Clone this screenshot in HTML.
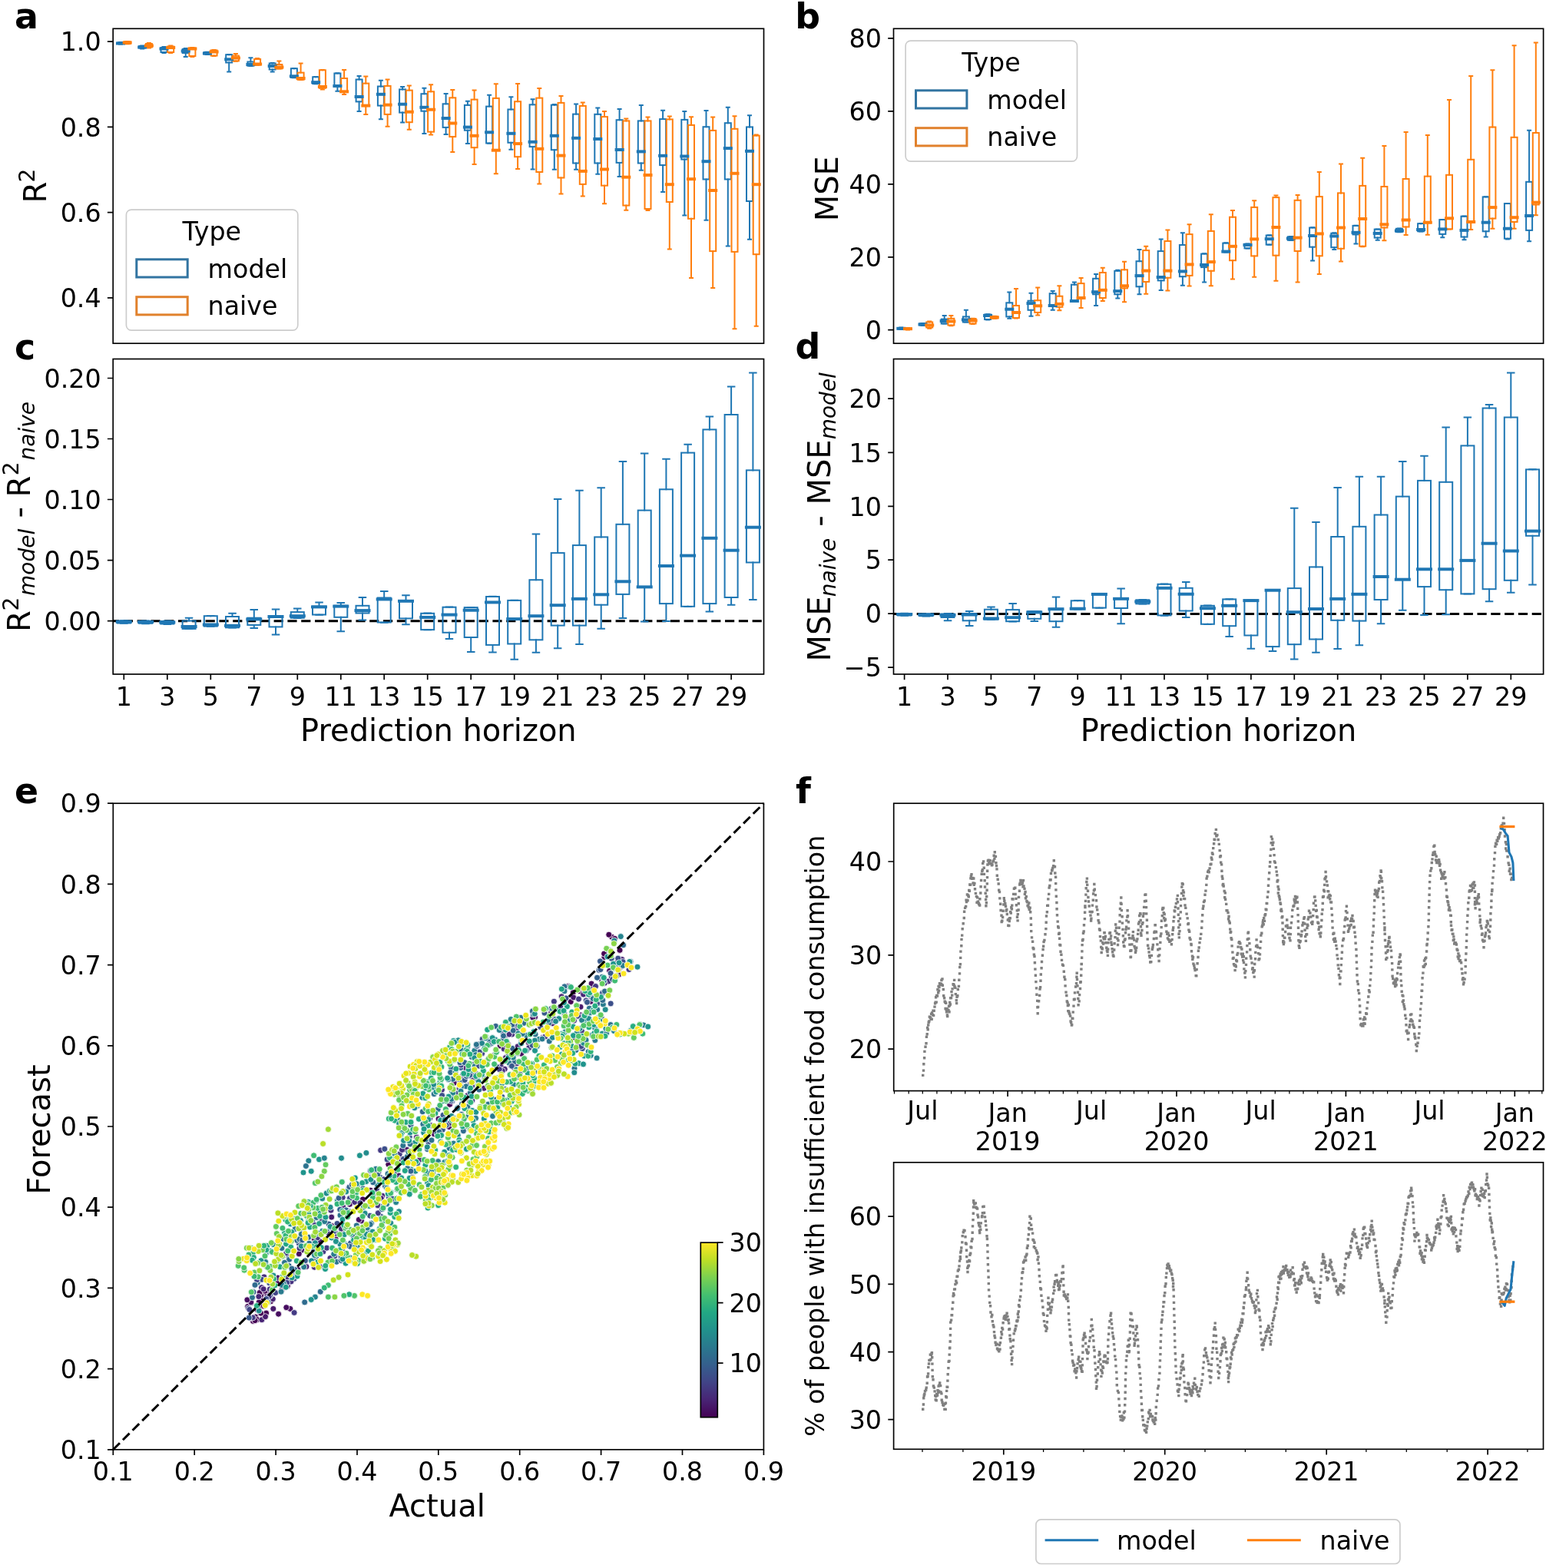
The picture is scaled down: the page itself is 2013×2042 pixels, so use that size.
<!DOCTYPE html>
<html><head><meta charset="utf-8"><title>Figure</title><style>html,body{margin:0;padding:0;background:#fff;}svg{display:block;}</style></head><body>
<svg xmlns="http://www.w3.org/2000/svg" width="2013" height="2042" viewBox="0 0 2013 2042" font-family="'DejaVu Sans', 'Liberation Sans', sans-serif">
<rect width="2013" height="2042" fill="#fff"/>
<path d="M157 55.5V55M157 57V57.5M155 55H159M155 57.5H159" stroke="#1f77b4" stroke-width="2.0" stroke-linecap="square"/>
<rect x="153" y="55.5" width="8" height="1.5" fill="none" stroke="#1f77b4" stroke-width="2.0"/>
<path d="M165.7 54.3V54M165.7 57V57.2M163.7 54H167.7M163.7 57.2H167.7" stroke="#ff7f0e" stroke-width="2.0" stroke-linecap="square"/>
<rect x="161.7" y="54.3" width="8" height="2.7" fill="none" stroke="#ff7f0e" stroke-width="2.0"/>
<path d="M185.2 60V59.5M185.2 62.5V63.5M183.2 59.5H187.2M183.2 63.5H187.2" stroke="#1f77b4" stroke-width="2.0" stroke-linecap="square"/>
<rect x="181.2" y="60" width="8" height="2.5" fill="none" stroke="#1f77b4" stroke-width="2.0"/>
<path d="M193.9 57V56M193.9 61.5V62.5M191.9 56H195.9M191.9 62.5H195.9" stroke="#ff7f0e" stroke-width="2.0" stroke-linecap="square"/>
<rect x="189.9" y="57" width="8" height="4.5" fill="none" stroke="#ff7f0e" stroke-width="2.0"/>
<path d="M213.5 62V61M213.5 68V69M211.5 61H215.5M211.5 69H215.5" stroke="#1f77b4" stroke-width="2.0" stroke-linecap="square"/>
<rect x="209.5" y="62" width="8" height="6" fill="none" stroke="#1f77b4" stroke-width="2.0"/>
<path d="M222.2 60.5V59.5M222.2 68V69M220.2 59.5H224.2M220.2 69H224.2" stroke="#ff7f0e" stroke-width="2.0" stroke-linecap="square"/>
<rect x="218.2" y="60.5" width="8" height="7.5" fill="none" stroke="#ff7f0e" stroke-width="2.0"/>
<path d="M241.7 64V63M241.7 69V74M239.7 63H243.7M239.7 74H243.7" stroke="#1f77b4" stroke-width="2.0" stroke-linecap="square"/>
<rect x="237.7" y="64" width="8" height="5" fill="none" stroke="#1f77b4" stroke-width="2.0"/>
<path d="M250.4 62.5V62M250.4 73V74M248.4 62H252.4M248.4 74H252.4" stroke="#ff7f0e" stroke-width="2.0" stroke-linecap="square"/>
<rect x="246.4" y="62.5" width="8" height="10.5" fill="none" stroke="#ff7f0e" stroke-width="2.0"/>
<path d="M269.9 68V67.8M269.9 70.5V71M267.9 67.8H271.9M267.9 71H271.9" stroke="#1f77b4" stroke-width="2.0" stroke-linecap="square"/>
<rect x="265.9" y="68" width="8" height="2.5" fill="none" stroke="#1f77b4" stroke-width="2.0"/>
<path d="M278.6 65.5V65M278.6 72.5V73M276.6 65H280.6M276.6 73H280.6" stroke="#ff7f0e" stroke-width="2.0" stroke-linecap="square"/>
<rect x="274.6" y="65.5" width="8" height="7" fill="none" stroke="#ff7f0e" stroke-width="2.0"/>
<path d="M298.2 71.2V71M298.2 81.5V93.4M296.2 71H300.2M296.2 93.4H300.2" stroke="#1f77b4" stroke-width="2.0" stroke-linecap="square"/>
<rect x="294.2" y="71.2" width="8" height="10.3" fill="none" stroke="#1f77b4" stroke-width="2.0"/>
<path d="M306.9 72.6V70M306.9 79.4V79.8M304.9 70H308.9M304.9 79.8H308.9" stroke="#ff7f0e" stroke-width="2.0" stroke-linecap="square"/>
<rect x="302.9" y="72.6" width="8" height="6.8" fill="none" stroke="#ff7f0e" stroke-width="2.0"/>
<path d="M326.4 80.5V75.2M326.4 85.7V86M324.4 75.2H328.4M324.4 86H328.4" stroke="#1f77b4" stroke-width="2.0" stroke-linecap="square"/>
<rect x="322.4" y="80.5" width="8" height="5.2" fill="none" stroke="#1f77b4" stroke-width="2.0"/>
<path d="M335.1 77V76M335.1 84.5V84.8M333.1 76H337.1M333.1 84.8H337.1" stroke="#ff7f0e" stroke-width="2.0" stroke-linecap="square"/>
<rect x="331.1" y="77" width="8" height="7.5" fill="none" stroke="#ff7f0e" stroke-width="2.0"/>
<path d="M354.7 82.5V82M354.7 90.5V93.6M352.7 82H356.7M352.7 93.6H356.7" stroke="#1f77b4" stroke-width="2.0" stroke-linecap="square"/>
<rect x="350.7" y="82.5" width="8" height="8" fill="none" stroke="#1f77b4" stroke-width="2.0"/>
<path d="M363.4 84V79.4M363.4 89.4V89.6M361.4 79.4H365.4M361.4 89.6H365.4" stroke="#ff7f0e" stroke-width="2.0" stroke-linecap="square"/>
<rect x="359.4" y="84" width="8" height="5.4" fill="none" stroke="#ff7f0e" stroke-width="2.0"/>
<path d="M382.9 89.2V88.9M382.9 101V101.2M380.9 88.9H384.9M380.9 101.2H384.9" stroke="#1f77b4" stroke-width="2.0" stroke-linecap="square"/>
<rect x="378.9" y="89.2" width="8" height="11.8" fill="none" stroke="#1f77b4" stroke-width="2.0"/>
<path d="M391.6 94.6V82.6M391.6 103.8V104M389.6 82.6H393.6M389.6 104H393.6" stroke="#ff7f0e" stroke-width="2.0" stroke-linecap="square"/>
<rect x="387.6" y="94.6" width="8" height="9.2" fill="none" stroke="#ff7f0e" stroke-width="2.0"/>
<path d="M411.2 100.2V99.9M411.2 109V109.3M409.2 99.9H413.2M409.2 109.3H413.2" stroke="#1f77b4" stroke-width="2.0" stroke-linecap="square"/>
<rect x="407.2" y="100.2" width="8" height="8.8" fill="none" stroke="#1f77b4" stroke-width="2.0"/>
<path d="M419.9 91.3V91M419.9 114.8V116.5M417.9 91H421.9M417.9 116.5H421.9" stroke="#ff7f0e" stroke-width="2.0" stroke-linecap="square"/>
<rect x="415.9" y="91.3" width="8" height="23.5" fill="none" stroke="#ff7f0e" stroke-width="2.0"/>
<path d="M439.4 95.5V95.2M439.4 113V118.8M437.4 95.2H441.4M437.4 118.8H441.4" stroke="#1f77b4" stroke-width="2.0" stroke-linecap="square"/>
<rect x="435.4" y="95.5" width="8" height="17.5" fill="none" stroke="#1f77b4" stroke-width="2.0"/>
<path d="M448.1 102V91M448.1 120V123M446.1 91H450.1M446.1 123H450.1" stroke="#ff7f0e" stroke-width="2.0" stroke-linecap="square"/>
<rect x="444.1" y="102" width="8" height="18" fill="none" stroke="#ff7f0e" stroke-width="2.0"/>
<path d="M467.6 103.5V99M467.6 132.4V145M465.6 99H469.6M465.6 145H469.6" stroke="#1f77b4" stroke-width="2.0" stroke-linecap="square"/>
<rect x="463.6" y="103.5" width="8" height="28.9" fill="none" stroke="#1f77b4" stroke-width="2.0"/>
<path d="M476.3 108.6V99.6M476.3 138V148.9M474.3 99.6H478.3M474.3 148.9H478.3" stroke="#ff7f0e" stroke-width="2.0" stroke-linecap="square"/>
<rect x="472.3" y="108.6" width="8" height="29.4" fill="none" stroke="#ff7f0e" stroke-width="2.0"/>
<path d="M495.9 112.5V104.8M495.9 137.6V155.3M493.9 104.8H497.9M493.9 155.3H497.9" stroke="#1f77b4" stroke-width="2.0" stroke-linecap="square"/>
<rect x="491.9" y="112.5" width="8" height="25.1" fill="none" stroke="#1f77b4" stroke-width="2.0"/>
<path d="M504.6 111.9V103.5M504.6 148.9V164.8M502.6 103.5H506.6M502.6 164.8H506.6" stroke="#ff7f0e" stroke-width="2.0" stroke-linecap="square"/>
<rect x="500.6" y="111.9" width="8" height="37" fill="none" stroke="#ff7f0e" stroke-width="2.0"/>
<path d="M524.1 116.4V113.1M524.1 146.6V159.4M522.1 113.1H526.1M522.1 159.4H526.1" stroke="#1f77b4" stroke-width="2.0" stroke-linecap="square"/>
<rect x="520.1" y="116.4" width="8" height="30.2" fill="none" stroke="#1f77b4" stroke-width="2.0"/>
<path d="M532.8 117.6V111.6M532.8 159.2V168.7M530.8 111.6H534.8M530.8 168.7H534.8" stroke="#ff7f0e" stroke-width="2.0" stroke-linecap="square"/>
<rect x="528.8" y="117.6" width="8" height="41.6" fill="none" stroke="#ff7f0e" stroke-width="2.0"/>
<path d="M552.4 122.2V114.7M552.4 144.7V174M550.4 114.7H554.4M550.4 174H554.4" stroke="#1f77b4" stroke-width="2.0" stroke-linecap="square"/>
<rect x="548.4" y="122.2" width="8" height="22.5" fill="none" stroke="#1f77b4" stroke-width="2.0"/>
<path d="M561.1 119.3V110.3M561.1 171.7V175.5M559.1 110.3H563.1M559.1 175.5H563.1" stroke="#ff7f0e" stroke-width="2.0" stroke-linecap="square"/>
<rect x="557.1" y="119.3" width="8" height="52.4" fill="none" stroke="#ff7f0e" stroke-width="2.0"/>
<path d="M580.6 135.3V121.9M580.6 165.9V174.9M578.6 121.9H582.6M578.6 174.9H582.6" stroke="#1f77b4" stroke-width="2.0" stroke-linecap="square"/>
<rect x="576.6" y="135.3" width="8" height="30.6" fill="none" stroke="#1f77b4" stroke-width="2.0"/>
<path d="M589.3 127.3V117M589.3 178.1V198M587.3 117H591.3M587.3 198H591.3" stroke="#ff7f0e" stroke-width="2.0" stroke-linecap="square"/>
<rect x="585.3" y="127.3" width="8" height="50.8" fill="none" stroke="#ff7f0e" stroke-width="2.0"/>
<path d="M608.9 136.9V131.8M608.9 169.7V187.1M606.9 131.8H610.9M606.9 187.1H610.9" stroke="#1f77b4" stroke-width="2.0" stroke-linecap="square"/>
<rect x="604.9" y="136.9" width="8" height="32.8" fill="none" stroke="#1f77b4" stroke-width="2.0"/>
<path d="M617.6 129.6V117.6M617.6 192.2V214.1M615.6 117.6H619.6M615.6 214.1H619.6" stroke="#ff7f0e" stroke-width="2.0" stroke-linecap="square"/>
<rect x="613.6" y="129.6" width="8" height="62.6" fill="none" stroke="#ff7f0e" stroke-width="2.0"/>
<path d="M637.1 138.6V123.7M637.1 186.5V186.8M635.1 123.7H639.1M635.1 186.8H639.1" stroke="#1f77b4" stroke-width="2.0" stroke-linecap="square"/>
<rect x="633.1" y="138.6" width="8" height="47.9" fill="none" stroke="#1f77b4" stroke-width="2.0"/>
<path d="M645.8 127.9V109.3M645.8 196V226.3M643.8 109.3H647.8M643.8 226.3H647.8" stroke="#ff7f0e" stroke-width="2.0" stroke-linecap="square"/>
<rect x="641.8" y="127.9" width="8" height="68.1" fill="none" stroke="#ff7f0e" stroke-width="2.0"/>
<path d="M665.4 142.5V126.3M665.4 185.8V194.8M663.4 126.3H667.4M663.4 194.8H667.4" stroke="#1f77b4" stroke-width="2.0" stroke-linecap="square"/>
<rect x="661.4" y="142.5" width="8" height="43.3" fill="none" stroke="#1f77b4" stroke-width="2.0"/>
<path d="M674.1 132.2V109M674.1 204.2V220.1M672.1 109H676.1M672.1 220.1H676.1" stroke="#ff7f0e" stroke-width="2.0" stroke-linecap="square"/>
<rect x="670.1" y="132.2" width="8" height="72" fill="none" stroke="#ff7f0e" stroke-width="2.0"/>
<path d="M693.6 136.3V129.2M693.6 191.1V220.5M691.6 129.2H695.6M691.6 220.5H695.6" stroke="#1f77b4" stroke-width="2.0" stroke-linecap="square"/>
<rect x="689.6" y="136.3" width="8" height="54.8" fill="none" stroke="#1f77b4" stroke-width="2.0"/>
<path d="M702.3 127.6V114.9M702.3 224V239.5M700.3 114.9H704.3M700.3 239.5H704.3" stroke="#ff7f0e" stroke-width="2.0" stroke-linecap="square"/>
<rect x="698.3" y="127.6" width="8" height="96.4" fill="none" stroke="#ff7f0e" stroke-width="2.0"/>
<path d="M721.8 136.7V136.1M721.8 195.2V220.8M719.8 136.1H723.8M719.8 220.8H723.8" stroke="#1f77b4" stroke-width="2.0" stroke-linecap="square"/>
<rect x="717.8" y="136.7" width="8" height="58.5" fill="none" stroke="#1f77b4" stroke-width="2.0"/>
<path d="M730.5 133.9V125M730.5 231.5V252.4M728.5 125H732.5M728.5 252.4H732.5" stroke="#ff7f0e" stroke-width="2.0" stroke-linecap="square"/>
<rect x="726.5" y="133.9" width="8" height="97.6" fill="none" stroke="#ff7f0e" stroke-width="2.0"/>
<path d="M750.1 148.6V135.5M750.1 212.5V220.8M748.1 135.5H752.1M748.1 220.8H752.1" stroke="#1f77b4" stroke-width="2.0" stroke-linecap="square"/>
<rect x="746.1" y="148.6" width="8" height="63.9" fill="none" stroke="#1f77b4" stroke-width="2.0"/>
<path d="M758.8 137.9V133.6M758.8 239.9V255.4M756.8 133.6H760.8M756.8 255.4H760.8" stroke="#ff7f0e" stroke-width="2.0" stroke-linecap="square"/>
<rect x="754.8" y="137.9" width="8" height="102" fill="none" stroke="#ff7f0e" stroke-width="2.0"/>
<path d="M778.3 148.8V140.5M778.3 212.5V226.8M776.3 140.5H780.3M776.3 226.8H780.3" stroke="#1f77b4" stroke-width="2.0" stroke-linecap="square"/>
<rect x="774.3" y="148.8" width="8" height="63.7" fill="none" stroke="#1f77b4" stroke-width="2.0"/>
<path d="M787 152.1V145M787 241.7V265.2M785 145H789M785 265.2H789" stroke="#ff7f0e" stroke-width="2.0" stroke-linecap="square"/>
<rect x="783" y="152.1" width="8" height="89.6" fill="none" stroke="#ff7f0e" stroke-width="2.0"/>
<path d="M806.6 156.2V141.9M806.6 211.9V230M804.6 141.9H808.6M804.6 230H808.6" stroke="#1f77b4" stroke-width="2.0" stroke-linecap="square"/>
<rect x="802.6" y="156.2" width="8" height="55.7" fill="none" stroke="#1f77b4" stroke-width="2.0"/>
<path d="M815.3 157.4V154.5M815.3 267.6V273.8M813.3 154.5H817.3M813.3 273.8H817.3" stroke="#ff7f0e" stroke-width="2.0" stroke-linecap="square"/>
<rect x="811.3" y="157.4" width="8" height="110.2" fill="none" stroke="#ff7f0e" stroke-width="2.0"/>
<path d="M834.8 157.4V136.9M834.8 212.5V221.7M832.8 136.9H836.8M832.8 221.7H836.8" stroke="#1f77b4" stroke-width="2.0" stroke-linecap="square"/>
<rect x="830.8" y="157.4" width="8" height="55.1" fill="none" stroke="#1f77b4" stroke-width="2.0"/>
<path d="M843.5 157.4V152.6M843.5 272V274M841.5 152.6H845.5M841.5 274H845.5" stroke="#ff7f0e" stroke-width="2.0" stroke-linecap="square"/>
<rect x="839.5" y="157.4" width="8" height="114.6" fill="none" stroke="#ff7f0e" stroke-width="2.0"/>
<path d="M863.1 155.1V143.7M863.1 215.1V250.1M861.1 143.7H865.1M861.1 250.1H865.1" stroke="#1f77b4" stroke-width="2.0" stroke-linecap="square"/>
<rect x="859.1" y="155.1" width="8" height="60" fill="none" stroke="#1f77b4" stroke-width="2.0"/>
<path d="M871.8 155.4V151.5M871.8 263V324.6M869.8 151.5H873.8M869.8 324.6H873.8" stroke="#ff7f0e" stroke-width="2.0" stroke-linecap="square"/>
<rect x="867.8" y="155.4" width="8" height="107.6" fill="none" stroke="#ff7f0e" stroke-width="2.0"/>
<path d="M891.3 155.9V145M891.3 207.6V280.6M889.3 145H893.3M889.3 280.6H893.3" stroke="#1f77b4" stroke-width="2.0" stroke-linecap="square"/>
<rect x="887.3" y="155.9" width="8" height="51.7" fill="none" stroke="#1f77b4" stroke-width="2.0"/>
<path d="M900 162.9V152.3M900 284.8V361.9M898 152.3H902M898 361.9H902" stroke="#ff7f0e" stroke-width="2.0" stroke-linecap="square"/>
<rect x="896" y="162.9" width="8" height="121.9" fill="none" stroke="#ff7f0e" stroke-width="2.0"/>
<path d="M919.5 165.2V144M919.5 233.5V286.8M917.5 144H921.5M917.5 286.8H921.5" stroke="#1f77b4" stroke-width="2.0" stroke-linecap="square"/>
<rect x="915.5" y="165.2" width="8" height="68.3" fill="none" stroke="#1f77b4" stroke-width="2.0"/>
<path d="M928.2 169.9V152.6M928.2 327.1V375.1M926.2 152.6H930.2M926.2 375.1H930.2" stroke="#ff7f0e" stroke-width="2.0" stroke-linecap="square"/>
<rect x="924.2" y="169.9" width="8" height="157.2" fill="none" stroke="#ff7f0e" stroke-width="2.0"/>
<path d="M947.8 160.2V139.8M947.8 233.5V320.5M945.8 139.8H949.8M945.8 320.5H949.8" stroke="#1f77b4" stroke-width="2.0" stroke-linecap="square"/>
<rect x="943.8" y="160.2" width="8" height="73.3" fill="none" stroke="#1f77b4" stroke-width="2.0"/>
<path d="M956.5 167.8V151.2M956.5 327.9V428.2M954.5 151.2H958.5M954.5 428.2H958.5" stroke="#ff7f0e" stroke-width="2.0" stroke-linecap="square"/>
<rect x="952.5" y="167.8" width="8" height="160.1" fill="none" stroke="#ff7f0e" stroke-width="2.0"/>
<path d="M976 165.4V150.2M976 262V311.7M974 150.2H978M974 311.7H978" stroke="#1f77b4" stroke-width="2.0" stroke-linecap="square"/>
<rect x="972" y="165.4" width="8" height="96.6" fill="none" stroke="#1f77b4" stroke-width="2.0"/>
<path d="M984.7 176.6V175.5M984.7 331.2V424.8M982.7 175.5H986.7M982.7 424.8H986.7" stroke="#ff7f0e" stroke-width="2.0" stroke-linecap="square"/>
<rect x="980.7" y="176.6" width="8" height="154.6" fill="none" stroke="#ff7f0e" stroke-width="2.0"/>
<path d="M153 56.5H161" stroke="#1f77b4" stroke-width="4.0" stroke-linecap="square"/>
<path d="M161.7 55.5H169.7" stroke="#ff7f0e" stroke-width="4.0" stroke-linecap="square"/>
<path d="M181.2 61.5H189.2" stroke="#1f77b4" stroke-width="4.0" stroke-linecap="square"/>
<path d="M189.9 59.5H197.9" stroke="#ff7f0e" stroke-width="4.0" stroke-linecap="square"/>
<path d="M209.5 63.5H217.5" stroke="#1f77b4" stroke-width="4.0" stroke-linecap="square"/>
<path d="M218.2 62H226.2" stroke="#ff7f0e" stroke-width="4.0" stroke-linecap="square"/>
<path d="M237.7 66.5H245.7" stroke="#1f77b4" stroke-width="4.0" stroke-linecap="square"/>
<path d="M246.4 63.5H254.4" stroke="#ff7f0e" stroke-width="4.0" stroke-linecap="square"/>
<path d="M265.9 69.5H273.9" stroke="#1f77b4" stroke-width="4.0" stroke-linecap="square"/>
<path d="M274.6 67.5H282.6" stroke="#ff7f0e" stroke-width="4.0" stroke-linecap="square"/>
<path d="M294.2 77.3H302.2" stroke="#1f77b4" stroke-width="4.0" stroke-linecap="square"/>
<path d="M302.9 75.5H310.9" stroke="#ff7f0e" stroke-width="4.0" stroke-linecap="square"/>
<path d="M322.4 84H330.4" stroke="#1f77b4" stroke-width="4.0" stroke-linecap="square"/>
<path d="M331.1 83.5H339.1" stroke="#ff7f0e" stroke-width="4.0" stroke-linecap="square"/>
<path d="M350.7 86H358.7" stroke="#1f77b4" stroke-width="4.0" stroke-linecap="square"/>
<path d="M359.4 87.5H367.4" stroke="#ff7f0e" stroke-width="4.0" stroke-linecap="square"/>
<path d="M378.9 99.3H386.9" stroke="#1f77b4" stroke-width="4.0" stroke-linecap="square"/>
<path d="M387.6 102H395.6" stroke="#ff7f0e" stroke-width="4.0" stroke-linecap="square"/>
<path d="M407.2 107.2H415.2" stroke="#1f77b4" stroke-width="4.0" stroke-linecap="square"/>
<path d="M415.9 113H423.9" stroke="#ff7f0e" stroke-width="4.0" stroke-linecap="square"/>
<path d="M435.4 112H443.4" stroke="#1f77b4" stroke-width="4.0" stroke-linecap="square"/>
<path d="M444.1 119.3H452.1" stroke="#ff7f0e" stroke-width="4.0" stroke-linecap="square"/>
<path d="M463.6 126H471.6" stroke="#1f77b4" stroke-width="4.0" stroke-linecap="square"/>
<path d="M472.3 137.6H480.3" stroke="#ff7f0e" stroke-width="4.0" stroke-linecap="square"/>
<path d="M491.9 122.8H499.9" stroke="#1f77b4" stroke-width="4.0" stroke-linecap="square"/>
<path d="M500.6 136.6H508.6" stroke="#ff7f0e" stroke-width="4.0" stroke-linecap="square"/>
<path d="M520.1 135.7H528.1" stroke="#1f77b4" stroke-width="4.0" stroke-linecap="square"/>
<path d="M528.8 145.7H536.8" stroke="#ff7f0e" stroke-width="4.0" stroke-linecap="square"/>
<path d="M548.4 139.8H556.4" stroke="#1f77b4" stroke-width="4.0" stroke-linecap="square"/>
<path d="M557.1 142.7H565.1" stroke="#ff7f0e" stroke-width="4.0" stroke-linecap="square"/>
<path d="M576.6 154H584.6" stroke="#1f77b4" stroke-width="4.0" stroke-linecap="square"/>
<path d="M585.3 160.5H593.3" stroke="#ff7f0e" stroke-width="4.0" stroke-linecap="square"/>
<path d="M604.9 165.6H612.9" stroke="#1f77b4" stroke-width="4.0" stroke-linecap="square"/>
<path d="M613.6 176.8H621.6" stroke="#ff7f0e" stroke-width="4.0" stroke-linecap="square"/>
<path d="M633.1 172.3H641.1" stroke="#1f77b4" stroke-width="4.0" stroke-linecap="square"/>
<path d="M641.8 195.7H649.8" stroke="#ff7f0e" stroke-width="4.0" stroke-linecap="square"/>
<path d="M661.4 173.8H669.4" stroke="#1f77b4" stroke-width="4.0" stroke-linecap="square"/>
<path d="M670.1 187.1H678.1" stroke="#ff7f0e" stroke-width="4.0" stroke-linecap="square"/>
<path d="M689.6 184.8H697.6" stroke="#1f77b4" stroke-width="4.0" stroke-linecap="square"/>
<path d="M698.3 193.8H706.3" stroke="#ff7f0e" stroke-width="4.0" stroke-linecap="square"/>
<path d="M717.8 176.8H725.8" stroke="#1f77b4" stroke-width="4.0" stroke-linecap="square"/>
<path d="M726.5 202.6H734.5" stroke="#ff7f0e" stroke-width="4.0" stroke-linecap="square"/>
<path d="M746.1 179.8H754.1" stroke="#1f77b4" stroke-width="4.0" stroke-linecap="square"/>
<path d="M754.8 222.9H762.8" stroke="#ff7f0e" stroke-width="4.0" stroke-linecap="square"/>
<path d="M774.3 181H782.3" stroke="#1f77b4" stroke-width="4.0" stroke-linecap="square"/>
<path d="M783 220.5H791" stroke="#ff7f0e" stroke-width="4.0" stroke-linecap="square"/>
<path d="M802.6 195H810.6" stroke="#1f77b4" stroke-width="4.0" stroke-linecap="square"/>
<path d="M811.3 230.7H819.3" stroke="#ff7f0e" stroke-width="4.0" stroke-linecap="square"/>
<path d="M830.8 197.4H838.8" stroke="#1f77b4" stroke-width="4.0" stroke-linecap="square"/>
<path d="M839.5 228H847.5" stroke="#ff7f0e" stroke-width="4.0" stroke-linecap="square"/>
<path d="M859.1 202.8H867.1" stroke="#1f77b4" stroke-width="4.0" stroke-linecap="square"/>
<path d="M867.8 240.2H875.8" stroke="#ff7f0e" stroke-width="4.0" stroke-linecap="square"/>
<path d="M887.3 203.5H895.3" stroke="#1f77b4" stroke-width="4.0" stroke-linecap="square"/>
<path d="M896 233.2H904" stroke="#ff7f0e" stroke-width="4.0" stroke-linecap="square"/>
<path d="M915.5 210.2H923.5" stroke="#1f77b4" stroke-width="4.0" stroke-linecap="square"/>
<path d="M924.2 248H932.2" stroke="#ff7f0e" stroke-width="4.0" stroke-linecap="square"/>
<path d="M943.8 193.1H951.8" stroke="#1f77b4" stroke-width="4.0" stroke-linecap="square"/>
<path d="M952.5 225.8H960.5" stroke="#ff7f0e" stroke-width="4.0" stroke-linecap="square"/>
<path d="M972 196.8H980" stroke="#1f77b4" stroke-width="4.0" stroke-linecap="square"/>
<path d="M980.7 240.2H988.7" stroke="#ff7f0e" stroke-width="4.0" stroke-linecap="square"/>
<rect x="164.4" y="273.1" width="223.4" height="157.1" rx="6.6" fill="#fff" fill-opacity="0.8" stroke="#ccc" stroke-width="1.67"/>
<text x="275.8" y="312.5" font-size="33.3" text-anchor="middle">Type</text>
<rect x="177.8" y="337.8" width="66.4" height="23.2" fill="none" stroke="#3274a1" stroke-width="3"/>
<rect x="177.8" y="386.7" width="66.4" height="23.2" fill="none" stroke="#e1812c" stroke-width="3"/>
<text x="270.6" y="361.7" font-size="33.3" text-anchor="start">model</text>
<text x="270.6" y="410.3" font-size="33.3" text-anchor="start">naive</text>
<rect x="147.2" y="37.3" width="847.3" height="409.9" fill="none" stroke="#000" stroke-width="1.67" stroke-linejoin="miter"/>
<path d="M147.2 54.1h-7.3M147.2 165.4h-7.3M147.2 276.7h-7.3M147.2 387.9h-7.3" stroke="#000" stroke-width="1.67"/>
<text x="131.6" y="66.3" font-size="33.3" text-anchor="end">1.0</text>
<text x="131.6" y="177.6" font-size="33.3" text-anchor="end">0.8</text>
<text x="131.6" y="288.9" font-size="33.3" text-anchor="end">0.6</text>
<text x="131.6" y="400.1" font-size="33.3" text-anchor="end">0.4</text>
<path d="M1173.3 427V426.5M1173.3 428.5V429M1171.3 426.5H1175.3M1171.3 429H1175.3" stroke="#1f77b4" stroke-width="2.0" stroke-linecap="square"/>
<rect x="1169.3" y="427" width="8" height="1.5" fill="none" stroke="#1f77b4" stroke-width="2.0"/>
<path d="M1182 427.5V427M1182 429V429.5M1180 427H1184M1180 429.5H1184" stroke="#ff7f0e" stroke-width="2.0" stroke-linecap="square"/>
<rect x="1178" y="427.5" width="8" height="1.5" fill="none" stroke="#ff7f0e" stroke-width="2.0"/>
<path d="M1201.5 421.3V421M1201.5 423.5V424M1199.5 421H1203.5M1199.5 424H1203.5" stroke="#1f77b4" stroke-width="2.0" stroke-linecap="square"/>
<rect x="1197.5" y="421.3" width="8" height="2.2" fill="none" stroke="#1f77b4" stroke-width="2.0"/>
<path d="M1210.2 419.5V418.5M1210.2 426.5V427.8M1208.2 418.5H1212.2M1208.2 427.8H1212.2" stroke="#ff7f0e" stroke-width="2.0" stroke-linecap="square"/>
<rect x="1206.2" y="419.5" width="8" height="7" fill="none" stroke="#ff7f0e" stroke-width="2.0"/>
<path d="M1229.7 415.6V410.9M1229.7 421.5V421.6M1227.7 410.9H1231.7M1227.7 421.6H1231.7" stroke="#1f77b4" stroke-width="2.0" stroke-linecap="square"/>
<rect x="1225.7" y="415.6" width="8" height="5.9" fill="none" stroke="#1f77b4" stroke-width="2.0"/>
<path d="M1238.4 414.8V410.9M1238.4 423.5V424.3M1236.4 410.9H1240.4M1236.4 424.3H1240.4" stroke="#ff7f0e" stroke-width="2.0" stroke-linecap="square"/>
<rect x="1234.4" y="414.8" width="8" height="8.7" fill="none" stroke="#ff7f0e" stroke-width="2.0"/>
<path d="M1257.9 412.4V403.8M1257.9 419.5V419.6M1255.9 403.8H1259.9M1255.9 419.6H1259.9" stroke="#1f77b4" stroke-width="2.0" stroke-linecap="square"/>
<rect x="1253.9" y="412.4" width="8" height="7.1" fill="none" stroke="#1f77b4" stroke-width="2.0"/>
<path d="M1266.6 415V414.8M1266.6 421.5V421.9M1264.6 414.8H1268.6M1264.6 421.9H1268.6" stroke="#ff7f0e" stroke-width="2.0" stroke-linecap="square"/>
<rect x="1262.6" y="415" width="8" height="6.5" fill="none" stroke="#ff7f0e" stroke-width="2.0"/>
<path d="M1286.1 409.5V409.3M1286.1 416V416.4M1284.1 409.3H1288.1M1284.1 416.4H1288.1" stroke="#1f77b4" stroke-width="2.0" stroke-linecap="square"/>
<rect x="1282.1" y="409.5" width="8" height="6.5" fill="none" stroke="#1f77b4" stroke-width="2.0"/>
<path d="M1294.8 412V411.7M1294.8 414.5V414.8M1292.8 411.7H1296.8M1292.8 414.8H1296.8" stroke="#ff7f0e" stroke-width="2.0" stroke-linecap="square"/>
<rect x="1290.8" y="412" width="8" height="2.5" fill="none" stroke="#ff7f0e" stroke-width="2.0"/>
<path d="M1314.3 394.3V380.6M1314.3 412.4V414.8M1312.3 380.6H1316.3M1312.3 414.8H1316.3" stroke="#1f77b4" stroke-width="2.0" stroke-linecap="square"/>
<rect x="1310.3" y="394.3" width="8" height="18.1" fill="none" stroke="#1f77b4" stroke-width="2.0"/>
<path d="M1323 398V375.9M1323 414V414.5M1321 375.9H1325M1321 414.5H1325" stroke="#ff7f0e" stroke-width="2.0" stroke-linecap="square"/>
<rect x="1319" y="398" width="8" height="16" fill="none" stroke="#ff7f0e" stroke-width="2.0"/>
<path d="M1342.5 391.7V381.7M1342.5 403.8V411.7M1340.5 381.7H1344.5M1340.5 411.7H1344.5" stroke="#1f77b4" stroke-width="2.0" stroke-linecap="square"/>
<rect x="1338.5" y="391.7" width="8" height="12.1" fill="none" stroke="#1f77b4" stroke-width="2.0"/>
<path d="M1351.2 391.2V374.6M1351.2 406.9V410.6M1349.2 374.6H1353.2M1349.2 410.6H1353.2" stroke="#ff7f0e" stroke-width="2.0" stroke-linecap="square"/>
<rect x="1347.2" y="391.2" width="8" height="15.7" fill="none" stroke="#ff7f0e" stroke-width="2.0"/>
<path d="M1370.7 382.2V379M1370.7 398.6V403.8M1368.7 379H1372.7M1368.7 403.8H1372.7" stroke="#1f77b4" stroke-width="2.0" stroke-linecap="square"/>
<rect x="1366.7" y="382.2" width="8" height="16.4" fill="none" stroke="#1f77b4" stroke-width="2.0"/>
<path d="M1379.4 385.7V372.3M1379.4 399.8V404.3M1377.4 372.3H1381.4M1377.4 404.3H1381.4" stroke="#ff7f0e" stroke-width="2.0" stroke-linecap="square"/>
<rect x="1375.4" y="385.7" width="8" height="14.1" fill="none" stroke="#ff7f0e" stroke-width="2.0"/>
<path d="M1398.9 370.7V367.6M1398.9 392.8V393M1396.9 367.6H1400.9M1396.9 393H1400.9" stroke="#1f77b4" stroke-width="2.0" stroke-linecap="square"/>
<rect x="1394.9" y="370.7" width="8" height="22.1" fill="none" stroke="#1f77b4" stroke-width="2.0"/>
<path d="M1407.6 369.1V362M1407.6 388.8V401.1M1405.6 362H1409.6M1405.6 401.1H1409.6" stroke="#ff7f0e" stroke-width="2.0" stroke-linecap="square"/>
<rect x="1403.6" y="369.1" width="8" height="19.7" fill="none" stroke="#ff7f0e" stroke-width="2.0"/>
<path d="M1427.1 362.8V357M1427.1 383.3V398M1425.1 357H1429.1M1425.1 398H1429.1" stroke="#1f77b4" stroke-width="2.0" stroke-linecap="square"/>
<rect x="1423.1" y="362.8" width="8" height="20.5" fill="none" stroke="#1f77b4" stroke-width="2.0"/>
<path d="M1435.8 355V348.7M1435.8 388V392M1433.8 348.7H1437.8M1433.8 392H1437.8" stroke="#ff7f0e" stroke-width="2.0" stroke-linecap="square"/>
<rect x="1431.8" y="355" width="8" height="33" fill="none" stroke="#ff7f0e" stroke-width="2.0"/>
<path d="M1455.3 352.8V351.8M1455.3 383.3V388.5M1453.3 351.8H1457.3M1453.3 388.5H1457.3" stroke="#1f77b4" stroke-width="2.0" stroke-linecap="square"/>
<rect x="1451.3" y="352.8" width="8" height="30.5" fill="none" stroke="#1f77b4" stroke-width="2.0"/>
<path d="M1464 351.3V340.8M1464 375.4V393.3M1462 340.8H1466M1462 393.3H1466" stroke="#ff7f0e" stroke-width="2.0" stroke-linecap="square"/>
<rect x="1460" y="351.3" width="8" height="24.1" fill="none" stroke="#ff7f0e" stroke-width="2.0"/>
<path d="M1483.5 340.2V325M1483.5 373.3V383.3M1481.5 325H1485.5M1481.5 383.3H1485.5" stroke="#1f77b4" stroke-width="2.0" stroke-linecap="square"/>
<rect x="1479.5" y="340.2" width="8" height="33.1" fill="none" stroke="#1f77b4" stroke-width="2.0"/>
<path d="M1492.2 326.1V320.8M1492.2 367V382.8M1490.2 320.8H1494.2M1490.2 382.8H1494.2" stroke="#ff7f0e" stroke-width="2.0" stroke-linecap="square"/>
<rect x="1488.2" y="326.1" width="8" height="40.9" fill="none" stroke="#ff7f0e" stroke-width="2.0"/>
<path d="M1511.7 327.1V311.4M1511.7 365.4V378M1509.7 311.4H1513.7M1509.7 378H1513.7" stroke="#1f77b4" stroke-width="2.0" stroke-linecap="square"/>
<rect x="1507.7" y="327.1" width="8" height="38.3" fill="none" stroke="#1f77b4" stroke-width="2.0"/>
<path d="M1520.4 314V299.5M1520.4 361.8V378.6M1518.4 299.5H1522.4M1518.4 378.6H1522.4" stroke="#ff7f0e" stroke-width="2.0" stroke-linecap="square"/>
<rect x="1516.4" y="314" width="8" height="47.8" fill="none" stroke="#ff7f0e" stroke-width="2.0"/>
<path d="M1539.9 319V303.3M1539.9 360.2V371.7M1537.9 303.3H1541.9M1537.9 371.7H1541.9" stroke="#1f77b4" stroke-width="2.0" stroke-linecap="square"/>
<rect x="1535.9" y="319" width="8" height="41.2" fill="none" stroke="#1f77b4" stroke-width="2.0"/>
<path d="M1548.6 305.1V292.2M1548.6 358.9V372.6M1546.6 292.2H1550.6M1546.6 372.6H1550.6" stroke="#ff7f0e" stroke-width="2.0" stroke-linecap="square"/>
<rect x="1544.6" y="305.1" width="8" height="53.8" fill="none" stroke="#ff7f0e" stroke-width="2.0"/>
<path d="M1568.1 330.6V330.3M1568.1 348.1V367.5M1566.1 330.3H1570.1M1566.1 367.5H1570.1" stroke="#1f77b4" stroke-width="2.0" stroke-linecap="square"/>
<rect x="1564.1" y="330.6" width="8" height="17.5" fill="none" stroke="#1f77b4" stroke-width="2.0"/>
<path d="M1576.8 300.9V279.3M1576.8 352.8V372.3M1574.8 279.3H1578.8M1574.8 372.3H1578.8" stroke="#ff7f0e" stroke-width="2.0" stroke-linecap="square"/>
<rect x="1572.8" y="300.9" width="8" height="51.9" fill="none" stroke="#ff7f0e" stroke-width="2.0"/>
<path d="M1596.3 316.6V316.3M1596.3 328.2V328.5M1594.3 316.3H1598.3M1594.3 328.5H1598.3" stroke="#1f77b4" stroke-width="2.0" stroke-linecap="square"/>
<rect x="1592.3" y="316.6" width="8" height="11.6" fill="none" stroke="#1f77b4" stroke-width="2.0"/>
<path d="M1605 282.7V273.9M1605 339.2V363.5M1603 273.9H1607M1603 363.5H1607" stroke="#ff7f0e" stroke-width="2.0" stroke-linecap="square"/>
<rect x="1601" y="282.7" width="8" height="56.5" fill="none" stroke="#ff7f0e" stroke-width="2.0"/>
<path d="M1624.5 317.7V317.5M1624.5 323.4V323.6M1622.5 317.5H1626.5M1622.5 323.6H1626.5" stroke="#1f77b4" stroke-width="2.0" stroke-linecap="square"/>
<rect x="1620.5" y="317.7" width="8" height="5.7" fill="none" stroke="#1f77b4" stroke-width="2.0"/>
<path d="M1633.2 269.9V261.3M1633.2 333.4V360.7M1631.2 261.3H1635.2M1631.2 360.7H1635.2" stroke="#ff7f0e" stroke-width="2.0" stroke-linecap="square"/>
<rect x="1629.2" y="269.9" width="8" height="63.5" fill="none" stroke="#ff7f0e" stroke-width="2.0"/>
<path d="M1652.7 306.5V306.3M1652.7 318.6V318.8M1650.7 306.3H1654.7M1650.7 318.8H1654.7" stroke="#1f77b4" stroke-width="2.0" stroke-linecap="square"/>
<rect x="1648.7" y="306.5" width="8" height="12.1" fill="none" stroke="#1f77b4" stroke-width="2.0"/>
<path d="M1661.4 257.1V254.5M1661.4 332.7V365.8M1659.4 254.5H1663.4M1659.4 365.8H1663.4" stroke="#ff7f0e" stroke-width="2.0" stroke-linecap="square"/>
<rect x="1657.4" y="257.1" width="8" height="75.6" fill="none" stroke="#ff7f0e" stroke-width="2.0"/>
<path d="M1680.9 308.3V308M1680.9 312.8V313M1678.9 308H1682.9M1678.9 313H1682.9" stroke="#1f77b4" stroke-width="2.0" stroke-linecap="square"/>
<rect x="1676.9" y="308.3" width="8" height="4.5" fill="none" stroke="#1f77b4" stroke-width="2.0"/>
<path d="M1689.6 260.8V254M1689.6 327V367.4M1687.6 254H1691.6M1687.6 367.4H1691.6" stroke="#ff7f0e" stroke-width="2.0" stroke-linecap="square"/>
<rect x="1685.6" y="260.8" width="8" height="66.2" fill="none" stroke="#ff7f0e" stroke-width="2.0"/>
<path d="M1709.1 296.5V296.3M1709.1 321.7V339.6M1707.1 296.3H1711.1M1707.1 339.6H1711.1" stroke="#1f77b4" stroke-width="2.0" stroke-linecap="square"/>
<rect x="1705.1" y="296.5" width="8" height="25.2" fill="none" stroke="#1f77b4" stroke-width="2.0"/>
<path d="M1717.8 256.1V224.1M1717.8 333.3V356.9M1715.8 224.1H1719.8M1715.8 356.9H1719.8" stroke="#ff7f0e" stroke-width="2.0" stroke-linecap="square"/>
<rect x="1713.8" y="256.1" width="8" height="77.2" fill="none" stroke="#ff7f0e" stroke-width="2.0"/>
<path d="M1737.3 303.8V303.3M1737.3 322.2V324.9M1735.3 303.3H1739.3M1735.3 324.9H1739.3" stroke="#1f77b4" stroke-width="2.0" stroke-linecap="square"/>
<rect x="1733.3" y="303.8" width="8" height="18.4" fill="none" stroke="#1f77b4" stroke-width="2.0"/>
<path d="M1746 251.4V213.6M1746 323.8V340.6M1744 213.6H1748M1744 340.6H1748" stroke="#ff7f0e" stroke-width="2.0" stroke-linecap="square"/>
<rect x="1742" y="251.4" width="8" height="72.4" fill="none" stroke="#ff7f0e" stroke-width="2.0"/>
<path d="M1765.5 293.9V293.7M1765.5 305.4V317.5M1763.5 293.7H1767.5M1763.5 317.5H1767.5" stroke="#1f77b4" stroke-width="2.0" stroke-linecap="square"/>
<rect x="1761.5" y="293.9" width="8" height="11.5" fill="none" stroke="#1f77b4" stroke-width="2.0"/>
<path d="M1774.2 241.9V205.7M1774.2 320.7V321.2M1772.2 205.7H1776.2M1772.2 321.2H1776.2" stroke="#ff7f0e" stroke-width="2.0" stroke-linecap="square"/>
<rect x="1770.2" y="241.9" width="8" height="78.8" fill="none" stroke="#ff7f0e" stroke-width="2.0"/>
<path d="M1793.7 298.6V298.4M1793.7 309.6V312.8M1791.7 298.4H1795.7M1791.7 312.8H1795.7" stroke="#1f77b4" stroke-width="2.0" stroke-linecap="square"/>
<rect x="1789.7" y="298.6" width="8" height="11" fill="none" stroke="#1f77b4" stroke-width="2.0"/>
<path d="M1802.4 243V190M1802.4 296.5V313.3M1800.4 190H1804.4M1800.4 313.3H1804.4" stroke="#ff7f0e" stroke-width="2.0" stroke-linecap="square"/>
<rect x="1798.4" y="243" width="8" height="53.5" fill="none" stroke="#ff7f0e" stroke-width="2.0"/>
<path d="M1821.9 297.8V297.5M1821.9 302V302.3M1819.9 297.5H1823.9M1819.9 302.3H1823.9" stroke="#1f77b4" stroke-width="2.0" stroke-linecap="square"/>
<rect x="1817.9" y="297.8" width="8" height="4.2" fill="none" stroke="#1f77b4" stroke-width="2.0"/>
<path d="M1830.6 233V171.9M1830.6 295.5V306M1828.6 171.9H1832.6M1828.6 306H1832.6" stroke="#ff7f0e" stroke-width="2.0" stroke-linecap="square"/>
<rect x="1826.6" y="233" width="8" height="62.5" fill="none" stroke="#ff7f0e" stroke-width="2.0"/>
<path d="M1850.1 291.2V291M1850.1 301.3V301.5M1848.1 291H1852.1M1848.1 301.5H1852.1" stroke="#1f77b4" stroke-width="2.0" stroke-linecap="square"/>
<rect x="1846.1" y="291.2" width="8" height="10.1" fill="none" stroke="#1f77b4" stroke-width="2.0"/>
<path d="M1858.8 229.6V175.9M1858.8 290.4V305.7M1856.8 175.9H1860.8M1856.8 305.7H1860.8" stroke="#ff7f0e" stroke-width="2.0" stroke-linecap="square"/>
<rect x="1854.8" y="229.6" width="8" height="60.8" fill="none" stroke="#ff7f0e" stroke-width="2.0"/>
<path d="M1878.3 286.1V285.9M1878.3 304.9V309.3M1876.3 285.9H1880.3M1876.3 309.3H1880.3" stroke="#1f77b4" stroke-width="2.0" stroke-linecap="square"/>
<rect x="1874.3" y="286.1" width="8" height="18.8" fill="none" stroke="#1f77b4" stroke-width="2.0"/>
<path d="M1887 227.8V129.9M1887 298.4V298.6M1885 129.9H1889M1885 298.6H1889" stroke="#ff7f0e" stroke-width="2.0" stroke-linecap="square"/>
<rect x="1883" y="227.8" width="8" height="70.6" fill="none" stroke="#ff7f0e" stroke-width="2.0"/>
<path d="M1906.5 281.7V281.5M1906.5 308.6V312.2M1904.5 281.5H1908.5M1904.5 312.2H1908.5" stroke="#1f77b4" stroke-width="2.0" stroke-linecap="square"/>
<rect x="1902.5" y="281.7" width="8" height="26.9" fill="none" stroke="#1f77b4" stroke-width="2.0"/>
<path d="M1915.2 207.8V99.1M1915.2 289.5V299.1M1913.2 99.1H1917.2M1913.2 299.1H1917.2" stroke="#ff7f0e" stroke-width="2.0" stroke-linecap="square"/>
<rect x="1911.2" y="207.8" width="8" height="81.7" fill="none" stroke="#ff7f0e" stroke-width="2.0"/>
<path d="M1934.7 256.4V256.2M1934.7 301.3V308.6M1932.7 256.2H1936.7M1932.7 308.6H1936.7" stroke="#1f77b4" stroke-width="2.0" stroke-linecap="square"/>
<rect x="1930.7" y="256.4" width="8" height="44.9" fill="none" stroke="#1f77b4" stroke-width="2.0"/>
<path d="M1943.4 165.5V91.2M1943.4 284.6V297.7M1941.4 91.2H1945.4M1941.4 297.7H1945.4" stroke="#ff7f0e" stroke-width="2.0" stroke-linecap="square"/>
<rect x="1939.4" y="165.5" width="8" height="119.1" fill="none" stroke="#ff7f0e" stroke-width="2.0"/>
<path d="M1962.9 265.1V264.9M1962.9 310.7V311.4M1960.9 264.9H1964.9M1960.9 311.4H1964.9" stroke="#1f77b4" stroke-width="2.0" stroke-linecap="square"/>
<rect x="1958.9" y="265.1" width="8" height="45.6" fill="none" stroke="#1f77b4" stroke-width="2.0"/>
<path d="M1971.6 178.8V59.3M1971.6 289V297.7M1969.6 59.3H1973.6M1969.6 297.7H1973.6" stroke="#ff7f0e" stroke-width="2.0" stroke-linecap="square"/>
<rect x="1967.6" y="178.8" width="8" height="110.2" fill="none" stroke="#ff7f0e" stroke-width="2.0"/>
<path d="M1991.1 236.8V169.7M1991.1 299.9V314.3M1989.1 169.7H1993.1M1989.1 314.3H1993.1" stroke="#1f77b4" stroke-width="2.0" stroke-linecap="square"/>
<rect x="1987.1" y="236.8" width="8" height="63.1" fill="none" stroke="#1f77b4" stroke-width="2.0"/>
<path d="M1999.8 173V55.6M1999.8 266.5V280.3M1997.8 55.6H2001.8M1997.8 280.3H2001.8" stroke="#ff7f0e" stroke-width="2.0" stroke-linecap="square"/>
<rect x="1995.8" y="173" width="8" height="93.5" fill="none" stroke="#ff7f0e" stroke-width="2.0"/>
<path d="M1169.3 427.8H1177.3" stroke="#1f77b4" stroke-width="4.0" stroke-linecap="square"/>
<path d="M1178 428.2H1186" stroke="#ff7f0e" stroke-width="4.0" stroke-linecap="square"/>
<path d="M1197.5 422.5H1205.5" stroke="#1f77b4" stroke-width="4.0" stroke-linecap="square"/>
<path d="M1206.2 423.5H1214.2" stroke="#ff7f0e" stroke-width="4.0" stroke-linecap="square"/>
<path d="M1225.7 418H1233.7" stroke="#1f77b4" stroke-width="4.0" stroke-linecap="square"/>
<path d="M1234.4 418.5H1242.4" stroke="#ff7f0e" stroke-width="4.0" stroke-linecap="square"/>
<path d="M1253.9 416.4H1261.9" stroke="#1f77b4" stroke-width="4.0" stroke-linecap="square"/>
<path d="M1262.6 417.5H1270.6" stroke="#ff7f0e" stroke-width="4.0" stroke-linecap="square"/>
<path d="M1282.1 411H1290.1" stroke="#1f77b4" stroke-width="4.0" stroke-linecap="square"/>
<path d="M1290.8 413.3H1298.8" stroke="#ff7f0e" stroke-width="4.0" stroke-linecap="square"/>
<path d="M1310.3 402.7H1318.3" stroke="#1f77b4" stroke-width="4.0" stroke-linecap="square"/>
<path d="M1319 407H1327" stroke="#ff7f0e" stroke-width="4.0" stroke-linecap="square"/>
<path d="M1338.5 395.1H1346.5" stroke="#1f77b4" stroke-width="4.0" stroke-linecap="square"/>
<path d="M1347.2 398.3H1355.2" stroke="#ff7f0e" stroke-width="4.0" stroke-linecap="square"/>
<path d="M1366.7 398H1374.7" stroke="#1f77b4" stroke-width="4.0" stroke-linecap="square"/>
<path d="M1375.4 395.9H1383.4" stroke="#ff7f0e" stroke-width="4.0" stroke-linecap="square"/>
<path d="M1394.9 392H1402.9" stroke="#1f77b4" stroke-width="4.0" stroke-linecap="square"/>
<path d="M1403.6 388H1411.6" stroke="#ff7f0e" stroke-width="4.0" stroke-linecap="square"/>
<path d="M1423.1 380.2H1431.1" stroke="#1f77b4" stroke-width="4.0" stroke-linecap="square"/>
<path d="M1431.8 377.8H1439.8" stroke="#ff7f0e" stroke-width="4.0" stroke-linecap="square"/>
<path d="M1451.3 379.1H1459.3" stroke="#1f77b4" stroke-width="4.0" stroke-linecap="square"/>
<path d="M1460 372.3H1468" stroke="#ff7f0e" stroke-width="4.0" stroke-linecap="square"/>
<path d="M1479.5 359.1H1487.5" stroke="#1f77b4" stroke-width="4.0" stroke-linecap="square"/>
<path d="M1488.2 352.6H1496.2" stroke="#ff7f0e" stroke-width="4.0" stroke-linecap="square"/>
<path d="M1507.7 361H1515.7" stroke="#1f77b4" stroke-width="4.0" stroke-linecap="square"/>
<path d="M1516.4 352.6H1524.4" stroke="#ff7f0e" stroke-width="4.0" stroke-linecap="square"/>
<path d="M1535.9 353.4H1543.9" stroke="#1f77b4" stroke-width="4.0" stroke-linecap="square"/>
<path d="M1544.6 344.4H1552.6" stroke="#ff7f0e" stroke-width="4.0" stroke-linecap="square"/>
<path d="M1564.1 345H1572.1" stroke="#1f77b4" stroke-width="4.0" stroke-linecap="square"/>
<path d="M1572.8 341.1H1580.8" stroke="#ff7f0e" stroke-width="4.0" stroke-linecap="square"/>
<path d="M1592.3 327.6H1600.3" stroke="#1f77b4" stroke-width="4.0" stroke-linecap="square"/>
<path d="M1601 320.8H1609" stroke="#ff7f0e" stroke-width="4.0" stroke-linecap="square"/>
<path d="M1620.5 319H1628.5" stroke="#1f77b4" stroke-width="4.0" stroke-linecap="square"/>
<path d="M1629.2 311.4H1637.2" stroke="#ff7f0e" stroke-width="4.0" stroke-linecap="square"/>
<path d="M1648.7 311.2H1656.7" stroke="#1f77b4" stroke-width="4.0" stroke-linecap="square"/>
<path d="M1657.4 296H1665.4" stroke="#ff7f0e" stroke-width="4.0" stroke-linecap="square"/>
<path d="M1676.9 310.5H1684.9" stroke="#1f77b4" stroke-width="4.0" stroke-linecap="square"/>
<path d="M1685.6 309.6H1693.6" stroke="#ff7f0e" stroke-width="4.0" stroke-linecap="square"/>
<path d="M1705.1 307H1713.1" stroke="#1f77b4" stroke-width="4.0" stroke-linecap="square"/>
<path d="M1713.8 304.4H1721.8" stroke="#ff7f0e" stroke-width="4.0" stroke-linecap="square"/>
<path d="M1733.3 307.5H1741.3" stroke="#1f77b4" stroke-width="4.0" stroke-linecap="square"/>
<path d="M1742 296.5H1750" stroke="#ff7f0e" stroke-width="4.0" stroke-linecap="square"/>
<path d="M1761.5 302.8H1769.5" stroke="#1f77b4" stroke-width="4.0" stroke-linecap="square"/>
<path d="M1770.2 285H1778.2" stroke="#ff7f0e" stroke-width="4.0" stroke-linecap="square"/>
<path d="M1789.7 303.9H1797.7" stroke="#1f77b4" stroke-width="4.0" stroke-linecap="square"/>
<path d="M1798.4 292.3H1806.4" stroke="#ff7f0e" stroke-width="4.0" stroke-linecap="square"/>
<path d="M1817.9 300.5H1825.9" stroke="#1f77b4" stroke-width="4.0" stroke-linecap="square"/>
<path d="M1826.6 286.5H1834.6" stroke="#ff7f0e" stroke-width="4.0" stroke-linecap="square"/>
<path d="M1846.1 299H1854.1" stroke="#1f77b4" stroke-width="4.0" stroke-linecap="square"/>
<path d="M1854.8 289.7H1862.8" stroke="#ff7f0e" stroke-width="4.0" stroke-linecap="square"/>
<path d="M1874.3 298.4H1882.3" stroke="#1f77b4" stroke-width="4.0" stroke-linecap="square"/>
<path d="M1883 284.3H1891" stroke="#ff7f0e" stroke-width="4.0" stroke-linecap="square"/>
<path d="M1902.5 299.9H1910.5" stroke="#1f77b4" stroke-width="4.0" stroke-linecap="square"/>
<path d="M1911.2 289H1919.2" stroke="#ff7f0e" stroke-width="4.0" stroke-linecap="square"/>
<path d="M1930.7 289.7H1938.7" stroke="#1f77b4" stroke-width="4.0" stroke-linecap="square"/>
<path d="M1939.4 270.1H1947.4" stroke="#ff7f0e" stroke-width="4.0" stroke-linecap="square"/>
<path d="M1958.9 297.7H1966.9" stroke="#1f77b4" stroke-width="4.0" stroke-linecap="square"/>
<path d="M1967.6 283.2H1975.6" stroke="#ff7f0e" stroke-width="4.0" stroke-linecap="square"/>
<path d="M1987.1 281H1995.1" stroke="#1f77b4" stroke-width="4.0" stroke-linecap="square"/>
<path d="M1995.8 263.6H2003.8" stroke="#ff7f0e" stroke-width="4.0" stroke-linecap="square"/>
<rect x="1179.1" y="53.1" width="223.4" height="157.1" rx="6.6" fill="#fff" fill-opacity="0.8" stroke="#ccc" stroke-width="1.67"/>
<text x="1290.5" y="92.5" font-size="33.3" text-anchor="middle">Type</text>
<rect x="1192.5" y="117.8" width="66.4" height="23.2" fill="none" stroke="#3274a1" stroke-width="3"/>
<rect x="1192.5" y="166.7" width="66.4" height="23.2" fill="none" stroke="#e1812c" stroke-width="3"/>
<text x="1285.3" y="141.7" font-size="33.3" text-anchor="start">model</text>
<text x="1285.3" y="190.3" font-size="33.3" text-anchor="start">naive</text>
<rect x="1163.5" y="37.3" width="846.1" height="409.9" fill="none" stroke="#000" stroke-width="1.67" stroke-linejoin="miter"/>
<path d="M1163.5 429.7h-7.3M1163.5 334.8h-7.3M1163.5 239.9h-7.3M1163.5 144.8h-7.3M1163.5 49.9h-7.3" stroke="#000" stroke-width="1.67"/>
<text x="1147.9" y="441.9" font-size="33.3" text-anchor="end">0</text>
<text x="1147.9" y="347" font-size="33.3" text-anchor="end">20</text>
<text x="1147.9" y="252.1" font-size="33.3" text-anchor="end">40</text>
<text x="1147.9" y="157" font-size="33.3" text-anchor="end">60</text>
<text x="1147.9" y="62.1" font-size="33.3" text-anchor="end">80</text>
<path d="M147.2 808.8H994.5" stroke="#000" stroke-width="3" stroke-dasharray="12.2 5.6" stroke-dashoffset="4.2"/>
<path d="M161.3 808.6V808.3M161.3 811.5V811.8M157.1 808.3H165.6M157.1 811.8H165.6" stroke="#1f77b4" stroke-width="2.0" stroke-linecap="square"/>
<rect x="152.8" y="808.6" width="17" height="2.9" fill="none" stroke="#1f77b4" stroke-width="2.0"/>
<path d="M189.6 808.8V808.5M189.6 811.8V812.2M185.3 808.5H193.8M185.3 812.2H193.8" stroke="#1f77b4" stroke-width="2.0" stroke-linecap="square"/>
<rect x="181.1" y="808.8" width="17" height="3" fill="none" stroke="#1f77b4" stroke-width="2.0"/>
<path d="M217.8 809V808.5M217.8 812.5V813M213.6 808.5H222.1M213.6 813H222.1" stroke="#1f77b4" stroke-width="2.0" stroke-linecap="square"/>
<rect x="209.3" y="809" width="17" height="3.5" fill="none" stroke="#1f77b4" stroke-width="2.0"/>
<path d="M246.1 808.5V804.7M246.1 818.9V819M241.8 804.7H250.3M241.8 819H250.3" stroke="#1f77b4" stroke-width="2.0" stroke-linecap="square"/>
<rect x="237.6" y="808.5" width="17" height="10.4" fill="none" stroke="#1f77b4" stroke-width="2.0"/>
<path d="M274.3 802.2V802M274.3 815.6V815.8M270 802H278.5M270 815.8H278.5" stroke="#1f77b4" stroke-width="2.0" stroke-linecap="square"/>
<rect x="265.8" y="802.2" width="17" height="13.4" fill="none" stroke="#1f77b4" stroke-width="2.0"/>
<path d="M302.5 803V798.8M302.5 817.3V817.5M298.3 798.8H306.8M298.3 817.5H306.8" stroke="#1f77b4" stroke-width="2.0" stroke-linecap="square"/>
<rect x="294" y="803" width="17" height="14.3" fill="none" stroke="#1f77b4" stroke-width="2.0"/>
<path d="M330.8 804.7V794.1M330.8 813.9V818.1M326.5 794.1H335M326.5 818.1H335" stroke="#1f77b4" stroke-width="2.0" stroke-linecap="square"/>
<rect x="322.3" y="804.7" width="17" height="9.2" fill="none" stroke="#1f77b4" stroke-width="2.0"/>
<path d="M359 802.2V793.4M359 816.4V826.5M354.8 793.4H363.3M354.8 826.5H363.3" stroke="#1f77b4" stroke-width="2.0" stroke-linecap="square"/>
<rect x="350.5" y="802.2" width="17" height="14.2" fill="none" stroke="#1f77b4" stroke-width="2.0"/>
<path d="M387.3 797.1V792.4M387.3 804.7V805M383 792.4H391.5M383 805H391.5" stroke="#1f77b4" stroke-width="2.0" stroke-linecap="square"/>
<rect x="378.8" y="797.1" width="17" height="7.6" fill="none" stroke="#1f77b4" stroke-width="2.0"/>
<path d="M415.5 789.6V784.5M415.5 800.5V800.8M411.3 784.5H419.8M411.3 800.8H419.8" stroke="#1f77b4" stroke-width="2.0" stroke-linecap="square"/>
<rect x="407" y="789.6" width="17" height="10.9" fill="none" stroke="#1f77b4" stroke-width="2.0"/>
<path d="M443.8 788.7V785M443.8 803.8V822.3M439.5 785H448M439.5 822.3H448" stroke="#1f77b4" stroke-width="2.0" stroke-linecap="square"/>
<rect x="435.3" y="788.7" width="17" height="15.1" fill="none" stroke="#1f77b4" stroke-width="2.0"/>
<path d="M472 788.8V777.9M472 798.5V807.6M467.7 777.9H476.2M467.7 807.6H476.2" stroke="#1f77b4" stroke-width="2.0" stroke-linecap="square"/>
<rect x="463.5" y="788.8" width="17" height="9.7" fill="none" stroke="#1f77b4" stroke-width="2.0"/>
<path d="M500.2 778.5V770.1M500.2 810.5V810.8M496 770.1H504.5M496 810.8H504.5" stroke="#1f77b4" stroke-width="2.0" stroke-linecap="square"/>
<rect x="491.7" y="778.5" width="17" height="32" fill="none" stroke="#1f77b4" stroke-width="2.0"/>
<path d="M528.5 782.4V775.3M528.5 805.4V813.2M524.2 775.3H532.7M524.2 813.2H532.7" stroke="#1f77b4" stroke-width="2.0" stroke-linecap="square"/>
<rect x="520" y="782.4" width="17" height="23" fill="none" stroke="#1f77b4" stroke-width="2.0"/>
<path d="M556.7 798.8V798.6M556.7 820.1V820.3M552.5 798.6H561M552.5 820.3H561" stroke="#1f77b4" stroke-width="2.0" stroke-linecap="square"/>
<rect x="548.2" y="798.8" width="17" height="21.3" fill="none" stroke="#1f77b4" stroke-width="2.0"/>
<path d="M585 790.7V790.5M585 823.8V831.9M580.7 790.5H589.2M580.7 831.9H589.2" stroke="#1f77b4" stroke-width="2.0" stroke-linecap="square"/>
<rect x="576.5" y="790.7" width="17" height="33.1" fill="none" stroke="#1f77b4" stroke-width="2.0"/>
<path d="M613.2 791.1V790.9M613.2 830V849.1M609 790.9H617.5M609 849.1H617.5" stroke="#1f77b4" stroke-width="2.0" stroke-linecap="square"/>
<rect x="604.7" y="791.1" width="17" height="38.9" fill="none" stroke="#1f77b4" stroke-width="2.0"/>
<path d="M641.5 777V776.8M641.5 839.9V849.5M637.2 776.8H645.7M637.2 849.5H645.7" stroke="#1f77b4" stroke-width="2.0" stroke-linecap="square"/>
<rect x="633" y="777" width="17" height="62.9" fill="none" stroke="#1f77b4" stroke-width="2.0"/>
<path d="M669.7 781.9V781.7M669.7 838.5V858.8M665.5 781.7H674M665.5 858.8H674" stroke="#1f77b4" stroke-width="2.0" stroke-linecap="square"/>
<rect x="661.2" y="781.9" width="17" height="56.6" fill="none" stroke="#1f77b4" stroke-width="2.0"/>
<path d="M697.9 755.2V695.6M697.9 833.3V849.8M693.7 695.6H702.2M693.7 849.8H702.2" stroke="#1f77b4" stroke-width="2.0" stroke-linecap="square"/>
<rect x="689.4" y="755.2" width="17" height="78.1" fill="none" stroke="#1f77b4" stroke-width="2.0"/>
<path d="M726.2 720.1V650.1M726.2 814.6V844.3M721.9 650.1H730.4M721.9 844.3H730.4" stroke="#1f77b4" stroke-width="2.0" stroke-linecap="square"/>
<rect x="717.7" y="720.1" width="17" height="94.5" fill="none" stroke="#1f77b4" stroke-width="2.0"/>
<path d="M754.4 710.1V638.7M754.4 814.6V838.9M750.2 638.7H758.7M750.2 838.9H758.7" stroke="#1f77b4" stroke-width="2.0" stroke-linecap="square"/>
<rect x="745.9" y="710.1" width="17" height="104.5" fill="none" stroke="#1f77b4" stroke-width="2.0"/>
<path d="M782.7 699.4V635.2M782.7 787.7V818.8M778.4 635.2H786.9M778.4 818.8H786.9" stroke="#1f77b4" stroke-width="2.0" stroke-linecap="square"/>
<rect x="774.2" y="699.4" width="17" height="88.3" fill="none" stroke="#1f77b4" stroke-width="2.0"/>
<path d="M810.9 682.8V601M810.9 773.9V804.9M806.7 601H815.2M806.7 804.9H815.2" stroke="#1f77b4" stroke-width="2.0" stroke-linecap="square"/>
<rect x="802.4" y="682.8" width="17" height="91.1" fill="none" stroke="#1f77b4" stroke-width="2.0"/>
<path d="M839.2 664.6V590.5M839.2 764.8V809.5M834.9 590.5H843.4M834.9 809.5H843.4" stroke="#1f77b4" stroke-width="2.0" stroke-linecap="square"/>
<rect x="830.7" y="664.6" width="17" height="100.2" fill="none" stroke="#1f77b4" stroke-width="2.0"/>
<path d="M867.4 637.3V597.7M867.4 786.1V808.9M863.2 597.7H871.7M863.2 808.9H871.7" stroke="#1f77b4" stroke-width="2.0" stroke-linecap="square"/>
<rect x="858.9" y="637.3" width="17" height="148.8" fill="none" stroke="#1f77b4" stroke-width="2.0"/>
<path d="M895.6 589.6V578.7M895.6 789.8V790.1M891.4 578.7H899.9M891.4 790.1H899.9" stroke="#1f77b4" stroke-width="2.0" stroke-linecap="square"/>
<rect x="887.1" y="589.6" width="17" height="200.2" fill="none" stroke="#1f77b4" stroke-width="2.0"/>
<path d="M923.9 559.4V542.4M923.9 786.1V796.4M919.6 542.4H928.1M919.6 796.4H928.1" stroke="#1f77b4" stroke-width="2.0" stroke-linecap="square"/>
<rect x="915.4" y="559.4" width="17" height="226.7" fill="none" stroke="#1f77b4" stroke-width="2.0"/>
<path d="M952.1 540V503.5M952.1 778V787.7M947.9 503.5H956.4M947.9 787.7H956.4" stroke="#1f77b4" stroke-width="2.0" stroke-linecap="square"/>
<rect x="943.6" y="540" width="17" height="238" fill="none" stroke="#1f77b4" stroke-width="2.0"/>
<path d="M980.4 612.4V485.5M980.4 732.5V781.1M976.1 485.5H984.6M976.1 781.1H984.6" stroke="#1f77b4" stroke-width="2.0" stroke-linecap="square"/>
<rect x="971.9" y="612.4" width="17" height="120.1" fill="none" stroke="#1f77b4" stroke-width="2.0"/>
<path d="M152.8 809.8H169.8" stroke="#1f77b4" stroke-width="4.0" stroke-linecap="square"/>
<path d="M181.1 810H198.1" stroke="#1f77b4" stroke-width="4.0" stroke-linecap="square"/>
<path d="M209.3 810.5H226.3" stroke="#1f77b4" stroke-width="4.0" stroke-linecap="square"/>
<path d="M237.6 816H254.6" stroke="#1f77b4" stroke-width="4.0" stroke-linecap="square"/>
<path d="M265.8 813.5H282.8" stroke="#1f77b4" stroke-width="4.0" stroke-linecap="square"/>
<path d="M294 814.8H311" stroke="#1f77b4" stroke-width="4.0" stroke-linecap="square"/>
<path d="M322.3 806.4H339.3" stroke="#1f77b4" stroke-width="4.0" stroke-linecap="square"/>
<path d="M350.5 803H367.5" stroke="#1f77b4" stroke-width="4.0" stroke-linecap="square"/>
<path d="M378.8 802.2H395.8" stroke="#1f77b4" stroke-width="4.0" stroke-linecap="square"/>
<path d="M407 790.4H424" stroke="#1f77b4" stroke-width="4.0" stroke-linecap="square"/>
<path d="M435.3 789.6H452.3" stroke="#1f77b4" stroke-width="4.0" stroke-linecap="square"/>
<path d="M463.5 795.1H480.5" stroke="#1f77b4" stroke-width="4.0" stroke-linecap="square"/>
<path d="M491.7 780.4H508.7" stroke="#1f77b4" stroke-width="4.0" stroke-linecap="square"/>
<path d="M520 782.8H537" stroke="#1f77b4" stroke-width="4.0" stroke-linecap="square"/>
<path d="M548.2 803.9H565.2" stroke="#1f77b4" stroke-width="4.0" stroke-linecap="square"/>
<path d="M576.5 800.6H593.5" stroke="#1f77b4" stroke-width="4.0" stroke-linecap="square"/>
<path d="M604.7 794.7H621.7" stroke="#1f77b4" stroke-width="4.0" stroke-linecap="square"/>
<path d="M633 784.4H650" stroke="#1f77b4" stroke-width="4.0" stroke-linecap="square"/>
<path d="M661.2 806.1H678.2" stroke="#1f77b4" stroke-width="4.0" stroke-linecap="square"/>
<path d="M689.4 802.2H706.4" stroke="#1f77b4" stroke-width="4.0" stroke-linecap="square"/>
<path d="M717.7 788.2H734.7" stroke="#1f77b4" stroke-width="4.0" stroke-linecap="square"/>
<path d="M745.9 779.9H762.9" stroke="#1f77b4" stroke-width="4.0" stroke-linecap="square"/>
<path d="M774.2 774.3H791.2" stroke="#1f77b4" stroke-width="4.0" stroke-linecap="square"/>
<path d="M802.4 757.3H819.4" stroke="#1f77b4" stroke-width="4.0" stroke-linecap="square"/>
<path d="M830.7 764.4H847.7" stroke="#1f77b4" stroke-width="4.0" stroke-linecap="square"/>
<path d="M858.9 737H875.9" stroke="#1f77b4" stroke-width="4.0" stroke-linecap="square"/>
<path d="M887.1 723.6H904.1" stroke="#1f77b4" stroke-width="4.0" stroke-linecap="square"/>
<path d="M915.4 700.8H932.4" stroke="#1f77b4" stroke-width="4.0" stroke-linecap="square"/>
<path d="M943.6 716.7H960.6" stroke="#1f77b4" stroke-width="4.0" stroke-linecap="square"/>
<path d="M971.9 686.7H988.9" stroke="#1f77b4" stroke-width="4.0" stroke-linecap="square"/>
<rect x="147.2" y="467.5" width="847.3" height="410.5" fill="none" stroke="#000" stroke-width="1.67" stroke-linejoin="miter"/>
<path d="M147.2 808.7h-7.3M147.2 729.7h-7.3M147.2 650.5h-7.3M147.2 571.5h-7.3M147.2 492.5h-7.3" stroke="#000" stroke-width="1.67"/>
<text x="131.6" y="820.9" font-size="33.3" text-anchor="end">0.00</text>
<text x="131.6" y="741.9" font-size="33.3" text-anchor="end">0.05</text>
<text x="131.6" y="662.7" font-size="33.3" text-anchor="end">0.10</text>
<text x="131.6" y="583.7" font-size="33.3" text-anchor="end">0.15</text>
<text x="131.6" y="504.7" font-size="33.3" text-anchor="end">0.20</text>
<path d="M161.3 878v7.3M217.8 878v7.3M274.3 878v7.3M330.8 878v7.3M387.3 878v7.3M443.8 878v7.3M500.2 878v7.3M556.7 878v7.3M613.2 878v7.3M669.7 878v7.3M726.2 878v7.3M782.7 878v7.3M839.2 878v7.3M895.6 878v7.3M952.1 878v7.3" stroke="#000" stroke-width="1.67"/>
<text x="161.3" y="918.6" font-size="33.3" text-anchor="middle">1</text>
<text x="217.8" y="918.6" font-size="33.3" text-anchor="middle">3</text>
<text x="274.3" y="918.6" font-size="33.3" text-anchor="middle">5</text>
<text x="330.8" y="918.6" font-size="33.3" text-anchor="middle">7</text>
<text x="387.3" y="918.6" font-size="33.3" text-anchor="middle">9</text>
<text x="443.8" y="918.6" font-size="33.3" text-anchor="middle">11</text>
<text x="500.2" y="918.6" font-size="33.3" text-anchor="middle">13</text>
<text x="556.7" y="918.6" font-size="33.3" text-anchor="middle">15</text>
<text x="613.2" y="918.6" font-size="33.3" text-anchor="middle">17</text>
<text x="669.7" y="918.6" font-size="33.3" text-anchor="middle">19</text>
<text x="726.2" y="918.6" font-size="33.3" text-anchor="middle">21</text>
<text x="782.7" y="918.6" font-size="33.3" text-anchor="middle">23</text>
<text x="839.2" y="918.6" font-size="33.3" text-anchor="middle">25</text>
<text x="895.6" y="918.6" font-size="33.3" text-anchor="middle">27</text>
<text x="952.1" y="918.6" font-size="33.3" text-anchor="middle">29</text>
<path d="M1163.5 799.4H2009.6" stroke="#000" stroke-width="3" stroke-dasharray="12.2 5.6" stroke-dashoffset="5.4"/>
<path d="M1177.6 799V798.8M1177.6 801.5V801.7M1173.4 798.8H1181.9M1173.4 801.7H1181.9" stroke="#1f77b4" stroke-width="2.0" stroke-linecap="square"/>
<rect x="1169.1" y="799" width="17" height="2.5" fill="none" stroke="#1f77b4" stroke-width="2.0"/>
<path d="M1205.8 799.7V799.5M1205.8 802.2V802.4M1201.6 799.5H1210.1M1201.6 802.4H1210.1" stroke="#1f77b4" stroke-width="2.0" stroke-linecap="square"/>
<rect x="1197.3" y="799.7" width="17" height="2.5" fill="none" stroke="#1f77b4" stroke-width="2.0"/>
<path d="M1234 799.5V799M1234 804V808.3M1229.8 799H1238.3M1229.8 808.3H1238.3" stroke="#1f77b4" stroke-width="2.0" stroke-linecap="square"/>
<rect x="1225.5" y="799.5" width="17" height="4.5" fill="none" stroke="#1f77b4" stroke-width="2.0"/>
<path d="M1262.2 799.1V796.1M1262.2 808.3V815.1M1258 796.1H1266.5M1258 815.1H1266.5" stroke="#1f77b4" stroke-width="2.0" stroke-linecap="square"/>
<rect x="1253.7" y="799.1" width="17" height="9.2" fill="none" stroke="#1f77b4" stroke-width="2.0"/>
<path d="M1290.4 793.7V790.4M1290.4 806.7V807M1286.2 790.4H1294.7M1286.2 807H1294.7" stroke="#1f77b4" stroke-width="2.0" stroke-linecap="square"/>
<rect x="1281.9" y="793.7" width="17" height="13" fill="none" stroke="#1f77b4" stroke-width="2.0"/>
<path d="M1318.6 794.1V786M1318.6 809.2V809.4M1314.4 786H1322.9M1314.4 809.4H1322.9" stroke="#1f77b4" stroke-width="2.0" stroke-linecap="square"/>
<rect x="1310.1" y="794.1" width="17" height="15.1" fill="none" stroke="#1f77b4" stroke-width="2.0"/>
<path d="M1346.8 796.1V796M1346.8 805.8V808.9M1342.6 796H1351.1M1342.6 808.9H1351.1" stroke="#1f77b4" stroke-width="2.0" stroke-linecap="square"/>
<rect x="1338.3" y="796.1" width="17" height="9.7" fill="none" stroke="#1f77b4" stroke-width="2.0"/>
<path d="M1375 792.7V777.6M1375 809.2V816.7M1370.8 777.6H1379.3M1370.8 816.7H1379.3" stroke="#1f77b4" stroke-width="2.0" stroke-linecap="square"/>
<rect x="1366.5" y="792.7" width="17" height="16.5" fill="none" stroke="#1f77b4" stroke-width="2.0"/>
<path d="M1403.2 782.3V782M1403.2 793.2V793.4M1399 782H1407.5M1399 793.4H1407.5" stroke="#1f77b4" stroke-width="2.0" stroke-linecap="square"/>
<rect x="1394.7" y="782.3" width="17" height="10.9" fill="none" stroke="#1f77b4" stroke-width="2.0"/>
<path d="M1431.4 773.1V773M1431.4 791.6V791.8M1427.2 773H1435.7M1427.2 791.8H1435.7" stroke="#1f77b4" stroke-width="2.0" stroke-linecap="square"/>
<rect x="1422.9" y="773.1" width="17" height="18.5" fill="none" stroke="#1f77b4" stroke-width="2.0"/>
<path d="M1459.6 779V766.4M1459.6 792V812.2M1455.4 766.4H1463.9M1455.4 812.2H1463.9" stroke="#1f77b4" stroke-width="2.0" stroke-linecap="square"/>
<rect x="1451.1" y="779" width="17" height="13" fill="none" stroke="#1f77b4" stroke-width="2.0"/>
<path d="M1487.8 781.3V781M1487.8 786.3V786.5M1483.6 781H1492.1M1483.6 786.5H1492.1" stroke="#1f77b4" stroke-width="2.0" stroke-linecap="square"/>
<rect x="1479.3" y="781.3" width="17" height="5" fill="none" stroke="#1f77b4" stroke-width="2.0"/>
<path d="M1516 760.8V760.5M1516 801.4V801.8M1511.8 760.5H1520.3M1511.8 801.8H1520.3" stroke="#1f77b4" stroke-width="2.0" stroke-linecap="square"/>
<rect x="1507.5" y="760.8" width="17" height="40.6" fill="none" stroke="#1f77b4" stroke-width="2.0"/>
<path d="M1544.2 765.8V758.1M1544.2 795.5V803.9M1540 758.1H1548.5M1540 803.9H1548.5" stroke="#1f77b4" stroke-width="2.0" stroke-linecap="square"/>
<rect x="1535.7" y="765.8" width="17" height="29.7" fill="none" stroke="#1f77b4" stroke-width="2.0"/>
<path d="M1572.4 788.8V788.5M1572.4 812.8V813M1568.2 788.5H1576.7M1568.2 813H1576.7" stroke="#1f77b4" stroke-width="2.0" stroke-linecap="square"/>
<rect x="1563.9" y="788.8" width="17" height="24" fill="none" stroke="#1f77b4" stroke-width="2.0"/>
<path d="M1600.7 780.4V780.2M1600.7 815.2V829.1M1596.4 780.2H1604.9M1596.4 829.1H1604.9" stroke="#1f77b4" stroke-width="2.0" stroke-linecap="square"/>
<rect x="1592.2" y="780.4" width="17" height="34.8" fill="none" stroke="#1f77b4" stroke-width="2.0"/>
<path d="M1628.9 781.6V781.4M1628.9 827.5V844.8M1624.6 781.4H1633.1M1624.6 844.8H1633.1" stroke="#1f77b4" stroke-width="2.0" stroke-linecap="square"/>
<rect x="1620.4" y="781.6" width="17" height="45.9" fill="none" stroke="#1f77b4" stroke-width="2.0"/>
<path d="M1657.1 768.2V768M1657.1 842.1V848.1M1652.8 768H1661.3M1652.8 848.1H1661.3" stroke="#1f77b4" stroke-width="2.0" stroke-linecap="square"/>
<rect x="1648.6" y="768.2" width="17" height="73.9" fill="none" stroke="#1f77b4" stroke-width="2.0"/>
<path d="M1685.3 766.1V661.7M1685.3 839.2V858.5M1681 661.7H1689.5M1681 858.5H1689.5" stroke="#1f77b4" stroke-width="2.0" stroke-linecap="square"/>
<rect x="1676.8" y="766.1" width="17" height="73.1" fill="none" stroke="#1f77b4" stroke-width="2.0"/>
<path d="M1713.5 738.4V680M1713.5 832.5V849.8M1709.2 680H1717.7M1709.2 849.8H1717.7" stroke="#1f77b4" stroke-width="2.0" stroke-linecap="square"/>
<rect x="1705" y="738.4" width="17" height="94.1" fill="none" stroke="#1f77b4" stroke-width="2.0"/>
<path d="M1741.7 699V635.1M1741.7 807.8V845.1M1737.4 635.1H1745.9M1737.4 845.1H1745.9" stroke="#1f77b4" stroke-width="2.0" stroke-linecap="square"/>
<rect x="1733.2" y="699" width="17" height="108.8" fill="none" stroke="#1f77b4" stroke-width="2.0"/>
<path d="M1769.9 685.8V620.8M1769.9 808.6V840.3M1765.6 620.8H1774.1M1765.6 840.3H1774.1" stroke="#1f77b4" stroke-width="2.0" stroke-linecap="square"/>
<rect x="1761.4" y="685.8" width="17" height="122.8" fill="none" stroke="#1f77b4" stroke-width="2.0"/>
<path d="M1798.1 670.5V620.8M1798.1 781V812.3M1793.8 620.8H1802.3M1793.8 812.3H1802.3" stroke="#1f77b4" stroke-width="2.0" stroke-linecap="square"/>
<rect x="1789.6" y="670.5" width="17" height="110.5" fill="none" stroke="#1f77b4" stroke-width="2.0"/>
<path d="M1826.3 646.6V601.1M1826.3 755V794.7M1822 601.1H1830.5M1822 794.7H1830.5" stroke="#1f77b4" stroke-width="2.0" stroke-linecap="square"/>
<rect x="1817.8" y="646.6" width="17" height="108.4" fill="none" stroke="#1f77b4" stroke-width="2.0"/>
<path d="M1854.5 625.9V593.8M1854.5 764.1V800.9M1850.2 593.8H1858.7M1850.2 800.9H1858.7" stroke="#1f77b4" stroke-width="2.0" stroke-linecap="square"/>
<rect x="1846" y="625.9" width="17" height="138.2" fill="none" stroke="#1f77b4" stroke-width="2.0"/>
<path d="M1882.7 627.8V556.6M1882.7 768.2V800.3M1878.4 556.6H1886.9M1878.4 800.3H1886.9" stroke="#1f77b4" stroke-width="2.0" stroke-linecap="square"/>
<rect x="1874.2" y="627.8" width="17" height="140.4" fill="none" stroke="#1f77b4" stroke-width="2.0"/>
<path d="M1910.9 580.4V543.5M1910.9 773.4V773.6M1906.6 543.5H1915.1M1906.6 773.6H1915.1" stroke="#1f77b4" stroke-width="2.0" stroke-linecap="square"/>
<rect x="1902.4" y="580.4" width="17" height="193" fill="none" stroke="#1f77b4" stroke-width="2.0"/>
<path d="M1939.1 531.5V526.9M1939.1 767.2V783.3M1934.8 526.9H1943.3M1934.8 783.3H1943.3" stroke="#1f77b4" stroke-width="2.0" stroke-linecap="square"/>
<rect x="1930.6" y="531.5" width="17" height="235.7" fill="none" stroke="#1f77b4" stroke-width="2.0"/>
<path d="M1967.3 543.5V485.5M1967.3 755.8V771.7M1963 485.5H1971.5M1963 771.7H1971.5" stroke="#1f77b4" stroke-width="2.0" stroke-linecap="square"/>
<rect x="1958.8" y="543.5" width="17" height="212.3" fill="none" stroke="#1f77b4" stroke-width="2.0"/>
<path d="M1995.5 611.4V611.2M1995.5 697.8V761.6M1991.2 611.2H1999.7M1991.2 761.6H1999.7" stroke="#1f77b4" stroke-width="2.0" stroke-linecap="square"/>
<rect x="1987" y="611.4" width="17" height="86.4" fill="none" stroke="#1f77b4" stroke-width="2.0"/>
<path d="M1169.1 800H1186.1" stroke="#1f77b4" stroke-width="4.0" stroke-linecap="square"/>
<path d="M1197.3 800.5H1214.3" stroke="#1f77b4" stroke-width="4.0" stroke-linecap="square"/>
<path d="M1225.5 801H1242.5" stroke="#1f77b4" stroke-width="4.0" stroke-linecap="square"/>
<path d="M1253.7 800.5H1270.7" stroke="#1f77b4" stroke-width="4.0" stroke-linecap="square"/>
<path d="M1281.9 805.5H1298.9" stroke="#1f77b4" stroke-width="4.0" stroke-linecap="square"/>
<path d="M1310.1 804.2H1327.1" stroke="#1f77b4" stroke-width="4.0" stroke-linecap="square"/>
<path d="M1338.3 797.4H1355.3" stroke="#1f77b4" stroke-width="4.0" stroke-linecap="square"/>
<path d="M1366.5 793.2H1383.5" stroke="#1f77b4" stroke-width="4.0" stroke-linecap="square"/>
<path d="M1394.7 792.7H1411.7" stroke="#1f77b4" stroke-width="4.0" stroke-linecap="square"/>
<path d="M1422.9 773.9H1439.9" stroke="#1f77b4" stroke-width="4.0" stroke-linecap="square"/>
<path d="M1451.1 779.8H1468.1" stroke="#1f77b4" stroke-width="4.0" stroke-linecap="square"/>
<path d="M1479.3 783.5H1496.3" stroke="#1f77b4" stroke-width="4.0" stroke-linecap="square"/>
<path d="M1507.5 765.8H1524.5" stroke="#1f77b4" stroke-width="4.0" stroke-linecap="square"/>
<path d="M1535.7 773.7H1552.7" stroke="#1f77b4" stroke-width="4.0" stroke-linecap="square"/>
<path d="M1563.9 792.2H1580.9" stroke="#1f77b4" stroke-width="4.0" stroke-linecap="square"/>
<path d="M1592.2 788.8H1609.2" stroke="#1f77b4" stroke-width="4.0" stroke-linecap="square"/>
<path d="M1620.4 782.1H1637.4" stroke="#1f77b4" stroke-width="4.0" stroke-linecap="square"/>
<path d="M1648.6 768.7H1665.6" stroke="#1f77b4" stroke-width="4.0" stroke-linecap="square"/>
<path d="M1676.8 797.2H1693.8" stroke="#1f77b4" stroke-width="4.0" stroke-linecap="square"/>
<path d="M1705 793H1722" stroke="#1f77b4" stroke-width="4.0" stroke-linecap="square"/>
<path d="M1733.2 779.9H1750.2" stroke="#1f77b4" stroke-width="4.0" stroke-linecap="square"/>
<path d="M1761.4 773.8H1778.4" stroke="#1f77b4" stroke-width="4.0" stroke-linecap="square"/>
<path d="M1789.6 751H1806.6" stroke="#1f77b4" stroke-width="4.0" stroke-linecap="square"/>
<path d="M1817.8 754.7H1834.8" stroke="#1f77b4" stroke-width="4.0" stroke-linecap="square"/>
<path d="M1846 741.3H1863" stroke="#1f77b4" stroke-width="4.0" stroke-linecap="square"/>
<path d="M1874.2 741.3H1891.2" stroke="#1f77b4" stroke-width="4.0" stroke-linecap="square"/>
<path d="M1902.4 729.9H1919.4" stroke="#1f77b4" stroke-width="4.0" stroke-linecap="square"/>
<path d="M1930.6 707.7H1947.6" stroke="#1f77b4" stroke-width="4.0" stroke-linecap="square"/>
<path d="M1958.8 717.5H1975.8" stroke="#1f77b4" stroke-width="4.0" stroke-linecap="square"/>
<path d="M1987 691.6H2004" stroke="#1f77b4" stroke-width="4.0" stroke-linecap="square"/>
<rect x="1163.5" y="467.5" width="846.1" height="410.5" fill="none" stroke="#000" stroke-width="1.67" stroke-linejoin="miter"/>
<path d="M1163.5 869.2h-7.3M1163.5 799.1h-7.3M1163.5 729.2h-7.3M1163.5 659.4h-7.3M1163.5 589.3h-7.3M1163.5 519.2h-7.3" stroke="#000" stroke-width="1.67"/>
<text x="1147.9" y="881.4" font-size="33.3" text-anchor="end">−5</text>
<text x="1147.9" y="811.3" font-size="33.3" text-anchor="end">0</text>
<text x="1147.9" y="741.4" font-size="33.3" text-anchor="end">5</text>
<text x="1147.9" y="671.6" font-size="33.3" text-anchor="end">10</text>
<text x="1147.9" y="601.5" font-size="33.3" text-anchor="end">15</text>
<text x="1147.9" y="531.4" font-size="33.3" text-anchor="end">20</text>
<path d="M1177.6 878v7.3M1234 878v7.3M1290.4 878v7.3M1346.8 878v7.3M1403.2 878v7.3M1459.6 878v7.3M1516 878v7.3M1572.4 878v7.3M1628.9 878v7.3M1685.3 878v7.3M1741.7 878v7.3M1798.1 878v7.3M1854.5 878v7.3M1910.9 878v7.3M1967.3 878v7.3" stroke="#000" stroke-width="1.67"/>
<text x="1177.6" y="918.6" font-size="33.3" text-anchor="middle">1</text>
<text x="1234" y="918.6" font-size="33.3" text-anchor="middle">3</text>
<text x="1290.4" y="918.6" font-size="33.3" text-anchor="middle">5</text>
<text x="1346.8" y="918.6" font-size="33.3" text-anchor="middle">7</text>
<text x="1403.2" y="918.6" font-size="33.3" text-anchor="middle">9</text>
<text x="1459.6" y="918.6" font-size="33.3" text-anchor="middle">11</text>
<text x="1516" y="918.6" font-size="33.3" text-anchor="middle">13</text>
<text x="1572.4" y="918.6" font-size="33.3" text-anchor="middle">15</text>
<text x="1628.9" y="918.6" font-size="33.3" text-anchor="middle">17</text>
<text x="1685.3" y="918.6" font-size="33.3" text-anchor="middle">19</text>
<text x="1741.7" y="918.6" font-size="33.3" text-anchor="middle">21</text>
<text x="1798.1" y="918.6" font-size="33.3" text-anchor="middle">23</text>
<text x="1854.5" y="918.6" font-size="33.3" text-anchor="middle">25</text>
<text x="1910.9" y="918.6" font-size="33.3" text-anchor="middle">27</text>
<text x="1967.3" y="918.6" font-size="33.3" text-anchor="middle">29</text>
<text x="570.9" y="964.9" font-size="40" text-anchor="middle">Prediction horizon</text>
<text x="1586.5" y="964.9" font-size="40" text-anchor="middle">Prediction horizon</text>
<g clip-path="url(#clipE)" stroke="#fff" stroke-width="0.8">
<circle cx="342.1" cy="1693.8" r="4" fill="#440154"/>
<circle cx="762.9" cy="1294.4" r="4" fill="#440154"/>
<circle cx="747.5" cy="1350.9" r="4" fill="#440154"/>
<circle cx="585.6" cy="1438.3" r="4" fill="#440154"/>
<circle cx="796.6" cy="1220.2" r="4" fill="#440154"/>
<circle cx="651.1" cy="1362.0" r="4" fill="#440154"/>
<circle cx="807.0" cy="1237.4" r="4" fill="#440154"/>
<circle cx="808.3" cy="1259.0" r="4" fill="#440154"/>
<circle cx="755.2" cy="1290.7" r="4" fill="#440154"/>
<circle cx="346.6" cy="1710.1" r="4" fill="#440154"/>
<circle cx="327.0" cy="1696.7" r="4" fill="#440154"/>
<circle cx="591.4" cy="1410.3" r="4" fill="#470d60"/>
<circle cx="482.3" cy="1550.2" r="4" fill="#440154"/>
<circle cx="763.2" cy="1325.9" r="4" fill="#440154"/>
<circle cx="339.7" cy="1686.8" r="4" fill="#440154"/>
<circle cx="803.7" cy="1253.6" r="4" fill="#440154"/>
<circle cx="337.2" cy="1696.0" r="4" fill="#440154"/>
<circle cx="338.2" cy="1683.4" r="4" fill="#440154"/>
<circle cx="769.1" cy="1304.3" r="4" fill="#470d60"/>
<circle cx="377.9" cy="1704.4" r="4" fill="#470d60"/>
<circle cx="659.5" cy="1345.4" r="4" fill="#440154"/>
<circle cx="770.5" cy="1286.0" r="4" fill="#440154"/>
<circle cx="347.7" cy="1685.6" r="4" fill="#470d60"/>
<circle cx="696.6" cy="1324.5" r="4" fill="#481a6c"/>
<circle cx="719.5" cy="1332.7" r="4" fill="#481a6c"/>
<circle cx="611.7" cy="1434.9" r="4" fill="#481a6c"/>
<circle cx="669.3" cy="1390.3" r="4" fill="#481a6c"/>
<circle cx="322.6" cy="1701.5" r="4" fill="#440154"/>
<circle cx="472.4" cy="1561.9" r="4" fill="#440154"/>
<circle cx="520.6" cy="1510.2" r="4" fill="#470d60"/>
<circle cx="805.9" cy="1268.9" r="4" fill="#440154"/>
<circle cx="786.9" cy="1246.5" r="4" fill="#470d60"/>
<circle cx="374.3" cy="1674.8" r="4" fill="#440154"/>
<circle cx="332.6" cy="1715.0" r="4" fill="#440154"/>
<circle cx="338.7" cy="1709.5" r="4" fill="#481a6c"/>
<circle cx="760.8" cy="1289.5" r="4" fill="#440154"/>
<circle cx="597.0" cy="1405.7" r="4" fill="#470d60"/>
<circle cx="326.8" cy="1695.9" r="4" fill="#470d60"/>
<circle cx="329.5" cy="1720.5" r="4" fill="#440154"/>
<circle cx="321.9" cy="1692.8" r="4" fill="#470d60"/>
<circle cx="542.4" cy="1481.0" r="4" fill="#482576"/>
<circle cx="497.7" cy="1557.2" r="4" fill="#482576"/>
<circle cx="706.3" cy="1351.6" r="4" fill="#482576"/>
<circle cx="355.8" cy="1704.4" r="4" fill="#481a6c"/>
<circle cx="398.9" cy="1649.6" r="4" fill="#482576"/>
<circle cx="615.0" cy="1403.7" r="4" fill="#481a6c"/>
<circle cx="334.8" cy="1718.5" r="4" fill="#440154"/>
<circle cx="759.6" cy="1295.0" r="4" fill="#482576"/>
<circle cx="717.6" cy="1319.3" r="4" fill="#440154"/>
<circle cx="340.9" cy="1718.7" r="4" fill="#482576"/>
<circle cx="345.5" cy="1714.7" r="4" fill="#481a6c"/>
<circle cx="688.3" cy="1357.7" r="4" fill="#440154"/>
<circle cx="470.6" cy="1589.9" r="4" fill="#481a6c"/>
<circle cx="337.3" cy="1702.2" r="4" fill="#440154"/>
<circle cx="485.8" cy="1556.1" r="4" fill="#482576"/>
<circle cx="416.4" cy="1649.5" r="4" fill="#482576"/>
<circle cx="340.6" cy="1676.7" r="4" fill="#482576"/>
<circle cx="455.4" cy="1568.3" r="4" fill="#470d60"/>
<circle cx="339.6" cy="1710.2" r="4" fill="#440154"/>
<circle cx="746.3" cy="1292.4" r="4" fill="#440154"/>
<circle cx="335.3" cy="1706.1" r="4" fill="#440154"/>
<circle cx="393.1" cy="1628.0" r="4" fill="#481a6c"/>
<circle cx="693.8" cy="1325.2" r="4" fill="#470d60"/>
<circle cx="326.8" cy="1716.4" r="4" fill="#481a6c"/>
<circle cx="374.4" cy="1663.3" r="4" fill="#46307e"/>
<circle cx="661.5" cy="1360.3" r="4" fill="#440154"/>
<circle cx="571.0" cy="1457.1" r="4" fill="#470d60"/>
<circle cx="332.0" cy="1719.7" r="4" fill="#440154"/>
<circle cx="519.2" cy="1531.0" r="4" fill="#481a6c"/>
<circle cx="523.8" cy="1536.9" r="4" fill="#482576"/>
<circle cx="416.9" cy="1616.9" r="4" fill="#481a6c"/>
<circle cx="729.8" cy="1311.0" r="4" fill="#46307e"/>
<circle cx="496.3" cy="1560.5" r="4" fill="#482576"/>
<circle cx="444.6" cy="1604.1" r="4" fill="#440154"/>
<circle cx="664.8" cy="1387.2" r="4" fill="#482576"/>
<circle cx="682.1" cy="1380.6" r="4" fill="#46307e"/>
<circle cx="659.8" cy="1347.7" r="4" fill="#46307e"/>
<circle cx="673.3" cy="1384.7" r="4" fill="#482576"/>
<circle cx="352.5" cy="1694.8" r="4" fill="#440154"/>
<circle cx="747.5" cy="1329.1" r="4" fill="#46307e"/>
<circle cx="529.6" cy="1497.3" r="4" fill="#470d60"/>
<circle cx="366.9" cy="1679.9" r="4" fill="#470d60"/>
<circle cx="652.4" cy="1389.3" r="4" fill="#46307e"/>
<circle cx="492.9" cy="1526.1" r="4" fill="#443b84"/>
<circle cx="467.3" cy="1588.4" r="4" fill="#470d60"/>
<circle cx="431.7" cy="1596.3" r="4" fill="#440154"/>
<circle cx="487.9" cy="1524.8" r="4" fill="#481a6c"/>
<circle cx="409.4" cy="1650.3" r="4" fill="#46307e"/>
<circle cx="792.8" cy="1217.2" r="4" fill="#440154"/>
<circle cx="743.2" cy="1304.5" r="4" fill="#440154"/>
<circle cx="389.3" cy="1632.9" r="4" fill="#470d60"/>
<circle cx="522.0" cy="1549.0" r="4" fill="#443b84"/>
<circle cx="444.4" cy="1600.1" r="4" fill="#46307e"/>
<circle cx="654.4" cy="1382.5" r="4" fill="#470d60"/>
<circle cx="490.3" cy="1548.9" r="4" fill="#443b84"/>
<circle cx="561.6" cy="1465.8" r="4" fill="#46307e"/>
<circle cx="770.1" cy="1281.0" r="4" fill="#470d60"/>
<circle cx="372.8" cy="1702.7" r="4" fill="#470d60"/>
<circle cx="612.3" cy="1412.0" r="4" fill="#443b84"/>
<circle cx="709.8" cy="1350.1" r="4" fill="#443b84"/>
<circle cx="620.1" cy="1398.5" r="4" fill="#443b84"/>
<circle cx="505.8" cy="1516.4" r="4" fill="#440154"/>
<circle cx="678.6" cy="1372.2" r="4" fill="#470d60"/>
<circle cx="565.4" cy="1476.9" r="4" fill="#470d60"/>
<circle cx="793.7" cy="1264.3" r="4" fill="#440154"/>
<circle cx="343.3" cy="1700.9" r="4" fill="#440154"/>
<circle cx="666.7" cy="1347.1" r="4" fill="#46307e"/>
<circle cx="329.2" cy="1715.9" r="4" fill="#443b84"/>
<circle cx="739.8" cy="1284.2" r="4" fill="#440154"/>
<circle cx="360.6" cy="1670.7" r="4" fill="#440154"/>
<circle cx="741.5" cy="1285.0" r="4" fill="#404588"/>
<circle cx="746.7" cy="1298.9" r="4" fill="#481a6c"/>
<circle cx="420.9" cy="1630.1" r="4" fill="#443b84"/>
<circle cx="495.6" cy="1498.0" r="4" fill="#443b84"/>
<circle cx="355.3" cy="1691.7" r="4" fill="#482576"/>
<circle cx="461.8" cy="1565.5" r="4" fill="#46307e"/>
<circle cx="770.7" cy="1299.2" r="4" fill="#46307e"/>
<circle cx="819.0" cy="1262.6" r="4" fill="#443b84"/>
<circle cx="584.9" cy="1467.6" r="4" fill="#470d60"/>
<circle cx="796.4" cy="1272.7" r="4" fill="#481a6c"/>
<circle cx="616.6" cy="1397.7" r="4" fill="#440154"/>
<circle cx="637.9" cy="1418.3" r="4" fill="#404588"/>
<circle cx="606.2" cy="1390.7" r="4" fill="#481a6c"/>
<circle cx="409.4" cy="1613.6" r="4" fill="#440154"/>
<circle cx="642.8" cy="1374.7" r="4" fill="#443b84"/>
<circle cx="800.5" cy="1222.4" r="4" fill="#440154"/>
<circle cx="608.9" cy="1426.6" r="4" fill="#481a6c"/>
<circle cx="362.6" cy="1711.2" r="4" fill="#470d60"/>
<circle cx="323.5" cy="1703.8" r="4" fill="#404588"/>
<circle cx="369.0" cy="1671.2" r="4" fill="#481a6c"/>
<circle cx="792.1" cy="1278.0" r="4" fill="#46307e"/>
<circle cx="614.7" cy="1414.1" r="4" fill="#46307e"/>
<circle cx="752.8" cy="1288.7" r="4" fill="#440154"/>
<circle cx="623.2" cy="1360.0" r="4" fill="#404588"/>
<circle cx="675.4" cy="1349.3" r="4" fill="#482576"/>
<circle cx="731.2" cy="1297.8" r="4" fill="#482576"/>
<circle cx="655.2" cy="1345.6" r="4" fill="#404588"/>
<circle cx="560.1" cy="1455.7" r="4" fill="#443b84"/>
<circle cx="657.2" cy="1392.3" r="4" fill="#482576"/>
<circle cx="350.7" cy="1670.7" r="4" fill="#3c4f8a"/>
<circle cx="525.4" cy="1509.2" r="4" fill="#3c4f8a"/>
<circle cx="389.1" cy="1619.0" r="4" fill="#3c4f8a"/>
<circle cx="787.3" cy="1280.3" r="4" fill="#46307e"/>
<circle cx="656.2" cy="1366.0" r="4" fill="#46307e"/>
<circle cx="783.7" cy="1277.0" r="4" fill="#440154"/>
<circle cx="345.0" cy="1681.3" r="4" fill="#440154"/>
<circle cx="462.7" cy="1553.1" r="4" fill="#46307e"/>
<circle cx="784.5" cy="1293.3" r="4" fill="#3c4f8a"/>
<circle cx="598.1" cy="1417.4" r="4" fill="#443b84"/>
<circle cx="598.6" cy="1403.5" r="4" fill="#440154"/>
<circle cx="446.2" cy="1559.4" r="4" fill="#443b84"/>
<circle cx="756.3" cy="1322.0" r="4" fill="#440154"/>
<circle cx="584.4" cy="1476.4" r="4" fill="#3c4f8a"/>
<circle cx="383.1" cy="1709.5" r="4" fill="#443b84"/>
<circle cx="437.1" cy="1613.6" r="4" fill="#440154"/>
<circle cx="663.1" cy="1347.1" r="4" fill="#46307e"/>
<circle cx="658.4" cy="1377.6" r="4" fill="#481a6c"/>
<circle cx="324.8" cy="1705.4" r="4" fill="#404588"/>
<circle cx="795.2" cy="1306.9" r="4" fill="#3c4f8a"/>
<circle cx="575.4" cy="1419.2" r="4" fill="#46307e"/>
<circle cx="647.1" cy="1389.4" r="4" fill="#3c4f8a"/>
<circle cx="786.6" cy="1242.0" r="4" fill="#440154"/>
<circle cx="361.6" cy="1664.1" r="4" fill="#481a6c"/>
<circle cx="410.3" cy="1640.5" r="4" fill="#481a6c"/>
<circle cx="757.6" cy="1343.3" r="4" fill="#443b84"/>
<circle cx="676.7" cy="1337.6" r="4" fill="#46307e"/>
<circle cx="549.3" cy="1456.4" r="4" fill="#46307e"/>
<circle cx="534.9" cy="1465.3" r="4" fill="#38598c"/>
<circle cx="343.9" cy="1662.9" r="4" fill="#46307e"/>
<circle cx="382.9" cy="1665.4" r="4" fill="#3c4f8a"/>
<circle cx="351.8" cy="1687.4" r="4" fill="#3c4f8a"/>
<circle cx="809.9" cy="1249.5" r="4" fill="#482576"/>
<circle cx="514.3" cy="1525.3" r="4" fill="#443b84"/>
<circle cx="536.9" cy="1533.2" r="4" fill="#443b84"/>
<circle cx="709.0" cy="1319.2" r="4" fill="#38598c"/>
<circle cx="630.1" cy="1417.3" r="4" fill="#482576"/>
<circle cx="805.7" cy="1262.7" r="4" fill="#443b84"/>
<circle cx="350.2" cy="1688.5" r="4" fill="#443b84"/>
<circle cx="513.3" cy="1535.8" r="4" fill="#482576"/>
<circle cx="494.8" cy="1533.2" r="4" fill="#38598c"/>
<circle cx="811.0" cy="1252.5" r="4" fill="#3c4f8a"/>
<circle cx="531.4" cy="1505.9" r="4" fill="#470d60"/>
<circle cx="590.3" cy="1425.2" r="4" fill="#38598c"/>
<circle cx="492.0" cy="1569.9" r="4" fill="#46307e"/>
<circle cx="431.7" cy="1585.1" r="4" fill="#481a6c"/>
<circle cx="759.2" cy="1323.2" r="4" fill="#482576"/>
<circle cx="376.1" cy="1637.6" r="4" fill="#38598c"/>
<circle cx="616.1" cy="1386.5" r="4" fill="#404588"/>
<circle cx="358.7" cy="1683.6" r="4" fill="#404588"/>
<circle cx="408.6" cy="1628.7" r="4" fill="#38598c"/>
<circle cx="615.9" cy="1407.1" r="4" fill="#482576"/>
<circle cx="482.4" cy="1524.5" r="4" fill="#3c4f8a"/>
<circle cx="599.9" cy="1390.4" r="4" fill="#33628d"/>
<circle cx="557.8" cy="1487.6" r="4" fill="#3c4f8a"/>
<circle cx="722.0" cy="1327.4" r="4" fill="#38598c"/>
<circle cx="430.9" cy="1576.2" r="4" fill="#46307e"/>
<circle cx="737.0" cy="1299.9" r="4" fill="#3c4f8a"/>
<circle cx="796.2" cy="1248.3" r="4" fill="#38598c"/>
<circle cx="520.2" cy="1503.1" r="4" fill="#443b84"/>
<circle cx="499.6" cy="1535.8" r="4" fill="#404588"/>
<circle cx="406.8" cy="1590.1" r="4" fill="#33628d"/>
<circle cx="387.8" cy="1653.3" r="4" fill="#481a6c"/>
<circle cx="390.0" cy="1625.7" r="4" fill="#443b84"/>
<circle cx="635.1" cy="1380.6" r="4" fill="#38598c"/>
<circle cx="740.9" cy="1327.1" r="4" fill="#482576"/>
<circle cx="622.0" cy="1407.0" r="4" fill="#38598c"/>
<circle cx="435.8" cy="1635.8" r="4" fill="#443b84"/>
<circle cx="376.9" cy="1621.3" r="4" fill="#33628d"/>
<circle cx="543.4" cy="1487.8" r="4" fill="#404588"/>
<circle cx="384.7" cy="1658.3" r="4" fill="#481a6c"/>
<circle cx="721.4" cy="1304.2" r="4" fill="#443b84"/>
<circle cx="756.0" cy="1311.3" r="4" fill="#481a6c"/>
<circle cx="495.9" cy="1584.3" r="4" fill="#38598c"/>
<circle cx="351.3" cy="1678.9" r="4" fill="#46307e"/>
<circle cx="588.9" cy="1433.9" r="4" fill="#38598c"/>
<circle cx="627.7" cy="1371.9" r="4" fill="#404588"/>
<circle cx="438.1" cy="1606.7" r="4" fill="#46307e"/>
<circle cx="479.3" cy="1532.5" r="4" fill="#33628d"/>
<circle cx="791.2" cy="1236.4" r="4" fill="#33628d"/>
<circle cx="492.3" cy="1579.8" r="4" fill="#443b84"/>
<circle cx="623.8" cy="1419.1" r="4" fill="#2f6b8e"/>
<circle cx="343.1" cy="1678.8" r="4" fill="#482576"/>
<circle cx="628.1" cy="1353.2" r="4" fill="#3c4f8a"/>
<circle cx="658.8" cy="1361.0" r="4" fill="#46307e"/>
<circle cx="775.5" cy="1284.5" r="4" fill="#443b84"/>
<circle cx="660.1" cy="1409.2" r="4" fill="#2f6b8e"/>
<circle cx="603.2" cy="1461.6" r="4" fill="#2f6b8e"/>
<circle cx="674.2" cy="1362.8" r="4" fill="#482576"/>
<circle cx="777.7" cy="1307.0" r="4" fill="#3c4f8a"/>
<circle cx="585.8" cy="1463.0" r="4" fill="#46307e"/>
<circle cx="446.8" cy="1571.9" r="4" fill="#482576"/>
<circle cx="753.0" cy="1358.7" r="4" fill="#3c4f8a"/>
<circle cx="454.1" cy="1547.1" r="4" fill="#404588"/>
<circle cx="665.2" cy="1367.7" r="4" fill="#2f6b8e"/>
<circle cx="336.9" cy="1688.5" r="4" fill="#482576"/>
<circle cx="546.5" cy="1510.2" r="4" fill="#482576"/>
<circle cx="425.5" cy="1625.2" r="4" fill="#443b84"/>
<circle cx="654.3" cy="1394.5" r="4" fill="#46307e"/>
<circle cx="491.9" cy="1543.9" r="4" fill="#482576"/>
<circle cx="429.9" cy="1638.5" r="4" fill="#46307e"/>
<circle cx="418.9" cy="1590.6" r="4" fill="#482576"/>
<circle cx="821.0" cy="1252.3" r="4" fill="#2f6b8e"/>
<circle cx="481.7" cy="1583.2" r="4" fill="#3c4f8a"/>
<circle cx="739.1" cy="1342.6" r="4" fill="#2f6b8e"/>
<circle cx="720.6" cy="1329.7" r="4" fill="#3c4f8a"/>
<circle cx="413.4" cy="1611.8" r="4" fill="#443b84"/>
<circle cx="688.7" cy="1364.6" r="4" fill="#46307e"/>
<circle cx="536.5" cy="1543.8" r="4" fill="#2c738e"/>
<circle cx="439.0" cy="1593.4" r="4" fill="#3c4f8a"/>
<circle cx="607.1" cy="1466.4" r="4" fill="#3c4f8a"/>
<circle cx="646.3" cy="1413.0" r="4" fill="#404588"/>
<circle cx="749.9" cy="1367.6" r="4" fill="#2f6b8e"/>
<circle cx="602.8" cy="1399.2" r="4" fill="#46307e"/>
<circle cx="379.0" cy="1669.0" r="4" fill="#46307e"/>
<circle cx="573.4" cy="1470.2" r="4" fill="#38598c"/>
<circle cx="456.5" cy="1618.9" r="4" fill="#38598c"/>
<circle cx="380.3" cy="1655.7" r="4" fill="#3c4f8a"/>
<circle cx="503.5" cy="1568.0" r="4" fill="#2c738e"/>
<circle cx="506.4" cy="1559.1" r="4" fill="#404588"/>
<circle cx="753.5" cy="1301.1" r="4" fill="#443b84"/>
<circle cx="780.0" cy="1263.5" r="4" fill="#38598c"/>
<circle cx="678.0" cy="1325.2" r="4" fill="#2c738e"/>
<circle cx="667.0" cy="1365.3" r="4" fill="#33628d"/>
<circle cx="523.5" cy="1497.4" r="4" fill="#46307e"/>
<circle cx="811.6" cy="1230.8" r="4" fill="#2f6b8e"/>
<circle cx="797.5" cy="1275.5" r="4" fill="#3c4f8a"/>
<circle cx="596.1" cy="1424.1" r="4" fill="#404588"/>
<circle cx="340.9" cy="1666.3" r="4" fill="#3c4f8a"/>
<circle cx="565.2" cy="1424.7" r="4" fill="#2c738e"/>
<circle cx="758.3" cy="1365.6" r="4" fill="#3c4f8a"/>
<circle cx="673.1" cy="1339.0" r="4" fill="#443b84"/>
<circle cx="501.5" cy="1544.6" r="4" fill="#33628d"/>
<circle cx="499.2" cy="1570.6" r="4" fill="#2f6b8e"/>
<circle cx="575.6" cy="1426.6" r="4" fill="#3c4f8a"/>
<circle cx="756.8" cy="1362.7" r="4" fill="#404588"/>
<circle cx="784.1" cy="1272.2" r="4" fill="#2c738e"/>
<circle cx="752.8" cy="1323.2" r="4" fill="#404588"/>
<circle cx="599.6" cy="1408.6" r="4" fill="#33628d"/>
<circle cx="376.2" cy="1648.5" r="4" fill="#2f6b8e"/>
<circle cx="670.3" cy="1382.5" r="4" fill="#33628d"/>
<circle cx="413.1" cy="1645.3" r="4" fill="#46307e"/>
<circle cx="397.4" cy="1641.8" r="4" fill="#38598c"/>
<circle cx="372.7" cy="1631.9" r="4" fill="#443b84"/>
<circle cx="346.8" cy="1691.5" r="4" fill="#3c4f8a"/>
<circle cx="348.9" cy="1695.9" r="4" fill="#2f6b8e"/>
<circle cx="465.7" cy="1619.4" r="4" fill="#2f6b8e"/>
<circle cx="460.4" cy="1610.6" r="4" fill="#33628d"/>
<circle cx="802.7" cy="1271.1" r="4" fill="#2f6b8e"/>
<circle cx="425.8" cy="1604.1" r="4" fill="#33628d"/>
<circle cx="376.6" cy="1640.2" r="4" fill="#2f6b8e"/>
<circle cx="373.7" cy="1670.4" r="4" fill="#404588"/>
<circle cx="682.3" cy="1332.3" r="4" fill="#2f6b8e"/>
<circle cx="589.5" cy="1405.3" r="4" fill="#2c738e"/>
<circle cx="678.9" cy="1356.1" r="4" fill="#2c738e"/>
<circle cx="384.2" cy="1600.5" r="4" fill="#2c738e"/>
<circle cx="587.4" cy="1433.8" r="4" fill="#3c4f8a"/>
<circle cx="335.2" cy="1670.5" r="4" fill="#2c738e"/>
<circle cx="618.2" cy="1388.3" r="4" fill="#297b8e"/>
<circle cx="767.3" cy="1313.2" r="4" fill="#2c738e"/>
<circle cx="533.2" cy="1480.7" r="4" fill="#38598c"/>
<circle cx="438.3" cy="1643.3" r="4" fill="#2c738e"/>
<circle cx="605.1" cy="1406.6" r="4" fill="#38598c"/>
<circle cx="614.2" cy="1376.6" r="4" fill="#2f6b8e"/>
<circle cx="614.9" cy="1432.9" r="4" fill="#443b84"/>
<circle cx="504.1" cy="1510.0" r="4" fill="#3c4f8a"/>
<circle cx="455.4" cy="1560.6" r="4" fill="#404588"/>
<circle cx="428.7" cy="1607.2" r="4" fill="#443b84"/>
<circle cx="409.9" cy="1595.4" r="4" fill="#443b84"/>
<circle cx="645.5" cy="1336.4" r="4" fill="#33628d"/>
<circle cx="717.7" cy="1313.7" r="4" fill="#3c4f8a"/>
<circle cx="455.6" cy="1577.9" r="4" fill="#404588"/>
<circle cx="781.9" cy="1262.6" r="4" fill="#38598c"/>
<circle cx="795.1" cy="1267.4" r="4" fill="#38598c"/>
<circle cx="624.4" cy="1370.1" r="4" fill="#3c4f8a"/>
<circle cx="650.3" cy="1392.7" r="4" fill="#443b84"/>
<circle cx="641.5" cy="1453.6" r="4" fill="#297b8e"/>
<circle cx="600.5" cy="1367.3" r="4" fill="#2c738e"/>
<circle cx="505.0" cy="1528.6" r="4" fill="#2c738e"/>
<circle cx="334.5" cy="1666.8" r="4" fill="#404588"/>
<circle cx="635.7" cy="1438.1" r="4" fill="#2c738e"/>
<circle cx="444.1" cy="1641.5" r="4" fill="#33628d"/>
<circle cx="469.0" cy="1566.6" r="4" fill="#443b84"/>
<circle cx="570.1" cy="1444.8" r="4" fill="#2f6b8e"/>
<circle cx="517.0" cy="1549.1" r="4" fill="#2f6b8e"/>
<circle cx="402.6" cy="1619.2" r="4" fill="#2c738e"/>
<circle cx="715.2" cy="1356.0" r="4" fill="#2c738e"/>
<circle cx="663.0" cy="1384.3" r="4" fill="#297b8e"/>
<circle cx="723.3" cy="1314.3" r="4" fill="#297b8e"/>
<circle cx="386.7" cy="1615.3" r="4" fill="#2f6b8e"/>
<circle cx="694.3" cy="1321.1" r="4" fill="#297b8e"/>
<circle cx="693.1" cy="1361.4" r="4" fill="#38598c"/>
<circle cx="763.1" cy="1303.0" r="4" fill="#404588"/>
<circle cx="500.8" cy="1496.3" r="4" fill="#3c4f8a"/>
<circle cx="666.9" cy="1334.6" r="4" fill="#33628d"/>
<circle cx="480.6" cy="1603.5" r="4" fill="#25838e"/>
<circle cx="366.0" cy="1682.2" r="4" fill="#297b8e"/>
<circle cx="804.7" cy="1248.1" r="4" fill="#3c4f8a"/>
<circle cx="550.2" cy="1447.8" r="4" fill="#2f6b8e"/>
<circle cx="332.0" cy="1673.4" r="4" fill="#2f6b8e"/>
<circle cx="590.5" cy="1489.1" r="4" fill="#297b8e"/>
<circle cx="383.8" cy="1653.4" r="4" fill="#33628d"/>
<circle cx="549.9" cy="1429.3" r="4" fill="#25838e"/>
<circle cx="554.5" cy="1483.8" r="4" fill="#297b8e"/>
<circle cx="558.3" cy="1538.4" r="4" fill="#297b8e"/>
<circle cx="646.0" cy="1431.9" r="4" fill="#33628d"/>
<circle cx="581.2" cy="1465.4" r="4" fill="#38598c"/>
<circle cx="455.6" cy="1623.2" r="4" fill="#33628d"/>
<circle cx="530.3" cy="1506.3" r="4" fill="#2c738e"/>
<circle cx="703.7" cy="1337.5" r="4" fill="#3c4f8a"/>
<circle cx="330.0" cy="1682.6" r="4" fill="#33628d"/>
<circle cx="417.2" cy="1682.2" r="4" fill="#2f6b8e"/>
<circle cx="379.9" cy="1652.1" r="4" fill="#2f6b8e"/>
<circle cx="735.1" cy="1284.8" r="4" fill="#2f6b8e"/>
<circle cx="777.5" cy="1273.2" r="4" fill="#33628d"/>
<circle cx="543.6" cy="1440.0" r="4" fill="#25838e"/>
<circle cx="472.6" cy="1548.0" r="4" fill="#33628d"/>
<circle cx="655.0" cy="1353.7" r="4" fill="#38598c"/>
<circle cx="577.0" cy="1452.2" r="4" fill="#38598c"/>
<circle cx="587.7" cy="1390.7" r="4" fill="#2f6b8e"/>
<circle cx="668.2" cy="1377.2" r="4" fill="#25838e"/>
<circle cx="735.0" cy="1320.4" r="4" fill="#3c4f8a"/>
<circle cx="677.0" cy="1398.0" r="4" fill="#38598c"/>
<circle cx="600.3" cy="1387.1" r="4" fill="#404588"/>
<circle cx="401.8" cy="1511.7" r="4" fill="#25838e"/>
<circle cx="491.5" cy="1543.3" r="4" fill="#25838e"/>
<circle cx="434.7" cy="1633.3" r="4" fill="#297b8e"/>
<circle cx="799.5" cy="1342.6" r="4" fill="#25838e"/>
<circle cx="811.1" cy="1257.5" r="4" fill="#297b8e"/>
<circle cx="569.0" cy="1476.1" r="4" fill="#2f6b8e"/>
<circle cx="606.9" cy="1414.8" r="4" fill="#2c738e"/>
<circle cx="563.5" cy="1527.4" r="4" fill="#2c738e"/>
<circle cx="600.4" cy="1415.6" r="4" fill="#297b8e"/>
<circle cx="657.3" cy="1418.5" r="4" fill="#2f6b8e"/>
<circle cx="454.9" cy="1546.0" r="4" fill="#33628d"/>
<circle cx="808.3" cy="1219.6" r="4" fill="#25838e"/>
<circle cx="401.8" cy="1611.3" r="4" fill="#2f6b8e"/>
<circle cx="445.6" cy="1627.3" r="4" fill="#3c4f8a"/>
<circle cx="617.8" cy="1368.3" r="4" fill="#25838e"/>
<circle cx="685.9" cy="1392.0" r="4" fill="#25838e"/>
<circle cx="786.2" cy="1277.6" r="4" fill="#25838e"/>
<circle cx="674.7" cy="1345.9" r="4" fill="#25838e"/>
<circle cx="392.8" cy="1605.8" r="4" fill="#297b8e"/>
<circle cx="439.5" cy="1563.4" r="4" fill="#228c8d"/>
<circle cx="596.7" cy="1354.8" r="4" fill="#228c8d"/>
<circle cx="611.1" cy="1447.3" r="4" fill="#38598c"/>
<circle cx="697.1" cy="1347.0" r="4" fill="#2c738e"/>
<circle cx="685.3" cy="1368.2" r="4" fill="#2c738e"/>
<circle cx="337.2" cy="1706.9" r="4" fill="#228c8d"/>
<circle cx="389.7" cy="1613.6" r="4" fill="#2c738e"/>
<circle cx="599.0" cy="1383.9" r="4" fill="#2f6b8e"/>
<circle cx="483.5" cy="1593.1" r="4" fill="#2c738e"/>
<circle cx="639.5" cy="1359.0" r="4" fill="#2c738e"/>
<circle cx="674.7" cy="1335.6" r="4" fill="#3c4f8a"/>
<circle cx="587.8" cy="1453.4" r="4" fill="#228c8d"/>
<circle cx="428.0" cy="1594.0" r="4" fill="#38598c"/>
<circle cx="489.3" cy="1522.3" r="4" fill="#297b8e"/>
<circle cx="623.5" cy="1388.1" r="4" fill="#3c4f8a"/>
<circle cx="562.4" cy="1524.2" r="4" fill="#25838e"/>
<circle cx="458.3" cy="1543.0" r="4" fill="#38598c"/>
<circle cx="770.9" cy="1348.0" r="4" fill="#25838e"/>
<circle cx="603.4" cy="1472.8" r="4" fill="#2f6b8e"/>
<circle cx="611.6" cy="1400.3" r="4" fill="#38598c"/>
<circle cx="478.2" cy="1599.0" r="4" fill="#297b8e"/>
<circle cx="576.3" cy="1471.2" r="4" fill="#38598c"/>
<circle cx="592.1" cy="1456.5" r="4" fill="#25838e"/>
<circle cx="801.2" cy="1259.7" r="4" fill="#297b8e"/>
<circle cx="387.2" cy="1659.1" r="4" fill="#3c4f8a"/>
<circle cx="653.8" cy="1428.4" r="4" fill="#38598c"/>
<circle cx="714.6" cy="1332.5" r="4" fill="#2f6b8e"/>
<circle cx="702.0" cy="1353.3" r="4" fill="#25838e"/>
<circle cx="432.7" cy="1600.1" r="4" fill="#33628d"/>
<circle cx="837.9" cy="1334.9" r="4" fill="#297b8e"/>
<circle cx="685.3" cy="1348.4" r="4" fill="#297b8e"/>
<circle cx="324.3" cy="1716.1" r="4" fill="#38598c"/>
<circle cx="719.4" cy="1314.7" r="4" fill="#2c738e"/>
<circle cx="751.2" cy="1345.0" r="4" fill="#25838e"/>
<circle cx="441.1" cy="1560.3" r="4" fill="#33628d"/>
<circle cx="410.4" cy="1689.1" r="4" fill="#25838e"/>
<circle cx="398.4" cy="1518.5" r="4" fill="#2c738e"/>
<circle cx="600.8" cy="1451.3" r="4" fill="#33628d"/>
<circle cx="785.4" cy="1308.1" r="4" fill="#297b8e"/>
<circle cx="784.7" cy="1302.6" r="4" fill="#2f6b8e"/>
<circle cx="784.1" cy="1346.1" r="4" fill="#1f948c"/>
<circle cx="612.3" cy="1423.2" r="4" fill="#2c738e"/>
<circle cx="788.2" cy="1314.8" r="4" fill="#228c8d"/>
<circle cx="583.7" cy="1405.7" r="4" fill="#297b8e"/>
<circle cx="696.4" cy="1355.0" r="4" fill="#228c8d"/>
<circle cx="774.8" cy="1354.8" r="4" fill="#297b8e"/>
<circle cx="608.8" cy="1441.3" r="4" fill="#2c738e"/>
<circle cx="545.1" cy="1495.0" r="4" fill="#33628d"/>
<circle cx="443.0" cy="1582.7" r="4" fill="#2c738e"/>
<circle cx="825.0" cy="1339.2" r="4" fill="#1f948c"/>
<circle cx="346.5" cy="1631.9" r="4" fill="#297b8e"/>
<circle cx="366.9" cy="1625.5" r="4" fill="#2c738e"/>
<circle cx="535.2" cy="1523.1" r="4" fill="#1f948c"/>
<circle cx="515.6" cy="1565.7" r="4" fill="#25838e"/>
<circle cx="759.7" cy="1358.4" r="4" fill="#228c8d"/>
<circle cx="514.0" cy="1502.8" r="4" fill="#25838e"/>
<circle cx="830.0" cy="1259.2" r="4" fill="#228c8d"/>
<circle cx="557.8" cy="1457.9" r="4" fill="#1f948c"/>
<circle cx="662.6" cy="1373.2" r="4" fill="#38598c"/>
<circle cx="781.5" cy="1251.8" r="4" fill="#38598c"/>
<circle cx="713.5" cy="1328.7" r="4" fill="#25838e"/>
<circle cx="843.7" cy="1337.0" r="4" fill="#1f948c"/>
<circle cx="419.7" cy="1603.3" r="4" fill="#25838e"/>
<circle cx="763.0" cy="1354.4" r="4" fill="#297b8e"/>
<circle cx="356.1" cy="1620.8" r="4" fill="#228c8d"/>
<circle cx="766.2" cy="1369.6" r="4" fill="#297b8e"/>
<circle cx="536.1" cy="1503.9" r="4" fill="#1f948c"/>
<circle cx="511.4" cy="1561.3" r="4" fill="#38598c"/>
<circle cx="485.7" cy="1539.8" r="4" fill="#2f6b8e"/>
<circle cx="772.2" cy="1300.6" r="4" fill="#2c738e"/>
<circle cx="578.7" cy="1500.3" r="4" fill="#1f948c"/>
<circle cx="783.2" cy="1325.4" r="4" fill="#38598c"/>
<circle cx="824.7" cy="1345.2" r="4" fill="#1f948c"/>
<circle cx="550.8" cy="1464.0" r="4" fill="#2c738e"/>
<circle cx="551.7" cy="1475.1" r="4" fill="#228c8d"/>
<circle cx="620.8" cy="1362.3" r="4" fill="#38598c"/>
<circle cx="540.9" cy="1525.2" r="4" fill="#228c8d"/>
<circle cx="666.4" cy="1388.3" r="4" fill="#38598c"/>
<circle cx="447.5" cy="1618.2" r="4" fill="#1f948c"/>
<circle cx="578.8" cy="1513.6" r="4" fill="#25838e"/>
<circle cx="776.3" cy="1339.8" r="4" fill="#2c738e"/>
<circle cx="414.4" cy="1606.2" r="4" fill="#228c8d"/>
<circle cx="556.7" cy="1540.4" r="4" fill="#1f948c"/>
<circle cx="482.2" cy="1594.5" r="4" fill="#2c738e"/>
<circle cx="491.8" cy="1530.5" r="4" fill="#33628d"/>
<circle cx="604.9" cy="1383.7" r="4" fill="#33628d"/>
<circle cx="631.1" cy="1405.0" r="4" fill="#38598c"/>
<circle cx="434.2" cy="1604.2" r="4" fill="#38598c"/>
<circle cx="764.5" cy="1305.2" r="4" fill="#38598c"/>
<circle cx="444.0" cy="1635.9" r="4" fill="#38598c"/>
<circle cx="442.7" cy="1575.2" r="4" fill="#33628d"/>
<circle cx="540.2" cy="1488.2" r="4" fill="#1f948c"/>
<circle cx="748.0" cy="1391.3" r="4" fill="#2c738e"/>
<circle cx="497.6" cy="1574.8" r="4" fill="#33628d"/>
<circle cx="614.8" cy="1446.3" r="4" fill="#1f948c"/>
<circle cx="393.6" cy="1614.9" r="4" fill="#33628d"/>
<circle cx="530.6" cy="1521.5" r="4" fill="#2c738e"/>
<circle cx="467.9" cy="1622.5" r="4" fill="#25838e"/>
<circle cx="655.7" cy="1337.0" r="4" fill="#33628d"/>
<circle cx="731.3" cy="1373.0" r="4" fill="#1e9d89"/>
<circle cx="412.1" cy="1635.6" r="4" fill="#2f6b8e"/>
<circle cx="601.3" cy="1438.1" r="4" fill="#2f6b8e"/>
<circle cx="476.9" cy="1501.4" r="4" fill="#228c8d"/>
<circle cx="412.1" cy="1563.4" r="4" fill="#25838e"/>
<circle cx="473.2" cy="1611.6" r="4" fill="#1f948c"/>
<circle cx="571.0" cy="1532.1" r="4" fill="#1f948c"/>
<circle cx="799.8" cy="1225.0" r="4" fill="#25838e"/>
<circle cx="352.4" cy="1629.2" r="4" fill="#1f948c"/>
<circle cx="582.6" cy="1404.1" r="4" fill="#1e9d89"/>
<circle cx="781.1" cy="1329.1" r="4" fill="#25838e"/>
<circle cx="735.0" cy="1290.8" r="4" fill="#297b8e"/>
<circle cx="588.7" cy="1421.5" r="4" fill="#2c738e"/>
<circle cx="655.5" cy="1349.0" r="4" fill="#2f6b8e"/>
<circle cx="468.4" cy="1504.8" r="4" fill="#1f948c"/>
<circle cx="585.1" cy="1495.3" r="4" fill="#297b8e"/>
<circle cx="617.0" cy="1468.1" r="4" fill="#297b8e"/>
<circle cx="674.4" cy="1402.7" r="4" fill="#297b8e"/>
<circle cx="619.7" cy="1448.3" r="4" fill="#1f948c"/>
<circle cx="464.3" cy="1595.9" r="4" fill="#2c738e"/>
<circle cx="672.4" cy="1392.9" r="4" fill="#228c8d"/>
<circle cx="369.4" cy="1672.0" r="4" fill="#297b8e"/>
<circle cx="610.0" cy="1453.4" r="4" fill="#297b8e"/>
<circle cx="534.9" cy="1525.2" r="4" fill="#33628d"/>
<circle cx="668.2" cy="1342.1" r="4" fill="#2f6b8e"/>
<circle cx="789.6" cy="1345.6" r="4" fill="#2c738e"/>
<circle cx="370.5" cy="1644.3" r="4" fill="#2c738e"/>
<circle cx="637.6" cy="1356.4" r="4" fill="#2f6b8e"/>
<circle cx="787.4" cy="1291.0" r="4" fill="#2f6b8e"/>
<circle cx="627.6" cy="1358.7" r="4" fill="#25838e"/>
<circle cx="543.5" cy="1515.2" r="4" fill="#33628d"/>
<circle cx="368.4" cy="1613.3" r="4" fill="#2c738e"/>
<circle cx="539.8" cy="1442.8" r="4" fill="#228c8d"/>
<circle cx="586.6" cy="1396.6" r="4" fill="#2f6b8e"/>
<circle cx="395.7" cy="1649.9" r="4" fill="#297b8e"/>
<circle cx="596.2" cy="1478.4" r="4" fill="#25838e"/>
<circle cx="615.6" cy="1393.9" r="4" fill="#1f948c"/>
<circle cx="426.0" cy="1553.5" r="4" fill="#297b8e"/>
<circle cx="795.0" cy="1334.5" r="4" fill="#2c738e"/>
<circle cx="396.7" cy="1695.9" r="4" fill="#2f6b8e"/>
<circle cx="636.6" cy="1360.5" r="4" fill="#33628d"/>
<circle cx="623.2" cy="1408.7" r="4" fill="#228c8d"/>
<circle cx="534.1" cy="1489.9" r="4" fill="#2f6b8e"/>
<circle cx="607.3" cy="1401.5" r="4" fill="#33628d"/>
<circle cx="564.5" cy="1416.3" r="4" fill="#25838e"/>
<circle cx="556.5" cy="1496.6" r="4" fill="#2f6b8e"/>
<circle cx="355.9" cy="1661.1" r="4" fill="#1f948c"/>
<circle cx="605.0" cy="1443.6" r="4" fill="#21a585"/>
<circle cx="378.3" cy="1593.9" r="4" fill="#1f948c"/>
<circle cx="558.1" cy="1543.9" r="4" fill="#1f948c"/>
<circle cx="773.8" cy="1345.5" r="4" fill="#1e9d89"/>
<circle cx="619.5" cy="1456.2" r="4" fill="#297b8e"/>
<circle cx="717.7" cy="1346.9" r="4" fill="#25838e"/>
<circle cx="517.6" cy="1458.1" r="4" fill="#25838e"/>
<circle cx="582.8" cy="1512.2" r="4" fill="#21a585"/>
<circle cx="532.6" cy="1485.5" r="4" fill="#1f948c"/>
<circle cx="450.6" cy="1575.9" r="4" fill="#2f6b8e"/>
<circle cx="600.9" cy="1360.7" r="4" fill="#228c8d"/>
<circle cx="744.7" cy="1368.4" r="4" fill="#2f6b8e"/>
<circle cx="534.3" cy="1552.2" r="4" fill="#21a585"/>
<circle cx="592.9" cy="1396.2" r="4" fill="#297b8e"/>
<circle cx="455.9" cy="1637.9" r="4" fill="#297b8e"/>
<circle cx="662.8" cy="1441.4" r="4" fill="#1e9d89"/>
<circle cx="696.0" cy="1395.8" r="4" fill="#2c738e"/>
<circle cx="772.0" cy="1315.7" r="4" fill="#21a585"/>
<circle cx="632.7" cy="1350.3" r="4" fill="#21a585"/>
<circle cx="596.1" cy="1442.6" r="4" fill="#297b8e"/>
<circle cx="415.5" cy="1509.9" r="4" fill="#1f948c"/>
<circle cx="422.3" cy="1508.2" r="4" fill="#25838e"/>
<circle cx="523.5" cy="1474.9" r="4" fill="#228c8d"/>
<circle cx="833.4" cy="1334.2" r="4" fill="#228c8d"/>
<circle cx="422.6" cy="1590.7" r="4" fill="#297b8e"/>
<circle cx="647.6" cy="1442.5" r="4" fill="#21a585"/>
<circle cx="367.3" cy="1673.5" r="4" fill="#297b8e"/>
<circle cx="425.0" cy="1554.1" r="4" fill="#228c8d"/>
<circle cx="328.5" cy="1689.7" r="4" fill="#2c738e"/>
<circle cx="777.1" cy="1377.9" r="4" fill="#25838e"/>
<circle cx="465.2" cy="1543.8" r="4" fill="#25838e"/>
<circle cx="403.5" cy="1598.1" r="4" fill="#21a585"/>
<circle cx="706.0" cy="1353.0" r="4" fill="#297b8e"/>
<circle cx="573.7" cy="1459.0" r="4" fill="#1e9d89"/>
<circle cx="650.2" cy="1341.5" r="4" fill="#25838e"/>
<circle cx="572.1" cy="1474.2" r="4" fill="#2f6b8e"/>
<circle cx="377.2" cy="1585.6" r="4" fill="#21a585"/>
<circle cx="347.9" cy="1622.3" r="4" fill="#21a585"/>
<circle cx="430.1" cy="1572.2" r="4" fill="#228c8d"/>
<circle cx="423.5" cy="1652.6" r="4" fill="#1e9d89"/>
<circle cx="608.8" cy="1363.0" r="4" fill="#25838e"/>
<circle cx="448.3" cy="1607.8" r="4" fill="#1f948c"/>
<circle cx="760.6" cy="1375.1" r="4" fill="#1e9d89"/>
<circle cx="508.8" cy="1592.9" r="4" fill="#228c8d"/>
<circle cx="620.3" cy="1360.3" r="4" fill="#2c738e"/>
<circle cx="509.2" cy="1553.1" r="4" fill="#1f948c"/>
<circle cx="503.6" cy="1547.3" r="4" fill="#25838e"/>
<circle cx="412.7" cy="1578.5" r="4" fill="#2c738e"/>
<circle cx="693.4" cy="1316.8" r="4" fill="#2f6b8e"/>
<circle cx="569.6" cy="1417.3" r="4" fill="#21a585"/>
<circle cx="579.2" cy="1458.2" r="4" fill="#228c8d"/>
<circle cx="680.4" cy="1346.3" r="4" fill="#297b8e"/>
<circle cx="521.8" cy="1477.8" r="4" fill="#21a585"/>
<circle cx="654.5" cy="1460.2" r="4" fill="#26ad81"/>
<circle cx="622.3" cy="1413.7" r="4" fill="#228c8d"/>
<circle cx="619.4" cy="1373.7" r="4" fill="#297b8e"/>
<circle cx="673.5" cy="1371.7" r="4" fill="#2c738e"/>
<circle cx="412.2" cy="1585.5" r="4" fill="#2c738e"/>
<circle cx="699.3" cy="1362.4" r="4" fill="#25838e"/>
<circle cx="729.2" cy="1317.3" r="4" fill="#26ad81"/>
<circle cx="576.1" cy="1434.1" r="4" fill="#228c8d"/>
<circle cx="777.7" cy="1314.8" r="4" fill="#297b8e"/>
<circle cx="505.1" cy="1607.3" r="4" fill="#21a585"/>
<circle cx="524.8" cy="1491.9" r="4" fill="#2c738e"/>
<circle cx="763.0" cy="1327.9" r="4" fill="#228c8d"/>
<circle cx="687.2" cy="1398.0" r="4" fill="#21a585"/>
<circle cx="515.7" cy="1539.5" r="4" fill="#26ad81"/>
<circle cx="798.6" cy="1255.2" r="4" fill="#1f948c"/>
<circle cx="564.6" cy="1412.3" r="4" fill="#228c8d"/>
<circle cx="768.7" cy="1318.7" r="4" fill="#25838e"/>
<circle cx="527.3" cy="1524.6" r="4" fill="#21a585"/>
<circle cx="450.5" cy="1622.1" r="4" fill="#2c738e"/>
<circle cx="505.3" cy="1554.7" r="4" fill="#1e9d89"/>
<circle cx="370.7" cy="1605.5" r="4" fill="#26ad81"/>
<circle cx="735.6" cy="1344.0" r="4" fill="#297b8e"/>
<circle cx="556.3" cy="1493.8" r="4" fill="#228c8d"/>
<circle cx="475.7" cy="1611.3" r="4" fill="#21a585"/>
<circle cx="557.5" cy="1528.3" r="4" fill="#297b8e"/>
<circle cx="533.2" cy="1555.2" r="4" fill="#1e9d89"/>
<circle cx="506.4" cy="1535.9" r="4" fill="#26ad81"/>
<circle cx="528.2" cy="1461.5" r="4" fill="#21a585"/>
<circle cx="696.2" cy="1320.3" r="4" fill="#228c8d"/>
<circle cx="738.4" cy="1310.8" r="4" fill="#21a585"/>
<circle cx="747.8" cy="1396.8" r="4" fill="#228c8d"/>
<circle cx="675.5" cy="1367.7" r="4" fill="#26ad81"/>
<circle cx="442.9" cy="1620.3" r="4" fill="#228c8d"/>
<circle cx="525.3" cy="1514.1" r="4" fill="#26ad81"/>
<circle cx="477.3" cy="1607.5" r="4" fill="#228c8d"/>
<circle cx="480.6" cy="1570.5" r="4" fill="#1e9d89"/>
<circle cx="431.9" cy="1612.0" r="4" fill="#1f948c"/>
<circle cx="668.7" cy="1412.4" r="4" fill="#25838e"/>
<circle cx="410.4" cy="1618.6" r="4" fill="#228c8d"/>
<circle cx="387.0" cy="1662.1" r="4" fill="#1e9d89"/>
<circle cx="590.6" cy="1355.4" r="4" fill="#1e9d89"/>
<circle cx="497.9" cy="1597.5" r="4" fill="#26ad81"/>
<circle cx="392.3" cy="1622.9" r="4" fill="#228c8d"/>
<circle cx="731.4" cy="1346.3" r="4" fill="#1e9d89"/>
<circle cx="392.4" cy="1607.3" r="4" fill="#2c738e"/>
<circle cx="606.9" cy="1367.5" r="4" fill="#26ad81"/>
<circle cx="589.4" cy="1497.5" r="4" fill="#26ad81"/>
<circle cx="597.9" cy="1484.6" r="4" fill="#26ad81"/>
<circle cx="774.4" cy="1338.2" r="4" fill="#297b8e"/>
<circle cx="665.2" cy="1327.4" r="4" fill="#25838e"/>
<circle cx="532.0" cy="1500.6" r="4" fill="#297b8e"/>
<circle cx="345.7" cy="1643.4" r="4" fill="#297b8e"/>
<circle cx="740.2" cy="1329.7" r="4" fill="#228c8d"/>
<circle cx="583.5" cy="1382.1" r="4" fill="#26ad81"/>
<circle cx="589.9" cy="1423.2" r="4" fill="#25838e"/>
<circle cx="562.0" cy="1484.9" r="4" fill="#2c738e"/>
<circle cx="743.9" cy="1361.9" r="4" fill="#1e9d89"/>
<circle cx="692.7" cy="1385.2" r="4" fill="#1f948c"/>
<circle cx="670.8" cy="1329.5" r="4" fill="#31b57b"/>
<circle cx="677.4" cy="1424.3" r="4" fill="#228c8d"/>
<circle cx="475.4" cy="1628.2" r="4" fill="#1f948c"/>
<circle cx="511.3" cy="1536.9" r="4" fill="#31b57b"/>
<circle cx="479.4" cy="1629.2" r="4" fill="#21a585"/>
<circle cx="555.8" cy="1409.0" r="4" fill="#26ad81"/>
<circle cx="553.7" cy="1429.9" r="4" fill="#26ad81"/>
<circle cx="766.6" cy="1326.6" r="4" fill="#228c8d"/>
<circle cx="494.4" cy="1539.8" r="4" fill="#1f948c"/>
<circle cx="525.6" cy="1485.4" r="4" fill="#1f948c"/>
<circle cx="701.1" cy="1378.0" r="4" fill="#31b57b"/>
<circle cx="565.6" cy="1514.3" r="4" fill="#25838e"/>
<circle cx="745.7" cy="1371.6" r="4" fill="#26ad81"/>
<circle cx="733.2" cy="1347.3" r="4" fill="#31b57b"/>
<circle cx="644.6" cy="1353.7" r="4" fill="#25838e"/>
<circle cx="819.8" cy="1252.4" r="4" fill="#1f948c"/>
<circle cx="379.9" cy="1604.4" r="4" fill="#21a585"/>
<circle cx="329.6" cy="1631.0" r="4" fill="#31b57b"/>
<circle cx="745.0" cy="1337.3" r="4" fill="#1e9d89"/>
<circle cx="567.8" cy="1422.0" r="4" fill="#1f948c"/>
<circle cx="774.8" cy="1310.1" r="4" fill="#26ad81"/>
<circle cx="519.4" cy="1577.8" r="4" fill="#228c8d"/>
<circle cx="550.8" cy="1424.1" r="4" fill="#21a585"/>
<circle cx="695.6" cy="1408.2" r="4" fill="#31b57b"/>
<circle cx="617.8" cy="1377.7" r="4" fill="#1f948c"/>
<circle cx="446.0" cy="1588.1" r="4" fill="#1e9d89"/>
<circle cx="680.3" cy="1424.5" r="4" fill="#31b57b"/>
<circle cx="553.9" cy="1524.9" r="4" fill="#1e9d89"/>
<circle cx="570.5" cy="1512.6" r="4" fill="#297b8e"/>
<circle cx="587.8" cy="1431.5" r="4" fill="#297b8e"/>
<circle cx="659.4" cy="1356.3" r="4" fill="#31b57b"/>
<circle cx="615.8" cy="1459.1" r="4" fill="#1e9d89"/>
<circle cx="593.8" cy="1392.0" r="4" fill="#21a585"/>
<circle cx="409.6" cy="1634.7" r="4" fill="#25838e"/>
<circle cx="632.3" cy="1351.9" r="4" fill="#25838e"/>
<circle cx="661.6" cy="1377.8" r="4" fill="#1f948c"/>
<circle cx="485.1" cy="1604.1" r="4" fill="#1f948c"/>
<circle cx="806.1" cy="1253.8" r="4" fill="#1f948c"/>
<circle cx="683.6" cy="1368.2" r="4" fill="#21a585"/>
<circle cx="513.1" cy="1531.5" r="4" fill="#31b57b"/>
<circle cx="472.4" cy="1550.5" r="4" fill="#31b57b"/>
<circle cx="401.7" cy="1565.5" r="4" fill="#21a585"/>
<circle cx="464.3" cy="1541.7" r="4" fill="#25838e"/>
<circle cx="405.6" cy="1641.9" r="4" fill="#228c8d"/>
<circle cx="776.8" cy="1342.8" r="4" fill="#31b57b"/>
<circle cx="757.6" cy="1328.6" r="4" fill="#25838e"/>
<circle cx="473.4" cy="1572.0" r="4" fill="#297b8e"/>
<circle cx="445.8" cy="1577.2" r="4" fill="#21a585"/>
<circle cx="573.0" cy="1409.1" r="4" fill="#1f948c"/>
<circle cx="595.5" cy="1443.6" r="4" fill="#297b8e"/>
<circle cx="758.0" cy="1349.3" r="4" fill="#1e9d89"/>
<circle cx="469.4" cy="1608.8" r="4" fill="#26ad81"/>
<circle cx="501.4" cy="1613.1" r="4" fill="#26ad81"/>
<circle cx="372.3" cy="1676.3" r="4" fill="#1e9d89"/>
<circle cx="382.5" cy="1587.3" r="4" fill="#1f948c"/>
<circle cx="413.8" cy="1643.6" r="4" fill="#21a585"/>
<circle cx="600.0" cy="1421.1" r="4" fill="#25838e"/>
<circle cx="533.9" cy="1475.0" r="4" fill="#1f948c"/>
<circle cx="627.4" cy="1399.3" r="4" fill="#1e9d89"/>
<circle cx="516.5" cy="1448.2" r="4" fill="#31b57b"/>
<circle cx="442.8" cy="1627.6" r="4" fill="#31b57b"/>
<circle cx="634.6" cy="1341.0" r="4" fill="#21a585"/>
<circle cx="727.7" cy="1326.6" r="4" fill="#228c8d"/>
<circle cx="346.7" cy="1627.7" r="4" fill="#21a585"/>
<circle cx="462.4" cy="1534.0" r="4" fill="#1e9d89"/>
<circle cx="663.9" cy="1429.7" r="4" fill="#1f948c"/>
<circle cx="533.2" cy="1534.3" r="4" fill="#1e9d89"/>
<circle cx="364.5" cy="1649.8" r="4" fill="#21a585"/>
<circle cx="489.7" cy="1614.7" r="4" fill="#31b57b"/>
<circle cx="658.2" cy="1341.1" r="4" fill="#1e9d89"/>
<circle cx="405.2" cy="1692.5" r="4" fill="#1f948c"/>
<circle cx="408.6" cy="1504.8" r="4" fill="#3fbc73"/>
<circle cx="773.1" cy="1334.6" r="4" fill="#1e9d89"/>
<circle cx="641.2" cy="1351.6" r="4" fill="#1f948c"/>
<circle cx="773.1" cy="1318.0" r="4" fill="#3fbc73"/>
<circle cx="701.8" cy="1375.2" r="4" fill="#31b57b"/>
<circle cx="395.0" cy="1527.0" r="4" fill="#1f948c"/>
<circle cx="789.0" cy="1339.5" r="4" fill="#228c8d"/>
<circle cx="476.8" cy="1538.7" r="4" fill="#1f948c"/>
<circle cx="734.4" cy="1305.6" r="4" fill="#1f948c"/>
<circle cx="399.3" cy="1583.4" r="4" fill="#31b57b"/>
<circle cx="340.0" cy="1641.7" r="4" fill="#1f948c"/>
<circle cx="514.0" cy="1459.2" r="4" fill="#26ad81"/>
<circle cx="778.8" cy="1325.6" r="4" fill="#31b57b"/>
<circle cx="652.5" cy="1337.8" r="4" fill="#31b57b"/>
<circle cx="465.3" cy="1645.6" r="4" fill="#21a585"/>
<circle cx="797.5" cy="1338.1" r="4" fill="#26ad81"/>
<circle cx="354.4" cy="1630.5" r="4" fill="#3fbc73"/>
<circle cx="508.6" cy="1553.9" r="4" fill="#3fbc73"/>
<circle cx="475.1" cy="1580.1" r="4" fill="#228c8d"/>
<circle cx="450.7" cy="1552.0" r="4" fill="#228c8d"/>
<circle cx="563.2" cy="1511.4" r="4" fill="#3fbc73"/>
<circle cx="658.4" cy="1331.3" r="4" fill="#31b57b"/>
<circle cx="723.5" cy="1330.1" r="4" fill="#228c8d"/>
<circle cx="498.9" cy="1573.2" r="4" fill="#3fbc73"/>
<circle cx="769.2" cy="1374.5" r="4" fill="#25838e"/>
<circle cx="602.5" cy="1467.0" r="4" fill="#21a585"/>
<circle cx="450.1" cy="1645.2" r="4" fill="#1e9d89"/>
<circle cx="557.2" cy="1465.9" r="4" fill="#21a585"/>
<circle cx="372.5" cy="1620.0" r="4" fill="#21a585"/>
<circle cx="719.4" cy="1351.2" r="4" fill="#228c8d"/>
<circle cx="755.1" cy="1339.4" r="4" fill="#228c8d"/>
<circle cx="462.1" cy="1624.4" r="4" fill="#25838e"/>
<circle cx="419.7" cy="1560.9" r="4" fill="#228c8d"/>
<circle cx="628.7" cy="1445.8" r="4" fill="#31b57b"/>
<circle cx="643.6" cy="1385.8" r="4" fill="#3fbc73"/>
<circle cx="620.9" cy="1472.3" r="4" fill="#21a585"/>
<circle cx="601.1" cy="1429.8" r="4" fill="#3fbc73"/>
<circle cx="494.3" cy="1600.3" r="4" fill="#21a585"/>
<circle cx="708.4" cy="1386.9" r="4" fill="#31b57b"/>
<circle cx="634.6" cy="1361.5" r="4" fill="#3fbc73"/>
<circle cx="406.6" cy="1623.1" r="4" fill="#31b57b"/>
<circle cx="555.7" cy="1410.8" r="4" fill="#3fbc73"/>
<circle cx="762.2" cy="1334.5" r="4" fill="#21a585"/>
<circle cx="513.8" cy="1584.7" r="4" fill="#26ad81"/>
<circle cx="558.4" cy="1418.9" r="4" fill="#50c46a"/>
<circle cx="507.4" cy="1507.8" r="4" fill="#31b57b"/>
<circle cx="391.3" cy="1589.6" r="4" fill="#1f948c"/>
<circle cx="352.3" cy="1649.4" r="4" fill="#50c46a"/>
<circle cx="361.0" cy="1641.8" r="4" fill="#3fbc73"/>
<circle cx="507.3" cy="1530.7" r="4" fill="#228c8d"/>
<circle cx="574.5" cy="1405.6" r="4" fill="#3fbc73"/>
<circle cx="456.4" cy="1606.5" r="4" fill="#31b57b"/>
<circle cx="821.4" cy="1341.9" r="4" fill="#1e9d89"/>
<circle cx="591.1" cy="1380.8" r="4" fill="#31b57b"/>
<circle cx="746.5" cy="1348.6" r="4" fill="#1e9d89"/>
<circle cx="334.4" cy="1700.5" r="4" fill="#26ad81"/>
<circle cx="519.7" cy="1463.3" r="4" fill="#228c8d"/>
<circle cx="522.7" cy="1534.0" r="4" fill="#1e9d89"/>
<circle cx="746.3" cy="1337.1" r="4" fill="#21a585"/>
<circle cx="791.0" cy="1245.9" r="4" fill="#228c8d"/>
<circle cx="481.4" cy="1614.6" r="4" fill="#31b57b"/>
<circle cx="570.7" cy="1569.7" r="4" fill="#26ad81"/>
<circle cx="554.2" cy="1443.9" r="4" fill="#50c46a"/>
<circle cx="630.3" cy="1456.9" r="4" fill="#1f948c"/>
<circle cx="584.8" cy="1504.7" r="4" fill="#1f948c"/>
<circle cx="444.5" cy="1508.2" r="4" fill="#228c8d"/>
<circle cx="368.3" cy="1662.1" r="4" fill="#3fbc73"/>
<circle cx="449.6" cy="1599.2" r="4" fill="#50c46a"/>
<circle cx="506.6" cy="1617.5" r="4" fill="#50c46a"/>
<circle cx="607.4" cy="1496.4" r="4" fill="#1e9d89"/>
<circle cx="508.2" cy="1579.5" r="4" fill="#21a585"/>
<circle cx="707.4" cy="1330.9" r="4" fill="#3fbc73"/>
<circle cx="546.1" cy="1542.7" r="4" fill="#50c46a"/>
<circle cx="573.3" cy="1517.6" r="4" fill="#3fbc73"/>
<circle cx="786.3" cy="1273.3" r="4" fill="#21a585"/>
<circle cx="416.1" cy="1577.5" r="4" fill="#1f948c"/>
<circle cx="648.4" cy="1462.2" r="4" fill="#21a585"/>
<circle cx="608.4" cy="1399.0" r="4" fill="#26ad81"/>
<circle cx="552.1" cy="1470.2" r="4" fill="#1e9d89"/>
<circle cx="657.1" cy="1433.1" r="4" fill="#26ad81"/>
<circle cx="553.9" cy="1517.2" r="4" fill="#21a585"/>
<circle cx="482.8" cy="1536.1" r="4" fill="#1f948c"/>
<circle cx="407.9" cy="1566.3" r="4" fill="#3fbc73"/>
<circle cx="386.3" cy="1642.1" r="4" fill="#26ad81"/>
<circle cx="604.7" cy="1429.2" r="4" fill="#26ad81"/>
<circle cx="562.3" cy="1396.9" r="4" fill="#31b57b"/>
<circle cx="452.4" cy="1636.4" r="4" fill="#50c46a"/>
<circle cx="573.1" cy="1403.5" r="4" fill="#50c46a"/>
<circle cx="620.6" cy="1476.5" r="4" fill="#50c46a"/>
<circle cx="681.5" cy="1386.4" r="4" fill="#3fbc73"/>
<circle cx="824.3" cy="1336.6" r="4" fill="#26ad81"/>
<circle cx="664.8" cy="1408.7" r="4" fill="#26ad81"/>
<circle cx="549.3" cy="1555.5" r="4" fill="#50c46a"/>
<circle cx="372.0" cy="1608.8" r="4" fill="#31b57b"/>
<circle cx="430.0" cy="1597.4" r="4" fill="#1f948c"/>
<circle cx="427.4" cy="1673.7" r="4" fill="#3fbc73"/>
<circle cx="405.2" cy="1525.3" r="4" fill="#1f948c"/>
<circle cx="753.6" cy="1384.7" r="4" fill="#1e9d89"/>
<circle cx="685.5" cy="1416.5" r="4" fill="#3fbc73"/>
<circle cx="638.3" cy="1420.3" r="4" fill="#31b57b"/>
<circle cx="535.0" cy="1461.3" r="4" fill="#26ad81"/>
<circle cx="346.4" cy="1648.4" r="4" fill="#228c8d"/>
<circle cx="483.7" cy="1523.7" r="4" fill="#31b57b"/>
<circle cx="545.4" cy="1457.3" r="4" fill="#21a585"/>
<circle cx="687.6" cy="1420.5" r="4" fill="#50c46a"/>
<circle cx="799.3" cy="1260.9" r="4" fill="#1f948c"/>
<circle cx="418.4" cy="1624.7" r="4" fill="#21a585"/>
<circle cx="731.7" cy="1349.3" r="4" fill="#1e9d89"/>
<circle cx="447.8" cy="1595.6" r="4" fill="#21a585"/>
<circle cx="731.4" cy="1288.1" r="4" fill="#21a585"/>
<circle cx="654.6" cy="1437.0" r="4" fill="#26ad81"/>
<circle cx="585.1" cy="1520.1" r="4" fill="#50c46a"/>
<circle cx="517.6" cy="1548.0" r="4" fill="#50c46a"/>
<circle cx="380.1" cy="1663.9" r="4" fill="#1f948c"/>
<circle cx="678.6" cy="1358.8" r="4" fill="#228c8d"/>
<circle cx="641.2" cy="1435.0" r="4" fill="#50c46a"/>
<circle cx="696.5" cy="1368.2" r="4" fill="#1f948c"/>
<circle cx="653.7" cy="1410.8" r="4" fill="#228c8d"/>
<circle cx="721.3" cy="1379.3" r="4" fill="#26ad81"/>
<circle cx="832.8" cy="1334.6" r="4" fill="#50c46a"/>
<circle cx="734.7" cy="1358.8" r="4" fill="#21a585"/>
<circle cx="494.2" cy="1522.6" r="4" fill="#50c46a"/>
<circle cx="689.6" cy="1409.3" r="4" fill="#63cb5f"/>
<circle cx="810.0" cy="1345.7" r="4" fill="#3fbc73"/>
<circle cx="534.8" cy="1547.4" r="4" fill="#63cb5f"/>
<circle cx="689.3" cy="1356.0" r="4" fill="#21a585"/>
<circle cx="463.5" cy="1553.7" r="4" fill="#31b57b"/>
<circle cx="387.2" cy="1586.8" r="4" fill="#63cb5f"/>
<circle cx="647.5" cy="1435.0" r="4" fill="#3fbc73"/>
<circle cx="584.2" cy="1428.1" r="4" fill="#1e9d89"/>
<circle cx="545.9" cy="1496.8" r="4" fill="#3fbc73"/>
<circle cx="591.7" cy="1357.3" r="4" fill="#1f948c"/>
<circle cx="474.7" cy="1634.5" r="4" fill="#31b57b"/>
<circle cx="427.1" cy="1643.9" r="4" fill="#63cb5f"/>
<circle cx="787.9" cy="1349.3" r="4" fill="#26ad81"/>
<circle cx="631.9" cy="1441.5" r="4" fill="#50c46a"/>
<circle cx="464.4" cy="1560.2" r="4" fill="#3fbc73"/>
<circle cx="446.4" cy="1615.0" r="4" fill="#63cb5f"/>
<circle cx="598.0" cy="1488.0" r="4" fill="#1e9d89"/>
<circle cx="675.7" cy="1412.6" r="4" fill="#50c46a"/>
<circle cx="666.3" cy="1434.2" r="4" fill="#26ad81"/>
<circle cx="643.2" cy="1356.5" r="4" fill="#21a585"/>
<circle cx="836.8" cy="1346.2" r="4" fill="#3fbc73"/>
<circle cx="639.6" cy="1470.5" r="4" fill="#63cb5f"/>
<circle cx="531.9" cy="1542.4" r="4" fill="#3fbc73"/>
<circle cx="367.9" cy="1599.4" r="4" fill="#3fbc73"/>
<circle cx="336.1" cy="1662.8" r="4" fill="#50c46a"/>
<circle cx="330.3" cy="1637.6" r="4" fill="#26ad81"/>
<circle cx="471.7" cy="1540.5" r="4" fill="#21a585"/>
<circle cx="568.7" cy="1534.0" r="4" fill="#63cb5f"/>
<circle cx="331.2" cy="1657.0" r="4" fill="#63cb5f"/>
<circle cx="432.4" cy="1642.3" r="4" fill="#63cb5f"/>
<circle cx="635.2" cy="1493.9" r="4" fill="#63cb5f"/>
<circle cx="537.7" cy="1470.9" r="4" fill="#31b57b"/>
<circle cx="572.8" cy="1439.5" r="4" fill="#3fbc73"/>
<circle cx="630.8" cy="1365.5" r="4" fill="#1e9d89"/>
<circle cx="412.3" cy="1623.7" r="4" fill="#26ad81"/>
<circle cx="485.4" cy="1559.7" r="4" fill="#3fbc73"/>
<circle cx="557.1" cy="1573.1" r="4" fill="#26ad81"/>
<circle cx="564.9" cy="1396.7" r="4" fill="#31b57b"/>
<circle cx="614.0" cy="1427.8" r="4" fill="#1e9d89"/>
<circle cx="485.5" cy="1614.4" r="4" fill="#21a585"/>
<circle cx="540.6" cy="1473.8" r="4" fill="#50c46a"/>
<circle cx="759.5" cy="1385.9" r="4" fill="#1f948c"/>
<circle cx="761.1" cy="1322.8" r="4" fill="#26ad81"/>
<circle cx="617.1" cy="1465.8" r="4" fill="#1e9d89"/>
<circle cx="656.7" cy="1452.7" r="4" fill="#31b57b"/>
<circle cx="594.5" cy="1497.2" r="4" fill="#1e9d89"/>
<circle cx="413.6" cy="1573.4" r="4" fill="#3fbc73"/>
<circle cx="506.3" cy="1456.9" r="4" fill="#31b57b"/>
<circle cx="744.7" cy="1318.0" r="4" fill="#26ad81"/>
<circle cx="644.8" cy="1415.8" r="4" fill="#3fbc73"/>
<circle cx="437.4" cy="1616.7" r="4" fill="#1f948c"/>
<circle cx="412.3" cy="1633.1" r="4" fill="#63cb5f"/>
<circle cx="451.0" cy="1632.2" r="4" fill="#50c46a"/>
<circle cx="734.0" cy="1316.3" r="4" fill="#21a585"/>
<circle cx="634.2" cy="1386.2" r="4" fill="#63cb5f"/>
<circle cx="489.8" cy="1566.0" r="4" fill="#63cb5f"/>
<circle cx="608.8" cy="1360.4" r="4" fill="#3fbc73"/>
<circle cx="568.5" cy="1552.1" r="4" fill="#3fbc73"/>
<circle cx="794.7" cy="1238.0" r="4" fill="#31b57b"/>
<circle cx="455.3" cy="1600.9" r="4" fill="#50c46a"/>
<circle cx="446.0" cy="1639.8" r="4" fill="#1f948c"/>
<circle cx="802.8" cy="1334.4" r="4" fill="#3fbc73"/>
<circle cx="445.3" cy="1539.3" r="4" fill="#3fbc73"/>
<circle cx="537.0" cy="1512.2" r="4" fill="#31b57b"/>
<circle cx="659.6" cy="1409.1" r="4" fill="#3fbc73"/>
<circle cx="611.3" cy="1385.2" r="4" fill="#50c46a"/>
<circle cx="631.6" cy="1349.9" r="4" fill="#77d153"/>
<circle cx="507.5" cy="1607.4" r="4" fill="#50c46a"/>
<circle cx="574.5" cy="1431.8" r="4" fill="#77d153"/>
<circle cx="416.3" cy="1583.7" r="4" fill="#31b57b"/>
<circle cx="407.7" cy="1572.8" r="4" fill="#63cb5f"/>
<circle cx="354.4" cy="1679.9" r="4" fill="#63cb5f"/>
<circle cx="766.4" cy="1295.1" r="4" fill="#21a585"/>
<circle cx="508.5" cy="1575.0" r="4" fill="#1e9d89"/>
<circle cx="603.7" cy="1398.1" r="4" fill="#21a585"/>
<circle cx="540.3" cy="1550.2" r="4" fill="#63cb5f"/>
<circle cx="654.4" cy="1432.4" r="4" fill="#63cb5f"/>
<circle cx="573.8" cy="1487.1" r="4" fill="#1e9d89"/>
<circle cx="401.5" cy="1580.3" r="4" fill="#1e9d89"/>
<circle cx="675.8" cy="1382.6" r="4" fill="#50c46a"/>
<circle cx="782.4" cy="1298.5" r="4" fill="#21a585"/>
<circle cx="581.1" cy="1433.7" r="4" fill="#3fbc73"/>
<circle cx="604.3" cy="1457.1" r="4" fill="#3fbc73"/>
<circle cx="451.1" cy="1597.2" r="4" fill="#63cb5f"/>
<circle cx="739.4" cy="1353.4" r="4" fill="#77d153"/>
<circle cx="743.4" cy="1285.6" r="4" fill="#31b57b"/>
<circle cx="776.2" cy="1301.7" r="4" fill="#31b57b"/>
<circle cx="391.8" cy="1580.2" r="4" fill="#50c46a"/>
<circle cx="371.8" cy="1588.3" r="4" fill="#26ad81"/>
<circle cx="515.4" cy="1508.6" r="4" fill="#31b57b"/>
<circle cx="676.9" cy="1336.7" r="4" fill="#3fbc73"/>
<circle cx="513.8" cy="1598.2" r="4" fill="#50c46a"/>
<circle cx="318.1" cy="1654.2" r="4" fill="#50c46a"/>
<circle cx="639.5" cy="1428.7" r="4" fill="#21a585"/>
<circle cx="495.0" cy="1625.8" r="4" fill="#77d153"/>
<circle cx="719.0" cy="1374.9" r="4" fill="#63cb5f"/>
<circle cx="791.9" cy="1340.3" r="4" fill="#77d153"/>
<circle cx="461.5" cy="1687.4" r="4" fill="#50c46a"/>
<circle cx="417.9" cy="1556.6" r="4" fill="#50c46a"/>
<circle cx="729.1" cy="1363.7" r="4" fill="#21a585"/>
<circle cx="401.4" cy="1590.8" r="4" fill="#3fbc73"/>
<circle cx="446.4" cy="1633.1" r="4" fill="#31b57b"/>
<circle cx="422.3" cy="1525.3" r="4" fill="#77d153"/>
<circle cx="423.8" cy="1648.4" r="4" fill="#26ad81"/>
<circle cx="341.6" cy="1627.8" r="4" fill="#77d153"/>
<circle cx="740.1" cy="1341.8" r="4" fill="#77d153"/>
<circle cx="552.4" cy="1510.4" r="4" fill="#3fbc73"/>
<circle cx="807.2" cy="1347.0" r="4" fill="#3fbc73"/>
<circle cx="669.6" cy="1405.1" r="4" fill="#63cb5f"/>
<circle cx="423.9" cy="1585.2" r="4" fill="#1e9d89"/>
<circle cx="568.8" cy="1522.8" r="4" fill="#63cb5f"/>
<circle cx="588.5" cy="1459.0" r="4" fill="#31b57b"/>
<circle cx="675.0" cy="1349.3" r="4" fill="#63cb5f"/>
<circle cx="718.0" cy="1364.3" r="4" fill="#77d153"/>
<circle cx="619.7" cy="1401.6" r="4" fill="#21a585"/>
<circle cx="553.9" cy="1416.8" r="4" fill="#1e9d89"/>
<circle cx="541.8" cy="1512.9" r="4" fill="#21a585"/>
<circle cx="768.1" cy="1292.7" r="4" fill="#26ad81"/>
<circle cx="610.0" cy="1392.7" r="4" fill="#1e9d89"/>
<circle cx="610.5" cy="1448.1" r="4" fill="#77d153"/>
<circle cx="695.0" cy="1343.6" r="4" fill="#1e9d89"/>
<circle cx="740.0" cy="1380.6" r="4" fill="#50c46a"/>
<circle cx="401.1" cy="1592.5" r="4" fill="#26ad81"/>
<circle cx="328.4" cy="1641.2" r="4" fill="#26ad81"/>
<circle cx="518.1" cy="1523.1" r="4" fill="#3fbc73"/>
<circle cx="750.7" cy="1309.6" r="4" fill="#63cb5f"/>
<circle cx="429.3" cy="1551.0" r="4" fill="#21a585"/>
<circle cx="766.8" cy="1337.8" r="4" fill="#26ad81"/>
<circle cx="452.6" cy="1584.7" r="4" fill="#3fbc73"/>
<circle cx="765.8" cy="1375.2" r="4" fill="#31b57b"/>
<circle cx="472.9" cy="1641.3" r="4" fill="#3fbc73"/>
<circle cx="602.0" cy="1372.8" r="4" fill="#26ad81"/>
<circle cx="415.6" cy="1593.6" r="4" fill="#21a585"/>
<circle cx="767.1" cy="1333.7" r="4" fill="#63cb5f"/>
<circle cx="580.8" cy="1374.6" r="4" fill="#63cb5f"/>
<circle cx="694.6" cy="1414.7" r="4" fill="#50c46a"/>
<circle cx="530.8" cy="1410.0" r="4" fill="#8bd646"/>
<circle cx="523.7" cy="1467.0" r="4" fill="#77d153"/>
<circle cx="486.1" cy="1584.3" r="4" fill="#63cb5f"/>
<circle cx="769.1" cy="1369.5" r="4" fill="#31b57b"/>
<circle cx="439.0" cy="1568.0" r="4" fill="#31b57b"/>
<circle cx="566.9" cy="1449.9" r="4" fill="#21a585"/>
<circle cx="516.2" cy="1581.0" r="4" fill="#3fbc73"/>
<circle cx="755.0" cy="1354.6" r="4" fill="#63cb5f"/>
<circle cx="506.2" cy="1502.4" r="4" fill="#8bd646"/>
<circle cx="612.8" cy="1435.5" r="4" fill="#31b57b"/>
<circle cx="649.7" cy="1356.4" r="4" fill="#3fbc73"/>
<circle cx="736.1" cy="1323.7" r="4" fill="#8bd646"/>
<circle cx="551.3" cy="1523.4" r="4" fill="#8bd646"/>
<circle cx="353.3" cy="1618.5" r="4" fill="#77d153"/>
<circle cx="378.2" cy="1625.3" r="4" fill="#8bd646"/>
<circle cx="530.0" cy="1426.0" r="4" fill="#77d153"/>
<circle cx="742.7" cy="1355.9" r="4" fill="#8bd646"/>
<circle cx="351.9" cy="1654.5" r="4" fill="#8bd646"/>
<circle cx="404.2" cy="1570.8" r="4" fill="#26ad81"/>
<circle cx="321.3" cy="1625.3" r="4" fill="#77d153"/>
<circle cx="409.8" cy="1598.5" r="4" fill="#50c46a"/>
<circle cx="631.4" cy="1493.3" r="4" fill="#8bd646"/>
<circle cx="749.0" cy="1385.3" r="4" fill="#21a585"/>
<circle cx="643.8" cy="1376.2" r="4" fill="#50c46a"/>
<circle cx="677.6" cy="1415.4" r="4" fill="#77d153"/>
<circle cx="730.2" cy="1384.4" r="4" fill="#8bd646"/>
<circle cx="629.4" cy="1394.5" r="4" fill="#26ad81"/>
<circle cx="763.7" cy="1318.1" r="4" fill="#63cb5f"/>
<circle cx="731.8" cy="1379.0" r="4" fill="#77d153"/>
<circle cx="574.6" cy="1478.5" r="4" fill="#21a585"/>
<circle cx="699.1" cy="1380.1" r="4" fill="#50c46a"/>
<circle cx="646.4" cy="1370.3" r="4" fill="#3fbc73"/>
<circle cx="529.4" cy="1471.8" r="4" fill="#63cb5f"/>
<circle cx="639.5" cy="1462.7" r="4" fill="#63cb5f"/>
<circle cx="519.2" cy="1468.8" r="4" fill="#8bd646"/>
<circle cx="689.0" cy="1334.4" r="4" fill="#8bd646"/>
<circle cx="612.5" cy="1417.1" r="4" fill="#21a585"/>
<circle cx="574.9" cy="1389.4" r="4" fill="#31b57b"/>
<circle cx="533.7" cy="1419.4" r="4" fill="#50c46a"/>
<circle cx="600.9" cy="1463.3" r="4" fill="#77d153"/>
<circle cx="759.2" cy="1352.6" r="4" fill="#77d153"/>
<circle cx="460.5" cy="1615.0" r="4" fill="#21a585"/>
<circle cx="416.9" cy="1632.9" r="4" fill="#26ad81"/>
<circle cx="600.1" cy="1426.1" r="4" fill="#77d153"/>
<circle cx="564.2" cy="1558.7" r="4" fill="#3fbc73"/>
<circle cx="761.9" cy="1290.6" r="4" fill="#26ad81"/>
<circle cx="715.4" cy="1323.3" r="4" fill="#63cb5f"/>
<circle cx="791.0" cy="1257.0" r="4" fill="#50c46a"/>
<circle cx="422.3" cy="1677.1" r="4" fill="#31b57b"/>
<circle cx="615.1" cy="1491.4" r="4" fill="#50c46a"/>
<circle cx="589.1" cy="1507.3" r="4" fill="#63cb5f"/>
<circle cx="472.2" cy="1584.2" r="4" fill="#3fbc73"/>
<circle cx="612.3" cy="1471.1" r="4" fill="#50c46a"/>
<circle cx="500.0" cy="1589.7" r="4" fill="#21a585"/>
<circle cx="671.1" cy="1396.2" r="4" fill="#8bd646"/>
<circle cx="657.8" cy="1381.4" r="4" fill="#3fbc73"/>
<circle cx="378.8" cy="1624.2" r="4" fill="#26ad81"/>
<circle cx="594.3" cy="1429.6" r="4" fill="#8bd646"/>
<circle cx="562.3" cy="1569.8" r="4" fill="#8bd646"/>
<circle cx="695.6" cy="1404.2" r="4" fill="#31b57b"/>
<circle cx="374.5" cy="1591.1" r="4" fill="#31b57b"/>
<circle cx="331.0" cy="1662.3" r="4" fill="#3fbc73"/>
<circle cx="818.1" cy="1346.2" r="4" fill="#8bd646"/>
<circle cx="772.5" cy="1329.8" r="4" fill="#77d153"/>
<circle cx="553.8" cy="1460.5" r="4" fill="#3fbc73"/>
<circle cx="530.9" cy="1450.2" r="4" fill="#63cb5f"/>
<circle cx="593.9" cy="1369.4" r="4" fill="#77d153"/>
<circle cx="401.9" cy="1575.0" r="4" fill="#77d153"/>
<circle cx="693.9" cy="1400.7" r="4" fill="#31b57b"/>
<circle cx="475.5" cy="1570.3" r="4" fill="#8bd646"/>
<circle cx="825.3" cy="1351.4" r="4" fill="#63cb5f"/>
<circle cx="323.9" cy="1634.0" r="4" fill="#3fbc73"/>
<circle cx="740.0" cy="1357.2" r="4" fill="#3fbc73"/>
<circle cx="454.7" cy="1685.7" r="4" fill="#26ad81"/>
<circle cx="637.5" cy="1398.3" r="4" fill="#3fbc73"/>
<circle cx="690.8" cy="1385.5" r="4" fill="#3fbc73"/>
<circle cx="583.6" cy="1523.0" r="4" fill="#63cb5f"/>
<circle cx="572.4" cy="1413.0" r="4" fill="#63cb5f"/>
<circle cx="348.5" cy="1650.4" r="4" fill="#50c46a"/>
<circle cx="636.9" cy="1473.9" r="4" fill="#26ad81"/>
<circle cx="358.0" cy="1674.0" r="4" fill="#31b57b"/>
<circle cx="584.4" cy="1489.3" r="4" fill="#63cb5f"/>
<circle cx="561.3" cy="1404.2" r="4" fill="#26ad81"/>
<circle cx="660.6" cy="1368.8" r="4" fill="#a2da37"/>
<circle cx="482.1" cy="1620.7" r="4" fill="#8bd646"/>
<circle cx="764.8" cy="1361.1" r="4" fill="#77d153"/>
<circle cx="399.5" cy="1567.0" r="4" fill="#31b57b"/>
<circle cx="635.4" cy="1414.0" r="4" fill="#63cb5f"/>
<circle cx="327.3" cy="1682.7" r="4" fill="#50c46a"/>
<circle cx="554.4" cy="1563.2" r="4" fill="#63cb5f"/>
<circle cx="574.7" cy="1414.3" r="4" fill="#31b57b"/>
<circle cx="744.4" cy="1322.5" r="4" fill="#63cb5f"/>
<circle cx="682.5" cy="1393.3" r="4" fill="#63cb5f"/>
<circle cx="493.2" cy="1554.7" r="4" fill="#8bd646"/>
<circle cx="485.0" cy="1553.2" r="4" fill="#31b57b"/>
<circle cx="360.3" cy="1606.5" r="4" fill="#63cb5f"/>
<circle cx="589.4" cy="1534.6" r="4" fill="#a2da37"/>
<circle cx="636.4" cy="1378.5" r="4" fill="#63cb5f"/>
<circle cx="751.7" cy="1355.6" r="4" fill="#8bd646"/>
<circle cx="418.1" cy="1607.7" r="4" fill="#a2da37"/>
<circle cx="753.3" cy="1349.4" r="4" fill="#50c46a"/>
<circle cx="510.2" cy="1601.8" r="4" fill="#8bd646"/>
<circle cx="473.5" cy="1530.3" r="4" fill="#77d153"/>
<circle cx="609.8" cy="1387.8" r="4" fill="#3fbc73"/>
<circle cx="506.6" cy="1625.6" r="4" fill="#a2da37"/>
<circle cx="581.4" cy="1431.8" r="4" fill="#50c46a"/>
<circle cx="358.3" cy="1648.3" r="4" fill="#a2da37"/>
<circle cx="620.9" cy="1428.3" r="4" fill="#77d153"/>
<circle cx="563.3" cy="1451.9" r="4" fill="#77d153"/>
<circle cx="556.1" cy="1512.2" r="4" fill="#8bd646"/>
<circle cx="445.1" cy="1566.8" r="4" fill="#3fbc73"/>
<circle cx="765.4" cy="1286.7" r="4" fill="#50c46a"/>
<circle cx="734.2" cy="1335.9" r="4" fill="#50c46a"/>
<circle cx="704.5" cy="1410.4" r="4" fill="#a2da37"/>
<circle cx="472.4" cy="1598.2" r="4" fill="#8bd646"/>
<circle cx="690.1" cy="1347.1" r="4" fill="#3fbc73"/>
<circle cx="522.4" cy="1553.2" r="4" fill="#50c46a"/>
<circle cx="375.5" cy="1603.3" r="4" fill="#50c46a"/>
<circle cx="692.2" cy="1420.7" r="4" fill="#31b57b"/>
<circle cx="608.4" cy="1369.3" r="4" fill="#31b57b"/>
<circle cx="647.4" cy="1403.7" r="4" fill="#8bd646"/>
<circle cx="547.6" cy="1558.2" r="4" fill="#3fbc73"/>
<circle cx="507.6" cy="1563.3" r="4" fill="#8bd646"/>
<circle cx="632.0" cy="1406.7" r="4" fill="#8bd646"/>
<circle cx="625.1" cy="1382.1" r="4" fill="#3fbc73"/>
<circle cx="628.0" cy="1388.4" r="4" fill="#26ad81"/>
<circle cx="593.7" cy="1520.0" r="4" fill="#31b57b"/>
<circle cx="782.2" cy="1321.8" r="4" fill="#63cb5f"/>
<circle cx="359.4" cy="1597.4" r="4" fill="#63cb5f"/>
<circle cx="611.9" cy="1372.9" r="4" fill="#26ad81"/>
<circle cx="523.1" cy="1437.1" r="4" fill="#3fbc73"/>
<circle cx="345.0" cy="1635.7" r="4" fill="#50c46a"/>
<circle cx="585.5" cy="1363.8" r="4" fill="#31b57b"/>
<circle cx="572.8" cy="1383.4" r="4" fill="#31b57b"/>
<circle cx="566.6" cy="1497.7" r="4" fill="#26ad81"/>
<circle cx="512.6" cy="1623.0" r="4" fill="#8bd646"/>
<circle cx="401.2" cy="1569.4" r="4" fill="#63cb5f"/>
<circle cx="680.8" cy="1410.2" r="4" fill="#26ad81"/>
<circle cx="664.0" cy="1399.6" r="4" fill="#3fbc73"/>
<circle cx="569.9" cy="1479.5" r="4" fill="#31b57b"/>
<circle cx="460.8" cy="1546.5" r="4" fill="#8bd646"/>
<circle cx="549.9" cy="1414.8" r="4" fill="#8bd646"/>
<circle cx="652.8" cy="1399.2" r="4" fill="#a2da37"/>
<circle cx="326.8" cy="1625.3" r="4" fill="#3fbc73"/>
<circle cx="798.5" cy="1259.9" r="4" fill="#63cb5f"/>
<circle cx="521.8" cy="1425.1" r="4" fill="#63cb5f"/>
<circle cx="572.1" cy="1398.2" r="4" fill="#63cb5f"/>
<circle cx="665.6" cy="1448.9" r="4" fill="#63cb5f"/>
<circle cx="730.1" cy="1352.1" r="4" fill="#63cb5f"/>
<circle cx="363.8" cy="1619.9" r="4" fill="#bade28"/>
<circle cx="370.9" cy="1650.5" r="4" fill="#63cb5f"/>
<circle cx="498.8" cy="1539.3" r="4" fill="#31b57b"/>
<circle cx="475.3" cy="1637.0" r="4" fill="#3fbc73"/>
<circle cx="429.1" cy="1561.6" r="4" fill="#a2da37"/>
<circle cx="653.6" cy="1359.5" r="4" fill="#8bd646"/>
<circle cx="423.0" cy="1603.4" r="4" fill="#77d153"/>
<circle cx="683.5" cy="1419.6" r="4" fill="#31b57b"/>
<circle cx="335.5" cy="1644.9" r="4" fill="#77d153"/>
<circle cx="745.9" cy="1327.8" r="4" fill="#77d153"/>
<circle cx="463.4" cy="1634.1" r="4" fill="#77d153"/>
<circle cx="800.6" cy="1277.1" r="4" fill="#3fbc73"/>
<circle cx="369.8" cy="1657.8" r="4" fill="#bade28"/>
<circle cx="588.5" cy="1539.3" r="4" fill="#bade28"/>
<circle cx="563.3" cy="1546.2" r="4" fill="#bade28"/>
<circle cx="465.0" cy="1605.1" r="4" fill="#50c46a"/>
<circle cx="567.8" cy="1517.6" r="4" fill="#a2da37"/>
<circle cx="509.5" cy="1456.9" r="4" fill="#31b57b"/>
<circle cx="739.8" cy="1334.7" r="4" fill="#63cb5f"/>
<circle cx="671.7" cy="1447.1" r="4" fill="#a2da37"/>
<circle cx="551.4" cy="1407.3" r="4" fill="#77d153"/>
<circle cx="639.7" cy="1338.0" r="4" fill="#63cb5f"/>
<circle cx="466.1" cy="1600.2" r="4" fill="#a2da37"/>
<circle cx="388.1" cy="1657.1" r="4" fill="#50c46a"/>
<circle cx="424.1" cy="1569.3" r="4" fill="#a2da37"/>
<circle cx="505.5" cy="1603.9" r="4" fill="#8bd646"/>
<circle cx="468.3" cy="1606.4" r="4" fill="#77d153"/>
<circle cx="674.5" cy="1432.5" r="4" fill="#31b57b"/>
<circle cx="560.7" cy="1383.2" r="4" fill="#bade28"/>
<circle cx="616.1" cy="1509.7" r="4" fill="#63cb5f"/>
<circle cx="634.6" cy="1499.0" r="4" fill="#8bd646"/>
<circle cx="602.1" cy="1489.7" r="4" fill="#a2da37"/>
<circle cx="388.7" cy="1570.7" r="4" fill="#63cb5f"/>
<circle cx="523.0" cy="1440.0" r="4" fill="#63cb5f"/>
<circle cx="362.6" cy="1639.6" r="4" fill="#bade28"/>
<circle cx="379.2" cy="1616.4" r="4" fill="#77d153"/>
<circle cx="343.8" cy="1622.3" r="4" fill="#31b57b"/>
<circle cx="632.1" cy="1366.8" r="4" fill="#63cb5f"/>
<circle cx="530.0" cy="1482.7" r="4" fill="#a2da37"/>
<circle cx="374.7" cy="1629.0" r="4" fill="#3fbc73"/>
<circle cx="453.1" cy="1565.9" r="4" fill="#50c46a"/>
<circle cx="562.2" cy="1519.5" r="4" fill="#bade28"/>
<circle cx="432.6" cy="1625.3" r="4" fill="#31b57b"/>
<circle cx="447.9" cy="1687.4" r="4" fill="#50c46a"/>
<circle cx="588.0" cy="1366.6" r="4" fill="#3fbc73"/>
<circle cx="577.0" cy="1546.7" r="4" fill="#63cb5f"/>
<circle cx="624.2" cy="1399.8" r="4" fill="#77d153"/>
<circle cx="310.2" cy="1648.4" r="4" fill="#50c46a"/>
<circle cx="652.7" cy="1417.3" r="4" fill="#a2da37"/>
<circle cx="367.7" cy="1636.1" r="4" fill="#77d153"/>
<circle cx="431.6" cy="1550.9" r="4" fill="#77d153"/>
<circle cx="412.1" cy="1562.2" r="4" fill="#3fbc73"/>
<circle cx="633.2" cy="1503.6" r="4" fill="#a2da37"/>
<circle cx="561.4" cy="1536.3" r="4" fill="#3fbc73"/>
<circle cx="510.6" cy="1497.5" r="4" fill="#a2da37"/>
<circle cx="553.9" cy="1387.0" r="4" fill="#a2da37"/>
<circle cx="363.4" cy="1610.5" r="4" fill="#a2da37"/>
<circle cx="356.6" cy="1665.7" r="4" fill="#31b57b"/>
<circle cx="419.4" cy="1572.2" r="4" fill="#50c46a"/>
<circle cx="536.0" cy="1418.5" r="4" fill="#8bd646"/>
<circle cx="710.3" cy="1313.4" r="4" fill="#3fbc73"/>
<circle cx="670.5" cy="1426.4" r="4" fill="#bade28"/>
<circle cx="620.8" cy="1382.5" r="4" fill="#8bd646"/>
<circle cx="719.3" cy="1363.6" r="4" fill="#bade28"/>
<circle cx="563.7" cy="1376.6" r="4" fill="#8bd646"/>
<circle cx="708.1" cy="1314.4" r="4" fill="#8bd646"/>
<circle cx="651.1" cy="1379.5" r="4" fill="#bade28"/>
<circle cx="745.0" cy="1381.2" r="4" fill="#63cb5f"/>
<circle cx="459.0" cy="1557.8" r="4" fill="#50c46a"/>
<circle cx="628.4" cy="1434.2" r="4" fill="#a2da37"/>
<circle cx="541.6" cy="1416.5" r="4" fill="#77d153"/>
<circle cx="441.1" cy="1663.5" r="4" fill="#a2da37"/>
<circle cx="611.5" cy="1494.5" r="4" fill="#bade28"/>
<circle cx="637.6" cy="1442.6" r="4" fill="#a2da37"/>
<circle cx="642.3" cy="1408.5" r="4" fill="#a2da37"/>
<circle cx="522.8" cy="1461.2" r="4" fill="#77d153"/>
<circle cx="454.0" cy="1579.4" r="4" fill="#3fbc73"/>
<circle cx="593.5" cy="1400.2" r="4" fill="#d2e21b"/>
<circle cx="508.1" cy="1521.8" r="4" fill="#77d153"/>
<circle cx="466.4" cy="1641.4" r="4" fill="#3fbc73"/>
<circle cx="489.1" cy="1607.4" r="4" fill="#a2da37"/>
<circle cx="543.1" cy="1382.6" r="4" fill="#d2e21b"/>
<circle cx="337.9" cy="1654.8" r="4" fill="#a2da37"/>
<circle cx="590.0" cy="1472.8" r="4" fill="#63cb5f"/>
<circle cx="577.5" cy="1557.7" r="4" fill="#8bd646"/>
<circle cx="473.8" cy="1642.4" r="4" fill="#a2da37"/>
<circle cx="420.6" cy="1489.5" r="4" fill="#bade28"/>
<circle cx="589.4" cy="1369.1" r="4" fill="#a2da37"/>
<circle cx="660.7" cy="1419.8" r="4" fill="#bade28"/>
<circle cx="725.7" cy="1400.5" r="4" fill="#a2da37"/>
<circle cx="422.2" cy="1578.5" r="4" fill="#77d153"/>
<circle cx="410.1" cy="1580.8" r="4" fill="#8bd646"/>
<circle cx="607.8" cy="1524.0" r="4" fill="#8bd646"/>
<circle cx="516.8" cy="1507.7" r="4" fill="#d2e21b"/>
<circle cx="607.4" cy="1507.9" r="4" fill="#d2e21b"/>
<circle cx="667.9" cy="1430.2" r="4" fill="#bade28"/>
<circle cx="557.8" cy="1415.0" r="4" fill="#3fbc73"/>
<circle cx="713.3" cy="1411.3" r="4" fill="#d2e21b"/>
<circle cx="565.2" cy="1466.4" r="4" fill="#bade28"/>
<circle cx="662.0" cy="1336.8" r="4" fill="#63cb5f"/>
<circle cx="572.9" cy="1465.5" r="4" fill="#bade28"/>
<circle cx="625.0" cy="1441.4" r="4" fill="#77d153"/>
<circle cx="537.7" cy="1506.8" r="4" fill="#d2e21b"/>
<circle cx="703.6" cy="1392.6" r="4" fill="#77d153"/>
<circle cx="502.3" cy="1608.7" r="4" fill="#63cb5f"/>
<circle cx="583.4" cy="1481.4" r="4" fill="#63cb5f"/>
<circle cx="799.4" cy="1228.8" r="4" fill="#8bd646"/>
<circle cx="518.7" cy="1425.4" r="4" fill="#8bd646"/>
<circle cx="704.1" cy="1404.0" r="4" fill="#bade28"/>
<circle cx="398.6" cy="1622.6" r="4" fill="#63cb5f"/>
<circle cx="514.9" cy="1614.8" r="4" fill="#bade28"/>
<circle cx="557.7" cy="1476.7" r="4" fill="#bade28"/>
<circle cx="646.0" cy="1447.7" r="4" fill="#77d153"/>
<circle cx="540.2" cy="1420.4" r="4" fill="#3fbc73"/>
<circle cx="414.7" cy="1650.5" r="4" fill="#d2e21b"/>
<circle cx="672.3" cy="1324.0" r="4" fill="#50c46a"/>
<circle cx="366.8" cy="1665.9" r="4" fill="#d2e21b"/>
<circle cx="557.6" cy="1447.4" r="4" fill="#50c46a"/>
<circle cx="534.4" cy="1435.7" r="4" fill="#50c46a"/>
<circle cx="577.3" cy="1528.5" r="4" fill="#8bd646"/>
<circle cx="519.6" cy="1432.4" r="4" fill="#63cb5f"/>
<circle cx="580.6" cy="1490.6" r="4" fill="#3fbc73"/>
<circle cx="610.2" cy="1481.1" r="4" fill="#77d153"/>
<circle cx="388.8" cy="1599.9" r="4" fill="#a2da37"/>
<circle cx="638.7" cy="1375.6" r="4" fill="#a2da37"/>
<circle cx="557.4" cy="1558.0" r="4" fill="#50c46a"/>
<circle cx="336.3" cy="1629.6" r="4" fill="#bade28"/>
<circle cx="519.9" cy="1415.1" r="4" fill="#d2e21b"/>
<circle cx="692.0" cy="1333.1" r="4" fill="#a2da37"/>
<circle cx="408.5" cy="1609.3" r="4" fill="#8bd646"/>
<circle cx="392.1" cy="1644.3" r="4" fill="#63cb5f"/>
<circle cx="676.8" cy="1400.9" r="4" fill="#63cb5f"/>
<circle cx="759.9" cy="1335.6" r="4" fill="#50c46a"/>
<circle cx="554.5" cy="1414.0" r="4" fill="#3fbc73"/>
<circle cx="585.7" cy="1386.1" r="4" fill="#63cb5f"/>
<circle cx="635.7" cy="1482.5" r="4" fill="#3fbc73"/>
<circle cx="456.5" cy="1641.6" r="4" fill="#50c46a"/>
<circle cx="372.8" cy="1613.9" r="4" fill="#63cb5f"/>
<circle cx="596.7" cy="1539.7" r="4" fill="#bade28"/>
<circle cx="496.2" cy="1587.4" r="4" fill="#50c46a"/>
<circle cx="693.5" cy="1424.6" r="4" fill="#a2da37"/>
<circle cx="580.4" cy="1444.5" r="4" fill="#3fbc73"/>
<circle cx="676.1" cy="1451.8" r="4" fill="#a2da37"/>
<circle cx="526.5" cy="1551.9" r="4" fill="#d2e21b"/>
<circle cx="675.6" cy="1438.2" r="4" fill="#d2e21b"/>
<circle cx="583.3" cy="1543.4" r="4" fill="#a2da37"/>
<circle cx="410.4" cy="1540.7" r="4" fill="#50c46a"/>
<circle cx="472.0" cy="1602.7" r="4" fill="#63cb5f"/>
<circle cx="673.6" cy="1370.6" r="4" fill="#77d153"/>
<circle cx="524.5" cy="1418.0" r="4" fill="#d2e21b"/>
<circle cx="492.5" cy="1628.8" r="4" fill="#77d153"/>
<circle cx="539.2" cy="1398.6" r="4" fill="#eae51a"/>
<circle cx="432.0" cy="1609.1" r="4" fill="#eae51a"/>
<circle cx="558.0" cy="1562.5" r="4" fill="#50c46a"/>
<circle cx="515.9" cy="1493.8" r="4" fill="#77d153"/>
<circle cx="594.5" cy="1457.6" r="4" fill="#bade28"/>
<circle cx="493.8" cy="1536.1" r="4" fill="#8bd646"/>
<circle cx="492.7" cy="1561.4" r="4" fill="#bade28"/>
<circle cx="707.6" cy="1341.7" r="4" fill="#eae51a"/>
<circle cx="593.0" cy="1494.1" r="4" fill="#a2da37"/>
<circle cx="534.1" cy="1388.9" r="4" fill="#d2e21b"/>
<circle cx="332.7" cy="1645.7" r="4" fill="#bade28"/>
<circle cx="651.6" cy="1448.8" r="4" fill="#bade28"/>
<circle cx="317.7" cy="1650.9" r="4" fill="#50c46a"/>
<circle cx="801.3" cy="1271.6" r="4" fill="#eae51a"/>
<circle cx="423.5" cy="1614.3" r="4" fill="#d2e21b"/>
<circle cx="513.5" cy="1513.4" r="4" fill="#a2da37"/>
<circle cx="395.8" cy="1580.4" r="4" fill="#a2da37"/>
<circle cx="399.8" cy="1630.3" r="4" fill="#a2da37"/>
<circle cx="636.5" cy="1398.9" r="4" fill="#bade28"/>
<circle cx="721.4" cy="1311.6" r="4" fill="#77d153"/>
<circle cx="495.1" cy="1642.6" r="4" fill="#d2e21b"/>
<circle cx="513.6" cy="1422.0" r="4" fill="#a2da37"/>
<circle cx="500.6" cy="1586.5" r="4" fill="#63cb5f"/>
<circle cx="621.7" cy="1468.0" r="4" fill="#8bd646"/>
<circle cx="400.3" cy="1573.4" r="4" fill="#d2e21b"/>
<circle cx="427.4" cy="1689.1" r="4" fill="#50c46a"/>
<circle cx="380.3" cy="1635.9" r="4" fill="#d2e21b"/>
<circle cx="656.1" cy="1336.9" r="4" fill="#d2e21b"/>
<circle cx="812.9" cy="1346.2" r="4" fill="#d2e21b"/>
<circle cx="567.0" cy="1547.1" r="4" fill="#8bd646"/>
<circle cx="497.0" cy="1595.5" r="4" fill="#63cb5f"/>
<circle cx="747.1" cy="1379.8" r="4" fill="#d2e21b"/>
<circle cx="681.2" cy="1416.2" r="4" fill="#77d153"/>
<circle cx="401.0" cy="1626.4" r="4" fill="#d2e21b"/>
<circle cx="514.9" cy="1604.7" r="4" fill="#bade28"/>
<circle cx="442.3" cy="1607.8" r="4" fill="#63cb5f"/>
<circle cx="549.0" cy="1545.9" r="4" fill="#a2da37"/>
<circle cx="454.1" cy="1605.2" r="4" fill="#77d153"/>
<circle cx="608.0" cy="1465.1" r="4" fill="#50c46a"/>
<circle cx="514.7" cy="1446.0" r="4" fill="#d2e21b"/>
<circle cx="463.5" cy="1642.9" r="4" fill="#77d153"/>
<circle cx="772.6" cy="1349.8" r="4" fill="#63cb5f"/>
<circle cx="585.8" cy="1372.5" r="4" fill="#eae51a"/>
<circle cx="645.7" cy="1367.0" r="4" fill="#77d153"/>
<circle cx="558.1" cy="1437.8" r="4" fill="#bade28"/>
<circle cx="494.6" cy="1602.6" r="4" fill="#a2da37"/>
<circle cx="716.3" cy="1375.8" r="4" fill="#eae51a"/>
<circle cx="541.4" cy="1470.4" r="4" fill="#a2da37"/>
<circle cx="620.5" cy="1491.6" r="4" fill="#63cb5f"/>
<circle cx="337.1" cy="1622.3" r="4" fill="#bade28"/>
<circle cx="624.1" cy="1478.5" r="4" fill="#a2da37"/>
<circle cx="591.6" cy="1465.5" r="4" fill="#bade28"/>
<circle cx="780.5" cy="1333.8" r="4" fill="#63cb5f"/>
<circle cx="722.7" cy="1380.8" r="4" fill="#63cb5f"/>
<circle cx="709.1" cy="1400.8" r="4" fill="#eae51a"/>
<circle cx="492.6" cy="1636.1" r="4" fill="#eae51a"/>
<circle cx="565.4" cy="1390.4" r="4" fill="#d2e21b"/>
<circle cx="585.2" cy="1382.1" r="4" fill="#d2e21b"/>
<circle cx="435.6" cy="1599.8" r="4" fill="#50c46a"/>
<circle cx="685.4" cy="1326.9" r="4" fill="#8bd646"/>
<circle cx="553.5" cy="1532.5" r="4" fill="#50c46a"/>
<circle cx="453.0" cy="1660.1" r="4" fill="#d2e21b"/>
<circle cx="574.3" cy="1535.8" r="4" fill="#8bd646"/>
<circle cx="614.6" cy="1530.9" r="4" fill="#eae51a"/>
<circle cx="599.5" cy="1492.5" r="4" fill="#d2e21b"/>
<circle cx="587.8" cy="1413.8" r="4" fill="#77d153"/>
<circle cx="793.8" cy="1289.7" r="4" fill="#77d153"/>
<circle cx="459.9" cy="1577.8" r="4" fill="#d2e21b"/>
<circle cx="795.3" cy="1244.7" r="4" fill="#77d153"/>
<circle cx="402.8" cy="1585.1" r="4" fill="#a2da37"/>
<circle cx="516.7" cy="1560.8" r="4" fill="#50c46a"/>
<circle cx="691.0" cy="1417.3" r="4" fill="#bade28"/>
<circle cx="682.6" cy="1378.6" r="4" fill="#50c46a"/>
<circle cx="527.1" cy="1538.6" r="4" fill="#77d153"/>
<circle cx="435.9" cy="1689.1" r="4" fill="#8bd646"/>
<circle cx="509.2" cy="1449.0" r="4" fill="#8bd646"/>
<circle cx="725.6" cy="1389.6" r="4" fill="#77d153"/>
<circle cx="576.5" cy="1504.3" r="4" fill="#bade28"/>
<circle cx="538.6" cy="1515.4" r="4" fill="#eae51a"/>
<circle cx="719.7" cy="1398.3" r="4" fill="#a2da37"/>
<circle cx="776.7" cy="1295.6" r="4" fill="#8bd646"/>
<circle cx="369.9" cy="1584.4" r="4" fill="#77d153"/>
<circle cx="395.9" cy="1598.9" r="4" fill="#bade28"/>
<circle cx="672.2" cy="1441.8" r="4" fill="#8bd646"/>
<circle cx="433.4" cy="1547.6" r="4" fill="#bade28"/>
<circle cx="779.3" cy="1349.6" r="4" fill="#a2da37"/>
<circle cx="571.9" cy="1417.0" r="4" fill="#eae51a"/>
<circle cx="526.9" cy="1469.5" r="4" fill="#77d153"/>
<circle cx="423.1" cy="1574.3" r="4" fill="#bade28"/>
<circle cx="554.2" cy="1557.8" r="4" fill="#eae51a"/>
<circle cx="708.2" cy="1393.2" r="4" fill="#fde725"/>
<circle cx="694.8" cy="1391.4" r="4" fill="#bade28"/>
<circle cx="600.2" cy="1501.3" r="4" fill="#a2da37"/>
<circle cx="717.5" cy="1410.4" r="4" fill="#bade28"/>
<circle cx="830.1" cy="1339.9" r="4" fill="#fde725"/>
<circle cx="620.9" cy="1506.1" r="4" fill="#63cb5f"/>
<circle cx="522.5" cy="1545.0" r="4" fill="#a2da37"/>
<circle cx="579.8" cy="1556.1" r="4" fill="#8bd646"/>
<circle cx="773.7" cy="1289.8" r="4" fill="#fde725"/>
<circle cx="534.3" cy="1499.7" r="4" fill="#a2da37"/>
<circle cx="396.0" cy="1564.6" r="4" fill="#a2da37"/>
<circle cx="558.3" cy="1570.2" r="4" fill="#d2e21b"/>
<circle cx="538.2" cy="1425.1" r="4" fill="#77d153"/>
<circle cx="568.5" cy="1541.3" r="4" fill="#8bd646"/>
<circle cx="585.6" cy="1517.4" r="4" fill="#bade28"/>
<circle cx="506.2" cy="1612.8" r="4" fill="#77d153"/>
<circle cx="614.0" cy="1517.2" r="4" fill="#a2da37"/>
<circle cx="484.6" cy="1638.0" r="4" fill="#63cb5f"/>
<circle cx="459.0" cy="1551.7" r="4" fill="#63cb5f"/>
<circle cx="538.5" cy="1386.4" r="4" fill="#fde725"/>
<circle cx="367.8" cy="1583.5" r="4" fill="#d2e21b"/>
<circle cx="311.1" cy="1642.8" r="4" fill="#8bd646"/>
<circle cx="465.6" cy="1549.3" r="4" fill="#77d153"/>
<circle cx="410.6" cy="1604.4" r="4" fill="#a2da37"/>
<circle cx="359.7" cy="1632.6" r="4" fill="#bade28"/>
<circle cx="517.6" cy="1621.0" r="4" fill="#d2e21b"/>
<circle cx="511.9" cy="1512.9" r="4" fill="#d2e21b"/>
<circle cx="509.2" cy="1628.0" r="4" fill="#d2e21b"/>
<circle cx="531.7" cy="1397.5" r="4" fill="#eae51a"/>
<circle cx="545.3" cy="1522.2" r="4" fill="#fde725"/>
<circle cx="464.4" cy="1612.8" r="4" fill="#63cb5f"/>
<circle cx="736.2" cy="1369.4" r="4" fill="#fde725"/>
<circle cx="317.1" cy="1639.3" r="4" fill="#eae51a"/>
<circle cx="546.6" cy="1503.8" r="4" fill="#a2da37"/>
<circle cx="648.3" cy="1451.1" r="4" fill="#eae51a"/>
<circle cx="519.6" cy="1560.9" r="4" fill="#eae51a"/>
<circle cx="617.3" cy="1500.3" r="4" fill="#bade28"/>
<circle cx="620.7" cy="1483.0" r="4" fill="#fde725"/>
<circle cx="600.8" cy="1356.4" r="4" fill="#eae51a"/>
<circle cx="494.2" cy="1631.9" r="4" fill="#8bd646"/>
<circle cx="469.1" cy="1617.7" r="4" fill="#d2e21b"/>
<circle cx="404.8" cy="1589.5" r="4" fill="#8bd646"/>
<circle cx="562.5" cy="1529.7" r="4" fill="#eae51a"/>
<circle cx="583.7" cy="1476.7" r="4" fill="#eae51a"/>
<circle cx="624.2" cy="1374.6" r="4" fill="#bade28"/>
<circle cx="595.6" cy="1491.9" r="4" fill="#fde725"/>
<circle cx="526.0" cy="1401.1" r="4" fill="#eae51a"/>
<circle cx="518.4" cy="1619.0" r="4" fill="#a2da37"/>
<circle cx="478.7" cy="1638.7" r="4" fill="#eae51a"/>
<circle cx="531.2" cy="1514.2" r="4" fill="#eae51a"/>
<circle cx="372.7" cy="1648.6" r="4" fill="#a2da37"/>
<circle cx="591.3" cy="1479.1" r="4" fill="#eae51a"/>
<circle cx="664.1" cy="1426.4" r="4" fill="#63cb5f"/>
<circle cx="625.2" cy="1518.2" r="4" fill="#fde725"/>
<circle cx="751.7" cy="1289.1" r="4" fill="#77d153"/>
<circle cx="418.9" cy="1532.1" r="4" fill="#8bd646"/>
<circle cx="460.2" cy="1602.4" r="4" fill="#a2da37"/>
<circle cx="548.1" cy="1490.8" r="4" fill="#bade28"/>
<circle cx="471.8" cy="1685.7" r="4" fill="#fde725"/>
<circle cx="602.4" cy="1453.6" r="4" fill="#77d153"/>
<circle cx="784.1" cy="1281.0" r="4" fill="#63cb5f"/>
<circle cx="620.2" cy="1516.8" r="4" fill="#eae51a"/>
<circle cx="392.6" cy="1595.9" r="4" fill="#d2e21b"/>
<circle cx="447.1" cy="1579.1" r="4" fill="#77d153"/>
<circle cx="554.8" cy="1396.6" r="4" fill="#fde725"/>
<circle cx="533.3" cy="1441.0" r="4" fill="#fde725"/>
<circle cx="704.9" cy="1377.1" r="4" fill="#eae51a"/>
<circle cx="646.9" cy="1415.5" r="4" fill="#77d153"/>
<circle cx="379.6" cy="1587.9" r="4" fill="#bade28"/>
<circle cx="568.1" cy="1560.3" r="4" fill="#fde725"/>
<circle cx="624.8" cy="1443.1" r="4" fill="#bade28"/>
<circle cx="681.4" cy="1341.6" r="4" fill="#fde725"/>
<circle cx="477.1" cy="1531.0" r="4" fill="#bade28"/>
<circle cx="713.3" cy="1346.6" r="4" fill="#fde725"/>
<circle cx="643.3" cy="1474.5" r="4" fill="#fde725"/>
<circle cx="500.4" cy="1628.7" r="4" fill="#bade28"/>
<circle cx="727.8" cy="1391.9" r="4" fill="#fde725"/>
<circle cx="575.8" cy="1517.7" r="4" fill="#8bd646"/>
<circle cx="520.5" cy="1536.7" r="4" fill="#a2da37"/>
<circle cx="354.9" cy="1672.1" r="4" fill="#a2da37"/>
<circle cx="691.5" cy="1390.1" r="4" fill="#a2da37"/>
<circle cx="424.0" cy="1516.8" r="4" fill="#63cb5f"/>
<circle cx="645.9" cy="1462.3" r="4" fill="#63cb5f"/>
<circle cx="697.4" cy="1314.1" r="4" fill="#8bd646"/>
<circle cx="532.6" cy="1414.3" r="4" fill="#77d153"/>
<circle cx="522.4" cy="1423.3" r="4" fill="#d2e21b"/>
<circle cx="461.7" cy="1638.6" r="4" fill="#fde725"/>
<circle cx="696.2" cy="1331.6" r="4" fill="#8bd646"/>
<circle cx="382.7" cy="1593.1" r="4" fill="#d2e21b"/>
<circle cx="551.6" cy="1456.0" r="4" fill="#fde725"/>
<circle cx="546.3" cy="1401.9" r="4" fill="#fde725"/>
<circle cx="321.2" cy="1641.8" r="4" fill="#fde725"/>
<circle cx="661.6" cy="1361.9" r="4" fill="#a2da37"/>
<circle cx="629.8" cy="1449.9" r="4" fill="#d2e21b"/>
<circle cx="724.3" cy="1338.7" r="4" fill="#fde725"/>
<circle cx="482.0" cy="1639.7" r="4" fill="#77d153"/>
<circle cx="413.8" cy="1538.9" r="4" fill="#8bd646"/>
<circle cx="544.4" cy="1437.8" r="4" fill="#fde725"/>
<circle cx="463.5" cy="1618.2" r="4" fill="#d2e21b"/>
<circle cx="615.5" cy="1485.4" r="4" fill="#d2e21b"/>
<circle cx="528.6" cy="1406.9" r="4" fill="#bade28"/>
<circle cx="817.1" cy="1256.7" r="4" fill="#fde725"/>
<circle cx="571.1" cy="1419.7" r="4" fill="#77d153"/>
<circle cx="750.0" cy="1364.1" r="4" fill="#8bd646"/>
<circle cx="655.0" cy="1455.9" r="4" fill="#bade28"/>
<circle cx="666.2" cy="1373.4" r="4" fill="#77d153"/>
<circle cx="625.3" cy="1523.6" r="4" fill="#fde725"/>
<circle cx="652.6" cy="1401.5" r="4" fill="#fde725"/>
<circle cx="514.4" cy="1629.4" r="4" fill="#eae51a"/>
<circle cx="623.5" cy="1525.0" r="4" fill="#fde725"/>
<circle cx="467.4" cy="1630.2" r="4" fill="#bade28"/>
<circle cx="343.1" cy="1646.8" r="4" fill="#a2da37"/>
<circle cx="580.9" cy="1378.5" r="4" fill="#a2da37"/>
<circle cx="310.8" cy="1639.5" r="4" fill="#8bd646"/>
<circle cx="587.9" cy="1358.6" r="4" fill="#8bd646"/>
<circle cx="719.8" cy="1320.2" r="4" fill="#a2da37"/>
<circle cx="590.0" cy="1418.5" r="4" fill="#8bd646"/>
<circle cx="559.1" cy="1474.2" r="4" fill="#a2da37"/>
<circle cx="789.7" cy="1235.2" r="4" fill="#77d153"/>
<circle cx="716.2" cy="1382.1" r="4" fill="#eae51a"/>
<circle cx="541.7" cy="1636.2" r="4" fill="#bade28"/>
<circle cx="557.7" cy="1550.1" r="4" fill="#a2da37"/>
<circle cx="795.4" cy="1239.0" r="4" fill="#a2da37"/>
<circle cx="735.5" cy="1330.7" r="4" fill="#77d153"/>
<circle cx="579.2" cy="1566.2" r="4" fill="#eae51a"/>
<circle cx="539.0" cy="1498.1" r="4" fill="#eae51a"/>
<circle cx="566.3" cy="1379.7" r="4" fill="#eae51a"/>
<circle cx="625.8" cy="1472.1" r="4" fill="#fde725"/>
<circle cx="513.3" cy="1425.3" r="4" fill="#a2da37"/>
<circle cx="591.8" cy="1379.6" r="4" fill="#bade28"/>
<circle cx="633.3" cy="1452.2" r="4" fill="#fde725"/>
<circle cx="547.2" cy="1397.8" r="4" fill="#bade28"/>
<circle cx="611.2" cy="1515.8" r="4" fill="#8bd646"/>
<circle cx="571.1" cy="1547.3" r="4" fill="#8bd646"/>
<circle cx="702.7" cy="1413.3" r="4" fill="#77d153"/>
<circle cx="711.8" cy="1391.7" r="4" fill="#8bd646"/>
<circle cx="523.0" cy="1414.0" r="4" fill="#eae51a"/>
<circle cx="574.1" cy="1539.7" r="4" fill="#bade28"/>
<circle cx="751.2" cy="1315.9" r="4" fill="#eae51a"/>
<circle cx="778.2" cy="1331.1" r="4" fill="#fde725"/>
<circle cx="511.1" cy="1622.4" r="4" fill="#8bd646"/>
<circle cx="481.5" cy="1609.0" r="4" fill="#a2da37"/>
<circle cx="362.4" cy="1622.2" r="4" fill="#a2da37"/>
<circle cx="598.3" cy="1412.9" r="4" fill="#fde725"/>
<circle cx="669.9" cy="1329.4" r="4" fill="#bade28"/>
<circle cx="437.5" cy="1628.8" r="4" fill="#8bd646"/>
<circle cx="594.2" cy="1474.2" r="4" fill="#8bd646"/>
<circle cx="561.9" cy="1552.4" r="4" fill="#a2da37"/>
<circle cx="472.7" cy="1635.4" r="4" fill="#d2e21b"/>
<circle cx="543.7" cy="1483.2" r="4" fill="#77d153"/>
<circle cx="629.4" cy="1516.8" r="4" fill="#eae51a"/>
<circle cx="377.7" cy="1660.1" r="4" fill="#d2e21b"/>
<circle cx="420.6" cy="1574.8" r="4" fill="#77d153"/>
<circle cx="477.3" cy="1549.5" r="4" fill="#d2e21b"/>
<circle cx="507.2" cy="1421.2" r="4" fill="#d2e21b"/>
<circle cx="438.2" cy="1545.8" r="4" fill="#77d153"/>
<circle cx="714.9" cy="1404.4" r="4" fill="#fde725"/>
<circle cx="787.7" cy="1333.0" r="4" fill="#fde725"/>
<circle cx="632.8" cy="1472.3" r="4" fill="#bade28"/>
<circle cx="697.8" cy="1361.0" r="4" fill="#a2da37"/>
<circle cx="417.5" cy="1642.1" r="4" fill="#eae51a"/>
<circle cx="576.7" cy="1562.2" r="4" fill="#a2da37"/>
<circle cx="687.2" cy="1383.8" r="4" fill="#bade28"/>
<circle cx="570.6" cy="1388.7" r="4" fill="#8bd646"/>
<circle cx="732.5" cy="1301.1" r="4" fill="#77d153"/>
<circle cx="820.3" cy="1343.9" r="4" fill="#fde725"/>
<circle cx="576.5" cy="1376.5" r="4" fill="#fde725"/>
<circle cx="408.0" cy="1646.2" r="4" fill="#eae51a"/>
<circle cx="648.9" cy="1407.8" r="4" fill="#77d153"/>
<circle cx="540.4" cy="1493.8" r="4" fill="#8bd646"/>
<circle cx="622.9" cy="1482.1" r="4" fill="#eae51a"/>
<circle cx="611.8" cy="1526.9" r="4" fill="#d2e21b"/>
<circle cx="585.9" cy="1416.6" r="4" fill="#a2da37"/>
<circle cx="543.6" cy="1424.8" r="4" fill="#bade28"/>
<circle cx="564.3" cy="1557.0" r="4" fill="#fde725"/>
<circle cx="563.4" cy="1407.4" r="4" fill="#77d153"/>
<circle cx="587.8" cy="1530.6" r="4" fill="#fde725"/>
<circle cx="577.6" cy="1539.5" r="4" fill="#fde725"/>
<circle cx="576.4" cy="1368.4" r="4" fill="#a2da37"/>
<circle cx="568.4" cy="1384.5" r="4" fill="#d2e21b"/>
<circle cx="575.2" cy="1551.4" r="4" fill="#a2da37"/>
<circle cx="715.6" cy="1399.3" r="4" fill="#fde725"/>
<circle cx="460.8" cy="1542.3" r="4" fill="#eae51a"/>
<circle cx="513.0" cy="1620.4" r="4" fill="#fde725"/>
<circle cx="477.4" cy="1617.9" r="4" fill="#eae51a"/>
<circle cx="620.8" cy="1531.2" r="4" fill="#fde725"/>
<circle cx="537.9" cy="1534.7" r="4" fill="#fde725"/>
<circle cx="693.7" cy="1397.6" r="4" fill="#fde725"/>
<circle cx="500.4" cy="1632.2" r="4" fill="#fde725"/>
<circle cx="525.1" cy="1451.3" r="4" fill="#8bd646"/>
<circle cx="505.2" cy="1623.8" r="4" fill="#fde725"/>
<circle cx="644.5" cy="1404.3" r="4" fill="#eae51a"/>
<circle cx="541.7" cy="1387.7" r="4" fill="#d2e21b"/>
<circle cx="608.8" cy="1533.2" r="4" fill="#fde725"/>
<circle cx="739.3" cy="1361.8" r="4" fill="#a2da37"/>
<circle cx="538.2" cy="1402.4" r="4" fill="#bade28"/>
<circle cx="649.9" cy="1428.7" r="4" fill="#fde725"/>
<circle cx="511.6" cy="1415.5" r="4" fill="#eae51a"/>
<circle cx="636.1" cy="1517.6" r="4" fill="#eae51a"/>
<circle cx="346.8" cy="1667.2" r="4" fill="#eae51a"/>
<circle cx="637.7" cy="1512.1" r="4" fill="#fde725"/>
<circle cx="630.3" cy="1469.3" r="4" fill="#eae51a"/>
<circle cx="739.2" cy="1401.9" r="4" fill="#fde725"/>
<circle cx="614.4" cy="1409.5" r="4" fill="#d2e21b"/>
<circle cx="513.2" cy="1498.9" r="4" fill="#a2da37"/>
<circle cx="503.4" cy="1640.2" r="4" fill="#eae51a"/>
<circle cx="600.7" cy="1535.0" r="4" fill="#fde725"/>
<circle cx="324.2" cy="1625.2" r="4" fill="#bade28"/>
<circle cx="725.9" cy="1349.7" r="4" fill="#fde725"/>
<circle cx="557.2" cy="1386.3" r="4" fill="#fde725"/>
<circle cx="656.6" cy="1438.6" r="4" fill="#bade28"/>
<circle cx="541.0" cy="1391.6" r="4" fill="#bade28"/>
<circle cx="525.5" cy="1429.2" r="4" fill="#8bd646"/>
<circle cx="519.9" cy="1478.9" r="4" fill="#d2e21b"/>
<circle cx="703.4" cy="1396.7" r="4" fill="#fde725"/>
<circle cx="517.6" cy="1423.0" r="4" fill="#8bd646"/>
<circle cx="505.2" cy="1590.8" r="4" fill="#a2da37"/>
<circle cx="627.0" cy="1514.8" r="4" fill="#eae51a"/>
<circle cx="622.3" cy="1502.3" r="4" fill="#fde725"/>
<circle cx="617.7" cy="1392.8" r="4" fill="#d2e21b"/>
<circle cx="734.5" cy="1374.0" r="4" fill="#a2da37"/>
<circle cx="540.2" cy="1409.2" r="4" fill="#d2e21b"/>
<circle cx="446.5" cy="1551.6" r="4" fill="#bade28"/>
<circle cx="751.6" cy="1339.5" r="4" fill="#eae51a"/>
<circle cx="437.5" cy="1549.6" r="4" fill="#eae51a"/>
<circle cx="553.2" cy="1535.1" r="4" fill="#a2da37"/>
<circle cx="662.4" cy="1436.6" r="4" fill="#d2e21b"/>
<circle cx="431.9" cy="1648.5" r="4" fill="#fde725"/>
<circle cx="590.1" cy="1457.6" r="4" fill="#fde725"/>
<circle cx="379.2" cy="1610.7" r="4" fill="#8bd646"/>
<circle cx="661.3" cy="1338.7" r="4" fill="#eae51a"/>
<circle cx="512.4" cy="1442.6" r="4" fill="#eae51a"/>
<circle cx="535.8" cy="1453.1" r="4" fill="#a2da37"/>
<circle cx="373.1" cy="1581.1" r="4" fill="#fde725"/>
<circle cx="604.2" cy="1373.2" r="4" fill="#8bd646"/>
<circle cx="352.9" cy="1663.2" r="4" fill="#a2da37"/>
<circle cx="636.8" cy="1486.4" r="4" fill="#fde725"/>
<circle cx="669.6" cy="1423.4" r="4" fill="#bade28"/>
<circle cx="750.4" cy="1320.8" r="4" fill="#fde725"/>
<circle cx="573.5" cy="1553.6" r="4" fill="#bade28"/>
<circle cx="676.6" cy="1329.8" r="4" fill="#eae51a"/>
<circle cx="708.4" cy="1395.9" r="4" fill="#d2e21b"/>
<circle cx="414.2" cy="1626.4" r="4" fill="#bade28"/>
<circle cx="549.4" cy="1485.0" r="4" fill="#d2e21b"/>
<circle cx="427.4" cy="1470.7" r="4" fill="#a2da37"/>
<circle cx="637.6" cy="1495.6" r="4" fill="#fde725"/>
<circle cx="538.4" cy="1539.9" r="4" fill="#d2e21b"/>
<circle cx="792.0" cy="1296.4" r="4" fill="#bade28"/>
<circle cx="517.4" cy="1515.3" r="4" fill="#8bd646"/>
<circle cx="726.8" cy="1352.0" r="4" fill="#fde725"/>
<circle cx="579.5" cy="1526.7" r="4" fill="#fde725"/>
<circle cx="347.3" cy="1696.8" r="4" fill="#fde725"/>
<circle cx="471.7" cy="1553.8" r="4" fill="#eae51a"/>
<circle cx="650.5" cy="1459.2" r="4" fill="#a2da37"/>
<circle cx="770.0" cy="1363.8" r="4" fill="#fde725"/>
<circle cx="718.7" cy="1344.1" r="4" fill="#fde725"/>
<circle cx="484.3" cy="1569.3" r="4" fill="#eae51a"/>
<circle cx="558.0" cy="1566.8" r="4" fill="#bade28"/>
<circle cx="632.0" cy="1426.0" r="4" fill="#d2e21b"/>
<circle cx="544.8" cy="1413.7" r="4" fill="#d2e21b"/>
<circle cx="452.4" cy="1594.9" r="4" fill="#a2da37"/>
<circle cx="565.9" cy="1502.9" r="4" fill="#d2e21b"/>
<circle cx="642.5" cy="1443.3" r="4" fill="#eae51a"/>
<circle cx="833.4" cy="1343.0" r="4" fill="#fde725"/>
<circle cx="554.6" cy="1480.2" r="4" fill="#eae51a"/>
<circle cx="357.5" cy="1643.0" r="4" fill="#bade28"/>
<circle cx="581.3" cy="1449.0" r="4" fill="#a2da37"/>
<circle cx="660.8" cy="1443.4" r="4" fill="#fde725"/>
<circle cx="563.7" cy="1446.2" r="4" fill="#a2da37"/>
<circle cx="675.3" cy="1433.5" r="4" fill="#d2e21b"/>
<circle cx="597.0" cy="1404.0" r="4" fill="#bade28"/>
<circle cx="719.1" cy="1393.0" r="4" fill="#fde725"/>
<circle cx="732.8" cy="1361.0" r="4" fill="#d2e21b"/>
<circle cx="361.9" cy="1579.8" r="4" fill="#bade28"/>
<circle cx="654.3" cy="1407.9" r="4" fill="#fde725"/>
<circle cx="556.6" cy="1427.8" r="4" fill="#bade28"/>
<circle cx="510.8" cy="1619.8" r="4" fill="#d2e21b"/>
<circle cx="725.7" cy="1345.7" r="4" fill="#bade28"/>
<circle cx="607.4" cy="1486.3" r="4" fill="#bade28"/>
<circle cx="522.5" cy="1443.6" r="4" fill="#d2e21b"/>
<circle cx="377.2" cy="1615.7" r="4" fill="#fde725"/>
<circle cx="662.1" cy="1463.7" r="4" fill="#fde725"/>
<circle cx="599.9" cy="1380.1" r="4" fill="#d2e21b"/>
<circle cx="607.9" cy="1537.3" r="4" fill="#fde725"/>
<circle cx="640.9" cy="1393.8" r="4" fill="#eae51a"/>
<circle cx="514.9" cy="1416.8" r="4" fill="#fde725"/>
<circle cx="487.4" cy="1530.7" r="4" fill="#a2da37"/>
<circle cx="822.0" cy="1260.1" r="4" fill="#fde725"/>
<circle cx="552.9" cy="1392.7" r="4" fill="#d2e21b"/>
<circle cx="469.0" cy="1576.6" r="4" fill="#a2da37"/>
<circle cx="784.7" cy="1257.5" r="4" fill="#d2e21b"/>
<circle cx="636.8" cy="1416.1" r="4" fill="#bade28"/>
<circle cx="804.6" cy="1262.9" r="4" fill="#eae51a"/>
<circle cx="575.2" cy="1488.7" r="4" fill="#fde725"/>
<circle cx="480.4" cy="1616.1" r="4" fill="#d2e21b"/>
<circle cx="390.1" cy="1592.5" r="4" fill="#d2e21b"/>
<circle cx="635.8" cy="1487.8" r="4" fill="#fde725"/>
<circle cx="613.7" cy="1472.6" r="4" fill="#fde725"/>
<circle cx="577.5" cy="1529.5" r="4" fill="#d2e21b"/>
<circle cx="444.5" cy="1553.9" r="4" fill="#a2da37"/>
<circle cx="623.3" cy="1413.8" r="4" fill="#bade28"/>
<circle cx="383.7" cy="1609.7" r="4" fill="#eae51a"/>
<circle cx="659.8" cy="1469.5" r="4" fill="#a2da37"/>
<circle cx="680.2" cy="1354.9" r="4" fill="#fde725"/>
<circle cx="366.2" cy="1634.7" r="4" fill="#bade28"/>
<circle cx="345.3" cy="1699.9" r="4" fill="#eae51a"/>
<circle cx="613.0" cy="1448.8" r="4" fill="#d2e21b"/>
<circle cx="484.8" cy="1634.0" r="4" fill="#d2e21b"/>
<circle cx="483.7" cy="1623.5" r="4" fill="#d2e21b"/>
<circle cx="505.0" cy="1549.2" r="4" fill="#fde725"/>
<circle cx="529.2" cy="1433.3" r="4" fill="#bade28"/>
<circle cx="434.2" cy="1666.9" r="4" fill="#bade28"/>
<circle cx="703.6" cy="1403.2" r="4" fill="#fde725"/>
<circle cx="553.9" cy="1567.7" r="4" fill="#bade28"/>
<circle cx="666.0" cy="1418.3" r="4" fill="#d2e21b"/>
<circle cx="651.2" cy="1422.4" r="4" fill="#eae51a"/>
<circle cx="627.2" cy="1524.4" r="4" fill="#fde725"/>
<circle cx="481.9" cy="1564.9" r="4" fill="#d2e21b"/>
<circle cx="727.3" cy="1395.2" r="4" fill="#bade28"/>
<circle cx="537.0" cy="1439.9" r="4" fill="#bade28"/>
<circle cx="536.6" cy="1634.5" r="4" fill="#bade28"/>
<circle cx="739.3" cy="1351.5" r="4" fill="#bade28"/>
<circle cx="631.8" cy="1463.3" r="4" fill="#eae51a"/>
<circle cx="458.8" cy="1535.4" r="4" fill="#d2e21b"/>
<circle cx="629.9" cy="1383.4" r="4" fill="#eae51a"/>
<circle cx="669.9" cy="1448.6" r="4" fill="#fde725"/>
<circle cx="631.7" cy="1502.2" r="4" fill="#fde725"/>
<circle cx="586.0" cy="1506.2" r="4" fill="#bade28"/>
<circle cx="635.5" cy="1520.2" r="4" fill="#fde725"/>
<circle cx="643.7" cy="1485.0" r="4" fill="#fde725"/>
<circle cx="612.9" cy="1524.0" r="4" fill="#bade28"/>
<circle cx="702.6" cy="1408.8" r="4" fill="#fde725"/>
<circle cx="638.8" cy="1425.2" r="4" fill="#eae51a"/>
<circle cx="568.8" cy="1554.4" r="4" fill="#bade28"/>
<circle cx="461.3" cy="1627.3" r="4" fill="#eae51a"/>
<circle cx="570.4" cy="1372.9" r="4" fill="#d2e21b"/>
<circle cx="584.4" cy="1513.1" r="4" fill="#fde725"/>
<circle cx="575.1" cy="1520.6" r="4" fill="#d2e21b"/>
<circle cx="351.0" cy="1667.5" r="4" fill="#fde725"/>
<circle cx="383.9" cy="1578.9" r="4" fill="#d2e21b"/>
<circle cx="571.4" cy="1523.4" r="4" fill="#d2e21b"/>
<circle cx="598.1" cy="1453.2" r="4" fill="#fde725"/>
<circle cx="397.0" cy="1606.4" r="4" fill="#fde725"/>
<circle cx="498.5" cy="1635.0" r="4" fill="#d2e21b"/>
<circle cx="519.2" cy="1586.4" r="4" fill="#d2e21b"/>
<circle cx="661.4" cy="1454.6" r="4" fill="#d2e21b"/>
<circle cx="325.7" cy="1658.0" r="4" fill="#fde725"/>
<circle cx="734.4" cy="1398.7" r="4" fill="#bade28"/>
<circle cx="607.9" cy="1527.0" r="4" fill="#fde725"/>
<circle cx="668.9" cy="1445.0" r="4" fill="#d2e21b"/>
<circle cx="641.3" cy="1482.2" r="4" fill="#fde725"/>
<circle cx="782.3" cy="1349.9" r="4" fill="#bade28"/>
<circle cx="592.4" cy="1372.2" r="4" fill="#fde725"/>
<circle cx="736.6" cy="1363.1" r="4" fill="#eae51a"/>
<circle cx="763.9" cy="1346.4" r="4" fill="#bade28"/>
<circle cx="656.3" cy="1464.4" r="4" fill="#d2e21b"/>
<circle cx="644.2" cy="1471.2" r="4" fill="#fde725"/>
<circle cx="760.3" cy="1287.0" r="4" fill="#bade28"/>
<circle cx="477.0" cy="1594.6" r="4" fill="#bade28"/>
<circle cx="603.4" cy="1439.1" r="4" fill="#fde725"/>
<circle cx="508.5" cy="1424.6" r="4" fill="#fde725"/>
<circle cx="578.2" cy="1465.7" r="4" fill="#fde725"/>
<circle cx="331.1" cy="1626.8" r="4" fill="#fde725"/>
<circle cx="553.3" cy="1553.0" r="4" fill="#eae51a"/>
<circle cx="589.8" cy="1530.9" r="4" fill="#fde725"/>
<circle cx="738.2" cy="1366.1" r="4" fill="#fde725"/>
<circle cx="516.4" cy="1452.8" r="4" fill="#eae51a"/>
<circle cx="812.0" cy="1267.9" r="4" fill="#fde725"/>
<circle cx="509.9" cy="1525.8" r="4" fill="#fde725"/>
<circle cx="546.7" cy="1388.3" r="4" fill="#eae51a"/>
<circle cx="756.7" cy="1373.0" r="4" fill="#fde725"/>
<circle cx="362.8" cy="1590.2" r="4" fill="#eae51a"/>
<circle cx="709.2" cy="1405.1" r="4" fill="#fde725"/>
<circle cx="687.2" cy="1404.5" r="4" fill="#fde725"/>
<circle cx="382.6" cy="1629.2" r="4" fill="#eae51a"/>
<circle cx="556.8" cy="1440.0" r="4" fill="#fde725"/>
<circle cx="641.5" cy="1410.2" r="4" fill="#d2e21b"/>
<circle cx="568.8" cy="1374.5" r="4" fill="#d2e21b"/>
<circle cx="444.2" cy="1632.4" r="4" fill="#d2e21b"/>
<circle cx="613.4" cy="1456.4" r="4" fill="#fde725"/>
<circle cx="674.1" cy="1421.2" r="4" fill="#d2e21b"/>
<circle cx="571.6" cy="1392.8" r="4" fill="#fde725"/>
<circle cx="707.8" cy="1408.7" r="4" fill="#fde725"/>
<circle cx="580.1" cy="1367.1" r="4" fill="#d2e21b"/>
<circle cx="641.3" cy="1496.0" r="4" fill="#fde725"/>
<circle cx="536.5" cy="1430.0" r="4" fill="#fde725"/>
<circle cx="629.4" cy="1512.2" r="4" fill="#fde725"/>
<circle cx="393.3" cy="1569.7" r="4" fill="#d2e21b"/>
<circle cx="402.7" cy="1623.3" r="4" fill="#fde725"/>
<circle cx="540.5" cy="1411.6" r="4" fill="#d2e21b"/>
<circle cx="578.7" cy="1553.4" r="4" fill="#fde725"/>
<circle cx="397.6" cy="1612.5" r="4" fill="#fde725"/>
<circle cx="628.2" cy="1480.6" r="4" fill="#eae51a"/>
<circle cx="472.4" cy="1624.9" r="4" fill="#fde725"/>
<circle cx="700.5" cy="1332.8" r="4" fill="#fde725"/>
<circle cx="492.9" cy="1614.7" r="4" fill="#fde725"/>
<circle cx="622.1" cy="1518.8" r="4" fill="#eae51a"/>
<circle cx="616.3" cy="1514.5" r="4" fill="#eae51a"/>
<circle cx="788.3" cy="1329.5" r="4" fill="#fde725"/>
<circle cx="462.3" cy="1645.6" r="4" fill="#eae51a"/>
<circle cx="632.9" cy="1512.5" r="4" fill="#fde725"/>
<circle cx="489.5" cy="1587.9" r="4" fill="#fde725"/>
<circle cx="622.1" cy="1528.6" r="4" fill="#d2e21b"/>
<circle cx="504.7" cy="1539.5" r="4" fill="#eae51a"/>
<circle cx="684.7" cy="1322.2" r="4" fill="#eae51a"/>
<circle cx="564.9" cy="1492.8" r="4" fill="#d2e21b"/>
<circle cx="826.6" cy="1344.5" r="4" fill="#d2e21b"/>
<circle cx="520.1" cy="1411.1" r="4" fill="#d2e21b"/>
<circle cx="581.8" cy="1536.2" r="4" fill="#fde725"/>
<circle cx="597.5" cy="1362.8" r="4" fill="#d2e21b"/>
<circle cx="661.6" cy="1468.5" r="4" fill="#eae51a"/>
<circle cx="465.0" cy="1572.7" r="4" fill="#eae51a"/>
<circle cx="607.1" cy="1357.7" r="4" fill="#eae51a"/>
<circle cx="740.2" cy="1387.3" r="4" fill="#fde725"/>
<circle cx="470.6" cy="1627.9" r="4" fill="#fde725"/>
<circle cx="800.0" cy="1338.9" r="4" fill="#fde725"/>
<circle cx="572.0" cy="1566.1" r="4" fill="#fde725"/>
<circle cx="528.7" cy="1397.9" r="4" fill="#eae51a"/>
<circle cx="699.6" cy="1388.4" r="4" fill="#fde725"/>
<circle cx="447.8" cy="1623.2" r="4" fill="#fde725"/>
<circle cx="601.5" cy="1529.1" r="4" fill="#eae51a"/>
<circle cx="619.4" cy="1512.0" r="4" fill="#fde725"/>
<circle cx="721.5" cy="1402.5" r="4" fill="#eae51a"/>
<circle cx="733.6" cy="1383.3" r="4" fill="#fde725"/>
<circle cx="506.5" cy="1599.5" r="4" fill="#eae51a"/>
<circle cx="361.8" cy="1615.9" r="4" fill="#fde725"/>
<circle cx="643.5" cy="1494.1" r="4" fill="#fde725"/>
<circle cx="692.4" cy="1413.8" r="4" fill="#fde725"/>
<circle cx="712.5" cy="1338.0" r="4" fill="#eae51a"/>
<circle cx="571.5" cy="1560.0" r="4" fill="#fde725"/>
<circle cx="679.1" cy="1406.0" r="4" fill="#fde725"/>
<circle cx="712.0" cy="1380.7" r="4" fill="#fde725"/>
<circle cx="650.6" cy="1454.0" r="4" fill="#fde725"/>
<circle cx="683.4" cy="1403.9" r="4" fill="#eae51a"/>
<circle cx="454.1" cy="1641.9" r="4" fill="#fde725"/>
<circle cx="505.7" cy="1418.9" r="4" fill="#fde725"/>
<circle cx="321.5" cy="1637.9" r="4" fill="#fde725"/>
<circle cx="552.8" cy="1383.1" r="4" fill="#fde725"/>
<circle cx="478.6" cy="1687.4" r="4" fill="#fde725"/>
<circle cx="500.8" cy="1565.7" r="4" fill="#eae51a"/>
<circle cx="701.5" cy="1416.2" r="4" fill="#fde725"/>
<circle cx="378.4" cy="1582.5" r="4" fill="#fde725"/>
<circle cx="578.6" cy="1537.8" r="4" fill="#fde725"/>
<circle cx="807.3" cy="1345.2" r="4" fill="#fde725"/>
<circle cx="627.0" cy="1464.8" r="4" fill="#fde725"/>
<circle cx="677.9" cy="1391.7" r="4" fill="#fde725"/>
<circle cx="561.9" cy="1499.4" r="4" fill="#fde725"/>
<circle cx="741.1" cy="1371.5" r="4" fill="#fde725"/>
<circle cx="668.4" cy="1399.5" r="4" fill="#fde725"/>
<circle cx="672.5" cy="1448.0" r="4" fill="#fde725"/>
<circle cx="781.9" cy="1335.6" r="4" fill="#fde725"/>
<circle cx="726.1" cy="1376.2" r="4" fill="#fde725"/>
<circle cx="635.6" cy="1465.8" r="4" fill="#fde725"/>
<circle cx="601.4" cy="1511.9" r="4" fill="#fde725"/>
<circle cx="625.7" cy="1501.3" r="4" fill="#fde725"/>
<circle cx="803.7" cy="1347.2" r="4" fill="#fde725"/>
<circle cx="603.7" cy="1529.3" r="4" fill="#fde725"/>
<circle cx="708.0" cy="1416.5" r="4" fill="#fde725"/>
<circle cx="675.4" cy="1430.6" r="4" fill="#fde725"/>
<circle cx="537.7" cy="1391.1" r="4" fill="#fde725"/>
<circle cx="360.1" cy="1626.6" r="4" fill="#fde725"/>
<circle cx="644.2" cy="1480.1" r="4" fill="#fde725"/>
<circle cx="509.2" cy="1632.4" r="4" fill="#fde725"/>
<circle cx="725.3" cy="1367.3" r="4" fill="#fde725"/>
<circle cx="658.6" cy="1450.8" r="4" fill="#fde725"/>
<circle cx="742.0" cy="1379.0" r="4" fill="#fde725"/>
<circle cx="542.0" cy="1432.7" r="4" fill="#fde725"/>
<circle cx="599.1" cy="1500.0" r="4" fill="#fde725"/>
<circle cx="630.1" cy="1499.5" r="4" fill="#fde725"/>
<circle cx="545.7" cy="1382.4" r="4" fill="#fde725"/>
<circle cx="775.3" cy="1326.9" r="4" fill="#fde725"/>
</g>
<clipPath id="clipE"><rect x="147.3" y="1046.2" width="847.1" height="841.6"/></clipPath>
<path d="M147.3 1887.8L994.4 1046.2" stroke="#000" stroke-width="3" stroke-dasharray="12.2 5.6"/>
<rect x="147.3" y="1046.2" width="847.1" height="841.6" fill="none" stroke="#000" stroke-width="1.67" stroke-linejoin="miter"/>
<path d="M147.3 1887.8h-7.3M147.3 1782.6h-7.3M147.3 1677.4h-7.3M147.3 1572.2h-7.3M147.3 1467h-7.3M147.3 1361.8h-7.3M147.3 1256.6h-7.3M147.3 1151.4h-7.3M147.3 1046.2h-7.3" stroke="#000" stroke-width="1.67"/>
<text x="131.7" y="1900" font-size="33.3" text-anchor="end">0.1</text>
<text x="131.7" y="1794.8" font-size="33.3" text-anchor="end">0.2</text>
<text x="131.7" y="1689.6" font-size="33.3" text-anchor="end">0.3</text>
<text x="131.7" y="1584.4" font-size="33.3" text-anchor="end">0.4</text>
<text x="131.7" y="1479.2" font-size="33.3" text-anchor="end">0.5</text>
<text x="131.7" y="1374" font-size="33.3" text-anchor="end">0.6</text>
<text x="131.7" y="1268.8" font-size="33.3" text-anchor="end">0.7</text>
<text x="131.7" y="1163.6" font-size="33.3" text-anchor="end">0.8</text>
<text x="131.7" y="1058.4" font-size="33.3" text-anchor="end">0.9</text>
<path d="M147.3 1887.8v7.3M253.2 1887.8v7.3M359.1 1887.8v7.3M465 1887.8v7.3M570.8 1887.8v7.3M676.7 1887.8v7.3M782.6 1887.8v7.3M888.5 1887.8v7.3M994.4 1887.8v7.3" stroke="#000" stroke-width="1.67"/>
<text x="147.3" y="1928.4" font-size="33.3" text-anchor="middle">0.1</text>
<text x="253.2" y="1928.4" font-size="33.3" text-anchor="middle">0.2</text>
<text x="359.1" y="1928.4" font-size="33.3" text-anchor="middle">0.3</text>
<text x="465" y="1928.4" font-size="33.3" text-anchor="middle">0.4</text>
<text x="570.8" y="1928.4" font-size="33.3" text-anchor="middle">0.5</text>
<text x="676.7" y="1928.4" font-size="33.3" text-anchor="middle">0.6</text>
<text x="782.6" y="1928.4" font-size="33.3" text-anchor="middle">0.7</text>
<text x="888.5" y="1928.4" font-size="33.3" text-anchor="middle">0.8</text>
<text x="994.4" y="1928.4" font-size="33.3" text-anchor="middle">0.9</text>
<text x="569.1" y="1974.5" font-size="40" text-anchor="middle">Actual</text>
<defs><linearGradient id="vg" x1="0" y1="1" x2="0" y2="0">
<stop offset="0.00" stop-color="#440154"/>
<stop offset="0.10" stop-color="#482475"/>
<stop offset="0.20" stop-color="#414487"/>
<stop offset="0.30" stop-color="#355f8d"/>
<stop offset="0.40" stop-color="#2a788e"/>
<stop offset="0.50" stop-color="#21918c"/>
<stop offset="0.60" stop-color="#22a884"/>
<stop offset="0.70" stop-color="#44bf70"/>
<stop offset="0.80" stop-color="#7ad151"/>
<stop offset="0.90" stop-color="#bddf26"/>
<stop offset="1.00" stop-color="#fde725"/>
</linearGradient></defs>
<rect x="912.3" y="1618.2" width="22" height="227.5" fill="url(#vg)" stroke="#000" stroke-width="1.67"/>
<path d="M934.3 1775.1h7.3M934.3 1696.6h7.3M934.3 1618.2h7.3" stroke="#000" stroke-width="1.67"/>
<text x="949.6" y="1787.3" font-size="33.3" text-anchor="start">10</text>
<text x="949.6" y="1708.8" font-size="33.3" text-anchor="start">20</text>
<text x="949.6" y="1630.4" font-size="33.3" text-anchor="start">30</text>
<clipPath id="cf1"><rect x="1163.7" y="1046.2" width="845.8" height="374.4"/></clipPath>
<path clip-path="url(#cf1)" d="M1200.0 1398.7h3.4v3.4h-3.4zM1200.8 1392.4h3.4v3.4h-3.4zM1201.1 1384.1h3.4v3.4h-3.4zM1201.9 1376.0h3.4v3.4h-3.4zM1202.2 1367.7h3.4v3.4h-3.4zM1203.3 1361.6h3.4v3.4h-3.4zM1204.3 1357.0h3.4v3.4h-3.4zM1204.7 1348.7h3.4v3.4h-3.4zM1205.5 1345.0h3.4v3.4h-3.4zM1205.9 1336.7h3.4v3.4h-3.4zM1206.5 1339.1h3.4v3.4h-3.4zM1207.0 1333.2h3.4v3.4h-3.4zM1207.5 1329.5h3.4v3.4h-3.4zM1208.2 1328.2h3.4v3.4h-3.4zM1208.6 1322.4h3.4v3.4h-3.4zM1209.3 1323.2h3.4v3.4h-3.4zM1209.9 1323.7h3.4v3.4h-3.4zM1210.4 1325.6h3.4v3.4h-3.4zM1210.9 1318.7h3.4v3.4h-3.4zM1211.5 1325.5h3.4v3.4h-3.4zM1211.9 1317.2h3.4v3.4h-3.4zM1212.7 1319.9h3.4v3.4h-3.4zM1213.3 1314.4h3.4v3.4h-3.4zM1213.9 1320.7h3.4v3.4h-3.4zM1214.5 1314.6h3.4v3.4h-3.4zM1215.3 1309.4h3.4v3.4h-3.4zM1215.9 1305.0h3.4v3.4h-3.4zM1216.5 1303.6h3.4v3.4h-3.4zM1216.9 1297.1h3.4v3.4h-3.4zM1217.5 1303.4h3.4v3.4h-3.4zM1217.9 1295.1h3.4v3.4h-3.4zM1218.3 1294.8h3.4v3.4h-3.4zM1218.8 1295.4h3.4v3.4h-3.4zM1219.2 1287.1h3.4v3.4h-3.4zM1220.0 1291.1h3.4v3.4h-3.4zM1220.4 1282.8h3.4v3.4h-3.4zM1220.9 1288.4h3.4v3.4h-3.4zM1221.3 1283.8h3.4v3.4h-3.4zM1221.8 1279.0h3.4v3.4h-3.4zM1222.7 1280.7h3.4v3.4h-3.4zM1223.6 1279.5h3.4v3.4h-3.4zM1224.2 1274.8h3.4v3.4h-3.4zM1224.7 1280.7h3.4v3.4h-3.4zM1225.3 1273.2h3.4v3.4h-3.4zM1225.6 1281.5h3.4v3.4h-3.4zM1226.6 1286.8h3.4v3.4h-3.4zM1227.0 1295.1h3.4v3.4h-3.4zM1227.9 1298.1h3.4v3.4h-3.4zM1228.5 1302.5h3.4v3.4h-3.4zM1229.1 1303.5h3.4v3.4h-3.4zM1229.4 1311.8h3.4v3.4h-3.4zM1230.0 1304.6h3.4v3.4h-3.4zM1230.4 1312.9h3.4v3.4h-3.4zM1230.8 1316.1h3.4v3.4h-3.4zM1231.3 1312.0h3.4v3.4h-3.4zM1231.7 1320.3h3.4v3.4h-3.4zM1232.0 1321.9h3.4v3.4h-3.4zM1232.4 1313.6h3.4v3.4h-3.4zM1233.3 1313.9h3.4v3.4h-3.4zM1233.8 1308.9h3.4v3.4h-3.4zM1234.3 1316.1h3.4v3.4h-3.4zM1234.6 1307.8h3.4v3.4h-3.4zM1235.0 1303.7h3.4v3.4h-3.4zM1235.7 1306.3h3.4v3.4h-3.4zM1236.0 1298.1h3.4v3.4h-3.4zM1236.8 1297.9h3.4v3.4h-3.4zM1237.3 1289.9h3.4v3.4h-3.4zM1238.0 1294.4h3.4v3.4h-3.4zM1238.4 1286.2h3.4v3.4h-3.4zM1239.4 1280.1h3.4v3.4h-3.4zM1239.9 1280.6h3.4v3.4h-3.4zM1240.5 1281.2h3.4v3.4h-3.4zM1240.9 1274.7h3.4v3.4h-3.4zM1241.3 1283.0h3.4v3.4h-3.4zM1242.1 1284.7h3.4v3.4h-3.4zM1242.6 1292.9h3.4v3.4h-3.4zM1243.6 1301.0h3.4v3.4h-3.4zM1243.9 1304.9h3.4v3.4h-3.4zM1244.3 1296.6h3.4v3.4h-3.4zM1245.1 1295.1h3.4v3.4h-3.4zM1245.6 1286.8h3.4v3.4h-3.4zM1246.7 1282.7h3.4v3.4h-3.4zM1247.1 1274.5h3.4v3.4h-3.4zM1247.8 1266.2h3.4v3.4h-3.4zM1248.0 1257.9h3.4v3.4h-3.4zM1248.7 1254.0h3.4v3.4h-3.4zM1249.0 1245.7h3.4v3.4h-3.4zM1249.2 1237.4h3.4v3.4h-3.4zM1250.1 1230.0h3.4v3.4h-3.4zM1250.3 1221.7h3.4v3.4h-3.4zM1251.0 1216.4h3.4v3.4h-3.4zM1251.5 1208.1h3.4v3.4h-3.4zM1252.5 1201.1h3.4v3.4h-3.4zM1253.6 1193.8h3.4v3.4h-3.4zM1253.9 1185.5h3.4v3.4h-3.4zM1254.9 1180.7h3.4v3.4h-3.4zM1255.9 1178.7h3.4v3.4h-3.4zM1256.4 1170.4h3.4v3.4h-3.4zM1256.8 1172.8h3.4v3.4h-3.4zM1257.3 1170.7h3.4v3.4h-3.4zM1257.7 1163.3h3.4v3.4h-3.4zM1258.3 1171.0h3.4v3.4h-3.4zM1259.0 1164.3h3.4v3.4h-3.4zM1259.6 1166.0h3.4v3.4h-3.4zM1260.0 1157.7h3.4v3.4h-3.4zM1260.7 1158.6h3.4v3.4h-3.4zM1261.1 1150.3h3.4v3.4h-3.4zM1261.9 1150.5h3.4v3.4h-3.4zM1262.2 1142.2h3.4v3.4h-3.4zM1262.7 1139.3h3.4v3.4h-3.4zM1263.3 1136.9h3.4v3.4h-3.4zM1264.0 1142.7h3.4v3.4h-3.4zM1264.8 1141.8h3.4v3.4h-3.4zM1265.4 1148.3h3.4v3.4h-3.4zM1266.1 1142.3h3.4v3.4h-3.4zM1266.5 1150.5h3.4v3.4h-3.4zM1267.2 1148.7h3.4v3.4h-3.4zM1267.8 1156.0h3.4v3.4h-3.4zM1268.7 1161.7h3.4v3.4h-3.4zM1269.7 1165.7h3.4v3.4h-3.4zM1270.3 1173.7h3.4v3.4h-3.4zM1270.9 1167.1h3.4v3.4h-3.4zM1271.6 1172.5h3.4v3.4h-3.4zM1272.4 1174.2h3.4v3.4h-3.4zM1272.9 1175.6h3.4v3.4h-3.4zM1273.7 1176.7h3.4v3.4h-3.4zM1274.0 1177.4h3.4v3.4h-3.4zM1274.2 1169.1h3.4v3.4h-3.4zM1275.1 1161.3h3.4v3.4h-3.4zM1275.4 1153.0h3.4v3.4h-3.4zM1275.9 1144.8h3.4v3.4h-3.4zM1276.5 1136.5h3.4v3.4h-3.4zM1277.1 1132.7h3.4v3.4h-3.4zM1277.7 1131.0h3.4v3.4h-3.4zM1278.0 1122.7h3.4v3.4h-3.4zM1278.9 1120.2h3.4v3.4h-3.4zM1279.5 1128.5h3.4v3.4h-3.4zM1279.7 1136.7h3.4v3.4h-3.4zM1280.5 1145.0h3.4v3.4h-3.4zM1280.8 1153.3h3.4v3.4h-3.4zM1281.5 1161.5h3.4v3.4h-3.4zM1281.9 1169.8h3.4v3.4h-3.4zM1282.2 1178.1h3.4v3.4h-3.4zM1282.7 1174.1h3.4v3.4h-3.4zM1283.0 1165.8h3.4v3.4h-3.4zM1283.4 1157.5h3.4v3.4h-3.4zM1283.6 1149.2h3.4v3.4h-3.4zM1283.8 1140.9h3.4v3.4h-3.4zM1283.9 1132.6h3.4v3.4h-3.4zM1284.2 1124.3h3.4v3.4h-3.4zM1284.7 1119.3h3.4v3.4h-3.4zM1285.5 1118.6h3.4v3.4h-3.4zM1286.0 1123.1h3.4v3.4h-3.4zM1286.7 1120.7h3.4v3.4h-3.4zM1287.5 1118.9h3.4v3.4h-3.4zM1288.1 1123.0h3.4v3.4h-3.4zM1289.0 1123.2h3.4v3.4h-3.4zM1289.7 1125.0h3.4v3.4h-3.4zM1290.3 1124.3h3.4v3.4h-3.4zM1291.2 1120.4h3.4v3.4h-3.4zM1292.0 1119.3h3.4v3.4h-3.4zM1292.5 1112.5h3.4v3.4h-3.4zM1293.2 1116.4h3.4v3.4h-3.4zM1293.6 1108.1h3.4v3.4h-3.4zM1294.7 1113.7h3.4v3.4h-3.4zM1295.2 1122.0h3.4v3.4h-3.4zM1295.8 1125.9h3.4v3.4h-3.4zM1296.3 1130.2h3.4v3.4h-3.4zM1296.6 1138.5h3.4v3.4h-3.4zM1297.5 1143.6h3.4v3.4h-3.4zM1298.5 1149.3h3.4v3.4h-3.4zM1299.0 1157.6h3.4v3.4h-3.4zM1299.8 1159.9h3.4v3.4h-3.4zM1300.1 1168.2h3.4v3.4h-3.4zM1301.0 1175.5h3.4v3.4h-3.4zM1301.4 1183.8h3.4v3.4h-3.4zM1302.3 1190.5h3.4v3.4h-3.4zM1302.5 1198.8h3.4v3.4h-3.4zM1303.1 1197.5h3.4v3.4h-3.4zM1303.9 1192.8h3.4v3.4h-3.4zM1304.4 1184.5h3.4v3.4h-3.4zM1305.2 1176.3h3.4v3.4h-3.4zM1305.6 1168.0h3.4v3.4h-3.4zM1306.1 1171.6h3.4v3.4h-3.4zM1307.1 1175.0h3.4v3.4h-3.4zM1307.8 1178.6h3.4v3.4h-3.4zM1308.5 1184.4h3.4v3.4h-3.4zM1309.1 1182.7h3.4v3.4h-3.4zM1309.6 1188.8h3.4v3.4h-3.4zM1310.6 1196.4h3.4v3.4h-3.4zM1311.1 1203.5h3.4v3.4h-3.4zM1311.6 1195.6h3.4v3.4h-3.4zM1312.1 1203.9h3.4v3.4h-3.4zM1312.6 1197.8h3.4v3.4h-3.4zM1313.0 1193.9h3.4v3.4h-3.4zM1313.6 1194.2h3.4v3.4h-3.4zM1313.9 1185.9h3.4v3.4h-3.4zM1314.6 1187.4h3.4v3.4h-3.4zM1315.1 1180.0h3.4v3.4h-3.4zM1315.7 1182.1h3.4v3.4h-3.4zM1316.1 1177.4h3.4v3.4h-3.4zM1316.4 1169.1h3.4v3.4h-3.4zM1317.3 1169.3h3.4v3.4h-3.4zM1318.0 1162.7h3.4v3.4h-3.4zM1318.7 1155.6h3.4v3.4h-3.4zM1320.1 1154.5h3.4v3.4h-3.4zM1320.4 1162.8h3.4v3.4h-3.4zM1321.3 1168.7h3.4v3.4h-3.4zM1321.7 1177.0h3.4v3.4h-3.4zM1322.6 1184.2h3.4v3.4h-3.4zM1322.8 1192.5h3.4v3.4h-3.4zM1323.4 1197.2h3.4v3.4h-3.4zM1323.6 1188.9h3.4v3.4h-3.4zM1324.4 1183.3h3.4v3.4h-3.4zM1324.6 1175.0h3.4v3.4h-3.4zM1324.8 1166.7h3.4v3.4h-3.4zM1325.7 1158.6h3.4v3.4h-3.4zM1326.0 1150.3h3.4v3.4h-3.4zM1326.5 1148.5h3.4v3.4h-3.4zM1327.2 1144.8h3.4v3.4h-3.4zM1328.0 1147.6h3.4v3.4h-3.4zM1328.6 1145.3h3.4v3.4h-3.4zM1329.2 1149.5h3.4v3.4h-3.4zM1329.8 1147.8h3.4v3.4h-3.4zM1330.3 1153.2h3.4v3.4h-3.4zM1330.8 1144.9h3.4v3.4h-3.4zM1331.3 1152.3h3.4v3.4h-3.4zM1332.3 1155.7h3.4v3.4h-3.4zM1332.7 1162.7h3.4v3.4h-3.4zM1333.4 1159.8h3.4v3.4h-3.4zM1333.8 1168.1h3.4v3.4h-3.4zM1334.6 1165.9h3.4v3.4h-3.4zM1335.2 1171.8h3.4v3.4h-3.4zM1335.9 1173.0h3.4v3.4h-3.4zM1336.4 1177.8h3.4v3.4h-3.4zM1337.1 1177.4h3.4v3.4h-3.4zM1337.6 1179.9h3.4v3.4h-3.4zM1338.1 1174.3h3.4v3.4h-3.4zM1338.5 1182.6h3.4v3.4h-3.4zM1338.9 1181.5h3.4v3.4h-3.4zM1339.5 1180.4h3.4v3.4h-3.4zM1340.0 1186.1h3.4v3.4h-3.4zM1340.6 1194.3h3.4v3.4h-3.4zM1340.8 1202.6h3.4v3.4h-3.4zM1341.0 1210.9h3.4v3.4h-3.4zM1341.8 1219.2h3.4v3.4h-3.4zM1342.9 1224.5h3.4v3.4h-3.4zM1343.4 1232.8h3.4v3.4h-3.4zM1344.2 1234.0h3.4v3.4h-3.4zM1344.7 1241.4h3.4v3.4h-3.4zM1345.3 1243.8h3.4v3.4h-3.4zM1345.7 1252.1h3.4v3.4h-3.4zM1346.2 1260.4h3.4v3.4h-3.4zM1346.7 1268.6h3.4v3.4h-3.4zM1347.2 1276.9h3.4v3.4h-3.4zM1347.8 1285.2h3.4v3.4h-3.4zM1348.2 1293.5h3.4v3.4h-3.4zM1349.0 1301.7h3.4v3.4h-3.4zM1349.2 1310.0h3.4v3.4h-3.4zM1349.5 1318.0h3.4v3.4h-3.4zM1349.9 1309.7h3.4v3.4h-3.4zM1350.9 1302.1h3.4v3.4h-3.4zM1351.9 1294.7h3.4v3.4h-3.4zM1352.3 1286.4h3.4v3.4h-3.4zM1352.9 1283.9h3.4v3.4h-3.4zM1353.3 1275.6h3.4v3.4h-3.4zM1353.6 1267.3h3.4v3.4h-3.4zM1354.4 1259.1h3.4v3.4h-3.4zM1354.8 1250.8h3.4v3.4h-3.4zM1355.7 1242.6h3.4v3.4h-3.4zM1356.4 1234.8h3.4v3.4h-3.4zM1356.9 1230.6h3.4v3.4h-3.4zM1357.4 1224.9h3.4v3.4h-3.4zM1358.2 1222.7h3.4v3.4h-3.4zM1359.3 1215.0h3.4v3.4h-3.4zM1360.2 1207.9h3.4v3.4h-3.4zM1360.5 1199.6h3.4v3.4h-3.4zM1360.8 1191.3h3.4v3.4h-3.4zM1361.7 1186.0h3.4v3.4h-3.4zM1362.0 1177.7h3.4v3.4h-3.4zM1362.8 1177.5h3.4v3.4h-3.4zM1363.1 1169.2h3.4v3.4h-3.4zM1364.0 1162.7h3.4v3.4h-3.4zM1364.4 1154.4h3.4v3.4h-3.4zM1365.1 1151.8h3.4v3.4h-3.4zM1365.7 1144.3h3.4v3.4h-3.4zM1366.4 1144.1h3.4v3.4h-3.4zM1366.8 1135.8h3.4v3.4h-3.4zM1368.0 1132.1h3.4v3.4h-3.4zM1368.4 1131.0h3.4v3.4h-3.4zM1369.0 1128.8h3.4v3.4h-3.4zM1370.0 1126.1h3.4v3.4h-3.4zM1370.6 1119.0h3.4v3.4h-3.4zM1371.0 1127.2h3.4v3.4h-3.4zM1371.8 1127.0h3.4v3.4h-3.4zM1372.1 1135.3h3.4v3.4h-3.4zM1372.9 1140.6h3.4v3.4h-3.4zM1373.0 1148.9h3.4v3.4h-3.4zM1373.2 1157.2h3.4v3.4h-3.4zM1373.6 1165.5h3.4v3.4h-3.4zM1374.2 1173.8h3.4v3.4h-3.4zM1374.4 1182.1h3.4v3.4h-3.4zM1374.8 1190.1h3.4v3.4h-3.4zM1375.5 1198.4h3.4v3.4h-3.4zM1376.0 1205.1h3.4v3.4h-3.4zM1376.6 1206.4h3.4v3.4h-3.4zM1376.9 1214.6h3.4v3.4h-3.4zM1377.6 1213.6h3.4v3.4h-3.4zM1377.9 1220.5h3.4v3.4h-3.4zM1378.2 1228.8h3.4v3.4h-3.4zM1379.0 1229.3h3.4v3.4h-3.4zM1379.3 1237.6h3.4v3.4h-3.4zM1380.2 1241.6h3.4v3.4h-3.4zM1380.8 1248.7h3.4v3.4h-3.4zM1381.8 1254.5h3.4v3.4h-3.4zM1382.7 1255.7h3.4v3.4h-3.4zM1383.6 1263.5h3.4v3.4h-3.4zM1384.2 1270.5h3.4v3.4h-3.4zM1385.1 1273.9h3.4v3.4h-3.4zM1385.4 1282.2h3.4v3.4h-3.4zM1386.3 1290.4h3.4v3.4h-3.4zM1387.1 1294.8h3.4v3.4h-3.4zM1387.6 1302.3h3.4v3.4h-3.4zM1388.4 1304.2h3.4v3.4h-3.4zM1388.7 1307.9h3.4v3.4h-3.4zM1389.1 1314.9h3.4v3.4h-3.4zM1389.7 1307.1h3.4v3.4h-3.4zM1390.0 1315.4h3.4v3.4h-3.4zM1390.5 1317.6h3.4v3.4h-3.4zM1391.1 1318.9h3.4v3.4h-3.4zM1391.9 1321.4h3.4v3.4h-3.4zM1392.4 1328.3h3.4v3.4h-3.4zM1393.0 1329.8h3.4v3.4h-3.4zM1393.7 1333.3h3.4v3.4h-3.4zM1394.0 1332.9h3.4v3.4h-3.4zM1394.4 1324.6h3.4v3.4h-3.4zM1395.1 1324.7h3.4v3.4h-3.4zM1395.5 1316.4h3.4v3.4h-3.4zM1396.3 1308.4h3.4v3.4h-3.4zM1396.7 1300.1h3.4v3.4h-3.4zM1397.5 1299.5h3.4v3.4h-3.4zM1397.8 1291.2h3.4v3.4h-3.4zM1398.9 1283.3h3.4v3.4h-3.4zM1399.8 1278.9h3.4v3.4h-3.4zM1400.2 1270.6h3.4v3.4h-3.4zM1400.5 1265.6h3.4v3.4h-3.4zM1400.8 1273.9h3.4v3.4h-3.4zM1401.3 1282.2h3.4v3.4h-3.4zM1401.8 1290.5h3.4v3.4h-3.4zM1402.1 1298.8h3.4v3.4h-3.4zM1402.4 1307.1h3.4v3.4h-3.4zM1403.5 1302.2h3.4v3.4h-3.4zM1403.9 1293.9h3.4v3.4h-3.4zM1404.8 1285.8h3.4v3.4h-3.4zM1405.1 1277.6h3.4v3.4h-3.4zM1405.5 1276.9h3.4v3.4h-3.4zM1406.0 1268.6h3.4v3.4h-3.4zM1406.2 1260.4h3.4v3.4h-3.4zM1406.4 1253.7h3.4v3.4h-3.4zM1406.6 1253.8h3.4v3.4h-3.4zM1406.9 1245.5h3.4v3.4h-3.4zM1407.2 1237.2h3.4v3.4h-3.4zM1407.4 1228.9h3.4v3.4h-3.4zM1407.8 1223.1h3.4v3.4h-3.4zM1408.4 1221.8h3.4v3.4h-3.4zM1408.8 1213.5h3.4v3.4h-3.4zM1409.5 1211.3h3.4v3.4h-3.4zM1409.8 1203.0h3.4v3.4h-3.4zM1410.7 1194.9h3.4v3.4h-3.4zM1410.9 1186.6h3.4v3.4h-3.4zM1411.2 1178.3h3.4v3.4h-3.4zM1411.3 1179.9h3.4v3.4h-3.4zM1411.8 1171.7h3.4v3.4h-3.4zM1412.2 1163.4h3.4v3.4h-3.4zM1412.5 1155.1h3.4v3.4h-3.4zM1413.1 1146.8h3.4v3.4h-3.4zM1413.7 1142.4h3.4v3.4h-3.4zM1414.0 1150.7h3.4v3.4h-3.4zM1414.8 1158.5h3.4v3.4h-3.4zM1415.2 1166.8h3.4v3.4h-3.4zM1415.8 1172.3h3.4v3.4h-3.4zM1416.5 1178.3h3.4v3.4h-3.4zM1417.5 1185.7h3.4v3.4h-3.4zM1418.3 1190.4h3.4v3.4h-3.4zM1418.9 1197.3h3.4v3.4h-3.4zM1419.2 1194.4h3.4v3.4h-3.4zM1419.6 1186.1h3.4v3.4h-3.4zM1420.4 1185.7h3.4v3.4h-3.4zM1420.7 1177.4h3.4v3.4h-3.4zM1421.6 1170.6h3.4v3.4h-3.4zM1421.9 1162.3h3.4v3.4h-3.4zM1422.7 1158.1h3.4v3.4h-3.4zM1423.1 1149.8h3.4v3.4h-3.4zM1423.6 1156.6h3.4v3.4h-3.4zM1424.7 1163.9h3.4v3.4h-3.4zM1425.8 1171.0h3.4v3.4h-3.4zM1426.2 1179.3h3.4v3.4h-3.4zM1427.0 1183.2h3.4v3.4h-3.4zM1428.0 1189.0h3.4v3.4h-3.4zM1428.4 1196.9h3.4v3.4h-3.4zM1429.3 1200.0h3.4v3.4h-3.4zM1429.8 1208.3h3.4v3.4h-3.4zM1430.5 1209.6h3.4v3.4h-3.4zM1430.8 1217.9h3.4v3.4h-3.4zM1431.7 1223.4h3.4v3.4h-3.4zM1432.0 1231.7h3.4v3.4h-3.4zM1432.5 1238.8h3.4v3.4h-3.4zM1433.0 1233.0h3.4v3.4h-3.4zM1433.6 1234.0h3.4v3.4h-3.4zM1434.0 1225.7h3.4v3.4h-3.4zM1434.8 1227.3h3.4v3.4h-3.4zM1435.1 1219.0h3.4v3.4h-3.4zM1435.8 1221.1h3.4v3.4h-3.4zM1436.2 1213.0h3.4v3.4h-3.4zM1436.5 1212.9h3.4v3.4h-3.4zM1437.0 1221.2h3.4v3.4h-3.4zM1437.7 1217.8h3.4v3.4h-3.4zM1438.2 1226.1h3.4v3.4h-3.4zM1439.1 1232.6h3.4v3.4h-3.4zM1439.7 1236.2h3.4v3.4h-3.4zM1440.3 1237.9h3.4v3.4h-3.4zM1440.7 1242.7h3.4v3.4h-3.4zM1441.0 1234.4h3.4v3.4h-3.4zM1441.2 1226.1h3.4v3.4h-3.4zM1442.2 1221.7h3.4v3.4h-3.4zM1443.1 1213.6h3.4v3.4h-3.4zM1443.8 1213.1h3.4v3.4h-3.4zM1444.3 1220.9h3.4v3.4h-3.4zM1444.9 1217.3h3.4v3.4h-3.4zM1445.2 1225.6h3.4v3.4h-3.4zM1445.8 1228.7h3.4v3.4h-3.4zM1446.4 1234.1h3.4v3.4h-3.4zM1447.0 1238.1h3.4v3.4h-3.4zM1447.6 1242.3h3.4v3.4h-3.4zM1448.3 1243.6h3.4v3.4h-3.4zM1449.0 1235.3h3.4v3.4h-3.4zM1449.4 1227.1h3.4v3.4h-3.4zM1450.3 1218.9h3.4v3.4h-3.4zM1450.6 1210.6h3.4v3.4h-3.4zM1451.0 1202.3h3.4v3.4h-3.4zM1451.8 1206.6h3.4v3.4h-3.4zM1452.4 1213.6h3.4v3.4h-3.4zM1453.3 1220.5h3.4v3.4h-3.4zM1453.8 1228.8h3.4v3.4h-3.4zM1454.3 1223.1h3.4v3.4h-3.4zM1455.1 1214.9h3.4v3.4h-3.4zM1455.4 1206.6h3.4v3.4h-3.4zM1456.3 1198.4h3.4v3.4h-3.4zM1456.5 1190.1h3.4v3.4h-3.4zM1456.8 1181.8h3.4v3.4h-3.4zM1457.6 1174.5h3.4v3.4h-3.4zM1458.1 1167.3h3.4v3.4h-3.4zM1458.4 1175.6h3.4v3.4h-3.4zM1458.7 1183.9h3.4v3.4h-3.4zM1459.4 1192.1h3.4v3.4h-3.4zM1459.7 1200.4h3.4v3.4h-3.4zM1460.3 1208.7h3.4v3.4h-3.4zM1460.7 1217.0h3.4v3.4h-3.4zM1461.0 1225.3h3.4v3.4h-3.4zM1461.7 1230.0h3.4v3.4h-3.4zM1462.3 1230.9h3.4v3.4h-3.4zM1462.6 1222.6h3.4v3.4h-3.4zM1463.4 1221.3h3.4v3.4h-3.4zM1463.8 1213.0h3.4v3.4h-3.4zM1464.3 1208.8h3.4v3.4h-3.4zM1464.9 1205.5h3.4v3.4h-3.4zM1465.2 1197.2h3.4v3.4h-3.4zM1466.1 1192.4h3.4v3.4h-3.4zM1466.4 1184.1h3.4v3.4h-3.4zM1466.8 1191.0h3.4v3.4h-3.4zM1467.6 1199.1h3.4v3.4h-3.4zM1467.9 1207.4h3.4v3.4h-3.4zM1468.2 1215.7h3.4v3.4h-3.4zM1469.0 1220.1h3.4v3.4h-3.4zM1469.2 1228.4h3.4v3.4h-3.4zM1470.1 1236.5h3.4v3.4h-3.4zM1470.4 1244.8h3.4v3.4h-3.4zM1470.8 1244.4h3.4v3.4h-3.4zM1471.2 1236.1h3.4v3.4h-3.4zM1472.1 1228.2h3.4v3.4h-3.4zM1472.5 1220.4h3.4v3.4h-3.4zM1473.3 1217.0h3.4v3.4h-3.4zM1473.7 1211.9h3.4v3.4h-3.4zM1474.2 1220.2h3.4v3.4h-3.4zM1475.1 1222.4h3.4v3.4h-3.4zM1475.4 1230.7h3.4v3.4h-3.4zM1476.3 1233.1h3.4v3.4h-3.4zM1476.8 1238.6h3.4v3.4h-3.4zM1477.3 1236.2h3.4v3.4h-3.4zM1478.0 1232.5h3.4v3.4h-3.4zM1478.3 1224.2h3.4v3.4h-3.4zM1479.2 1221.2h3.4v3.4h-3.4zM1479.9 1214.7h3.4v3.4h-3.4zM1480.5 1209.6h3.4v3.4h-3.4zM1480.8 1201.3h3.4v3.4h-3.4zM1481.7 1199.1h3.4v3.4h-3.4zM1482.0 1190.8h3.4v3.4h-3.4zM1482.9 1188.0h3.4v3.4h-3.4zM1483.3 1188.5h3.4v3.4h-3.4zM1483.5 1196.8h3.4v3.4h-3.4zM1483.7 1205.1h3.4v3.4h-3.4zM1483.9 1213.4h3.4v3.4h-3.4zM1484.3 1216.5h3.4v3.4h-3.4zM1485.2 1209.8h3.4v3.4h-3.4zM1485.5 1201.5h3.4v3.4h-3.4zM1486.3 1199.9h3.4v3.4h-3.4zM1486.7 1191.6h3.4v3.4h-3.4zM1487.5 1188.0h3.4v3.4h-3.4zM1487.9 1179.7h3.4v3.4h-3.4zM1488.8 1172.0h3.4v3.4h-3.4zM1489.2 1163.7h3.4v3.4h-3.4zM1490.1 1163.3h3.4v3.4h-3.4zM1490.5 1171.6h3.4v3.4h-3.4zM1490.8 1179.9h3.4v3.4h-3.4zM1491.0 1188.2h3.4v3.4h-3.4zM1491.7 1196.5h3.4v3.4h-3.4zM1491.9 1204.8h3.4v3.4h-3.4zM1492.1 1213.1h3.4v3.4h-3.4zM1492.5 1221.4h3.4v3.4h-3.4zM1492.9 1229.6h3.4v3.4h-3.4zM1493.8 1233.4h3.4v3.4h-3.4zM1494.4 1238.3h3.4v3.4h-3.4zM1494.9 1242.9h3.4v3.4h-3.4zM1495.5 1245.2h3.4v3.4h-3.4zM1496.0 1251.3h3.4v3.4h-3.4zM1497.1 1250.9h3.4v3.4h-3.4zM1497.7 1242.7h3.4v3.4h-3.4zM1498.6 1234.5h3.4v3.4h-3.4zM1499.2 1232.2h3.4v3.4h-3.4zM1499.7 1228.8h3.4v3.4h-3.4zM1500.7 1220.8h3.4v3.4h-3.4zM1501.2 1212.5h3.4v3.4h-3.4zM1502.0 1211.5h3.4v3.4h-3.4zM1502.3 1203.2h3.4v3.4h-3.4zM1502.6 1203.1h3.4v3.4h-3.4zM1503.0 1211.4h3.4v3.4h-3.4zM1503.8 1212.0h3.4v3.4h-3.4zM1504.2 1220.3h3.4v3.4h-3.4zM1505.2 1228.2h3.4v3.4h-3.4zM1506.1 1235.1h3.4v3.4h-3.4zM1506.5 1243.4h3.4v3.4h-3.4zM1507.4 1249.8h3.4v3.4h-3.4zM1508.0 1242.2h3.4v3.4h-3.4zM1508.3 1233.9h3.4v3.4h-3.4zM1509.1 1225.7h3.4v3.4h-3.4zM1509.4 1217.4h3.4v3.4h-3.4zM1510.2 1214.2h3.4v3.4h-3.4zM1510.5 1205.9h3.4v3.4h-3.4zM1510.7 1197.6h3.4v3.4h-3.4zM1511.6 1190.9h3.4v3.4h-3.4zM1511.9 1182.6h3.4v3.4h-3.4zM1512.4 1180.8h3.4v3.4h-3.4zM1513.1 1180.8h3.4v3.4h-3.4zM1513.5 1187.1h3.4v3.4h-3.4zM1513.9 1193.8h3.4v3.4h-3.4zM1514.5 1188.8h3.4v3.4h-3.4zM1515.0 1197.0h3.4v3.4h-3.4zM1515.7 1195.6h3.4v3.4h-3.4zM1516.1 1203.9h3.4v3.4h-3.4zM1516.9 1203.3h3.4v3.4h-3.4zM1517.2 1211.6h3.4v3.4h-3.4zM1518.1 1214.6h3.4v3.4h-3.4zM1518.7 1220.2h3.4v3.4h-3.4zM1519.3 1213.5h3.4v3.4h-3.4zM1519.8 1221.8h3.4v3.4h-3.4zM1520.5 1216.7h3.4v3.4h-3.4zM1521.1 1224.5h3.4v3.4h-3.4zM1521.9 1223.6h3.4v3.4h-3.4zM1522.8 1223.2h3.4v3.4h-3.4zM1523.7 1228.1h3.4v3.4h-3.4zM1524.4 1221.9h3.4v3.4h-3.4zM1525.0 1215.0h3.4v3.4h-3.4zM1525.5 1209.5h3.4v3.4h-3.4zM1526.0 1206.3h3.4v3.4h-3.4zM1526.3 1198.0h3.4v3.4h-3.4zM1527.1 1192.5h3.4v3.4h-3.4zM1527.5 1184.2h3.4v3.4h-3.4zM1528.0 1185.1h3.4v3.4h-3.4zM1528.7 1179.6h3.4v3.4h-3.4zM1529.7 1174.9h3.4v3.4h-3.4zM1530.8 1169.2h3.4v3.4h-3.4zM1531.7 1164.7h3.4v3.4h-3.4zM1531.8 1173.0h3.4v3.4h-3.4zM1532.3 1181.3h3.4v3.4h-3.4zM1532.6 1189.6h3.4v3.4h-3.4zM1532.8 1197.9h3.4v3.4h-3.4zM1533.0 1206.2h3.4v3.4h-3.4zM1533.3 1214.5h3.4v3.4h-3.4zM1533.6 1219.2h3.4v3.4h-3.4zM1534.3 1210.9h3.4v3.4h-3.4zM1534.5 1202.6h3.4v3.4h-3.4zM1534.8 1194.4h3.4v3.4h-3.4zM1535.6 1186.2h3.4v3.4h-3.4zM1535.8 1177.9h3.4v3.4h-3.4zM1536.0 1169.6h3.4v3.4h-3.4zM1536.8 1161.7h3.4v3.4h-3.4zM1537.1 1153.4h3.4v3.4h-3.4zM1537.6 1149.1h3.4v3.4h-3.4zM1538.5 1149.8h3.4v3.4h-3.4zM1538.8 1158.1h3.4v3.4h-3.4zM1539.1 1164.7h3.4v3.4h-3.4zM1539.7 1160.4h3.4v3.4h-3.4zM1540.1 1168.7h3.4v3.4h-3.4zM1540.9 1168.9h3.4v3.4h-3.4zM1541.3 1177.2h3.4v3.4h-3.4zM1542.1 1180.7h3.4v3.4h-3.4zM1543.4 1188.4h3.4v3.4h-3.4zM1544.5 1194.2h3.4v3.4h-3.4zM1545.1 1201.9h3.4v3.4h-3.4zM1545.8 1201.1h3.4v3.4h-3.4zM1546.2 1209.4h3.4v3.4h-3.4zM1547.0 1211.5h3.4v3.4h-3.4zM1547.4 1219.8h3.4v3.4h-3.4zM1548.3 1221.9h3.4v3.4h-3.4zM1549.2 1227.7h3.4v3.4h-3.4zM1549.5 1228.8h3.4v3.4h-3.4zM1549.8 1237.1h3.4v3.4h-3.4zM1550.8 1243.6h3.4v3.4h-3.4zM1551.1 1247.6h3.4v3.4h-3.4zM1551.8 1245.1h3.4v3.4h-3.4zM1552.2 1253.4h3.4v3.4h-3.4zM1553.1 1255.5h3.4v3.4h-3.4zM1553.7 1259.1h3.4v3.4h-3.4zM1554.4 1261.8h3.4v3.4h-3.4zM1555.5 1268.9h3.4v3.4h-3.4zM1556.1 1269.2h3.4v3.4h-3.4zM1556.4 1260.9h3.4v3.4h-3.4zM1557.4 1253.0h3.4v3.4h-3.4zM1558.3 1244.8h3.4v3.4h-3.4zM1558.7 1236.5h3.4v3.4h-3.4zM1559.5 1232.3h3.4v3.4h-3.4zM1560.3 1225.9h3.4v3.4h-3.4zM1561.2 1220.6h3.4v3.4h-3.4zM1562.1 1214.7h3.4v3.4h-3.4zM1563.0 1206.5h3.4v3.4h-3.4zM1563.4 1198.2h3.4v3.4h-3.4zM1564.0 1190.0h3.4v3.4h-3.4zM1564.6 1181.7h3.4v3.4h-3.4zM1565.2 1178.3h3.4v3.4h-3.4zM1565.8 1172.9h3.4v3.4h-3.4zM1566.7 1171.3h3.4v3.4h-3.4zM1567.3 1163.6h3.4v3.4h-3.4zM1568.2 1158.4h3.4v3.4h-3.4zM1569.1 1150.7h3.4v3.4h-3.4zM1569.4 1142.4h3.4v3.4h-3.4zM1570.2 1139.4h3.4v3.4h-3.4zM1571.0 1133.7h3.4v3.4h-3.4zM1571.8 1132.2h3.4v3.4h-3.4zM1572.5 1134.0h3.4v3.4h-3.4zM1573.4 1129.2h3.4v3.4h-3.4zM1574.4 1124.1h3.4v3.4h-3.4zM1575.2 1123.6h3.4v3.4h-3.4zM1575.6 1115.3h3.4v3.4h-3.4zM1576.3 1117.5h3.4v3.4h-3.4zM1576.7 1109.2h3.4v3.4h-3.4zM1577.4 1110.7h3.4v3.4h-3.4zM1578.0 1102.9h3.4v3.4h-3.4zM1578.9 1097.1h3.4v3.4h-3.4zM1579.4 1091.4h3.4v3.4h-3.4zM1580.0 1091.9h3.4v3.4h-3.4zM1580.5 1083.8h3.4v3.4h-3.4zM1581.7 1078.7h3.4v3.4h-3.4zM1582.1 1087.0h3.4v3.4h-3.4zM1582.6 1086.0h3.4v3.4h-3.4zM1583.2 1085.7h3.4v3.4h-3.4zM1584.5 1091.8h3.4v3.4h-3.4zM1585.6 1097.7h3.4v3.4h-3.4zM1586.5 1105.9h3.4v3.4h-3.4zM1586.9 1114.2h3.4v3.4h-3.4zM1587.7 1113.1h3.4v3.4h-3.4zM1588.0 1121.4h3.4v3.4h-3.4zM1588.9 1124.2h3.4v3.4h-3.4zM1589.2 1132.5h3.4v3.4h-3.4zM1589.6 1139.5h3.4v3.4h-3.4zM1590.2 1142.5h3.4v3.4h-3.4zM1590.5 1150.8h3.4v3.4h-3.4zM1591.0 1149.7h3.4v3.4h-3.4zM1591.5 1152.3h3.4v3.4h-3.4zM1592.5 1158.8h3.4v3.4h-3.4zM1593.0 1167.1h3.4v3.4h-3.4zM1593.6 1161.2h3.4v3.4h-3.4zM1593.9 1169.5h3.4v3.4h-3.4zM1595.0 1175.7h3.4v3.4h-3.4zM1595.4 1184.0h3.4v3.4h-3.4zM1596.3 1184.2h3.4v3.4h-3.4zM1597.3 1186.9h3.4v3.4h-3.4zM1597.8 1195.2h3.4v3.4h-3.4zM1598.4 1191.8h3.4v3.4h-3.4zM1598.8 1198.2h3.4v3.4h-3.4zM1599.6 1200.3h3.4v3.4h-3.4zM1600.0 1208.4h3.4v3.4h-3.4zM1600.4 1212.7h3.4v3.4h-3.4zM1601.0 1211.9h3.4v3.4h-3.4zM1601.4 1220.1h3.4v3.4h-3.4zM1602.1 1221.9h3.4v3.4h-3.4zM1602.4 1230.2h3.4v3.4h-3.4zM1603.2 1238.4h3.4v3.4h-3.4zM1603.6 1246.7h3.4v3.4h-3.4zM1604.4 1245.8h3.4v3.4h-3.4zM1604.8 1253.9h3.4v3.4h-3.4zM1605.7 1255.6h3.4v3.4h-3.4zM1606.4 1261.9h3.4v3.4h-3.4zM1606.9 1255.2h3.4v3.4h-3.4zM1607.6 1257.1h3.4v3.4h-3.4zM1608.0 1248.8h3.4v3.4h-3.4zM1608.8 1250.0h3.4v3.4h-3.4zM1609.2 1241.7h3.4v3.4h-3.4zM1610.0 1239.7h3.4v3.4h-3.4zM1610.4 1231.4h3.4v3.4h-3.4zM1611.4 1225.9h3.4v3.4h-3.4zM1612.0 1225.0h3.4v3.4h-3.4zM1612.5 1226.4h3.4v3.4h-3.4zM1613.1 1227.0h3.4v3.4h-3.4zM1614.1 1232.1h3.4v3.4h-3.4zM1614.6 1240.4h3.4v3.4h-3.4zM1615.2 1234.3h3.4v3.4h-3.4zM1615.6 1241.9h3.4v3.4h-3.4zM1616.0 1244.4h3.4v3.4h-3.4zM1616.6 1240.6h3.4v3.4h-3.4zM1617.0 1248.9h3.4v3.4h-3.4zM1617.6 1244.1h3.4v3.4h-3.4zM1617.8 1251.9h3.4v3.4h-3.4zM1618.2 1260.2h3.4v3.4h-3.4zM1619.1 1265.3h3.4v3.4h-3.4zM1619.7 1271.2h3.4v3.4h-3.4zM1620.1 1262.9h3.4v3.4h-3.4zM1620.8 1254.7h3.4v3.4h-3.4zM1621.0 1246.4h3.4v3.4h-3.4zM1621.9 1238.2h3.4v3.4h-3.4zM1622.2 1229.9h3.4v3.4h-3.4zM1622.6 1221.6h3.4v3.4h-3.4zM1623.3 1213.4h3.4v3.4h-3.4zM1623.8 1212.4h3.4v3.4h-3.4zM1624.2 1220.7h3.4v3.4h-3.4zM1625.2 1226.9h3.4v3.4h-3.4zM1626.1 1235.1h3.4v3.4h-3.4zM1626.5 1243.4h3.4v3.4h-3.4zM1627.3 1246.3h3.4v3.4h-3.4zM1628.4 1252.3h3.4v3.4h-3.4zM1628.9 1260.4h3.4v3.4h-3.4zM1629.5 1258.9h3.4v3.4h-3.4zM1630.1 1264.8h3.4v3.4h-3.4zM1630.9 1263.0h3.4v3.4h-3.4zM1631.5 1270.4h3.4v3.4h-3.4zM1631.7 1262.1h3.4v3.4h-3.4zM1632.0 1253.8h3.4v3.4h-3.4zM1632.8 1247.0h3.4v3.4h-3.4zM1633.1 1238.7h3.4v3.4h-3.4zM1633.9 1230.5h3.4v3.4h-3.4zM1634.4 1222.2h3.4v3.4h-3.4zM1635.1 1229.6h3.4v3.4h-3.4zM1635.9 1231.8h3.4v3.4h-3.4zM1636.9 1239.9h3.4v3.4h-3.4zM1637.3 1248.2h3.4v3.4h-3.4zM1638.1 1246.9h3.4v3.4h-3.4zM1638.8 1241.2h3.4v3.4h-3.4zM1639.1 1232.9h3.4v3.4h-3.4zM1639.9 1224.7h3.4v3.4h-3.4zM1640.2 1216.4h3.4v3.4h-3.4zM1641.1 1213.5h3.4v3.4h-3.4zM1641.5 1205.2h3.4v3.4h-3.4zM1642.1 1203.3h3.4v3.4h-3.4zM1642.6 1199.5h3.4v3.4h-3.4zM1643.0 1197.1h3.4v3.4h-3.4zM1643.5 1202.1h3.4v3.4h-3.4zM1644.0 1193.9h3.4v3.4h-3.4zM1644.8 1197.7h3.4v3.4h-3.4zM1645.3 1190.3h3.4v3.4h-3.4zM1646.0 1189.1h3.4v3.4h-3.4zM1646.5 1182.4h3.4v3.4h-3.4zM1647.2 1183.0h3.4v3.4h-3.4zM1647.5 1174.7h3.4v3.4h-3.4zM1648.0 1174.9h3.4v3.4h-3.4zM1648.6 1166.6h3.4v3.4h-3.4zM1649.5 1159.8h3.4v3.4h-3.4zM1649.8 1151.5h3.4v3.4h-3.4zM1650.3 1143.2h3.4v3.4h-3.4zM1651.0 1135.0h3.4v3.4h-3.4zM1651.6 1126.7h3.4v3.4h-3.4zM1652.1 1121.0h3.4v3.4h-3.4zM1652.4 1112.7h3.4v3.4h-3.4zM1653.2 1104.5h3.4v3.4h-3.4zM1653.5 1096.2h3.4v3.4h-3.4zM1653.6 1087.9h3.4v3.4h-3.4zM1654.1 1095.9h3.4v3.4h-3.4zM1654.8 1091.0h3.4v3.4h-3.4zM1655.3 1098.5h3.4v3.4h-3.4zM1656.1 1095.4h3.4v3.4h-3.4zM1656.7 1103.7h3.4v3.4h-3.4zM1657.4 1111.9h3.4v3.4h-3.4zM1657.7 1120.2h3.4v3.4h-3.4zM1658.6 1121.7h3.4v3.4h-3.4zM1659.7 1127.9h3.4v3.4h-3.4zM1660.5 1133.4h3.4v3.4h-3.4zM1661.1 1138.0h3.4v3.4h-3.4zM1661.4 1146.3h3.4v3.4h-3.4zM1662.1 1144.7h3.4v3.4h-3.4zM1662.4 1153.0h3.4v3.4h-3.4zM1662.6 1161.3h3.4v3.4h-3.4zM1663.3 1156.6h3.4v3.4h-3.4zM1663.6 1164.9h3.4v3.4h-3.4zM1664.2 1166.8h3.4v3.4h-3.4zM1664.7 1169.8h3.4v3.4h-3.4zM1665.3 1174.2h3.4v3.4h-3.4zM1665.8 1175.7h3.4v3.4h-3.4zM1666.1 1184.0h3.4v3.4h-3.4zM1666.6 1182.6h3.4v3.4h-3.4zM1667.1 1184.9h3.4v3.4h-3.4zM1667.4 1193.2h3.4v3.4h-3.4zM1668.1 1192.0h3.4v3.4h-3.4zM1668.3 1200.3h3.4v3.4h-3.4zM1668.5 1208.6h3.4v3.4h-3.4zM1668.7 1216.9h3.4v3.4h-3.4zM1669.0 1225.2h3.4v3.4h-3.4zM1669.2 1224.1h3.4v3.4h-3.4zM1669.7 1227.9h3.4v3.4h-3.4zM1670.1 1225.5h3.4v3.4h-3.4zM1670.6 1219.4h3.4v3.4h-3.4zM1671.2 1219.7h3.4v3.4h-3.4zM1671.9 1211.8h3.4v3.4h-3.4zM1672.7 1204.3h3.4v3.4h-3.4zM1673.6 1204.6h3.4v3.4h-3.4zM1674.0 1196.3h3.4v3.4h-3.4zM1674.4 1203.5h3.4v3.4h-3.4zM1675.3 1206.6h3.4v3.4h-3.4zM1675.8 1214.9h3.4v3.4h-3.4zM1676.6 1214.5h3.4v3.4h-3.4zM1677.3 1219.8h3.4v3.4h-3.4zM1678.3 1223.2h3.4v3.4h-3.4zM1678.6 1214.9h3.4v3.4h-3.4zM1678.8 1206.6h3.4v3.4h-3.4zM1679.8 1200.1h3.4v3.4h-3.4zM1680.7 1191.9h3.4v3.4h-3.4zM1681.1 1183.6h3.4v3.4h-3.4zM1682.3 1178.5h3.4v3.4h-3.4zM1683.1 1177.8h3.4v3.4h-3.4zM1683.5 1169.5h3.4v3.4h-3.4zM1683.8 1171.0h3.4v3.4h-3.4zM1684.4 1174.0h3.4v3.4h-3.4zM1684.8 1165.7h3.4v3.4h-3.4zM1685.2 1169.7h3.4v3.4h-3.4zM1685.6 1173.0h3.4v3.4h-3.4zM1686.2 1167.5h3.4v3.4h-3.4zM1687.2 1166.6h3.4v3.4h-3.4zM1687.7 1173.3h3.4v3.4h-3.4zM1688.0 1181.6h3.4v3.4h-3.4zM1688.4 1189.9h3.4v3.4h-3.4zM1688.6 1198.2h3.4v3.4h-3.4zM1688.8 1206.5h3.4v3.4h-3.4zM1689.0 1214.8h3.4v3.4h-3.4zM1689.2 1223.1h3.4v3.4h-3.4zM1689.6 1230.0h3.4v3.4h-3.4zM1690.2 1232.5h3.4v3.4h-3.4zM1690.6 1225.3h3.4v3.4h-3.4zM1691.5 1224.0h3.4v3.4h-3.4zM1691.9 1215.7h3.4v3.4h-3.4zM1692.4 1217.3h3.4v3.4h-3.4zM1692.9 1216.0h3.4v3.4h-3.4zM1693.4 1211.2h3.4v3.4h-3.4zM1694.2 1203.3h3.4v3.4h-3.4zM1695.1 1200.0h3.4v3.4h-3.4zM1696.1 1194.5h3.4v3.4h-3.4zM1696.7 1193.1h3.4v3.4h-3.4zM1697.1 1201.3h3.4v3.4h-3.4zM1697.4 1209.6h3.4v3.4h-3.4zM1698.0 1217.9h3.4v3.4h-3.4zM1698.7 1223.7h3.4v3.4h-3.4zM1699.1 1215.4h3.4v3.4h-3.4zM1699.9 1215.1h3.4v3.4h-3.4zM1700.2 1206.8h3.4v3.4h-3.4zM1700.6 1202.4h3.4v3.4h-3.4zM1701.2 1203.7h3.4v3.4h-3.4zM1701.5 1195.4h3.4v3.4h-3.4zM1702.3 1192.8h3.4v3.4h-3.4zM1702.8 1184.6h3.4v3.4h-3.4zM1704.2 1187.3h3.4v3.4h-3.4zM1705.1 1192.3h3.4v3.4h-3.4zM1705.8 1199.9h3.4v3.4h-3.4zM1707.0 1201.7h3.4v3.4h-3.4zM1707.3 1198.8h3.4v3.4h-3.4zM1708.0 1190.9h3.4v3.4h-3.4zM1708.5 1182.9h3.4v3.4h-3.4zM1708.8 1174.6h3.4v3.4h-3.4zM1709.8 1166.4h3.4v3.4h-3.4zM1710.3 1166.2h3.4v3.4h-3.4zM1711.0 1171.2h3.4v3.4h-3.4zM1711.5 1177.7h3.4v3.4h-3.4zM1711.9 1184.6h3.4v3.4h-3.4zM1712.6 1183.7h3.4v3.4h-3.4zM1712.9 1192.0h3.4v3.4h-3.4zM1713.5 1192.8h3.4v3.4h-3.4zM1714.2 1199.6h3.4v3.4h-3.4zM1715.0 1200.5h3.4v3.4h-3.4zM1715.4 1208.8h3.4v3.4h-3.4zM1716.1 1205.6h3.4v3.4h-3.4zM1716.4 1213.9h3.4v3.4h-3.4zM1717.0 1214.4h3.4v3.4h-3.4zM1717.6 1218.0h3.4v3.4h-3.4zM1718.1 1213.3h3.4v3.4h-3.4zM1718.5 1205.0h3.4v3.4h-3.4zM1719.2 1196.8h3.4v3.4h-3.4zM1719.5 1188.5h3.4v3.4h-3.4zM1720.3 1183.1h3.4v3.4h-3.4zM1720.6 1174.8h3.4v3.4h-3.4zM1720.8 1166.5h3.4v3.4h-3.4zM1721.6 1165.8h3.4v3.4h-3.4zM1722.0 1157.5h3.4v3.4h-3.4zM1722.7 1159.0h3.4v3.4h-3.4zM1723.0 1150.7h3.4v3.4h-3.4zM1723.3 1143.0h3.4v3.4h-3.4zM1724.0 1142.1h3.4v3.4h-3.4zM1724.4 1133.8h3.4v3.4h-3.4zM1724.8 1140.0h3.4v3.4h-3.4zM1725.8 1146.2h3.4v3.4h-3.4zM1726.7 1151.3h3.4v3.4h-3.4zM1727.3 1158.9h3.4v3.4h-3.4zM1727.4 1167.2h3.4v3.4h-3.4zM1728.0 1159.2h3.4v3.4h-3.4zM1728.5 1165.5h3.4v3.4h-3.4zM1729.4 1163.7h3.4v3.4h-3.4zM1730.0 1169.1h3.4v3.4h-3.4zM1730.6 1164.9h3.4v3.4h-3.4zM1731.0 1173.2h3.4v3.4h-3.4zM1731.8 1173.3h3.4v3.4h-3.4zM1732.1 1181.6h3.4v3.4h-3.4zM1732.7 1189.8h3.4v3.4h-3.4zM1733.1 1198.1h3.4v3.4h-3.4zM1733.4 1206.4h3.4v3.4h-3.4zM1734.2 1214.6h3.4v3.4h-3.4zM1734.7 1221.9h3.4v3.4h-3.4zM1735.2 1213.6h3.4v3.4h-3.4zM1735.6 1221.0h3.4v3.4h-3.4zM1736.0 1224.7h3.4v3.4h-3.4zM1736.6 1220.5h3.4v3.4h-3.4zM1737.4 1224.3h3.4v3.4h-3.4zM1738.1 1229.7h3.4v3.4h-3.4zM1738.9 1233.9h3.4v3.4h-3.4zM1739.3 1242.2h3.4v3.4h-3.4zM1740.2 1246.9h3.4v3.4h-3.4zM1740.5 1255.2h3.4v3.4h-3.4zM1741.3 1259.7h3.4v3.4h-3.4zM1741.7 1268.0h3.4v3.4h-3.4zM1742.6 1272.2h3.4v3.4h-3.4zM1743.1 1279.8h3.4v3.4h-3.4zM1743.3 1271.5h3.4v3.4h-3.4zM1743.6 1263.2h3.4v3.4h-3.4zM1744.3 1263.2h3.4v3.4h-3.4zM1744.6 1254.9h3.4v3.4h-3.4zM1745.1 1246.7h3.4v3.4h-3.4zM1745.7 1238.5h3.4v3.4h-3.4zM1746.0 1230.2h3.4v3.4h-3.4zM1747.0 1222.8h3.4v3.4h-3.4zM1747.8 1220.8h3.4v3.4h-3.4zM1748.2 1212.5h3.4v3.4h-3.4zM1749.1 1204.7h3.4v3.4h-3.4zM1749.5 1196.4h3.4v3.4h-3.4zM1750.0 1195.3h3.4v3.4h-3.4zM1750.5 1193.2h3.4v3.4h-3.4zM1750.8 1184.9h3.4v3.4h-3.4zM1751.7 1178.6h3.4v3.4h-3.4zM1752.3 1186.9h3.4v3.4h-3.4zM1752.6 1195.1h3.4v3.4h-3.4zM1753.4 1203.4h3.4v3.4h-3.4zM1753.7 1211.7h3.4v3.4h-3.4zM1754.1 1210.4h3.4v3.4h-3.4zM1755.1 1207.4h3.4v3.4h-3.4zM1756.2 1204.1h3.4v3.4h-3.4zM1756.9 1197.7h3.4v3.4h-3.4zM1757.5 1202.7h3.4v3.4h-3.4zM1757.9 1194.5h3.4v3.4h-3.4zM1758.4 1197.7h3.4v3.4h-3.4zM1758.9 1195.2h3.4v3.4h-3.4zM1759.3 1190.8h3.4v3.4h-3.4zM1760.5 1197.8h3.4v3.4h-3.4zM1760.9 1206.1h3.4v3.4h-3.4zM1761.7 1205.6h3.4v3.4h-3.4zM1762.3 1212.5h3.4v3.4h-3.4zM1763.0 1218.3h3.4v3.4h-3.4zM1763.4 1226.6h3.4v3.4h-3.4zM1764.2 1234.8h3.4v3.4h-3.4zM1764.5 1243.1h3.4v3.4h-3.4zM1764.7 1251.4h3.4v3.4h-3.4zM1765.1 1259.7h3.4v3.4h-3.4zM1765.3 1268.0h3.4v3.4h-3.4zM1765.7 1276.3h3.4v3.4h-3.4zM1766.6 1279.9h3.4v3.4h-3.4zM1766.9 1288.1h3.4v3.4h-3.4zM1767.9 1291.9h3.4v3.4h-3.4zM1768.2 1300.2h3.4v3.4h-3.4zM1768.9 1308.3h3.4v3.4h-3.4zM1769.2 1316.6h3.4v3.4h-3.4zM1769.4 1324.9h3.4v3.4h-3.4zM1770.1 1333.1h3.4v3.4h-3.4zM1771.0 1331.7h3.4v3.4h-3.4zM1771.7 1334.3h3.4v3.4h-3.4zM1772.6 1331.9h3.4v3.4h-3.4zM1773.2 1334.3h3.4v3.4h-3.4zM1773.6 1326.0h3.4v3.4h-3.4zM1774.3 1331.0h3.4v3.4h-3.4zM1774.9 1323.3h3.4v3.4h-3.4zM1775.4 1331.6h3.4v3.4h-3.4zM1776.0 1325.3h3.4v3.4h-3.4zM1777.0 1318.0h3.4v3.4h-3.4zM1777.8 1318.7h3.4v3.4h-3.4zM1778.2 1311.4h3.4v3.4h-3.4zM1779.1 1303.7h3.4v3.4h-3.4zM1780.1 1296.3h3.4v3.4h-3.4zM1780.8 1288.1h3.4v3.4h-3.4zM1781.5 1290.2h3.4v3.4h-3.4zM1782.0 1281.9h3.4v3.4h-3.4zM1782.8 1274.2h3.4v3.4h-3.4zM1783.1 1265.9h3.4v3.4h-3.4zM1783.6 1257.7h3.4v3.4h-3.4zM1784.0 1249.4h3.4v3.4h-3.4zM1784.2 1241.1h3.4v3.4h-3.4zM1784.4 1232.8h3.4v3.4h-3.4zM1785.2 1224.7h3.4v3.4h-3.4zM1785.6 1216.4h3.4v3.4h-3.4zM1786.4 1212.6h3.4v3.4h-3.4zM1786.7 1204.3h3.4v3.4h-3.4zM1786.9 1196.0h3.4v3.4h-3.4zM1787.5 1187.7h3.4v3.4h-3.4zM1787.7 1179.4h3.4v3.4h-3.4zM1788.0 1171.1h3.4v3.4h-3.4zM1788.3 1162.8h3.4v3.4h-3.4zM1788.8 1157.6h3.4v3.4h-3.4zM1789.6 1160.9h3.4v3.4h-3.4zM1790.1 1160.0h3.4v3.4h-3.4zM1790.6 1158.8h3.4v3.4h-3.4zM1791.1 1165.1h3.4v3.4h-3.4zM1791.8 1161.8h3.4v3.4h-3.4zM1792.4 1166.6h3.4v3.4h-3.4zM1792.8 1158.3h3.4v3.4h-3.4zM1793.7 1155.8h3.4v3.4h-3.4zM1794.0 1147.5h3.4v3.4h-3.4zM1794.9 1145.7h3.4v3.4h-3.4zM1795.3 1138.9h3.4v3.4h-3.4zM1796.0 1140.6h3.4v3.4h-3.4zM1796.4 1132.3h3.4v3.4h-3.4zM1796.7 1133.7h3.4v3.4h-3.4zM1797.0 1142.0h3.4v3.4h-3.4zM1797.8 1146.0h3.4v3.4h-3.4zM1798.1 1154.2h3.4v3.4h-3.4zM1798.9 1159.5h3.4v3.4h-3.4zM1799.4 1167.8h3.4v3.4h-3.4zM1799.8 1176.1h3.4v3.4h-3.4zM1800.2 1184.4h3.4v3.4h-3.4zM1800.5 1192.7h3.4v3.4h-3.4zM1800.8 1201.0h3.4v3.4h-3.4zM1801.2 1209.3h3.4v3.4h-3.4zM1801.3 1206.2h3.4v3.4h-3.4zM1801.5 1214.5h3.4v3.4h-3.4zM1801.8 1222.8h3.4v3.4h-3.4zM1802.5 1231.0h3.4v3.4h-3.4zM1802.8 1239.3h3.4v3.4h-3.4zM1803.0 1247.6h3.4v3.4h-3.4zM1804.2 1245.7h3.4v3.4h-3.4zM1804.6 1237.7h3.4v3.4h-3.4zM1804.9 1230.7h3.4v3.4h-3.4zM1805.5 1235.9h3.4v3.4h-3.4zM1805.8 1227.6h3.4v3.4h-3.4zM1806.4 1224.0h3.4v3.4h-3.4zM1807.0 1219.8h3.4v3.4h-3.4zM1807.4 1218.8h3.4v3.4h-3.4zM1808.1 1225.4h3.4v3.4h-3.4zM1808.8 1231.5h3.4v3.4h-3.4zM1809.8 1236.4h3.4v3.4h-3.4zM1810.1 1244.7h3.4v3.4h-3.4zM1810.9 1252.9h3.4v3.4h-3.4zM1811.1 1261.2h3.4v3.4h-3.4zM1811.4 1269.5h3.4v3.4h-3.4zM1812.0 1272.9h3.4v3.4h-3.4zM1812.7 1278.8h3.4v3.4h-3.4zM1813.5 1277.9h3.4v3.4h-3.4zM1814.1 1279.3h3.4v3.4h-3.4zM1814.5 1274.6h3.4v3.4h-3.4zM1814.9 1282.9h3.4v3.4h-3.4zM1815.3 1281.3h3.4v3.4h-3.4zM1815.7 1277.4h3.4v3.4h-3.4zM1816.4 1281.1h3.4v3.4h-3.4zM1816.7 1272.8h3.4v3.4h-3.4zM1817.5 1274.1h3.4v3.4h-3.4zM1817.9 1265.8h3.4v3.4h-3.4zM1818.9 1258.4h3.4v3.4h-3.4zM1819.5 1253.5h3.4v3.4h-3.4zM1820.1 1251.1h3.4v3.4h-3.4zM1820.6 1244.9h3.4v3.4h-3.4zM1821.4 1241.2h3.4v3.4h-3.4zM1821.7 1242.2h3.4v3.4h-3.4zM1821.9 1250.5h3.4v3.4h-3.4zM1822.0 1258.8h3.4v3.4h-3.4zM1822.2 1267.1h3.4v3.4h-3.4zM1822.5 1275.4h3.4v3.4h-3.4zM1823.1 1281.8h3.4v3.4h-3.4zM1823.5 1289.6h3.4v3.4h-3.4zM1824.4 1294.6h3.4v3.4h-3.4zM1824.6 1302.9h3.4v3.4h-3.4zM1825.2 1295.4h3.4v3.4h-3.4zM1825.6 1301.3h3.4v3.4h-3.4zM1826.1 1306.2h3.4v3.4h-3.4zM1826.7 1309.0h3.4v3.4h-3.4zM1827.4 1312.3h3.4v3.4h-3.4zM1828.0 1320.5h3.4v3.4h-3.4zM1828.9 1324.7h3.4v3.4h-3.4zM1829.3 1333.0h3.4v3.4h-3.4zM1829.5 1341.2h3.4v3.4h-3.4zM1830.3 1340.4h3.4v3.4h-3.4zM1830.9 1344.1h3.4v3.4h-3.4zM1831.4 1343.7h3.4v3.4h-3.4zM1831.9 1351.8h3.4v3.4h-3.4zM1832.4 1343.5h3.4v3.4h-3.4zM1833.4 1335.8h3.4v3.4h-3.4zM1834.0 1333.1h3.4v3.4h-3.4zM1834.5 1328.2h3.4v3.4h-3.4zM1834.8 1319.9h3.4v3.4h-3.4zM1835.5 1326.0h3.4v3.4h-3.4zM1836.1 1319.2h3.4v3.4h-3.4zM1836.6 1327.4h3.4v3.4h-3.4zM1837.4 1328.4h3.4v3.4h-3.4zM1838.1 1332.5h3.4v3.4h-3.4zM1838.8 1335.1h3.4v3.4h-3.4zM1839.7 1336.5h3.4v3.4h-3.4zM1840.0 1344.8h3.4v3.4h-3.4zM1840.5 1348.5h3.4v3.4h-3.4zM1841.1 1350.5h3.4v3.4h-3.4zM1842.1 1358.5h3.4v3.4h-3.4zM1842.6 1366.8h3.4v3.4h-3.4zM1843.4 1360.7h3.4v3.4h-3.4zM1844.3 1356.6h3.4v3.4h-3.4zM1845.4 1349.9h3.4v3.4h-3.4zM1846.1 1344.2h3.4v3.4h-3.4zM1846.5 1335.9h3.4v3.4h-3.4zM1846.8 1327.6h3.4v3.4h-3.4zM1847.7 1320.7h3.4v3.4h-3.4zM1847.9 1312.4h3.4v3.4h-3.4zM1848.8 1305.0h3.4v3.4h-3.4zM1849.0 1296.7h3.4v3.4h-3.4zM1849.4 1288.4h3.4v3.4h-3.4zM1849.9 1288.7h3.4v3.4h-3.4zM1850.2 1280.4h3.4v3.4h-3.4zM1850.4 1272.1h3.4v3.4h-3.4zM1851.2 1265.4h3.4v3.4h-3.4zM1851.5 1257.1h3.4v3.4h-3.4zM1852.3 1257.6h3.4v3.4h-3.4zM1852.8 1249.3h3.4v3.4h-3.4zM1853.4 1255.3h3.4v3.4h-3.4zM1854.0 1247.1h3.4v3.4h-3.4zM1854.6 1253.7h3.4v3.4h-3.4zM1855.0 1245.5h3.4v3.4h-3.4zM1855.9 1237.3h3.4v3.4h-3.4zM1856.2 1229.0h3.4v3.4h-3.4zM1856.5 1227.7h3.4v3.4h-3.4zM1857.2 1221.6h3.4v3.4h-3.4zM1857.5 1213.3h3.4v3.4h-3.4zM1858.2 1205.0h3.4v3.4h-3.4zM1858.6 1196.7h3.4v3.4h-3.4zM1858.7 1188.4h3.4v3.4h-3.4zM1858.9 1180.1h3.4v3.4h-3.4zM1859.2 1171.8h3.4v3.4h-3.4zM1859.4 1163.5h3.4v3.4h-3.4zM1859.6 1155.2h3.4v3.4h-3.4zM1859.9 1146.9h3.4v3.4h-3.4zM1860.3 1138.6h3.4v3.4h-3.4zM1861.1 1132.4h3.4v3.4h-3.4zM1862.1 1129.0h3.4v3.4h-3.4zM1862.6 1121.8h3.4v3.4h-3.4zM1863.3 1117.2h3.4v3.4h-3.4zM1863.9 1111.7h3.4v3.4h-3.4zM1864.5 1108.8h3.4v3.4h-3.4zM1865.2 1100.7h3.4v3.4h-3.4zM1866.1 1099.5h3.4v3.4h-3.4zM1866.4 1107.8h3.4v3.4h-3.4zM1867.1 1111.2h3.4v3.4h-3.4zM1867.8 1118.3h3.4v3.4h-3.4zM1868.5 1113.5h3.4v3.4h-3.4zM1868.9 1121.8h3.4v3.4h-3.4zM1869.4 1120.3h3.4v3.4h-3.4zM1870.5 1119.0h3.4v3.4h-3.4zM1871.3 1122.0h3.4v3.4h-3.4zM1871.9 1118.0h3.4v3.4h-3.4zM1872.3 1120.7h3.4v3.4h-3.4zM1872.8 1125.5h3.4v3.4h-3.4zM1873.4 1123.7h3.4v3.4h-3.4zM1873.9 1131.6h3.4v3.4h-3.4zM1874.8 1134.2h3.4v3.4h-3.4zM1875.0 1142.5h3.4v3.4h-3.4zM1875.6 1136.0h3.4v3.4h-3.4zM1876.4 1139.2h3.4v3.4h-3.4zM1877.3 1140.6h3.4v3.4h-3.4zM1878.1 1136.7h3.4v3.4h-3.4zM1878.7 1142.4h3.4v3.4h-3.4zM1879.2 1134.1h3.4v3.4h-3.4zM1879.8 1141.2h3.4v3.4h-3.4zM1880.2 1140.9h3.4v3.4h-3.4zM1880.8 1149.1h3.4v3.4h-3.4zM1881.7 1157.3h3.4v3.4h-3.4zM1882.0 1165.6h3.4v3.4h-3.4zM1882.7 1166.5h3.4v3.4h-3.4zM1883.2 1172.0h3.4v3.4h-3.4zM1883.9 1173.4h3.4v3.4h-3.4zM1884.3 1176.9h3.4v3.4h-3.4zM1884.7 1183.3h3.4v3.4h-3.4zM1885.4 1180.1h3.4v3.4h-3.4zM1886.3 1183.8h3.4v3.4h-3.4zM1886.9 1190.4h3.4v3.4h-3.4zM1887.6 1190.7h3.4v3.4h-3.4zM1887.6 1199.0h3.4v3.4h-3.4zM1887.8 1203.6h3.4v3.4h-3.4zM1888.4 1209.6h3.4v3.4h-3.4zM1889.1 1209.0h3.4v3.4h-3.4zM1889.6 1214.4h3.4v3.4h-3.4zM1890.2 1214.6h3.4v3.4h-3.4zM1890.6 1222.9h3.4v3.4h-3.4zM1891.1 1218.2h3.4v3.4h-3.4zM1891.5 1221.9h3.4v3.4h-3.4zM1892.0 1227.3h3.4v3.4h-3.4zM1892.8 1225.9h3.4v3.4h-3.4zM1893.8 1226.2h3.4v3.4h-3.4zM1894.7 1228.3h3.4v3.4h-3.4zM1895.4 1234.6h3.4v3.4h-3.4zM1896.2 1235.9h3.4v3.4h-3.4zM1896.5 1244.2h3.4v3.4h-3.4zM1897.2 1240.2h3.4v3.4h-3.4zM1897.4 1246.9h3.4v3.4h-3.4zM1898.4 1243.3h3.4v3.4h-3.4zM1898.9 1249.9h3.4v3.4h-3.4zM1899.7 1249.0h3.4v3.4h-3.4zM1900.9 1252.1h3.4v3.4h-3.4zM1901.5 1260.2h3.4v3.4h-3.4zM1902.3 1266.1h3.4v3.4h-3.4zM1902.7 1273.8h3.4v3.4h-3.4zM1903.4 1271.9h3.4v3.4h-3.4zM1903.8 1280.2h3.4v3.4h-3.4zM1904.4 1277.8h3.4v3.4h-3.4zM1905.4 1273.4h3.4v3.4h-3.4zM1906.3 1265.2h3.4v3.4h-3.4zM1906.5 1256.9h3.4v3.4h-3.4zM1906.7 1248.6h3.4v3.4h-3.4zM1907.2 1240.3h3.4v3.4h-3.4zM1907.6 1232.0h3.4v3.4h-3.4zM1907.9 1223.7h3.4v3.4h-3.4zM1908.0 1215.4h3.4v3.4h-3.4zM1908.5 1207.2h3.4v3.4h-3.4zM1908.9 1198.9h3.4v3.4h-3.4zM1909.2 1190.6h3.4v3.4h-3.4zM1909.8 1182.3h3.4v3.4h-3.4zM1910.1 1174.0h3.4v3.4h-3.4zM1911.1 1167.5h3.4v3.4h-3.4zM1911.4 1159.3h3.4v3.4h-3.4zM1912.1 1157.9h3.4v3.4h-3.4zM1912.8 1151.7h3.4v3.4h-3.4zM1913.4 1158.6h3.4v3.4h-3.4zM1914.0 1152.3h3.4v3.4h-3.4zM1914.7 1157.5h3.4v3.4h-3.4zM1915.3 1150.2h3.4v3.4h-3.4zM1916.0 1154.5h3.4v3.4h-3.4zM1916.5 1148.4h3.4v3.4h-3.4zM1917.1 1154.5h3.4v3.4h-3.4zM1917.7 1147.2h3.4v3.4h-3.4zM1918.7 1151.3h3.4v3.4h-3.4zM1918.7 1159.6h3.4v3.4h-3.4zM1918.7 1167.9h3.4v3.4h-3.4zM1918.7 1176.2h3.4v3.4h-3.4zM1918.9 1172.8h3.4v3.4h-3.4zM1919.4 1181.1h3.4v3.4h-3.4zM1919.8 1174.5h3.4v3.4h-3.4zM1920.5 1175.0h3.4v3.4h-3.4zM1921.1 1170.9h3.4v3.4h-3.4zM1921.7 1174.2h3.4v3.4h-3.4zM1922.2 1168.3h3.4v3.4h-3.4zM1922.8 1165.7h3.4v3.4h-3.4zM1923.6 1163.1h3.4v3.4h-3.4zM1923.8 1166.9h3.4v3.4h-3.4zM1924.0 1175.2h3.4v3.4h-3.4zM1924.9 1182.9h3.4v3.4h-3.4zM1925.1 1191.2h3.4v3.4h-3.4zM1925.4 1199.5h3.4v3.4h-3.4zM1925.7 1196.0h3.4v3.4h-3.4zM1926.5 1204.1h3.4v3.4h-3.4zM1927.4 1207.4h3.4v3.4h-3.4zM1927.8 1215.7h3.4v3.4h-3.4zM1928.4 1214.2h3.4v3.4h-3.4zM1928.8 1222.5h3.4v3.4h-3.4zM1929.7 1224.4h3.4v3.4h-3.4zM1930.3 1232.1h3.4v3.4h-3.4zM1930.6 1223.8h3.4v3.4h-3.4zM1931.3 1223.6h3.4v3.4h-3.4zM1931.8 1218.1h3.4v3.4h-3.4zM1932.4 1216.3h3.4v3.4h-3.4zM1932.9 1213.2h3.4v3.4h-3.4zM1933.3 1205.9h3.4v3.4h-3.4zM1934.1 1203.4h3.4v3.4h-3.4zM1934.6 1197.8h3.4v3.4h-3.4zM1935.1 1198.5h3.4v3.4h-3.4zM1935.7 1201.2h3.4v3.4h-3.4zM1936.1 1209.5h3.4v3.4h-3.4zM1937.0 1217.7h3.4v3.4h-3.4zM1937.6 1220.1h3.4v3.4h-3.4zM1937.9 1211.8h3.4v3.4h-3.4zM1938.8 1204.6h3.4v3.4h-3.4zM1939.1 1196.3h3.4v3.4h-3.4zM1939.2 1188.0h3.4v3.4h-3.4zM1940.0 1179.8h3.4v3.4h-3.4zM1940.2 1171.5h3.4v3.4h-3.4zM1940.4 1163.2h3.4v3.4h-3.4zM1941.0 1158.9h3.4v3.4h-3.4zM1941.2 1157.0h3.4v3.4h-3.4zM1941.4 1148.7h3.4v3.4h-3.4zM1942.3 1141.2h3.4v3.4h-3.4zM1942.8 1132.9h3.4v3.4h-3.4zM1943.8 1125.4h3.4v3.4h-3.4zM1944.0 1117.1h3.4v3.4h-3.4zM1944.8 1108.9h3.4v3.4h-3.4zM1945.2 1100.6h3.4v3.4h-3.4zM1945.9 1096.5h3.4v3.4h-3.4zM1946.9 1097.7h3.4v3.4h-3.4zM1947.4 1092.6h3.4v3.4h-3.4zM1948.1 1093.5h3.4v3.4h-3.4zM1948.9 1089.0h3.4v3.4h-3.4zM1949.7 1090.2h3.4v3.4h-3.4zM1950.4 1087.7h3.4v3.4h-3.4zM1951.0 1084.9h3.4v3.4h-3.4zM1951.9 1083.0h3.4v3.4h-3.4zM1952.7 1077.0h3.4v3.4h-3.4zM1953.6 1073.2h3.4v3.4h-3.4zM1954.2 1073.2h3.4v3.4h-3.4zM1955.3 1070.6h3.4v3.4h-3.4zM1956.0 1063.5h3.4v3.4h-3.4zM1956.8 1070.7h3.4v3.4h-3.4zM1957.4 1079.0h3.4v3.4h-3.4zM1957.8 1087.3h3.4v3.4h-3.4zM1958.7 1095.0h3.4v3.4h-3.4zM1959.0 1103.3h3.4v3.4h-3.4zM1959.7 1097.9h3.4v3.4h-3.4zM1960.0 1106.2h3.4v3.4h-3.4zM1960.8 1106.4h3.4v3.4h-3.4zM1961.4 1114.0h3.4v3.4h-3.4zM1962.4 1122.2h3.4v3.4h-3.4zM1963.2 1124.7h3.4v3.4h-3.4zM1963.5 1132.5h3.4v3.4h-3.4zM1964.4 1129.4h3.4v3.4h-3.4zM1964.8 1136.3h3.4v3.4h-3.4zM1965.5 1136.5h3.4v3.4h-3.4zM1966.1 1143.9h3.4v3.4h-3.4zM1966.9 1141.5h3.4v3.4h-3.4z" fill="#808080"/>
<clipPath id="cf2"><rect x="1163.6" y="1513.8" width="845.9" height="373.5"/></clipPath>
<path clip-path="url(#cf2)" d="M1200.0 1833.6h3.4v3.4h-3.4zM1200.7 1827.3h3.4v3.4h-3.4zM1201.0 1819.0h3.4v3.4h-3.4zM1201.5 1815.6h3.4v3.4h-3.4zM1202.1 1813.8h3.4v3.4h-3.4zM1202.8 1810.1h3.4v3.4h-3.4zM1204.0 1808.3h3.4v3.4h-3.4zM1204.5 1805.4h3.4v3.4h-3.4zM1205.5 1799.6h3.4v3.4h-3.4zM1205.8 1791.3h3.4v3.4h-3.4zM1206.4 1790.7h3.4v3.4h-3.4zM1206.9 1787.2h3.4v3.4h-3.4zM1207.1 1778.9h3.4v3.4h-3.4zM1207.8 1774.3h3.4v3.4h-3.4zM1208.2 1769.7h3.4v3.4h-3.4zM1209.0 1769.9h3.4v3.4h-3.4zM1209.6 1762.4h3.4v3.4h-3.4zM1210.2 1768.8h3.4v3.4h-3.4zM1210.6 1762.5h3.4v3.4h-3.4zM1211.2 1761.5h3.4v3.4h-3.4zM1211.7 1760.0h3.4v3.4h-3.4zM1212.0 1766.1h3.4v3.4h-3.4zM1212.2 1774.4h3.4v3.4h-3.4zM1212.4 1782.7h3.4v3.4h-3.4zM1212.6 1791.0h3.4v3.4h-3.4zM1213.3 1795.0h3.4v3.4h-3.4zM1213.7 1803.3h3.4v3.4h-3.4zM1214.6 1805.4h3.4v3.4h-3.4zM1215.4 1810.2h3.4v3.4h-3.4zM1216.0 1815.8h3.4v3.4h-3.4zM1216.5 1821.2h3.4v3.4h-3.4zM1217.0 1816.9h3.4v3.4h-3.4zM1217.5 1822.1h3.4v3.4h-3.4zM1217.9 1813.8h3.4v3.4h-3.4zM1218.4 1815.6h3.4v3.4h-3.4zM1218.9 1815.0h3.4v3.4h-3.4zM1219.3 1808.9h3.4v3.4h-3.4zM1220.0 1811.7h3.4v3.4h-3.4zM1220.4 1803.4h3.4v3.4h-3.4zM1221.1 1810.3h3.4v3.4h-3.4zM1221.4 1802.0h3.4v3.4h-3.4zM1222.0 1799.3h3.4v3.4h-3.4zM1222.9 1802.9h3.4v3.4h-3.4zM1223.4 1811.2h3.4v3.4h-3.4zM1224.2 1813.2h3.4v3.4h-3.4zM1224.5 1821.5h3.4v3.4h-3.4zM1225.3 1824.6h3.4v3.4h-3.4zM1226.1 1827.7h3.4v3.4h-3.4zM1226.8 1828.7h3.4v3.4h-3.4zM1227.6 1826.9h3.4v3.4h-3.4zM1228.2 1833.6h3.4v3.4h-3.4zM1228.8 1826.4h3.4v3.4h-3.4zM1229.5 1833.7h3.4v3.4h-3.4zM1229.7 1825.4h3.4v3.4h-3.4zM1230.0 1817.1h3.4v3.4h-3.4zM1230.8 1818.0h3.4v3.4h-3.4zM1231.0 1809.7h3.4v3.4h-3.4zM1231.4 1804.4h3.4v3.4h-3.4zM1232.0 1804.7h3.4v3.4h-3.4zM1232.2 1796.4h3.4v3.4h-3.4zM1232.5 1788.1h3.4v3.4h-3.4zM1233.2 1779.9h3.4v3.4h-3.4zM1233.5 1771.6h3.4v3.4h-3.4zM1234.3 1770.7h3.4v3.4h-3.4zM1234.5 1762.4h3.4v3.4h-3.4zM1234.8 1754.1h3.4v3.4h-3.4zM1235.1 1753.6h3.4v3.4h-3.4zM1235.5 1745.3h3.4v3.4h-3.4zM1235.7 1737.0h3.4v3.4h-3.4zM1235.9 1728.7h3.4v3.4h-3.4zM1236.0 1720.4h3.4v3.4h-3.4zM1236.9 1717.4h3.4v3.4h-3.4zM1237.4 1711.0h3.4v3.4h-3.4zM1237.9 1711.1h3.4v3.4h-3.4zM1238.3 1702.8h3.4v3.4h-3.4zM1239.1 1694.5h3.4v3.4h-3.4zM1239.4 1686.2h3.4v3.4h-3.4zM1239.8 1682.7h3.4v3.4h-3.4zM1240.4 1684.7h3.4v3.4h-3.4zM1240.9 1677.4h3.4v3.4h-3.4zM1241.7 1677.2h3.4v3.4h-3.4zM1242.2 1670.8h3.4v3.4h-3.4zM1243.1 1666.4h3.4v3.4h-3.4zM1243.9 1669.0h3.4v3.4h-3.4zM1244.3 1660.8h3.4v3.4h-3.4zM1245.0 1660.6h3.4v3.4h-3.4zM1245.6 1653.3h3.4v3.4h-3.4zM1246.7 1651.6h3.4v3.4h-3.4zM1247.3 1647.2h3.4v3.4h-3.4zM1247.8 1640.4h3.4v3.4h-3.4zM1248.6 1635.1h3.4v3.4h-3.4zM1248.8 1637.6h3.4v3.4h-3.4zM1249.1 1629.3h3.4v3.4h-3.4zM1249.7 1627.2h3.4v3.4h-3.4zM1250.1 1623.3h3.4v3.4h-3.4zM1251.1 1616.2h3.4v3.4h-3.4zM1251.5 1607.9h3.4v3.4h-3.4zM1252.6 1603.1h3.4v3.4h-3.4zM1253.4 1600.6h3.4v3.4h-3.4zM1254.3 1601.1h3.4v3.4h-3.4zM1255.3 1609.0h3.4v3.4h-3.4zM1255.7 1617.3h3.4v3.4h-3.4zM1256.5 1618.3h3.4v3.4h-3.4zM1256.8 1626.6h3.4v3.4h-3.4zM1257.0 1634.9h3.4v3.4h-3.4zM1257.8 1641.3h3.4v3.4h-3.4zM1258.1 1649.6h3.4v3.4h-3.4zM1258.3 1654.8h3.4v3.4h-3.4zM1258.9 1647.6h3.4v3.4h-3.4zM1259.7 1646.4h3.4v3.4h-3.4zM1260.1 1639.7h3.4v3.4h-3.4zM1260.9 1640.8h3.4v3.4h-3.4zM1261.2 1632.5h3.4v3.4h-3.4zM1262.0 1630.5h3.4v3.4h-3.4zM1262.3 1622.2h3.4v3.4h-3.4zM1263.1 1623.0h3.4v3.4h-3.4zM1263.4 1614.7h3.4v3.4h-3.4zM1264.3 1611.8h3.4v3.4h-3.4zM1264.5 1603.5h3.4v3.4h-3.4zM1264.8 1595.2h3.4v3.4h-3.4zM1265.3 1586.9h3.4v3.4h-3.4zM1265.6 1578.6h3.4v3.4h-3.4zM1265.8 1570.3h3.4v3.4h-3.4zM1266.0 1562.0h3.4v3.4h-3.4zM1266.1 1564.0h3.4v3.4h-3.4zM1266.9 1566.4h3.4v3.4h-3.4zM1267.6 1565.4h3.4v3.4h-3.4zM1268.6 1565.2h3.4v3.4h-3.4zM1269.2 1570.6h3.4v3.4h-3.4zM1270.1 1571.5h3.4v3.4h-3.4zM1270.9 1572.4h3.4v3.4h-3.4zM1271.3 1580.6h3.4v3.4h-3.4zM1272.0 1583.3h3.4v3.4h-3.4zM1272.4 1590.9h3.4v3.4h-3.4zM1273.1 1594.1h3.4v3.4h-3.4zM1273.7 1601.1h3.4v3.4h-3.4zM1274.0 1603.8h3.4v3.4h-3.4zM1274.4 1595.6h3.4v3.4h-3.4zM1275.1 1599.5h3.4v3.4h-3.4zM1275.6 1591.2h3.4v3.4h-3.4zM1276.8 1583.1h3.4v3.4h-3.4zM1277.2 1582.0h3.4v3.4h-3.4zM1277.7 1578.0h3.4v3.4h-3.4zM1278.1 1569.9h3.4v3.4h-3.4zM1279.4 1569.5h3.4v3.4h-3.4zM1279.8 1577.8h3.4v3.4h-3.4zM1280.8 1583.2h3.4v3.4h-3.4zM1281.6 1588.5h3.4v3.4h-3.4zM1282.0 1594.2h3.4v3.4h-3.4zM1282.9 1599.9h3.4v3.4h-3.4zM1283.3 1608.1h3.4v3.4h-3.4zM1283.7 1611.8h3.4v3.4h-3.4zM1284.1 1620.1h3.4v3.4h-3.4zM1284.3 1628.4h3.4v3.4h-3.4zM1284.5 1636.7h3.4v3.4h-3.4zM1284.7 1645.0h3.4v3.4h-3.4zM1285.1 1653.3h3.4v3.4h-3.4zM1285.4 1661.6h3.4v3.4h-3.4zM1285.6 1669.9h3.4v3.4h-3.4zM1285.8 1678.2h3.4v3.4h-3.4zM1286.5 1686.4h3.4v3.4h-3.4zM1287.0 1694.7h3.4v3.4h-3.4zM1287.9 1699.0h3.4v3.4h-3.4zM1288.2 1707.3h3.4v3.4h-3.4zM1289.3 1713.2h3.4v3.4h-3.4zM1290.1 1710.8h3.4v3.4h-3.4zM1290.6 1719.1h3.4v3.4h-3.4zM1291.5 1724.1h3.4v3.4h-3.4zM1292.3 1726.3h3.4v3.4h-3.4zM1292.8 1732.9h3.4v3.4h-3.4zM1293.3 1737.8h3.4v3.4h-3.4zM1293.9 1740.4h3.4v3.4h-3.4zM1294.4 1746.5h3.4v3.4h-3.4zM1295.2 1749.8h3.4v3.4h-3.4zM1295.8 1748.7h3.4v3.4h-3.4zM1296.3 1748.6h3.4v3.4h-3.4zM1296.8 1754.6h3.4v3.4h-3.4zM1297.7 1756.2h3.4v3.4h-3.4zM1298.7 1755.9h3.4v3.4h-3.4zM1299.1 1758.1h3.4v3.4h-3.4zM1299.6 1749.8h3.4v3.4h-3.4zM1300.3 1755.4h3.4v3.4h-3.4zM1300.7 1747.1h3.4v3.4h-3.4zM1301.7 1740.6h3.4v3.4h-3.4zM1302.1 1732.9h3.4v3.4h-3.4zM1302.8 1736.0h3.4v3.4h-3.4zM1303.1 1727.7h3.4v3.4h-3.4zM1303.9 1729.4h3.4v3.4h-3.4zM1304.4 1721.1h3.4v3.4h-3.4zM1305.4 1715.3h3.4v3.4h-3.4zM1305.8 1713.3h3.4v3.4h-3.4zM1306.7 1712.1h3.4v3.4h-3.4zM1307.5 1716.5h3.4v3.4h-3.4zM1308.2 1711.6h3.4v3.4h-3.4zM1308.8 1713.3h3.4v3.4h-3.4zM1309.4 1708.6h3.4v3.4h-3.4zM1310.2 1712.7h3.4v3.4h-3.4zM1310.9 1717.8h3.4v3.4h-3.4zM1311.5 1716.9h3.4v3.4h-3.4zM1311.9 1721.4h3.4v3.4h-3.4zM1312.1 1729.7h3.4v3.4h-3.4zM1312.9 1729.1h3.4v3.4h-3.4zM1313.2 1737.4h3.4v3.4h-3.4zM1313.5 1742.1h3.4v3.4h-3.4zM1314.2 1745.1h3.4v3.4h-3.4zM1314.4 1753.4h3.4v3.4h-3.4zM1314.9 1761.6h3.4v3.4h-3.4zM1315.4 1769.9h3.4v3.4h-3.4zM1315.9 1774.9h3.4v3.4h-3.4zM1316.2 1766.6h3.4v3.4h-3.4zM1316.4 1758.3h3.4v3.4h-3.4zM1317.3 1751.7h3.4v3.4h-3.4zM1317.8 1743.5h3.4v3.4h-3.4zM1318.5 1735.2h3.4v3.4h-3.4zM1319.7 1731.3h3.4v3.4h-3.4zM1320.4 1729.1h3.4v3.4h-3.4zM1321.0 1725.1h3.4v3.4h-3.4zM1321.4 1725.0h3.4v3.4h-3.4zM1322.2 1718.6h3.4v3.4h-3.4zM1322.8 1719.1h3.4v3.4h-3.4zM1323.3 1717.8h3.4v3.4h-3.4zM1323.6 1709.5h3.4v3.4h-3.4zM1324.2 1713.5h3.4v3.4h-3.4zM1324.5 1706.3h3.4v3.4h-3.4zM1324.8 1698.0h3.4v3.4h-3.4zM1325.6 1699.8h3.4v3.4h-3.4zM1326.0 1691.5h3.4v3.4h-3.4zM1327.0 1686.8h3.4v3.4h-3.4zM1327.7 1678.6h3.4v3.4h-3.4zM1328.1 1670.3h3.4v3.4h-3.4zM1328.8 1663.1h3.4v3.4h-3.4zM1329.3 1655.9h3.4v3.4h-3.4zM1330.0 1655.1h3.4v3.4h-3.4zM1330.5 1650.6h3.4v3.4h-3.4zM1330.8 1642.3h3.4v3.4h-3.4zM1331.7 1641.2h3.4v3.4h-3.4zM1332.2 1639.4h3.4v3.4h-3.4zM1332.9 1639.4h3.4v3.4h-3.4zM1333.4 1635.3h3.4v3.4h-3.4zM1334.0 1639.5h3.4v3.4h-3.4zM1334.7 1633.2h3.4v3.4h-3.4zM1335.3 1631.4h3.4v3.4h-3.4zM1335.7 1623.5h3.4v3.4h-3.4zM1336.5 1620.6h3.4v3.4h-3.4zM1336.8 1612.3h3.4v3.4h-3.4zM1337.7 1606.0h3.4v3.4h-3.4zM1337.9 1597.7h3.4v3.4h-3.4zM1338.7 1599.2h3.4v3.4h-3.4zM1338.9 1590.9h3.4v3.4h-3.4zM1339.2 1582.6h3.4v3.4h-3.4zM1340.6 1585.3h3.4v3.4h-3.4zM1340.9 1593.6h3.4v3.4h-3.4zM1341.8 1599.0h3.4v3.4h-3.4zM1342.9 1604.4h3.4v3.4h-3.4zM1343.3 1612.7h3.4v3.4h-3.4zM1344.2 1613.8h3.4v3.4h-3.4zM1344.6 1622.1h3.4v3.4h-3.4zM1345.3 1616.6h3.4v3.4h-3.4zM1346.2 1623.7h3.4v3.4h-3.4zM1347.6 1627.1h3.4v3.4h-3.4zM1348.5 1629.2h3.4v3.4h-3.4zM1349.1 1630.5h3.4v3.4h-3.4zM1349.4 1638.8h3.4v3.4h-3.4zM1350.3 1635.2h3.4v3.4h-3.4zM1350.7 1643.5h3.4v3.4h-3.4zM1351.3 1651.8h3.4v3.4h-3.4zM1351.6 1660.1h3.4v3.4h-3.4zM1352.6 1667.7h3.4v3.4h-3.4zM1353.0 1676.0h3.4v3.4h-3.4zM1353.8 1677.3h3.4v3.4h-3.4zM1354.2 1685.6h3.4v3.4h-3.4zM1355.3 1692.3h3.4v3.4h-3.4zM1356.2 1700.5h3.4v3.4h-3.4zM1356.6 1708.8h3.4v3.4h-3.4zM1357.4 1710.6h3.4v3.4h-3.4zM1357.8 1718.9h3.4v3.4h-3.4zM1358.8 1724.6h3.4v3.4h-3.4zM1359.8 1725.9h3.4v3.4h-3.4zM1360.3 1731.7h3.4v3.4h-3.4zM1360.9 1726.8h3.4v3.4h-3.4zM1361.5 1728.3h3.4v3.4h-3.4zM1361.7 1720.0h3.4v3.4h-3.4zM1362.0 1711.7h3.4v3.4h-3.4zM1362.7 1703.5h3.4v3.4h-3.4zM1363.0 1695.2h3.4v3.4h-3.4zM1363.3 1688.6h3.4v3.4h-3.4zM1363.8 1696.9h3.4v3.4h-3.4zM1364.6 1695.7h3.4v3.4h-3.4zM1365.1 1702.9h3.4v3.4h-3.4zM1365.8 1700.2h3.4v3.4h-3.4zM1366.3 1708.0h3.4v3.4h-3.4zM1366.9 1704.4h3.4v3.4h-3.4zM1367.7 1700.4h3.4v3.4h-3.4zM1368.2 1693.8h3.4v3.4h-3.4zM1368.9 1690.6h3.4v3.4h-3.4zM1369.9 1682.7h3.4v3.4h-3.4zM1370.4 1674.4h3.4v3.4h-3.4zM1371.1 1678.9h3.4v3.4h-3.4zM1371.4 1670.6h3.4v3.4h-3.4zM1371.9 1667.0h3.4v3.4h-3.4zM1372.5 1666.9h3.4v3.4h-3.4zM1372.9 1659.1h3.4v3.4h-3.4zM1373.5 1667.1h3.4v3.4h-3.4zM1374.0 1658.8h3.4v3.4h-3.4zM1374.6 1665.8h3.4v3.4h-3.4zM1375.5 1668.2h3.4v3.4h-3.4zM1376.0 1672.5h3.4v3.4h-3.4zM1376.6 1669.6h3.4v3.4h-3.4zM1376.9 1677.9h3.4v3.4h-3.4zM1377.5 1674.3h3.4v3.4h-3.4zM1377.7 1677.2h3.4v3.4h-3.4zM1378.5 1672.5h3.4v3.4h-3.4zM1379.0 1666.7h3.4v3.4h-3.4zM1379.7 1667.4h3.4v3.4h-3.4zM1380.6 1663.9h3.4v3.4h-3.4zM1381.2 1656.1h3.4v3.4h-3.4zM1382.2 1648.2h3.4v3.4h-3.4zM1382.5 1647.3h3.4v3.4h-3.4zM1382.7 1655.6h3.4v3.4h-3.4zM1382.9 1663.9h3.4v3.4h-3.4zM1383.1 1672.2h3.4v3.4h-3.4zM1383.4 1680.5h3.4v3.4h-3.4zM1383.6 1685.3h3.4v3.4h-3.4zM1384.6 1684.2h3.4v3.4h-3.4zM1385.2 1686.4h3.4v3.4h-3.4zM1386.2 1687.3h3.4v3.4h-3.4zM1386.9 1689.9h3.4v3.4h-3.4zM1387.5 1688.6h3.4v3.4h-3.4zM1388.1 1688.6h3.4v3.4h-3.4zM1388.7 1684.2h3.4v3.4h-3.4zM1389.0 1692.5h3.4v3.4h-3.4zM1389.6 1700.8h3.4v3.4h-3.4zM1389.8 1709.1h3.4v3.4h-3.4zM1390.0 1717.4h3.4v3.4h-3.4zM1390.6 1723.1h3.4v3.4h-3.4zM1391.2 1729.9h3.4v3.4h-3.4zM1391.6 1738.2h3.4v3.4h-3.4zM1392.1 1738.8h3.4v3.4h-3.4zM1392.4 1747.1h3.4v3.4h-3.4zM1393.2 1749.5h3.4v3.4h-3.4zM1393.6 1756.9h3.4v3.4h-3.4zM1394.5 1762.2h3.4v3.4h-3.4zM1394.9 1770.5h3.4v3.4h-3.4zM1395.4 1772.9h3.4v3.4h-3.4zM1396.1 1776.7h3.4v3.4h-3.4zM1397.0 1775.8h3.4v3.4h-3.4zM1397.4 1784.1h3.4v3.4h-3.4zM1398.1 1781.3h3.4v3.4h-3.4zM1399.1 1786.0h3.4v3.4h-3.4zM1399.9 1792.3h3.4v3.4h-3.4zM1400.2 1784.0h3.4v3.4h-3.4zM1400.8 1780.1h3.4v3.4h-3.4zM1401.4 1774.2h3.4v3.4h-3.4zM1402.4 1768.8h3.4v3.4h-3.4zM1403.0 1765.4h3.4v3.4h-3.4zM1403.8 1771.2h3.4v3.4h-3.4zM1404.6 1777.2h3.4v3.4h-3.4zM1405.2 1771.7h3.4v3.4h-3.4zM1405.6 1779.0h3.4v3.4h-3.4zM1406.2 1780.5h3.4v3.4h-3.4zM1406.8 1784.1h3.4v3.4h-3.4zM1407.5 1784.5h3.4v3.4h-3.4zM1407.6 1776.2h3.4v3.4h-3.4zM1407.8 1767.9h3.4v3.4h-3.4zM1408.2 1759.6h3.4v3.4h-3.4zM1408.3 1751.3h3.4v3.4h-3.4zM1408.5 1743.0h3.4v3.4h-3.4zM1409.2 1740.8h3.4v3.4h-3.4zM1409.8 1736.9h3.4v3.4h-3.4zM1410.4 1734.6h3.4v3.4h-3.4zM1410.9 1738.7h3.4v3.4h-3.4zM1411.5 1739.5h3.4v3.4h-3.4zM1411.9 1747.8h3.4v3.4h-3.4zM1412.8 1755.9h3.4v3.4h-3.4zM1413.4 1756.8h3.4v3.4h-3.4zM1413.9 1759.6h3.4v3.4h-3.4zM1414.2 1767.9h3.4v3.4h-3.4zM1414.6 1760.9h3.4v3.4h-3.4zM1415.4 1759.6h3.4v3.4h-3.4zM1415.8 1752.0h3.4v3.4h-3.4zM1416.9 1744.5h3.4v3.4h-3.4zM1417.8 1740.1h3.4v3.4h-3.4zM1418.3 1731.8h3.4v3.4h-3.4zM1419.2 1725.0h3.4v3.4h-3.4zM1419.6 1716.7h3.4v3.4h-3.4zM1420.2 1724.4h3.4v3.4h-3.4zM1421.0 1729.6h3.4v3.4h-3.4zM1421.3 1737.9h3.4v3.4h-3.4zM1422.2 1744.3h3.4v3.4h-3.4zM1422.5 1752.6h3.4v3.4h-3.4zM1423.3 1757.0h3.4v3.4h-3.4zM1423.6 1765.3h3.4v3.4h-3.4zM1424.2 1773.6h3.4v3.4h-3.4zM1424.8 1781.8h3.4v3.4h-3.4zM1425.1 1790.1h3.4v3.4h-3.4zM1425.6 1798.4h3.4v3.4h-3.4zM1425.8 1806.7h3.4v3.4h-3.4zM1426.4 1803.8h3.4v3.4h-3.4zM1426.8 1795.5h3.4v3.4h-3.4zM1427.6 1787.3h3.4v3.4h-3.4zM1428.0 1779.0h3.4v3.4h-3.4zM1428.9 1771.5h3.4v3.4h-3.4zM1429.2 1763.2h3.4v3.4h-3.4zM1429.8 1759.0h3.4v3.4h-3.4zM1430.3 1761.7h3.4v3.4h-3.4zM1430.8 1768.6h3.4v3.4h-3.4zM1431.4 1775.2h3.4v3.4h-3.4zM1431.9 1782.4h3.4v3.4h-3.4zM1432.2 1790.7h3.4v3.4h-3.4zM1432.9 1783.7h3.4v3.4h-3.4zM1433.6 1786.3h3.4v3.4h-3.4zM1434.0 1778.0h3.4v3.4h-3.4zM1434.8 1779.6h3.4v3.4h-3.4zM1435.1 1771.3h3.4v3.4h-3.4zM1435.8 1771.8h3.4v3.4h-3.4zM1436.2 1765.2h3.4v3.4h-3.4zM1436.5 1763.6h3.4v3.4h-3.4zM1437.0 1771.9h3.4v3.4h-3.4zM1437.6 1764.3h3.4v3.4h-3.4zM1438.2 1771.4h3.4v3.4h-3.4zM1439.2 1772.6h3.4v3.4h-3.4zM1439.7 1773.1h3.4v3.4h-3.4zM1440.3 1772.5h3.4v3.4h-3.4zM1440.7 1768.1h3.4v3.4h-3.4zM1440.9 1759.8h3.4v3.4h-3.4zM1441.1 1751.5h3.4v3.4h-3.4zM1441.2 1743.2h3.4v3.4h-3.4zM1442.0 1735.6h3.4v3.4h-3.4zM1442.4 1727.3h3.4v3.4h-3.4zM1443.3 1719.1h3.4v3.4h-3.4zM1444.3 1711.5h3.4v3.4h-3.4zM1444.9 1708.6h3.4v3.4h-3.4zM1445.2 1716.9h3.4v3.4h-3.4zM1445.8 1722.3h3.4v3.4h-3.4zM1446.4 1728.2h3.4v3.4h-3.4zM1446.9 1734.1h3.4v3.4h-3.4zM1447.6 1738.5h3.4v3.4h-3.4zM1448.3 1741.7h3.4v3.4h-3.4zM1448.8 1749.0h3.4v3.4h-3.4zM1449.6 1756.1h3.4v3.4h-3.4zM1450.0 1764.4h3.4v3.4h-3.4zM1450.9 1768.9h3.4v3.4h-3.4zM1451.2 1777.2h3.4v3.4h-3.4zM1452.1 1785.4h3.4v3.4h-3.4zM1452.4 1793.7h3.4v3.4h-3.4zM1452.6 1802.0h3.4v3.4h-3.4zM1453.7 1809.7h3.4v3.4h-3.4zM1454.7 1811.9h3.4v3.4h-3.4zM1455.1 1820.2h3.4v3.4h-3.4zM1455.8 1828.5h3.4v3.4h-3.4zM1456.1 1836.7h3.4v3.4h-3.4zM1456.9 1842.9h3.4v3.4h-3.4zM1457.6 1847.4h3.4v3.4h-3.4zM1458.3 1843.7h3.4v3.4h-3.4zM1459.2 1842.2h3.4v3.4h-3.4zM1459.9 1848.1h3.4v3.4h-3.4zM1460.6 1844.3h3.4v3.4h-3.4zM1461.2 1846.4h3.4v3.4h-3.4zM1461.6 1838.1h3.4v3.4h-3.4zM1462.2 1844.4h3.4v3.4h-3.4zM1462.8 1836.4h3.4v3.4h-3.4zM1463.0 1828.1h3.4v3.4h-3.4zM1463.3 1819.8h3.4v3.4h-3.4zM1463.5 1811.5h3.4v3.4h-3.4zM1463.7 1803.3h3.4v3.4h-3.4zM1463.8 1795.0h3.4v3.4h-3.4zM1464.0 1786.7h3.4v3.4h-3.4zM1464.6 1778.4h3.4v3.4h-3.4zM1464.7 1770.1h3.4v3.4h-3.4zM1465.5 1764.2h3.4v3.4h-3.4zM1466.1 1758.5h3.4v3.4h-3.4zM1466.5 1751.4h3.4v3.4h-3.4zM1467.3 1751.9h3.4v3.4h-3.4zM1467.6 1743.6h3.4v3.4h-3.4zM1467.9 1750.9h3.4v3.4h-3.4zM1468.2 1759.2h3.4v3.4h-3.4zM1468.7 1758.1h3.4v3.4h-3.4zM1468.8 1749.8h3.4v3.4h-3.4zM1469.5 1741.6h3.4v3.4h-3.4zM1469.7 1733.3h3.4v3.4h-3.4zM1469.9 1725.0h3.4v3.4h-3.4zM1470.0 1716.7h3.4v3.4h-3.4zM1470.4 1708.4h3.4v3.4h-3.4zM1471.4 1709.3h3.4v3.4h-3.4zM1471.8 1717.5h3.4v3.4h-3.4zM1472.6 1717.5h3.4v3.4h-3.4zM1472.9 1725.8h3.4v3.4h-3.4zM1473.7 1726.0h3.4v3.4h-3.4zM1474.1 1734.3h3.4v3.4h-3.4zM1475.0 1742.2h3.4v3.4h-3.4zM1475.4 1750.5h3.4v3.4h-3.4zM1475.7 1747.8h3.4v3.4h-3.4zM1476.4 1743.8h3.4v3.4h-3.4zM1476.9 1738.0h3.4v3.4h-3.4zM1477.2 1729.7h3.4v3.4h-3.4zM1478.3 1725.2h3.4v3.4h-3.4zM1478.6 1726.4h3.4v3.4h-3.4zM1478.9 1734.7h3.4v3.4h-3.4zM1479.8 1743.0h3.4v3.4h-3.4zM1480.2 1751.3h3.4v3.4h-3.4zM1480.6 1759.5h3.4v3.4h-3.4zM1481.0 1767.8h3.4v3.4h-3.4zM1481.3 1776.1h3.4v3.4h-3.4zM1482.1 1778.6h3.4v3.4h-3.4zM1482.4 1786.9h3.4v3.4h-3.4zM1483.3 1793.4h3.4v3.4h-3.4zM1483.5 1801.7h3.4v3.4h-3.4zM1483.8 1810.0h3.4v3.4h-3.4zM1484.4 1818.3h3.4v3.4h-3.4zM1484.7 1826.6h3.4v3.4h-3.4zM1485.0 1834.8h3.4v3.4h-3.4zM1485.7 1834.7h3.4v3.4h-3.4zM1486.0 1843.0h3.4v3.4h-3.4zM1486.6 1847.7h3.4v3.4h-3.4zM1487.0 1854.2h3.4v3.4h-3.4zM1488.0 1854.1h3.4v3.4h-3.4zM1488.7 1860.8h3.4v3.4h-3.4zM1489.3 1855.0h3.4v3.4h-3.4zM1489.9 1861.9h3.4v3.4h-3.4zM1490.9 1863.6h3.4v3.4h-3.4zM1491.4 1858.9h3.4v3.4h-3.4zM1492.0 1855.4h3.4v3.4h-3.4zM1492.6 1850.2h3.4v3.4h-3.4zM1493.6 1845.9h3.4v3.4h-3.4zM1494.0 1837.6h3.4v3.4h-3.4zM1494.7 1839.2h3.4v3.4h-3.4zM1495.4 1834.7h3.4v3.4h-3.4zM1495.8 1843.0h3.4v3.4h-3.4zM1496.6 1839.7h3.4v3.4h-3.4zM1497.8 1842.4h3.4v3.4h-3.4zM1498.8 1843.1h3.4v3.4h-3.4zM1499.2 1847.3h3.4v3.4h-3.4zM1499.8 1848.6h3.4v3.4h-3.4zM1500.6 1850.4h3.4v3.4h-3.4zM1501.4 1848.3h3.4v3.4h-3.4zM1502.0 1852.6h3.4v3.4h-3.4zM1502.5 1844.7h3.4v3.4h-3.4zM1503.1 1847.4h3.4v3.4h-3.4zM1503.4 1839.1h3.4v3.4h-3.4zM1503.6 1830.8h3.4v3.4h-3.4zM1504.5 1822.6h3.4v3.4h-3.4zM1505.5 1814.7h3.4v3.4h-3.4zM1505.9 1806.4h3.4v3.4h-3.4zM1506.8 1803.2h3.4v3.4h-3.4zM1507.2 1794.9h3.4v3.4h-3.4zM1508.2 1786.7h3.4v3.4h-3.4zM1508.4 1778.4h3.4v3.4h-3.4zM1508.8 1770.2h3.4v3.4h-3.4zM1509.2 1761.9h3.4v3.4h-3.4zM1509.4 1753.6h3.4v3.4h-3.4zM1509.6 1745.3h3.4v3.4h-3.4zM1510.0 1737.0h3.4v3.4h-3.4zM1510.3 1728.7h3.4v3.4h-3.4zM1510.6 1720.4h3.4v3.4h-3.4zM1511.3 1717.0h3.4v3.4h-3.4zM1511.8 1710.9h3.4v3.4h-3.4zM1512.3 1706.6h3.4v3.4h-3.4zM1513.0 1699.9h3.4v3.4h-3.4zM1513.4 1694.1h3.4v3.4h-3.4zM1514.0 1694.1h3.4v3.4h-3.4zM1514.3 1685.8h3.4v3.4h-3.4zM1515.1 1681.9h3.4v3.4h-3.4zM1515.4 1673.6h3.4v3.4h-3.4zM1516.3 1670.1h3.4v3.4h-3.4zM1516.6 1661.8h3.4v3.4h-3.4zM1517.2 1656.4h3.4v3.4h-3.4zM1517.8 1649.9h3.4v3.4h-3.4zM1518.2 1645.8h3.4v3.4h-3.4zM1518.9 1646.9h3.4v3.4h-3.4zM1519.4 1644.2h3.4v3.4h-3.4zM1520.0 1649.5h3.4v3.4h-3.4zM1520.6 1646.9h3.4v3.4h-3.4zM1521.3 1650.3h3.4v3.4h-3.4zM1522.1 1653.3h3.4v3.4h-3.4zM1523.0 1652.4h3.4v3.4h-3.4zM1523.7 1656.5h3.4v3.4h-3.4zM1524.3 1658.2h3.4v3.4h-3.4zM1524.9 1662.9h3.4v3.4h-3.4zM1525.5 1665.5h3.4v3.4h-3.4zM1525.8 1673.8h3.4v3.4h-3.4zM1526.0 1669.8h3.4v3.4h-3.4zM1526.4 1678.1h3.4v3.4h-3.4zM1526.6 1686.4h3.4v3.4h-3.4zM1526.8 1694.7h3.4v3.4h-3.4zM1527.0 1702.9h3.4v3.4h-3.4zM1527.2 1711.2h3.4v3.4h-3.4zM1527.5 1719.5h3.4v3.4h-3.4zM1527.7 1727.8h3.4v3.4h-3.4zM1527.8 1736.1h3.4v3.4h-3.4zM1528.0 1744.4h3.4v3.4h-3.4zM1528.2 1752.7h3.4v3.4h-3.4zM1528.6 1761.0h3.4v3.4h-3.4zM1529.0 1769.1h3.4v3.4h-3.4zM1529.2 1777.4h3.4v3.4h-3.4zM1529.6 1785.7h3.4v3.4h-3.4zM1530.4 1793.9h3.4v3.4h-3.4zM1531.4 1801.3h3.4v3.4h-3.4zM1531.7 1809.6h3.4v3.4h-3.4zM1532.5 1810.8h3.4v3.4h-3.4zM1533.1 1815.9h3.4v3.4h-3.4zM1533.4 1807.6h3.4v3.4h-3.4zM1534.3 1802.1h3.4v3.4h-3.4zM1534.6 1793.8h3.4v3.4h-3.4zM1535.3 1792.7h3.4v3.4h-3.4zM1535.7 1786.4h3.4v3.4h-3.4zM1536.1 1778.2h3.4v3.4h-3.4zM1536.7 1782.5h3.4v3.4h-3.4zM1537.1 1774.2h3.4v3.4h-3.4zM1537.9 1772.9h3.4v3.4h-3.4zM1538.2 1764.6h3.4v3.4h-3.4zM1538.5 1762.9h3.4v3.4h-3.4zM1538.7 1771.2h3.4v3.4h-3.4zM1539.0 1779.5h3.4v3.4h-3.4zM1539.7 1781.6h3.4v3.4h-3.4zM1539.9 1789.9h3.4v3.4h-3.4zM1540.2 1798.2h3.4v3.4h-3.4zM1541.1 1805.8h3.4v3.4h-3.4zM1541.4 1814.1h3.4v3.4h-3.4zM1542.2 1822.4h3.4v3.4h-3.4zM1542.8 1823.1h3.4v3.4h-3.4zM1543.9 1814.9h3.4v3.4h-3.4zM1544.4 1806.6h3.4v3.4h-3.4zM1545.3 1799.5h3.4v3.4h-3.4zM1545.9 1801.1h3.4v3.4h-3.4zM1546.5 1805.8h3.4v3.4h-3.4zM1547.1 1807.3h3.4v3.4h-3.4zM1547.7 1810.4h3.4v3.4h-3.4zM1548.4 1813.5h3.4v3.4h-3.4zM1549.2 1811.9h3.4v3.4h-3.4zM1549.8 1815.8h3.4v3.4h-3.4zM1550.5 1808.5h3.4v3.4h-3.4zM1551.2 1812.1h3.4v3.4h-3.4zM1551.5 1803.9h3.4v3.4h-3.4zM1552.2 1806.9h3.4v3.4h-3.4zM1552.8 1799.5h3.4v3.4h-3.4zM1553.7 1801.5h3.4v3.4h-3.4zM1554.1 1793.6h3.4v3.4h-3.4zM1554.6 1801.9h3.4v3.4h-3.4zM1555.8 1807.3h3.4v3.4h-3.4zM1556.6 1804.8h3.4v3.4h-3.4zM1557.3 1810.6h3.4v3.4h-3.4zM1558.1 1814.7h3.4v3.4h-3.4zM1559.5 1816.5h3.4v3.4h-3.4zM1560.2 1809.9h3.4v3.4h-3.4zM1561.2 1806.4h3.4v3.4h-3.4zM1562.7 1801.3h3.4v3.4h-3.4zM1563.4 1796.3h3.4v3.4h-3.4zM1564.4 1788.1h3.4v3.4h-3.4zM1564.8 1779.8h3.4v3.4h-3.4zM1565.7 1772.4h3.4v3.4h-3.4zM1566.0 1764.1h3.4v3.4h-3.4zM1567.0 1756.2h3.4v3.4h-3.4zM1567.8 1754.2h3.4v3.4h-3.4zM1568.7 1760.0h3.4v3.4h-3.4zM1569.3 1763.8h3.4v3.4h-3.4zM1570.1 1766.2h3.4v3.4h-3.4zM1571.1 1770.5h3.4v3.4h-3.4zM1572.1 1774.7h3.4v3.4h-3.4zM1572.4 1783.0h3.4v3.4h-3.4zM1573.5 1790.9h3.4v3.4h-3.4zM1574.3 1799.1h3.4v3.4h-3.4zM1575.1 1792.1h3.4v3.4h-3.4zM1575.4 1783.8h3.4v3.4h-3.4zM1575.6 1775.5h3.4v3.4h-3.4zM1576.5 1767.7h3.4v3.4h-3.4zM1576.7 1759.4h3.4v3.4h-3.4zM1577.6 1754.1h3.4v3.4h-3.4zM1578.0 1745.8h3.4v3.4h-3.4zM1578.8 1737.6h3.4v3.4h-3.4zM1579.1 1729.3h3.4v3.4h-3.4zM1580.0 1726.9h3.4v3.4h-3.4zM1580.5 1721.4h3.4v3.4h-3.4zM1580.9 1729.7h3.4v3.4h-3.4zM1581.7 1737.9h3.4v3.4h-3.4zM1581.9 1746.2h3.4v3.4h-3.4zM1582.2 1754.5h3.4v3.4h-3.4zM1583.0 1759.6h3.4v3.4h-3.4zM1583.3 1767.9h3.4v3.4h-3.4zM1584.0 1776.2h3.4v3.4h-3.4zM1584.4 1784.5h3.4v3.4h-3.4zM1585.0 1792.8h3.4v3.4h-3.4zM1585.9 1786.7h3.4v3.4h-3.4zM1586.7 1778.9h3.4v3.4h-3.4zM1587.3 1771.1h3.4v3.4h-3.4zM1587.6 1762.8h3.4v3.4h-3.4zM1588.5 1761.1h3.4v3.4h-3.4zM1588.9 1753.8h3.4v3.4h-3.4zM1589.6 1757.7h3.4v3.4h-3.4zM1589.9 1749.4h3.4v3.4h-3.4zM1590.5 1752.9h3.4v3.4h-3.4zM1590.9 1748.7h3.4v3.4h-3.4zM1591.2 1740.4h3.4v3.4h-3.4zM1592.5 1742.3h3.4v3.4h-3.4zM1592.9 1750.6h3.4v3.4h-3.4zM1593.6 1746.8h3.4v3.4h-3.4zM1594.0 1753.0h3.4v3.4h-3.4zM1595.0 1759.1h3.4v3.4h-3.4zM1595.4 1767.4h3.4v3.4h-3.4zM1596.1 1768.2h3.4v3.4h-3.4zM1596.4 1776.5h3.4v3.4h-3.4zM1597.2 1784.7h3.4v3.4h-3.4zM1597.6 1793.0h3.4v3.4h-3.4zM1597.9 1797.9h3.4v3.4h-3.4zM1598.2 1789.6h3.4v3.4h-3.4zM1598.9 1786.4h3.4v3.4h-3.4zM1599.4 1780.1h3.4v3.4h-3.4zM1600.0 1778.6h3.4v3.4h-3.4zM1600.5 1774.5h3.4v3.4h-3.4zM1600.8 1766.2h3.4v3.4h-3.4zM1601.5 1768.0h3.4v3.4h-3.4zM1601.9 1759.7h3.4v3.4h-3.4zM1602.5 1762.3h3.4v3.4h-3.4zM1603.1 1756.9h3.4v3.4h-3.4zM1604.0 1755.7h3.4v3.4h-3.4zM1604.5 1748.5h3.4v3.4h-3.4zM1605.2 1752.7h3.4v3.4h-3.4zM1606.0 1747.2h3.4v3.4h-3.4zM1606.7 1741.2h3.4v3.4h-3.4zM1607.3 1745.4h3.4v3.4h-3.4zM1607.8 1740.2h3.4v3.4h-3.4zM1608.4 1739.8h3.4v3.4h-3.4zM1609.0 1736.9h3.4v3.4h-3.4zM1609.9 1737.2h3.4v3.4h-3.4zM1610.5 1729.4h3.4v3.4h-3.4zM1611.4 1730.1h3.4v3.4h-3.4zM1612.1 1731.9h3.4v3.4h-3.4zM1612.6 1727.7h3.4v3.4h-3.4zM1613.2 1724.5h3.4v3.4h-3.4zM1614.0 1720.6h3.4v3.4h-3.4zM1614.7 1724.9h3.4v3.4h-3.4zM1615.1 1716.6h3.4v3.4h-3.4zM1615.7 1720.6h3.4v3.4h-3.4zM1616.1 1717.2h3.4v3.4h-3.4zM1616.4 1708.9h3.4v3.4h-3.4zM1617.2 1709.1h3.4v3.4h-3.4zM1617.5 1700.8h3.4v3.4h-3.4zM1617.7 1701.9h3.4v3.4h-3.4zM1618.4 1695.0h3.4v3.4h-3.4zM1618.7 1686.7h3.4v3.4h-3.4zM1619.6 1685.0h3.4v3.4h-3.4zM1620.6 1677.9h3.4v3.4h-3.4zM1620.9 1674.9h3.4v3.4h-3.4zM1621.2 1666.6h3.4v3.4h-3.4zM1622.1 1662.7h3.4v3.4h-3.4zM1622.5 1655.5h3.4v3.4h-3.4zM1623.0 1663.8h3.4v3.4h-3.4zM1623.9 1672.0h3.4v3.4h-3.4zM1624.4 1678.5h3.4v3.4h-3.4zM1625.4 1681.6h3.4v3.4h-3.4zM1626.5 1686.5h3.4v3.4h-3.4zM1627.1 1683.5h3.4v3.4h-3.4zM1627.8 1689.0h3.4v3.4h-3.4zM1628.8 1692.5h3.4v3.4h-3.4zM1629.3 1694.1h3.4v3.4h-3.4zM1630.0 1694.5h3.4v3.4h-3.4zM1630.7 1693.9h3.4v3.4h-3.4zM1631.4 1698.6h3.4v3.4h-3.4zM1631.8 1698.7h3.4v3.4h-3.4zM1632.3 1701.6h3.4v3.4h-3.4zM1632.7 1707.8h3.4v3.4h-3.4zM1633.3 1705.2h3.4v3.4h-3.4zM1633.9 1699.5h3.4v3.4h-3.4zM1634.2 1691.2h3.4v3.4h-3.4zM1634.8 1682.9h3.4v3.4h-3.4zM1635.7 1678.7h3.4v3.4h-3.4zM1636.1 1687.0h3.4v3.4h-3.4zM1636.9 1695.2h3.4v3.4h-3.4zM1637.3 1703.5h3.4v3.4h-3.4zM1638.1 1705.2h3.4v3.4h-3.4zM1638.4 1713.5h3.4v3.4h-3.4zM1639.2 1717.6h3.4v3.4h-3.4zM1639.5 1725.9h3.4v3.4h-3.4zM1639.8 1734.2h3.4v3.4h-3.4zM1640.7 1742.4h3.4v3.4h-3.4zM1641.1 1749.8h3.4v3.4h-3.4zM1641.8 1749.5h3.4v3.4h-3.4zM1642.3 1755.8h3.4v3.4h-3.4zM1642.7 1747.5h3.4v3.4h-3.4zM1643.2 1750.2h3.4v3.4h-3.4zM1643.7 1748.8h3.4v3.4h-3.4zM1644.3 1744.6h3.4v3.4h-3.4zM1644.9 1743.0h3.4v3.4h-3.4zM1645.8 1740.7h3.4v3.4h-3.4zM1646.3 1733.2h3.4v3.4h-3.4zM1647.0 1737.9h3.4v3.4h-3.4zM1647.4 1732.8h3.4v3.4h-3.4zM1648.0 1731.6h3.4v3.4h-3.4zM1648.7 1729.1h3.4v3.4h-3.4zM1649.4 1732.2h3.4v3.4h-3.4zM1649.9 1725.1h3.4v3.4h-3.4zM1650.7 1727.4h3.4v3.4h-3.4zM1651.4 1732.6h3.4v3.4h-3.4zM1651.7 1740.9h3.4v3.4h-3.4zM1652.6 1749.1h3.4v3.4h-3.4zM1653.2 1745.0h3.4v3.4h-3.4zM1653.5 1736.7h3.4v3.4h-3.4zM1654.4 1730.2h3.4v3.4h-3.4zM1654.8 1721.9h3.4v3.4h-3.4zM1655.5 1725.9h3.4v3.4h-3.4zM1656.0 1717.6h3.4v3.4h-3.4zM1656.8 1715.0h3.4v3.4h-3.4zM1657.2 1706.7h3.4v3.4h-3.4zM1657.9 1711.5h3.4v3.4h-3.4zM1658.4 1703.2h3.4v3.4h-3.4zM1659.3 1701.6h3.4v3.4h-3.4zM1660.4 1695.5h3.4v3.4h-3.4zM1660.8 1687.2h3.4v3.4h-3.4zM1661.5 1690.6h3.4v3.4h-3.4zM1661.8 1682.3h3.4v3.4h-3.4zM1662.1 1674.9h3.4v3.4h-3.4zM1662.7 1676.8h3.4v3.4h-3.4zM1663.0 1668.5h3.4v3.4h-3.4zM1663.3 1661.2h3.4v3.4h-3.4zM1663.9 1668.8h3.4v3.4h-3.4zM1664.3 1660.6h3.4v3.4h-3.4zM1665.0 1663.8h3.4v3.4h-3.4zM1665.5 1657.3h3.4v3.4h-3.4zM1665.9 1659.1h3.4v3.4h-3.4zM1666.3 1663.4h3.4v3.4h-3.4zM1666.7 1655.1h3.4v3.4h-3.4zM1667.2 1657.7h3.4v3.4h-3.4zM1667.7 1656.6h3.4v3.4h-3.4zM1668.3 1653.6h3.4v3.4h-3.4zM1668.8 1655.2h3.4v3.4h-3.4zM1669.3 1648.0h3.4v3.4h-3.4zM1669.7 1656.3h3.4v3.4h-3.4zM1670.2 1653.0h3.4v3.4h-3.4zM1670.8 1652.6h3.4v3.4h-3.4zM1671.3 1652.0h3.4v3.4h-3.4zM1672.2 1649.9h3.4v3.4h-3.4zM1673.0 1646.8h3.4v3.4h-3.4zM1673.6 1652.4h3.4v3.4h-3.4zM1674.3 1652.1h3.4v3.4h-3.4zM1674.9 1655.6h3.4v3.4h-3.4zM1675.7 1658.8h3.4v3.4h-3.4zM1676.3 1654.8h3.4v3.4h-3.4zM1677.1 1661.5h3.4v3.4h-3.4zM1677.9 1659.2h3.4v3.4h-3.4zM1678.4 1660.9h3.4v3.4h-3.4zM1678.8 1652.6h3.4v3.4h-3.4zM1679.6 1657.3h3.4v3.4h-3.4zM1680.7 1655.4h3.4v3.4h-3.4zM1681.5 1649.0h3.4v3.4h-3.4zM1682.6 1657.1h3.4v3.4h-3.4zM1683.0 1665.4h3.4v3.4h-3.4zM1683.7 1664.1h3.4v3.4h-3.4zM1684.0 1672.4h3.4v3.4h-3.4zM1684.5 1672.1h3.4v3.4h-3.4zM1685.0 1669.0h3.4v3.4h-3.4zM1685.3 1677.3h3.4v3.4h-3.4zM1685.8 1677.4h3.4v3.4h-3.4zM1686.5 1681.3h3.4v3.4h-3.4zM1687.1 1677.2h3.4v3.4h-3.4zM1688.0 1676.6h3.4v3.4h-3.4zM1688.5 1669.3h3.4v3.4h-3.4zM1689.3 1670.8h3.4v3.4h-3.4zM1689.8 1666.3h3.4v3.4h-3.4zM1690.4 1670.8h3.4v3.4h-3.4zM1691.0 1664.6h3.4v3.4h-3.4zM1691.6 1666.1h3.4v3.4h-3.4zM1692.1 1660.7h3.4v3.4h-3.4zM1692.6 1669.0h3.4v3.4h-3.4zM1693.1 1662.8h3.4v3.4h-3.4zM1694.0 1659.9h3.4v3.4h-3.4zM1694.3 1651.6h3.4v3.4h-3.4zM1695.3 1645.2h3.4v3.4h-3.4zM1696.2 1648.6h3.4v3.4h-3.4zM1696.8 1642.5h3.4v3.4h-3.4zM1697.7 1648.6h3.4v3.4h-3.4zM1698.8 1650.0h3.4v3.4h-3.4zM1699.3 1647.9h3.4v3.4h-3.4zM1699.8 1656.2h3.4v3.4h-3.4zM1700.5 1649.6h3.4v3.4h-3.4zM1700.8 1657.9h3.4v3.4h-3.4zM1701.2 1660.9h3.4v3.4h-3.4zM1701.8 1656.3h3.4v3.4h-3.4zM1702.2 1664.6h3.4v3.4h-3.4zM1703.7 1665.7h3.4v3.4h-3.4zM1704.5 1665.4h3.4v3.4h-3.4zM1705.4 1662.2h3.4v3.4h-3.4zM1706.2 1663.7h3.4v3.4h-3.4zM1707.2 1666.7h3.4v3.4h-3.4zM1708.0 1667.7h3.4v3.4h-3.4zM1708.5 1668.1h3.4v3.4h-3.4zM1709.0 1668.1h3.4v3.4h-3.4zM1709.4 1676.4h3.4v3.4h-3.4zM1710.1 1682.2h3.4v3.4h-3.4zM1710.8 1687.1h3.4v3.4h-3.4zM1711.4 1686.2h3.4v3.4h-3.4zM1711.9 1692.9h3.4v3.4h-3.4zM1712.4 1684.6h3.4v3.4h-3.4zM1712.8 1692.9h3.4v3.4h-3.4zM1713.4 1694.7h3.4v3.4h-3.4zM1714.3 1694.1h3.4v3.4h-3.4zM1714.9 1686.6h3.4v3.4h-3.4zM1715.4 1694.8h3.4v3.4h-3.4zM1715.9 1686.6h3.4v3.4h-3.4zM1716.5 1688.7h3.4v3.4h-3.4zM1716.7 1685.1h3.4v3.4h-3.4zM1717.1 1676.9h3.4v3.4h-3.4zM1718.0 1668.6h3.4v3.4h-3.4zM1718.3 1660.4h3.4v3.4h-3.4zM1719.1 1652.1h3.4v3.4h-3.4zM1719.5 1643.8h3.4v3.4h-3.4zM1720.3 1643.6h3.4v3.4h-3.4zM1720.6 1635.3h3.4v3.4h-3.4zM1721.0 1631.8h3.4v3.4h-3.4zM1721.4 1640.1h3.4v3.4h-3.4zM1722.1 1635.5h3.4v3.4h-3.4zM1722.5 1643.8h3.4v3.4h-3.4zM1722.9 1643.5h3.4v3.4h-3.4zM1723.4 1641.3h3.4v3.4h-3.4zM1723.8 1649.6h3.4v3.4h-3.4zM1724.5 1646.3h3.4v3.4h-3.4zM1724.9 1654.6h3.4v3.4h-3.4zM1725.9 1662.0h3.4v3.4h-3.4zM1726.6 1665.4h3.4v3.4h-3.4zM1727.1 1663.3h3.4v3.4h-3.4zM1727.6 1663.7h3.4v3.4h-3.4zM1728.0 1655.4h3.4v3.4h-3.4zM1728.8 1654.5h3.4v3.4h-3.4zM1729.3 1646.5h3.4v3.4h-3.4zM1730.2 1643.7h3.4v3.4h-3.4zM1730.5 1639.3h3.4v3.4h-3.4zM1731.0 1647.6h3.4v3.4h-3.4zM1731.6 1641.9h3.4v3.4h-3.4zM1732.1 1649.0h3.4v3.4h-3.4zM1733.0 1652.0h3.4v3.4h-3.4zM1733.6 1657.5h3.4v3.4h-3.4zM1734.2 1658.4h3.4v3.4h-3.4zM1734.7 1663.6h3.4v3.4h-3.4zM1735.3 1656.5h3.4v3.4h-3.4zM1735.6 1664.8h3.4v3.4h-3.4zM1736.1 1666.4h3.4v3.4h-3.4zM1736.7 1664.3h3.4v3.4h-3.4zM1737.6 1666.0h3.4v3.4h-3.4zM1738.2 1673.5h3.4v3.4h-3.4zM1739.0 1680.0h3.4v3.4h-3.4zM1739.7 1681.7h3.4v3.4h-3.4zM1740.2 1678.1h3.4v3.4h-3.4zM1740.7 1684.2h3.4v3.4h-3.4zM1741.2 1675.9h3.4v3.4h-3.4zM1742.0 1677.9h3.4v3.4h-3.4zM1742.9 1673.4h3.4v3.4h-3.4zM1743.3 1673.4h3.4v3.4h-3.4zM1743.8 1671.0h3.4v3.4h-3.4zM1744.2 1679.3h3.4v3.4h-3.4zM1744.6 1674.0h3.4v3.4h-3.4zM1745.2 1675.0h3.4v3.4h-3.4zM1745.9 1672.3h3.4v3.4h-3.4zM1746.4 1675.7h3.4v3.4h-3.4zM1747.3 1673.8h3.4v3.4h-3.4zM1747.8 1682.1h3.4v3.4h-3.4zM1748.1 1674.2h3.4v3.4h-3.4zM1748.3 1665.9h3.4v3.4h-3.4zM1749.0 1658.0h3.4v3.4h-3.4zM1749.4 1649.7h3.4v3.4h-3.4zM1749.8 1644.7h3.4v3.4h-3.4zM1750.4 1646.0h3.4v3.4h-3.4zM1750.7 1637.7h3.4v3.4h-3.4zM1751.6 1630.4h3.4v3.4h-3.4zM1752.5 1630.6h3.4v3.4h-3.4zM1753.4 1630.9h3.4v3.4h-3.4zM1754.0 1635.5h3.4v3.4h-3.4zM1754.8 1632.4h3.4v3.4h-3.4zM1756.3 1629.3h3.4v3.4h-3.4zM1756.8 1621.0h3.4v3.4h-3.4zM1757.5 1623.2h3.4v3.4h-3.4zM1757.9 1614.9h3.4v3.4h-3.4zM1758.5 1614.6h3.4v3.4h-3.4zM1758.9 1611.4h3.4v3.4h-3.4zM1759.4 1605.3h3.4v3.4h-3.4zM1760.3 1603.1h3.4v3.4h-3.4zM1761.1 1607.3h3.4v3.4h-3.4zM1761.7 1599.4h3.4v3.4h-3.4zM1762.4 1605.5h3.4v3.4h-3.4zM1763.2 1608.9h3.4v3.4h-3.4zM1764.1 1609.4h3.4v3.4h-3.4zM1764.8 1617.2h3.4v3.4h-3.4zM1765.6 1623.7h3.4v3.4h-3.4zM1766.3 1622.3h3.4v3.4h-3.4zM1766.9 1627.4h3.4v3.4h-3.4zM1767.5 1625.7h3.4v3.4h-3.4zM1768.0 1631.4h3.4v3.4h-3.4zM1768.5 1630.4h3.4v3.4h-3.4zM1769.0 1629.2h3.4v3.4h-3.4zM1769.5 1636.6h3.4v3.4h-3.4zM1770.4 1633.1h3.4v3.4h-3.4zM1770.9 1624.8h3.4v3.4h-3.4zM1771.9 1619.5h3.4v3.4h-3.4zM1772.3 1611.2h3.4v3.4h-3.4zM1773.2 1606.8h3.4v3.4h-3.4zM1773.5 1598.5h3.4v3.4h-3.4zM1774.1 1597.3h3.4v3.4h-3.4zM1775.0 1596.6h3.4v3.4h-3.4zM1775.3 1604.8h3.4v3.4h-3.4zM1776.1 1605.1h3.4v3.4h-3.4zM1777.0 1611.3h3.4v3.4h-3.4zM1777.6 1617.9h3.4v3.4h-3.4zM1778.1 1621.1h3.4v3.4h-3.4zM1778.9 1622.8h3.4v3.4h-3.4zM1779.6 1617.1h3.4v3.4h-3.4zM1780.8 1610.7h3.4v3.4h-3.4zM1781.5 1614.4h3.4v3.4h-3.4zM1782.0 1606.1h3.4v3.4h-3.4zM1782.9 1599.6h3.4v3.4h-3.4zM1783.4 1595.7h3.4v3.4h-3.4zM1783.9 1602.0h3.4v3.4h-3.4zM1784.2 1593.7h3.4v3.4h-3.4zM1784.5 1588.4h3.4v3.4h-3.4zM1785.1 1596.4h3.4v3.4h-3.4zM1785.9 1600.7h3.4v3.4h-3.4zM1786.4 1605.8h3.4v3.4h-3.4zM1787.0 1604.3h3.4v3.4h-3.4zM1787.4 1612.6h3.4v3.4h-3.4zM1788.2 1612.9h3.4v3.4h-3.4zM1789.3 1620.8h3.4v3.4h-3.4zM1789.7 1629.1h3.4v3.4h-3.4zM1790.4 1627.4h3.4v3.4h-3.4zM1790.6 1634.1h3.4v3.4h-3.4zM1791.3 1639.7h3.4v3.4h-3.4zM1792.0 1644.3h3.4v3.4h-3.4zM1792.5 1648.4h3.4v3.4h-3.4zM1793.2 1656.1h3.4v3.4h-3.4zM1793.8 1659.7h3.4v3.4h-3.4zM1794.3 1665.2h3.4v3.4h-3.4zM1795.0 1668.8h3.4v3.4h-3.4zM1795.6 1674.3h3.4v3.4h-3.4zM1796.1 1679.4h3.4v3.4h-3.4zM1796.5 1672.1h3.4v3.4h-3.4zM1797.1 1677.9h3.4v3.4h-3.4zM1797.7 1670.7h3.4v3.4h-3.4zM1798.1 1679.0h3.4v3.4h-3.4zM1798.7 1676.2h3.4v3.4h-3.4zM1799.4 1679.1h3.4v3.4h-3.4zM1800.4 1687.3h3.4v3.4h-3.4zM1801.1 1695.5h3.4v3.4h-3.4zM1801.3 1691.9h3.4v3.4h-3.4zM1801.6 1700.2h3.4v3.4h-3.4zM1802.0 1707.2h3.4v3.4h-3.4zM1802.7 1712.5h3.4v3.4h-3.4zM1803.1 1720.5h3.4v3.4h-3.4zM1804.3 1713.4h3.4v3.4h-3.4zM1804.5 1705.1h3.4v3.4h-3.4zM1804.8 1696.8h3.4v3.4h-3.4zM1805.5 1698.7h3.4v3.4h-3.4zM1805.8 1690.4h3.4v3.4h-3.4zM1806.0 1682.7h3.4v3.4h-3.4zM1806.4 1691.0h3.4v3.4h-3.4zM1807.2 1687.5h3.4v3.4h-3.4zM1807.7 1693.7h3.4v3.4h-3.4zM1808.6 1695.0h3.4v3.4h-3.4zM1809.2 1701.9h3.4v3.4h-3.4zM1810.3 1701.4h3.4v3.4h-3.4zM1810.6 1693.1h3.4v3.4h-3.4zM1811.5 1685.0h3.4v3.4h-3.4zM1811.9 1676.7h3.4v3.4h-3.4zM1812.8 1669.2h3.4v3.4h-3.4zM1813.2 1660.9h3.4v3.4h-3.4zM1813.9 1661.5h3.4v3.4h-3.4zM1814.3 1653.2h3.4v3.4h-3.4zM1814.7 1655.1h3.4v3.4h-3.4zM1815.2 1658.7h3.4v3.4h-3.4zM1815.5 1650.4h3.4v3.4h-3.4zM1816.0 1653.1h3.4v3.4h-3.4zM1816.5 1653.7h3.4v3.4h-3.4zM1817.0 1649.8h3.4v3.4h-3.4zM1817.6 1652.5h3.4v3.4h-3.4zM1818.1 1644.8h3.4v3.4h-3.4zM1819.1 1641.7h3.4v3.4h-3.4zM1819.8 1646.0h3.4v3.4h-3.4zM1820.3 1639.6h3.4v3.4h-3.4zM1821.0 1642.6h3.4v3.4h-3.4zM1821.6 1634.9h3.4v3.4h-3.4zM1822.4 1632.8h3.4v3.4h-3.4zM1822.7 1624.5h3.4v3.4h-3.4zM1823.5 1619.2h3.4v3.4h-3.4zM1823.9 1610.9h3.4v3.4h-3.4zM1824.7 1612.9h3.4v3.4h-3.4zM1825.0 1604.6h3.4v3.4h-3.4zM1825.3 1597.8h3.4v3.4h-3.4zM1826.0 1599.4h3.4v3.4h-3.4zM1826.4 1591.1h3.4v3.4h-3.4zM1827.2 1592.7h3.4v3.4h-3.4zM1828.1 1587.2h3.4v3.4h-3.4zM1828.6 1580.2h3.4v3.4h-3.4zM1829.4 1578.8h3.4v3.4h-3.4zM1829.7 1579.2h3.4v3.4h-3.4zM1830.3 1574.3h3.4v3.4h-3.4zM1830.9 1570.2h3.4v3.4h-3.4zM1831.4 1565.6h3.4v3.4h-3.4zM1832.0 1565.9h3.4v3.4h-3.4zM1832.4 1557.6h3.4v3.4h-3.4zM1833.3 1556.4h3.4v3.4h-3.4zM1833.9 1555.7h3.4v3.4h-3.4zM1834.5 1555.7h3.4v3.4h-3.4zM1834.9 1549.2h3.4v3.4h-3.4zM1835.5 1553.6h3.4v3.4h-3.4zM1835.9 1545.4h3.4v3.4h-3.4zM1836.2 1548.3h3.4v3.4h-3.4zM1837.3 1555.9h3.4v3.4h-3.4zM1837.7 1564.2h3.4v3.4h-3.4zM1838.3 1569.8h3.4v3.4h-3.4zM1838.6 1578.1h3.4v3.4h-3.4zM1838.9 1586.4h3.4v3.4h-3.4zM1839.1 1590.4h3.4v3.4h-3.4zM1839.7 1597.9h3.4v3.4h-3.4zM1839.9 1606.1h3.4v3.4h-3.4zM1840.2 1614.4h3.4v3.4h-3.4zM1840.7 1607.3h3.4v3.4h-3.4zM1841.4 1609.2h3.4v3.4h-3.4zM1842.3 1607.0h3.4v3.4h-3.4zM1843.1 1603.8h3.4v3.4h-3.4zM1843.8 1606.6h3.4v3.4h-3.4zM1845.0 1605.8h3.4v3.4h-3.4zM1845.9 1614.0h3.4v3.4h-3.4zM1846.5 1622.2h3.4v3.4h-3.4zM1846.9 1622.3h3.4v3.4h-3.4zM1847.3 1630.6h3.4v3.4h-3.4zM1847.9 1627.2h3.4v3.4h-3.4zM1848.4 1630.8h3.4v3.4h-3.4zM1848.9 1633.0h3.4v3.4h-3.4zM1849.4 1629.9h3.4v3.4h-3.4zM1849.7 1638.2h3.4v3.4h-3.4zM1850.2 1634.7h3.4v3.4h-3.4zM1850.7 1635.4h3.4v3.4h-3.4zM1851.2 1641.4h3.4v3.4h-3.4zM1851.9 1639.1h3.4v3.4h-3.4zM1852.7 1642.5h3.4v3.4h-3.4zM1853.5 1634.5h3.4v3.4h-3.4zM1853.8 1626.2h3.4v3.4h-3.4zM1854.5 1626.7h3.4v3.4h-3.4zM1855.0 1621.1h3.4v3.4h-3.4zM1855.9 1615.1h3.4v3.4h-3.4zM1856.3 1606.8h3.4v3.4h-3.4zM1856.6 1610.5h3.4v3.4h-3.4zM1857.5 1611.5h3.4v3.4h-3.4zM1858.7 1612.9h3.4v3.4h-3.4zM1859.6 1616.8h3.4v3.4h-3.4zM1860.3 1617.7h3.4v3.4h-3.4zM1861.2 1619.2h3.4v3.4h-3.4zM1862.0 1626.3h3.4v3.4h-3.4zM1862.7 1623.5h3.4v3.4h-3.4zM1863.4 1621.2h3.4v3.4h-3.4zM1863.9 1620.2h3.4v3.4h-3.4zM1864.5 1619.6h3.4v3.4h-3.4zM1865.3 1616.5h3.4v3.4h-3.4zM1865.9 1610.2h3.4v3.4h-3.4zM1866.3 1613.1h3.4v3.4h-3.4zM1867.0 1609.6h3.4v3.4h-3.4zM1867.9 1603.7h3.4v3.4h-3.4zM1868.3 1595.4h3.4v3.4h-3.4zM1868.9 1598.4h3.4v3.4h-3.4zM1869.4 1593.8h3.4v3.4h-3.4zM1870.2 1586.6h3.4v3.4h-3.4zM1871.1 1591.7h3.4v3.4h-3.4zM1871.7 1594.8h3.4v3.4h-3.4zM1872.2 1596.6h3.4v3.4h-3.4zM1872.6 1604.9h3.4v3.4h-3.4zM1873.2 1600.3h3.4v3.4h-3.4zM1874.1 1592.3h3.4v3.4h-3.4zM1874.4 1584.1h3.4v3.4h-3.4zM1875.2 1582.7h3.4v3.4h-3.4zM1875.5 1574.4h3.4v3.4h-3.4zM1876.4 1568.4h3.4v3.4h-3.4zM1877.4 1563.3h3.4v3.4h-3.4zM1877.9 1555.1h3.4v3.4h-3.4zM1878.5 1561.7h3.4v3.4h-3.4zM1879.1 1559.8h3.4v3.4h-3.4zM1879.6 1563.9h3.4v3.4h-3.4zM1880.5 1566.1h3.4v3.4h-3.4zM1881.3 1572.1h3.4v3.4h-3.4zM1881.9 1576.1h3.4v3.4h-3.4zM1882.2 1584.4h3.4v3.4h-3.4zM1883.0 1584.9h3.4v3.4h-3.4zM1883.4 1593.2h3.4v3.4h-3.4zM1884.1 1586.6h3.4v3.4h-3.4zM1884.6 1594.9h3.4v3.4h-3.4zM1885.1 1588.5h3.4v3.4h-3.4zM1885.9 1589.5h3.4v3.4h-3.4zM1886.6 1584.5h3.4v3.4h-3.4zM1887.3 1587.0h3.4v3.4h-3.4zM1887.7 1582.8h3.4v3.4h-3.4zM1888.0 1591.1h3.4v3.4h-3.4zM1888.3 1599.4h3.4v3.4h-3.4zM1889.0 1598.2h3.4v3.4h-3.4zM1889.6 1601.7h3.4v3.4h-3.4zM1890.1 1596.9h3.4v3.4h-3.4zM1890.6 1605.2h3.4v3.4h-3.4zM1891.0 1598.5h3.4v3.4h-3.4zM1891.4 1597.2h3.4v3.4h-3.4zM1891.9 1602.8h3.4v3.4h-3.4zM1892.7 1597.8h3.4v3.4h-3.4zM1893.8 1599.9h3.4v3.4h-3.4zM1894.2 1608.2h3.4v3.4h-3.4zM1895.1 1616.4h3.4v3.4h-3.4zM1895.4 1624.7h3.4v3.4h-3.4zM1896.0 1621.1h3.4v3.4h-3.4zM1896.5 1627.9h3.4v3.4h-3.4zM1897.0 1623.7h3.4v3.4h-3.4zM1897.5 1624.2h3.4v3.4h-3.4zM1898.3 1626.7h3.4v3.4h-3.4zM1899.1 1621.7h3.4v3.4h-3.4zM1899.4 1613.4h3.4v3.4h-3.4zM1900.1 1605.2h3.4v3.4h-3.4zM1900.5 1601.3h3.4v3.4h-3.4zM1901.6 1593.6h3.4v3.4h-3.4zM1902.0 1585.3h3.4v3.4h-3.4zM1902.8 1585.3h3.4v3.4h-3.4zM1903.1 1577.0h3.4v3.4h-3.4zM1903.9 1573.6h3.4v3.4h-3.4zM1904.5 1566.4h3.4v3.4h-3.4zM1905.4 1565.7h3.4v3.4h-3.4zM1906.4 1562.3h3.4v3.4h-3.4zM1907.1 1559.9h3.4v3.4h-3.4zM1907.8 1557.8h3.4v3.4h-3.4zM1908.7 1557.1h3.4v3.4h-3.4zM1909.6 1555.3h3.4v3.4h-3.4zM1910.3 1550.2h3.4v3.4h-3.4zM1911.1 1552.8h3.4v3.4h-3.4zM1911.6 1544.5h3.4v3.4h-3.4zM1912.4 1546.8h3.4v3.4h-3.4zM1912.9 1540.7h3.4v3.4h-3.4zM1913.6 1544.6h3.4v3.4h-3.4zM1914.2 1539.7h3.4v3.4h-3.4zM1914.8 1538.6h3.4v3.4h-3.4zM1915.6 1541.1h3.4v3.4h-3.4zM1916.2 1541.2h3.4v3.4h-3.4zM1916.8 1544.8h3.4v3.4h-3.4zM1917.4 1546.8h3.4v3.4h-3.4zM1918.1 1549.2h3.4v3.4h-3.4zM1918.9 1546.9h3.4v3.4h-3.4zM1919.3 1555.2h3.4v3.4h-3.4zM1919.8 1553.4h3.4v3.4h-3.4zM1920.4 1554.9h3.4v3.4h-3.4zM1921.0 1555.6h3.4v3.4h-3.4zM1921.6 1559.8h3.4v3.4h-3.4zM1922.1 1558.7h3.4v3.4h-3.4zM1922.7 1557.1h3.4v3.4h-3.4zM1923.3 1559.2h3.4v3.4h-3.4zM1923.9 1560.1h3.4v3.4h-3.4zM1924.2 1568.3h3.4v3.4h-3.4zM1924.6 1560.7h3.4v3.4h-3.4zM1925.4 1562.2h3.4v3.4h-3.4zM1925.8 1554.9h3.4v3.4h-3.4zM1926.5 1549.8h3.4v3.4h-3.4zM1927.2 1545.4h3.4v3.4h-3.4zM1927.8 1553.7h3.4v3.4h-3.4zM1928.5 1547.6h3.4v3.4h-3.4zM1928.9 1555.9h3.4v3.4h-3.4zM1929.8 1553.6h3.4v3.4h-3.4zM1930.4 1556.7h3.4v3.4h-3.4zM1931.0 1552.6h3.4v3.4h-3.4zM1931.5 1557.9h3.4v3.4h-3.4zM1931.9 1549.6h3.4v3.4h-3.4zM1932.7 1549.1h3.4v3.4h-3.4zM1933.0 1540.8h3.4v3.4h-3.4zM1933.8 1535.3h3.4v3.4h-3.4zM1934.3 1527.3h3.4v3.4h-3.4zM1934.7 1531.6h3.4v3.4h-3.4zM1935.0 1539.9h3.4v3.4h-3.4zM1936.0 1541.8h3.4v3.4h-3.4zM1936.9 1545.5h3.4v3.4h-3.4zM1937.2 1553.8h3.4v3.4h-3.4zM1937.4 1562.1h3.4v3.4h-3.4zM1937.8 1570.4h3.4v3.4h-3.4zM1938.1 1578.7h3.4v3.4h-3.4zM1938.5 1587.0h3.4v3.4h-3.4zM1939.1 1584.3h3.4v3.4h-3.4zM1939.5 1587.9h3.4v3.4h-3.4zM1939.9 1595.8h3.4v3.4h-3.4zM1940.6 1591.3h3.4v3.4h-3.4zM1941.0 1599.6h3.4v3.4h-3.4zM1941.3 1603.1h3.4v3.4h-3.4zM1941.8 1602.5h3.4v3.4h-3.4zM1942.4 1610.7h3.4v3.4h-3.4zM1943.3 1618.3h3.4v3.4h-3.4zM1944.0 1614.9h3.4v3.4h-3.4zM1944.4 1622.9h3.4v3.4h-3.4zM1945.3 1625.3h3.4v3.4h-3.4zM1945.7 1633.6h3.4v3.4h-3.4zM1946.7 1636.1h3.4v3.4h-3.4zM1947.0 1644.4h3.4v3.4h-3.4zM1947.9 1652.0h3.4v3.4h-3.4zM1948.2 1660.3h3.4v3.4h-3.4zM1948.8 1666.8h3.4v3.4h-3.4zM1949.2 1674.3h3.4v3.4h-3.4zM1950.2 1680.2h3.4v3.4h-3.4zM1950.5 1688.5h3.4v3.4h-3.4zM1951.1 1688.1h3.4v3.4h-3.4zM1951.7 1696.4h3.4v3.4h-3.4zM1952.9 1699.7h3.4v3.4h-3.4zM1953.4 1691.4h3.4v3.4h-3.4zM1953.6 1683.1h3.4v3.4h-3.4zM1954.6 1684.2h3.4v3.4h-3.4zM1955.7 1683.7h3.4v3.4h-3.4zM1956.5 1681.9h3.4v3.4h-3.4zM1957.2 1676.8h3.4v3.4h-3.4zM1958.2 1674.5h3.4v3.4h-3.4zM1958.8 1678.4h3.4v3.4h-3.4zM1959.3 1677.1h3.4v3.4h-3.4zM1959.7 1670.0h3.4v3.4h-3.4zM1960.2 1678.3h3.4v3.4h-3.4zM1960.8 1670.7h3.4v3.4h-3.4zM1962.1 1678.8h3.4v3.4h-3.4zM1962.5 1687.1h3.4v3.4h-3.4zM1963.3 1691.5h3.4v3.4h-3.4zM1964.0 1694.0h3.4v3.4h-3.4zM1964.4 1685.7h3.4v3.4h-3.4zM1965.1 1691.4h3.4v3.4h-3.4zM1965.4 1683.1h3.4v3.4h-3.4zM1966.3 1674.9h3.4v3.4h-3.4zM1966.5 1666.6h3.4v3.4h-3.4zM1966.8 1658.3h3.4v3.4h-3.4zM1967.8 1651.6h3.4v3.4h-3.4zM1968.2 1647.7h3.4v3.4h-3.4z" fill="#808080"/>
<polyline points="1953.4,1078.0 1957.3,1080.0 1960.2,1084.8 1963.1,1088.7 1965.0,1110.1 1968.0,1115.9 1969.9,1123.7 1970.9,1147.0" fill="none" stroke="#1f77b4" stroke-width="3.1" stroke-linejoin="round"/>
<polyline points="1952.4,1076.5 1972.4,1076.5" fill="none" stroke="#ff7f0e" stroke-width="3.3" stroke-linejoin="round"/>
<polyline points="1953.4,1693.6 1956.3,1696.5 1959.2,1700.4 1961.2,1690.7 1964.1,1684.9 1967.0,1679.0 1968.9,1659.6 1970.9,1642.2" fill="none" stroke="#1f77b4" stroke-width="3.1" stroke-linejoin="round"/>
<polyline points="1952.4,1695.2 1972.4,1695.2" fill="none" stroke="#ff7f0e" stroke-width="3.3" stroke-linejoin="round"/>
<rect x="1163.7" y="1046.2" width="845.8" height="374.4" fill="none" stroke="#000" stroke-width="1.67" stroke-linejoin="miter"/>
<rect x="1163.6" y="1513.8" width="845.9" height="373.5" fill="none" stroke="#000" stroke-width="1.67" stroke-linejoin="miter"/>
<path d="M1163.7 1366.2h-7.3M1163.7 1243.9h-7.3M1163.7 1122h-7.3" stroke="#000" stroke-width="1.67"/>
<text x="1148.1" y="1378.4" font-size="33.3" text-anchor="end">20</text>
<text x="1148.1" y="1256.1" font-size="33.3" text-anchor="end">30</text>
<text x="1148.1" y="1134.2" font-size="33.3" text-anchor="end">40</text>
<path d="M1163.6 1848.7h-7.3M1163.6 1760.6h-7.3M1163.6 1672.4h-7.3M1163.6 1584.2h-7.3" stroke="#000" stroke-width="1.67"/>
<text x="1148" y="1860.9" font-size="33.3" text-anchor="end">30</text>
<text x="1148" y="1772.8" font-size="33.3" text-anchor="end">40</text>
<text x="1148" y="1684.6" font-size="33.3" text-anchor="end">50</text>
<text x="1148" y="1596.4" font-size="33.3" text-anchor="end">60</text>
<path d="M1164.5 1420.6v3.8M1183.2 1420.6v3.8M1201.3 1420.6v3.8M1219.9 1420.6v3.8M1238.6 1420.6v3.8M1256.7 1420.6v3.8M1275.4 1420.6v3.8M1293.4 1420.6v3.8M1330.8 1420.6v3.8M1347.6 1420.6v3.8M1366.3 1420.6v3.8M1384.4 1420.6v3.8M1403.1 1420.6v3.8M1421.1 1420.6v3.8M1439.8 1420.6v3.8M1458.5 1420.6v3.8M1476.5 1420.6v3.8M1495.2 1420.6v3.8M1513.3 1420.6v3.8M1550.6 1420.6v3.8M1568.1 1420.6v3.8M1586.8 1420.6v3.8M1604.9 1420.6v3.8M1623.5 1420.6v3.8M1641.6 1420.6v3.8M1660.3 1420.6v3.8M1678.9 1420.6v3.8M1697 1420.6v3.8M1715.7 1420.6v3.8M1733.8 1420.6v3.8M1771.1 1420.6v3.8M1788 1420.6v3.8M1806.6 1420.6v3.8M1824.7 1420.6v3.8M1843.4 1420.6v3.8M1861.5 1420.6v3.8M1880.1 1420.6v3.8M1898.8 1420.6v3.8M1916.9 1420.6v3.8M1935.6 1420.6v3.8M1953.6 1420.6v3.8M1991 1420.6v3.8M2007.8 1420.6v3.8" stroke="#000" stroke-width="1.25"/>
<path d="M1312.1 1420.6v7.3M1532 1420.6v7.3M1752.4 1420.6v7.3M1972.3 1420.6v7.3" stroke="#000" stroke-width="1.67"/>
<text x="1201.3" y="1458" font-size="33.3" text-anchor="middle">Jul</text>
<text x="1421.1" y="1458" font-size="33.3" text-anchor="middle">Jul</text>
<text x="1641.6" y="1458" font-size="33.3" text-anchor="middle">Jul</text>
<text x="1861.5" y="1458" font-size="33.3" text-anchor="middle">Jul</text>
<text x="1312.1" y="1461.1" font-size="33.3" text-anchor="middle">Jan</text>
<text x="1312.1" y="1498.1" font-size="33.3" text-anchor="middle">2019</text>
<text x="1532" y="1461.1" font-size="33.3" text-anchor="middle">Jan</text>
<text x="1532" y="1498.1" font-size="33.3" text-anchor="middle">2020</text>
<text x="1752.4" y="1461.1" font-size="33.3" text-anchor="middle">Jan</text>
<text x="1752.4" y="1498.1" font-size="33.3" text-anchor="middle">2021</text>
<text x="1972.3" y="1461.1" font-size="33.3" text-anchor="middle">Jan</text>
<text x="1972.3" y="1498.1" font-size="33.3" text-anchor="middle">2022</text>
<path d="M1201 1887.3v3.8M1253.9 1887.3v3.8M1358.6 1887.3v3.8M1410.9 1887.3v3.8M1463.8 1887.3v3.8M1569 1887.3v3.8M1621.4 1887.3v3.8M1674.3 1887.3v3.8M1778.9 1887.3v3.8M1831.3 1887.3v3.8M1884.2 1887.3v3.8M1988.9 1887.3v3.8" stroke="#000" stroke-width="1.25"/>
<path d="M1306.8 1887.3v7.3M1516.7 1887.3v7.3M1727.2 1887.3v7.3M1937.1 1887.3v7.3" stroke="#000" stroke-width="1.67"/>
<text x="1306.8" y="1928.1" font-size="33.3" text-anchor="middle">2019</text>
<text x="1516.7" y="1928.1" font-size="33.3" text-anchor="middle">2020</text>
<text x="1727.2" y="1928.1" font-size="33.3" text-anchor="middle">2021</text>
<text x="1937.1" y="1928.1" font-size="33.3" text-anchor="middle">2022</text>
<rect x="1348.9" y="1978.9" width="474" height="57.6" rx="6.6" fill="#fff" stroke="#ccc" stroke-width="1.67"/>
<path d="M1360.6 2005.7H1430.2" stroke="#1f77b4" stroke-width="3.1"/>
<path d="M1623.9 2005.7H1693.8" stroke="#ff7f0e" stroke-width="3.1"/>
<text x="1454" y="2017.6" font-size="33.3" text-anchor="start">model</text>
<text x="1718.6" y="2017.6" font-size="33.3" text-anchor="start">naive</text>
<g transform="translate(60 264.6) rotate(-90)"><text x="0" y="0" font-size="40">R</text><text x="27" y="-14.9" font-size="28">2</text></g>
<g transform="translate(1090.9 245.7) rotate(-90)"><text x="0" y="0" font-size="40" text-anchor="middle">MSE</text></g>
<g transform="translate(39.3 827) rotate(-90)"><text x="4" y="0" font-size="40">R</text><text x="31.6" y="-15.4" font-size="28">2</text><text x="51" y="6" font-size="28" font-style="italic">model</text><text x="152.6" y="0" font-size="40">-</text><text x="179.4" y="0" font-size="40">R</text><text x="207.8" y="-15.4" font-size="28">2</text><text x="227.5" y="6" font-size="28" font-style="italic">naive</text></g>
<g transform="translate(1081.4 866.6) rotate(-90)"><text x="5" y="0" font-size="40">MSE</text><text x="89.4" y="6.1" font-size="28" font-style="italic">naive</text><text x="180.8" y="0" font-size="40">-</text><text x="209" y="0" font-size="40">MSE</text><text x="294.3" y="6.1" font-size="28" font-style="italic">model</text></g>
<g transform="translate(64.7 1471) rotate(-90)"><text x="0" y="0" font-size="40" text-anchor="middle">Forecast</text></g>
<g transform="translate(1072.9 1479.3) rotate(-90)"><text x="0" y="0" font-size="33.3" text-anchor="middle">% of people with insufficient food consumption</text></g>
<text x="19" y="37.4" font-size="45.8" text-anchor="start" font-weight="bold">a</text>
<text x="1035.3" y="37.4" font-size="45.8" text-anchor="start" font-weight="bold">b</text>
<text x="19" y="467.8" font-size="45.8" text-anchor="start" font-weight="bold">c</text>
<text x="1035.5" y="467.3" font-size="45.8" text-anchor="start" font-weight="bold">d</text>
<text x="19" y="1046.2" font-size="45.8" text-anchor="start" font-weight="bold">e</text>
<text x="1036" y="1046.2" font-size="45.8" text-anchor="start" font-weight="bold">f</text>
</svg>
</body></html>
